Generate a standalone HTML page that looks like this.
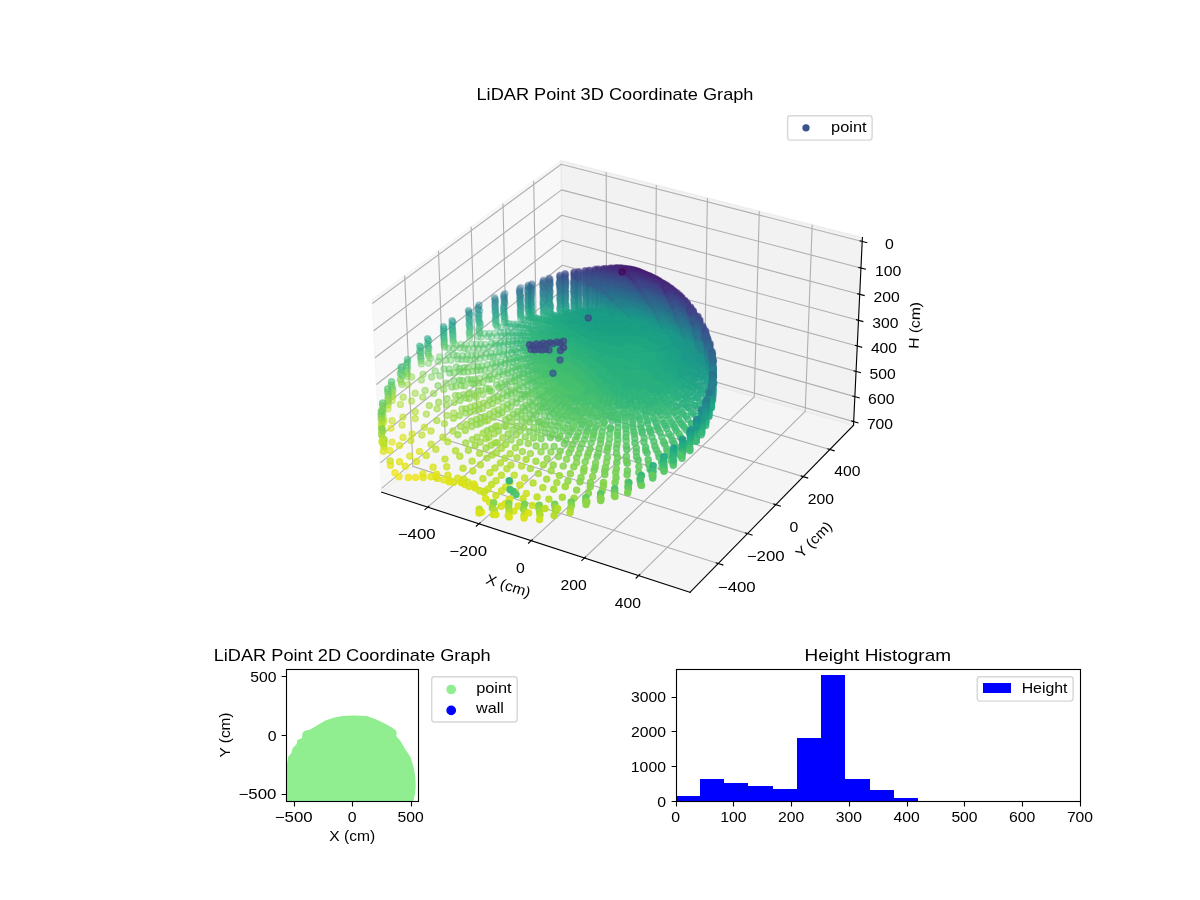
<!DOCTYPE html><html><head><meta charset="utf-8"><title>LiDAR</title><style>html,body{margin:0;padding:0;background:#fff}svg{display:block;will-change:transform}text{font-family:"Liberation Sans",sans-serif;fill:#000}
circle{stroke-width:1.39px}.c0{fill:#450457;stroke:#450457}.c1{fill:#460a5d;stroke:#460a5d}.c2{fill:#471164;stroke:#471164}.c3{fill:#48186a;stroke:#48186a}.c4{fill:#481d6f;stroke:#481d6f}.c5{fill:#482475;stroke:#482475}.c6{fill:#482979;stroke:#482979}.c7{fill:#472f7d;stroke:#472f7d}.c8{fill:#463480;stroke:#463480}.c9{fill:#443a83;stroke:#443a83}.c10{fill:#424086;stroke:#424086}.c11{fill:#404588;stroke:#404588}.c12{fill:#3e4a89;stroke:#3e4a89}.c13{fill:#3c4f8a;stroke:#3c4f8a}.c14{fill:#3a548c;stroke:#3a548c}.c15{fill:#38598c;stroke:#38598c}.c16{fill:#355e8d;stroke:#355e8d}.c17{fill:#33638d;stroke:#33638d}.c18{fill:#31678e;stroke:#31678e}.c19{fill:#2f6c8e;stroke:#2f6c8e}.c20{fill:#2d708e;stroke:#2d708e}.c21{fill:#2b748e;stroke:#2b748e}.c22{fill:#2a788e;stroke:#2a788e}.c23{fill:#287d8e;stroke:#287d8e}.c24{fill:#26828e;stroke:#26828e}.c25{fill:#25858e;stroke:#25858e}.c26{fill:#238a8d;stroke:#238a8d}.c27{fill:#218e8d;stroke:#218e8d}.c28{fill:#20928c;stroke:#20928c}.c29{fill:#1f968b;stroke:#1f968b}.c30{fill:#1e9b8a;stroke:#1e9b8a}.c31{fill:#1fa088;stroke:#1fa088}.c32{fill:#20a386;stroke:#20a386}.c33{fill:#22a884;stroke:#22a884}.c34{fill:#25ac82;stroke:#25ac82}.c35{fill:#2ab07f;stroke:#2ab07f}.c36{fill:#2fb47c;stroke:#2fb47c}.c37{fill:#37b878;stroke:#37b878}.c38{fill:#3fbc73;stroke:#3fbc73}.c39{fill:#46c06f;stroke:#46c06f}.c40{fill:#50c46a;stroke:#50c46a}.c41{fill:#58c765;stroke:#58c765}.c42{fill:#63cb5f;stroke:#63cb5f}.c43{fill:#6ccd5a;stroke:#6ccd5a}.c44{fill:#77d153;stroke:#77d153}.c45{fill:#84d44b;stroke:#84d44b}.c46{fill:#8ed645;stroke:#8ed645}.c47{fill:#9bd93c;stroke:#9bd93c}.c48{fill:#a5db36;stroke:#a5db36}.c49{fill:#b2dd2d;stroke:#b2dd2d}.c50{fill:#bddf26;stroke:#bddf26}.c51{fill:#cae11f;stroke:#cae11f}.c52{fill:#d8e219;stroke:#d8e219}.c53{fill:#e2e418;stroke:#e2e418}.c54{fill:#efe51c;stroke:#efe51c}.c55{fill:#f8e621;stroke:#f8e621}.a0{fill-opacity:0.329;stroke-opacity:0.329}.a1{fill-opacity:0.387;stroke-opacity:0.387}.a2{fill-opacity:0.446;stroke-opacity:0.446}.a3{fill-opacity:0.504;stroke-opacity:0.504}.a4{fill-opacity:0.562;stroke-opacity:0.562}.a5{fill-opacity:0.621;stroke-opacity:0.621}.a6{fill-opacity:0.679;stroke-opacity:0.679}.a7{fill-opacity:0.738;stroke-opacity:0.738}.a8{fill-opacity:0.796;stroke-opacity:0.796}.a9{fill-opacity:0.854;stroke-opacity:0.854}.a10{fill-opacity:0.912;stroke-opacity:0.912}.a11{fill-opacity:0.971;stroke-opacity:0.971}
</style></head><body><svg width="1200" height="900" viewBox="0 0 1200 900">
<rect width="1200" height="900" fill="#fff"/>
<polygon points="372.1,299.6 561.1,160.6 563.3,341.8 381.7,492.2" fill="#f2f2f2" fill-opacity="0.5" stroke="#f2f2f2" stroke-opacity="0.5" stroke-width="1.4" stroke-linejoin="round"/>
<polygon points="561.1,160.6 862.4,237.6 853.5,425.3 563.3,341.8" fill="#e6e6e6" fill-opacity="0.5" stroke="#e6e6e6" stroke-opacity="0.5" stroke-width="1.4" stroke-linejoin="round"/>
<polygon points="381.7,492.2 690.1,592.3 853.5,425.3 563.3,341.8" fill="#ececec" fill-opacity="0.5" stroke="#ececec" stroke-opacity="0.5" stroke-width="1.4" stroke-linejoin="round"/>
<g fill="none" stroke="#b0b0b0" stroke-width="1.11" stroke-linejoin="round">
<polyline points="427.7,507.1 606.7,354.3 606.2,172.1"/>
<polyline points="479,523.8 655.1,368.2 656.3,184.9"/>
<polyline points="531.2,540.7 704.3,382.4 707.4,198"/>
<polyline points="584.4,558 754.3,396.8 759.3,211.3"/>
<polyline points="638.6,575.6 805.2,411.4 812.2,224.8"/>
<polyline points="404.7,275.6 412.9,466.4 718.2,563.5"/>
<polyline points="438.5,250.8 445.3,439.5 747.5,533.6"/>
<polyline points="471.2,226.7 476.8,413.5 775.8,504.7"/>
<polyline points="503,203.4 507.3,388.2 803.2,476.6"/>
<polyline points="533.7,180.8 536.9,363.7 829.8,449.5"/>
<polyline points="862.2,241.5 561.2,164.3 372.3,303.5"/>
<polyline points="860.9,268 561.5,189.9 373.7,330.8"/>
<polyline points="859.7,294.3 561.8,215.3 375,357.8"/>
<polyline points="858.5,320.3 562.1,240.3 376.4,384.5"/>
<polyline points="857.2,346 562.4,265.2 377.7,410.9"/>
<polyline points="856,371.4 562.7,289.8 379,437"/>
<polyline points="854.8,396.6 563,314.1 380.3,462.9"/>
<polyline points="853.6,421.6 563.2,338.2 381.6,488.4"/>
</g>
<g fill="none" stroke="#000" stroke-width="1.11" stroke-linecap="square">
<polyline points="381.7,492.2 690.1,592.3"/>
<polyline points="853.5,425.3 690.1,592.3"/>
<polyline points="853.5,425.3 862.4,237.6"/>
<polyline stroke-linecap="butt" points="429.3,505.8 424.6,509.8"/>
<polyline stroke-linecap="butt" points="480.5,522.4 475.9,526.5"/>
<polyline stroke-linecap="butt" points="532.7,539.3 528.1,543.5"/>
<polyline stroke-linecap="butt" points="585.9,556.6 581.4,560.8"/>
<polyline stroke-linecap="butt" points="640.1,574.1 635.7,578.5"/>
<polyline stroke-linecap="butt" points="715.7,562.7 723.4,565.1"/>
<polyline stroke-linecap="butt" points="744.9,532.8 752.6,535.2"/>
<polyline stroke-linecap="butt" points="773.3,503.9 780.9,506.2"/>
<polyline stroke-linecap="butt" points="800.7,475.9 808.2,478.1"/>
<polyline stroke-linecap="butt" points="827.4,448.8 834.7,450.9"/>
<polyline stroke-linecap="butt" points="859.6,240.8 867.3,242.8"/>
<polyline stroke-linecap="butt" points="858.4,267.4 866,269.3"/>
<polyline stroke-linecap="butt" points="857.2,293.6 864.7,295.6"/>
<polyline stroke-linecap="butt" points="856,319.6 863.4,321.6"/>
<polyline stroke-linecap="butt" points="854.8,345.3 862.2,347.4"/>
<polyline stroke-linecap="butt" points="853.6,370.8 861,372.8"/>
<polyline stroke-linecap="butt" points="852.4,396 859.8,398"/>
<polyline stroke-linecap="butt" points="851.2,420.9 858.5,423"/>
</g>
<g class=a0><g class=c12><circle r=3.02 cx=560.2 cy=275.1 /><circle r=3.02 cx=565.4 cy=274.5 /></g><g class=c13><circle r=3.02 cx=559.6 cy=276.1 /><circle r=3.02 cx=564.8 cy=276.6 /><circle r=3.02 cx=565.3 cy=275.6 /><circle r=3.02 cx=574.4 cy=277.6 /><circle r=3.02 cx=574.2 cy=276.7 /></g><g class=c14><circle r=3.02 cx=549 cy=278.3 /><circle r=3.02 cx=560.7 cy=279.2 /><circle r=3.02 cx=565 cy=278.7 /><circle r=3.02 cx=560.1 cy=278.2 /><circle r=3.02 cx=559.9 cy=277.1 /><circle r=3.02 cx=565.1 cy=277.6 /><circle r=3.02 cx=574.3 cy=279.6 /><circle r=3.02 cx=574.4 cy=278.6 /><circle r=3.02 cx=578.1 cy=278.6 /><circle r=3.02 cx=578.5 cy=279.5 /></g><g class=c15><circle r=3.02 cx=549.7 cy=280.5 /><circle r=3.02 cx=543.4 cy=280.2 /><circle r=3.02 cx=560.1 cy=280.3 /><circle r=3.02 cx=550 cy=279.3 /><circle r=3.02 cx=565.6 cy=280.7 /><circle r=3.02 cx=565 cy=279.7 /><circle r=3.02 cx=574.4 cy=280.5 /><circle r=3.02 cx=578.8 cy=281.4 /><circle r=3.02 cx=578.9 cy=280.4 /><circle r=3.02 cx=585.5 cy=281.6 /><circle r=3.02 cx=585.4 cy=280.7 /></g><g class=c16><circle r=3.02 cx=549.4 cy=281.7 /><circle r=3.02 cx=565.5 cy=282.8 /><circle r=3.02 cx=543.4 cy=281.4 /><circle r=3.02 cx=560 cy=281.5 /><circle r=3.02 cx=573.6 cy=282.7 /><circle r=3.02 cx=565.7 cy=281.7 /><circle r=3.02 cx=578.4 cy=283.4 /><circle r=3.02 cx=573.8 cy=281.6 /><circle r=3.02 cx=578.7 cy=282.4 /><circle r=3.02 cx=585.4 cy=282.5 /><circle r=3.02 cx=585.9 cy=283.4 /><circle r=3.02 cx=589.7 cy=284.1 /></g><g class=c17><circle r=3.02 cx=549.8 cy=284.1 /><circle r=3.02 cx=559.4 cy=283.8 /><circle r=3.02 cx=543.6 cy=283.8 /><circle r=3.02 cx=559.2 cy=282.7 /><circle r=3.02 cx=542.9 cy=282.7 /><circle r=3.02 cx=550 cy=282.8 /><circle r=3.02 cx=565.8 cy=284.9 /><circle r=3.02 cx=565.3 cy=284 /><circle r=3.02 cx=531.9 cy=283.9 /><circle r=3.02 cx=528.3 cy=285.3 /><circle r=3.02 cx=574 cy=284.7 /><circle r=3.02 cx=573.9 cy=283.6 /><circle r=3.02 cx=578.5 cy=285.4 /><circle r=3.02 cx=578.9 cy=284.3 /><circle r=3.02 cx=585.5 cy=285.4 /><circle r=3.02 cx=585.5 cy=284.4 /><circle r=3.02 cx=586.3 cy=286.1 /><circle r=3.02 cx=589.7 cy=286.9 /><circle r=3.02 cx=589.4 cy=286 /><circle r=3.02 cx=589.3 cy=285.1 /><circle r=3.02 cx=595.6 cy=287.6 /><circle r=3.02 cx=595.1 cy=286 /><circle r=3.02 cx=598.1 cy=286.9 /><circle r=3.02 cx=595.5 cy=286.8 /></g><g class=c18><circle r=3.02 cx=542.7 cy=285.3 /><circle r=3.02 cx=560 cy=286 /><circle r=3.02 cx=559.6 cy=284.9 /><circle r=3.02 cx=565.2 cy=286.2 /><circle r=3.02 cx=550.2 cy=285.2 /><circle r=3.02 cx=528.1 cy=286.6 /><circle r=3.02 cx=574 cy=286.8 /><circle r=3.02 cx=531.9 cy=285.3 /><circle r=3.02 cx=520.6 cy=287.8 /><circle r=3.02 cx=578.6 cy=287.5 /><circle r=3.02 cx=574.5 cy=285.6 /><circle r=3.02 cx=578.5 cy=286.5 /><circle r=3.02 cx=585.9 cy=287.2 /><circle r=3.02 cx=589.9 cy=287.8 /><circle r=3.02 cx=595.2 cy=288.8 /><circle r=3.02 cx=598.3 cy=289.6 /><circle r=3.02 cx=598.2 cy=288.6 /></g><g class=c19><circle r=3.02 cx=548.9 cy=288 /><circle r=3.02 cx=560 cy=288.3 /><circle r=3.02 cx=549.3 cy=286.6 /><circle r=3.02 cx=543.3 cy=287.8 /><circle r=3.02 cx=565.6 cy=288.3 /><circle r=3.02 cx=565 cy=287.3 /><circle r=3.02 cx=543 cy=286.5 /><circle r=3.02 cx=560.1 cy=287.1 /><circle r=3.02 cx=531.8 cy=288.1 /><circle r=3.02 cx=530.4 cy=287 /><circle r=3.02 cx=528.3 cy=287.9 /><circle r=3.02 cx=519.5 cy=289.4 /><circle r=3.02 cx=574.2 cy=287.8 /><circle r=3.02 cx=578.5 cy=288.5 /><circle r=3.02 cx=585.5 cy=289.4 /><circle r=3.02 cx=585.6 cy=288.3 /><circle r=3.02 cx=589.2 cy=290 /><circle r=3.02 cx=589.3 cy=289 /><circle r=3.02 cx=595.4 cy=290.7 /><circle r=3.02 cx=596 cy=291.4 /><circle r=3.02 cx=595.4 cy=289.7 /><circle r=3.02 cx=598.7 cy=291.3 /><circle r=3.02 cx=598.4 cy=290.5 /><circle r=3.02 cx=603.2 cy=292.5 /><circle r=3.02 cx=603.2 cy=291.6 /><circle r=3.02 cx=603.2 cy=290.6 /><circle r=3.02 cx=605.9 cy=292.5 /></g><g class=c20><circle r=3.02 cx=549.5 cy=289 /><circle r=3.02 cx=560.4 cy=289.4 /><circle r=3.02 cx=565.4 cy=289.5 /><circle r=3.02 cx=543.9 cy=288.8 /><circle r=3.02 cx=531.6 cy=289.4 /><circle r=3.02 cx=574.1 cy=290 /><circle r=3.02 cx=528.8 cy=289.1 /><circle r=3.02 cx=573.8 cy=289 /><circle r=3.02 cx=578.6 cy=290.7 /><circle r=3.02 cx=519.7 cy=290.9 /><circle r=3.02 cx=578.3 cy=289.7 /><circle r=3.02 cx=586.1 cy=291.3 /><circle r=3.02 cx=585.6 cy=290.4 /><circle r=3.02 cx=589.4 cy=292.1 /><circle r=3.02 cx=589.6 cy=290.9 /><circle r=3.02 cx=595.5 cy=292.7 /><circle r=3.02 cx=598.4 cy=293.5 /><circle r=3.02 cx=598.4 cy=292.5 /><circle r=3.02 cx=603.3 cy=294.5 /><circle r=3.02 cx=603.4 cy=293.3 /><circle r=3.02 cx=605.9 cy=294.4 /><circle r=3.02 cx=605.9 cy=293.3 /></g><g class=c21><circle r=3.02 cx=550 cy=291.4 /><circle r=3.02 cx=543 cy=291.7 /><circle r=3.02 cx=564.8 cy=290.9 /><circle r=3.02 cx=549.6 cy=290.3 /><circle r=3.02 cx=559.9 cy=290.7 /><circle r=3.02 cx=531.4 cy=292.3 /><circle r=3.02 cx=543.3 cy=290.3 /><circle r=3.02 cx=560.8 cy=291.7 /><circle r=3.02 cx=565.4 cy=291.9 /><circle r=3.02 cx=527.2 cy=290.8 /><circle r=3.02 cx=531.3 cy=290.8 /><circle r=3.02 cx=528.2 cy=292.2 /><circle r=3.02 cx=574.2 cy=292.3 /><circle r=3.02 cx=573.9 cy=291.2 /><circle r=3.02 cx=578.5 cy=293 /><circle r=3.02 cx=519.4 cy=292.5 /><circle r=3.02 cx=578.9 cy=291.7 /><circle r=3.02 cx=585.9 cy=293.5 /><circle r=3.02 cx=585.8 cy=292.5 /><circle r=3.02 cx=589.2 cy=293.2 /><circle r=3.02 cx=595.1 cy=295 /><circle r=3.02 cx=595.4 cy=293.8 /><circle r=3.02 cx=598.3 cy=294.7 /><circle r=3.02 cx=598.6 cy=295.5 /><circle r=3.02 cx=504.8 cy=293.7 /><circle r=3.02 cx=603.1 cy=295.6 /><circle r=3.02 cx=605.9 cy=295.5 /><circle r=3.02 cx=605.9 cy=296.4 /><circle r=3.02 cx=610 cy=296.7 /></g><g class=c22><circle r=3.02 cx=543.1 cy=293 /><circle r=3.02 cx=560.6 cy=294.3 /><circle r=3.02 cx=565.6 cy=294.3 /><circle r=3.02 cx=550 cy=292.9 /><circle r=3.02 cx=560.1 cy=293.2 /><circle r=3.02 cx=565.2 cy=293.2 /><circle r=3.02 cx=574.1 cy=294.6 /><circle r=3.02 cx=531.7 cy=293.7 /><circle r=3.02 cx=528.5 cy=293.5 /><circle r=3.02 cx=573.9 cy=293.6 /><circle r=3.02 cx=579.2 cy=293.8 /><circle r=3.02 cx=520 cy=293.8 /><circle r=3.02 cx=585.9 cy=294.6 /><circle r=3.02 cx=589.1 cy=294.4 /><circle r=3.02 cx=589.5 cy=295.3 /><circle r=3.02 cx=595.4 cy=295.9 /><circle r=3.02 cx=503.7 cy=295.5 /><circle r=3.02 cx=598.5 cy=296.7 /><circle r=3.02 cx=598.6 cy=297.7 /><circle r=3.02 cx=494.6 cy=297.7 /><circle r=3.02 cx=603.4 cy=297.6 /><circle r=3.02 cx=603.4 cy=296.6 /><circle r=3.02 cx=605.8 cy=298.6 /><circle r=3.02 cx=606.1 cy=297.4 /><circle r=3.02 cx=610 cy=298.8 /><circle r=3.02 cx=610 cy=297.7 /><circle r=3.02 cx=612.1 cy=299.6 /></g><g class=c23><circle r=3.02 cx=549.6 cy=295.6 /><circle r=3.02 cx=543.7 cy=295.6 /><circle r=3.02 cx=549.2 cy=294.4 /><circle r=3.02 cx=560.4 cy=295.6 /><circle r=3.02 cx=543.2 cy=294.4 /><circle r=3.02 cx=565.6 cy=295.6 /><circle r=3.02 cx=531.2 cy=295.2 /><circle r=3.02 cx=574.9 cy=296.8 /><circle r=3.02 cx=528.6 cy=294.9 /><circle r=3.02 cx=574.4 cy=295.7 /><circle r=3.02 cx=578.5 cy=296.5 /><circle r=3.02 cx=520.4 cy=296.7 /><circle r=3.02 cx=578.4 cy=295.4 /><circle r=3.02 cx=520.3 cy=295.2 /><circle r=3.02 cx=585.6 cy=296 /><circle r=3.02 cx=586.1 cy=296.9 /><circle r=3.02 cx=589.5 cy=297.6 /><circle r=3.02 cx=589.6 cy=296.4 /><circle r=3.02 cx=595.3 cy=298.3 /><circle r=3.02 cx=504.5 cy=298.6 /><circle r=3.02 cx=595.4 cy=297.1 /><circle r=3.02 cx=503.9 cy=297.1 /><circle r=3.02 cx=598.5 cy=298.9 /><circle r=3.02 cx=603.5 cy=299.9 /><circle r=3.02 cx=603.3 cy=298.9 /><circle r=3.02 cx=605.8 cy=299.9 /><circle r=3.02 cx=495.2 cy=299.4 /><circle r=3.02 cx=609.8 cy=301 /><circle r=3.02 cx=610 cy=299.9 /><circle r=3.02 cx=612.1 cy=300.9 /><circle r=3.02 cx=615.6 cy=301.4 /></g><g class=c24><circle r=3.02 cx=549.3 cy=297.1 /><circle r=3.02 cx=542.9 cy=297.2 /><circle r=3.02 cx=559.6 cy=297.2 /><circle r=3.02 cx=565 cy=297 /><circle r=3.02 cx=565.9 cy=298 /><circle r=3.02 cx=528 cy=298.2 /><circle r=3.02 cx=531.4 cy=296.7 /><circle r=3.02 cx=528.2 cy=296.6 /><circle r=3.02 cx=519.7 cy=298.5 /><circle r=3.02 cx=578.5 cy=297.7 /><circle r=3.02 cx=585.8 cy=298.2 /><circle r=3.02 cx=586.5 cy=299 /><circle r=3.02 cx=589.8 cy=299.8 /><circle r=3.02 cx=589.6 cy=298.7 /><circle r=3.02 cx=504.1 cy=300.3 /><circle r=3.02 cx=595.3 cy=299.5 /><circle r=3.02 cx=598.5 cy=300.3 /><circle r=3.02 cx=495.1 cy=301 /><circle r=3.02 cx=603.6 cy=300.9 /><circle r=3.02 cx=605.8 cy=302.2 /><circle r=3.02 cx=605.9 cy=301 /><circle r=3.02 cx=610.1 cy=302.1 /><circle r=3.02 cx=611.9 cy=302.3 /><circle r=3.02 cx=615.6 cy=303.5 /><circle r=3.02 cx=615.6 cy=302.5 /></g><g class=c25><circle r=3.02 cx=549.8 cy=298.3 /><circle r=3.02 cx=531 cy=299.7 /><circle r=3.02 cx=543.9 cy=298.3 /><circle r=3.02 cx=565.4 cy=299.5 /><circle r=3.02 cx=527.7 cy=299.7 /><circle r=3.02 cx=560.5 cy=298.2 /><circle r=3.02 cx=574.3 cy=299.5 /><circle r=3.02 cx=531.2 cy=298.2 /><circle r=3.02 cx=578.8 cy=300.1 /><circle r=3.02 cx=573.9 cy=298.5 /><circle r=3.02 cx=578.6 cy=298.9 /><circle r=3.02 cx=520.4 cy=299.9 /><circle r=3.02 cx=586.1 cy=300.6 /><circle r=3.02 cx=589.6 cy=301.2 /><circle r=3.02 cx=504.4 cy=302 /><circle r=3.02 cx=595.1 cy=300.8 /><circle r=3.02 cx=595.6 cy=301.7 /><circle r=3.02 cx=598.4 cy=302.7 /><circle r=3.02 cx=598.4 cy=301.4 /><circle r=3.02 cx=603.2 cy=303.8 /><circle r=3.02 cx=495.3 cy=302.6 /><circle r=3.02 cx=605.9 cy=303.6 /><circle r=3.02 cx=603.3 cy=302.3 /><circle r=3.02 cx=610 cy=304.7 /><circle r=3.02 cx=611.9 cy=303.9 /><circle r=3.02 cx=610 cy=303.5 /><circle r=3.02 cx=612.2 cy=304.5 /><circle r=3.02 cx=615.7 cy=304.8 /><circle r=3.02 cx=617.5 cy=306.2 /><circle r=3.02 cx=617.4 cy=305.1 /><circle r=3.02 cx=620.5 cy=306.4 /><circle r=3.02 cx=620.4 cy=307.3 /><circle r=3.02 cx=478.1 cy=307.4 /><circle r=3.02 cx=622.1 cy=307 /></g><g class=c26><circle r=3.02 cx=560.1 cy=301 /><circle r=3.02 cx=565 cy=301 /><circle r=3.02 cx=549.6 cy=299.8 /><circle r=3.02 cx=531.2 cy=301.2 /><circle r=3.02 cx=543.7 cy=299.8 /><circle r=3.02 cx=560 cy=299.7 /><circle r=3.02 cx=528.3 cy=301.1 /><circle r=3.02 cx=573.9 cy=301 /><circle r=3.02 cx=578.8 cy=301.4 /><circle r=3.02 cx=520.2 cy=301.5 /><circle r=3.02 cx=586.1 cy=303.1 /><circle r=3.02 cx=585.7 cy=302 /><circle r=3.02 cx=589.5 cy=302.6 /><circle r=3.02 cx=595.5 cy=304.3 /><circle r=3.02 cx=504.8 cy=303.5 /><circle r=3.02 cx=595.4 cy=303.1 /><circle r=3.02 cx=598.3 cy=304.1 /><circle r=3.02 cx=603.3 cy=305.1 /><circle r=3.02 cx=495.1 cy=304.5 /><circle r=3.02 cx=606 cy=305.9 /><circle r=3.02 cx=606 cy=304.7 /><circle r=3.02 cx=609.9 cy=306.2 /><circle r=3.02 cx=612.3 cy=307 /><circle r=3.02 cx=612.2 cy=305.9 /><circle r=3.02 cx=615.6 cy=306.4 /><circle r=3.02 cx=617.5 cy=307.5 /><circle r=3.02 cx=478.1 cy=309.3 /><circle r=3.02 cx=620.5 cy=308.8 /><circle r=3.02 cx=622.2 cy=309.5 /><circle r=3.02 cx=622.2 cy=308 /></g><g class=c27><circle r=3.02 cx=542.9 cy=303.1 /><circle r=3.02 cx=549.4 cy=302.7 /><circle r=3.02 cx=548.8 cy=301.5 /><circle r=3.02 cx=565.6 cy=303.5 /><circle r=3.02 cx=560.6 cy=302.2 /><circle r=3.02 cx=543 cy=301.6 /><circle r=3.02 cx=565.3 cy=302.3 /><circle r=3.02 cx=528.2 cy=302.7 /><circle r=3.02 cx=531.6 cy=302.7 /><circle r=3.02 cx=574.4 cy=303.4 /><circle r=3.02 cx=574.2 cy=302.3 /><circle r=3.02 cx=579 cy=303.9 /><circle r=3.02 cx=520.2 cy=303.1 /><circle r=3.02 cx=578.6 cy=302.8 /><circle r=3.02 cx=585.6 cy=304.8 /><circle r=3.02 cx=589.3 cy=305.3 /><circle r=3.02 cx=589.5 cy=303.9 /><circle r=3.02 cx=595.4 cy=305.7 /><circle r=3.02 cx=503.7 cy=305.7 /><circle r=3.02 cx=598.4 cy=306.7 /><circle r=3.02 cx=598.3 cy=305.3 /><circle r=3.02 cx=603.3 cy=306.5 /><circle r=3.02 cx=606 cy=307.5 /><circle r=3.02 cx=494.9 cy=306.4 /><circle r=3.02 cx=612 cy=309 /><circle r=3.02 cx=610 cy=307.3 /><circle r=3.02 cx=615.4 cy=308 /><circle r=3.02 cx=617.5 cy=310.3 /><circle r=3.02 cx=615.7 cy=308.5 /><circle r=3.02 cx=617.5 cy=308.9 /><circle r=3.02 cx=479.6 cy=310.7 /><circle r=3.02 cx=622 cy=311.1 /><circle r=3.02 cx=620.6 cy=309.9 /><circle r=3.02 cx=624.8 cy=311.7 /></g><g class=c28><circle r=3.02 cx=549.7 cy=304.1 /><circle r=3.02 cx=560.4 cy=305.2 /><circle r=3.02 cx=543.6 cy=304.4 /><circle r=3.02 cx=565.7 cy=304.9 /><circle r=3.02 cx=560.5 cy=303.7 /><circle r=3.02 cx=531.2 cy=304.3 /><circle r=3.02 cx=573.9 cy=305.1 /><circle r=3.02 cx=527.9 cy=304.5 /><circle r=3.02 cx=520.6 cy=306.2 /><circle r=3.02 cx=578.8 cy=305.4 /><circle r=3.02 cx=520.3 cy=304.7 /><circle r=3.02 cx=586.1 cy=305.8 /><circle r=3.02 cx=589.5 cy=306.6 /><circle r=3.02 cx=504.1 cy=307.2 /><circle r=3.02 cx=595.1 cy=307.3 /><circle r=3.02 cx=598.5 cy=308 /><circle r=3.02 cx=603.4 cy=309.1 /><circle r=3.02 cx=603.4 cy=307.7 /><circle r=3.02 cx=606.1 cy=310 /><circle r=3.02 cx=495.5 cy=308.1 /><circle r=3.02 cx=605.9 cy=308.8 /><circle r=3.02 cx=610 cy=310.5 /><circle r=3.02 cx=609.9 cy=309.3 /><circle r=3.02 cx=612.1 cy=310.1 /><circle r=3.02 cx=615.7 cy=311.7 /><circle r=3.02 cx=615.6 cy=310.6 /><circle r=3.02 cx=617.6 cy=311.5 /><circle r=3.02 cx=620.5 cy=311.5 /><circle r=3.02 cx=622.2 cy=312.6 /><circle r=3.02 cx=622.2 cy=313.6 /><circle r=3.02 cx=626.4 cy=313.9 /><circle r=3.02 cx=625 cy=312.6 /><circle r=3.02 cx=626.3 cy=312.7 /><circle r=3.02 cx=628.8 cy=314.8 /></g><g class=c29><circle r=3.02 cx=550.6 cy=306.7 /><circle r=3.02 cx=560.2 cy=306.8 /><circle r=3.02 cx=543.2 cy=306 /><circle r=3.02 cx=531.9 cy=307.2 /><circle r=3.02 cx=550.3 cy=305.3 /><circle r=3.02 cx=528.8 cy=307.3 /><circle r=3.02 cx=531.2 cy=305.9 /><circle r=3.02 cx=566.1 cy=306.1 /><circle r=3.02 cx=528.1 cy=305.9 /><circle r=3.02 cx=579 cy=308.2 /><circle r=3.02 cx=574.4 cy=306.3 /><circle r=3.02 cx=521 cy=307.7 /><circle r=3.02 cx=578.6 cy=307 /><circle r=3.02 cx=585.6 cy=307.5 /><circle r=3.02 cx=589.7 cy=309.3 /><circle r=3.02 cx=589.8 cy=307.7 /><circle r=3.02 cx=595.6 cy=309.9 /><circle r=3.02 cx=595.4 cy=308.7 /><circle r=3.02 cx=503.6 cy=309.3 /><circle r=3.02 cx=598.5 cy=309.4 /><circle r=3.02 cx=603.3 cy=310.6 /><circle r=3.02 cx=495.4 cy=309.9 /><circle r=3.02 cx=609.8 cy=312.2 /><circle r=3.02 cx=612.1 cy=311.4 /><circle r=3.02 cx=615.7 cy=313.2 /><circle r=3.02 cx=617.5 cy=313.7 /><circle r=3.02 cx=479.1 cy=314.7 /><circle r=3.02 cx=620.5 cy=314.8 /><circle r=3.02 cx=620.6 cy=313.5 /><circle r=3.02 cx=477.7 cy=313.4 /><circle r=3.02 cx=624.8 cy=314.7 /><circle r=3.02 cx=626.3 cy=315.4 /><circle r=3.02 cx=628.9 cy=316.8 /><circle r=3.02 cx=469.1 cy=316.4 /></g><g class=c30><circle r=3.02 cx=559.7 cy=308.6 /><circle r=3.02 cx=550.1 cy=308.5 /><circle r=3.02 cx=566.2 cy=309.1 /><circle r=3.02 cx=543.9 cy=307.2 /><circle r=3.02 cx=574.1 cy=309.4 /><circle r=3.02 cx=528 cy=309.3 /><circle r=3.02 cx=565.8 cy=307.8 /><circle r=3.02 cx=578.8 cy=309.8 /><circle r=3.02 cx=520.3 cy=309.7 /><circle r=3.02 cx=574.2 cy=307.8 /><circle r=3.02 cx=585.9 cy=310.2 /><circle r=3.02 cx=585.4 cy=309.1 /><circle r=3.02 cx=580.7 cy=311.2 /><circle r=3.02 cx=586.5 cy=311 /><circle r=3.02 cx=589.9 cy=310.4 /><circle r=3.02 cx=581.8 cy=311.7 /><circle r=3.02 cx=578.5 cy=311.9 /><circle r=3.02 cx=587.8 cy=311.4 /><circle r=3.02 cx=503.8 cy=311 /><circle r=3.02 cx=590.8 cy=311 /><circle r=3.02 cx=582.8 cy=312.3 /><circle r=3.02 cx=591.2 cy=312 /><circle r=3.02 cx=595.7 cy=311 /><circle r=3.02 cx=598.4 cy=311 /><circle r=3.02 cx=588.7 cy=311.9 /><circle r=3.02 cx=598.9 cy=311.8 /><circle r=3.02 cx=596.3 cy=311.8 /><circle r=3.02 cx=583.8 cy=312.8 /><circle r=3.02 cx=603.2 cy=312.3 /><circle r=3.02 cx=495.9 cy=313.4 /><circle r=3.02 cx=589.8 cy=312.2 /><circle r=3.02 cx=495 cy=311.8 /><circle r=3.02 cx=599.4 cy=312.3 /><circle r=3.02 cx=592.5 cy=311.9 /><circle r=3.02 cx=585 cy=313.2 /><circle r=3.02 cx=605.8 cy=312.1 /><circle r=3.02 cx=603.6 cy=312.9 /><circle r=3.02 cx=593 cy=312.9 /><circle r=3.02 cx=597.5 cy=313.1 /><circle r=3.02 cx=590.3 cy=313 /><circle r=3.02 cx=597.2 cy=311.9 /><circle r=3.02 cx=585.8 cy=313.9 /><circle r=3.02 cx=600.1 cy=312.9 /><circle r=3.02 cx=593.5 cy=313.6 /><circle r=3.02 cx=600.6 cy=313.7 /><circle r=3.02 cx=598.2 cy=313.5 /><circle r=3.02 cx=604.3 cy=313.2 /><circle r=3.02 cx=591.2 cy=313.4 /><circle r=3.02 cx=606.5 cy=313.5 /><circle r=3.02 cx=583.7 cy=314.7 /><circle r=3.02 cx=604.6 cy=314.2 /><circle r=3.02 cx=610.2 cy=314.4 /><circle r=3.02 cx=610 cy=313.2 /><circle r=3.02 cx=591.7 cy=314.3 /><circle r=3.02 cx=598.6 cy=314.3 /><circle r=3.02 cx=592.3 cy=315.1 /><circle r=3.02 cx=601.1 cy=314.1 /><circle r=3.02 cx=612.3 cy=313.1 /><circle r=3.02 cx=587.6 cy=314.8 /><circle r=3.02 cx=599.4 cy=314.8 /><circle r=3.02 cx=607 cy=313.9 /><circle r=3.02 cx=612.2 cy=314.2 /><circle r=3.02 cx=615.6 cy=315.2 /><circle r=3.02 cx=605.1 cy=314.5 /><circle r=3.02 cx=595.5 cy=315.4 /><circle r=3.02 cx=588.3 cy=315.5 /><circle r=3.02 cx=612.6 cy=315 /><circle r=3.02 cx=607.5 cy=315.8 /><circle r=3.02 cx=610.6 cy=314.6 /><circle r=3.02 cx=605.6 cy=315.3 /><circle r=3.02 cx=601.7 cy=314.6 /><circle r=3.02 cx=607.2 cy=314.7 /><circle r=3.02 cx=610.9 cy=315.5 /><circle r=3.02 cx=599.9 cy=315.4 /><circle r=3.02 cx=593.2 cy=315.2 /><circle r=3.02 cx=593.9 cy=316.1 /><circle r=3.02 cx=596.2 cy=316 /><circle r=3.02 cx=617.6 cy=316.3 /><circle r=3.02 cx=617.6 cy=315.1 /><circle r=3.02 cx=612.7 cy=315.6 /><circle r=3.02 cx=602.4 cy=316.2 /><circle r=3.02 cx=612.9 cy=316.6 /><circle r=3.02 cx=615.9 cy=315.4 /><circle r=3.02 cx=616 cy=316.4 /><circle r=3.02 cx=611.1 cy=316 /><circle r=3.02 cx=594.5 cy=316.6 /><circle r=3.02 cx=608.2 cy=315.7 /><circle r=3.02 cx=611.4 cy=316.7 /><circle r=3.02 cx=608.2 cy=316.8 /><circle r=3.02 cx=601 cy=316.4 /><circle r=3.02 cx=606.5 cy=316.2 /><circle r=3.02 cx=616.1 cy=317 /><circle r=3.02 cx=603.2 cy=316.4 /><circle r=3.02 cx=597.4 cy=317.1 /><circle r=3.02 cx=620.6 cy=316 /><circle r=3.02 cx=620.6 cy=317.1 /><circle r=3.02 cx=613.3 cy=316.7 /><circle r=3.02 cx=611.8 cy=317.3 /><circle r=3.02 cx=606.9 cy=316.9 /><circle r=3.02 cx=591 cy=316.8 /><circle r=3.02 cx=603.6 cy=317.2 /><circle r=3.02 cx=622.1 cy=316.9 /><circle r=3.02 cx=617.8 cy=317.2 /><circle r=3.02 cx=598.1 cy=317.6 /><circle r=3.02 cx=601.5 cy=316.9 /><circle r=3.02 cx=608.7 cy=317.1 /><circle r=3.02 cx=607.1 cy=317.8 /><circle r=3.02 cx=622.2 cy=315.5 /><circle r=3.02 cx=596 cy=317.6 /><circle r=3.02 cx=616.2 cy=317.4 /><circle r=3.02 cx=613.5 cy=317.3 /><circle r=3.02 cx=624.9 cy=317.8 /><circle r=3.02 cx=604 cy=317.9 /><circle r=3.02 cx=613.7 cy=318.1 /><circle r=3.02 cx=620.6 cy=317.4 /><circle r=3.02 cx=624.8 cy=316.4 /><circle r=3.02 cx=598.9 cy=318 /><circle r=3.02 cx=609 cy=317.5 /><circle r=3.02 cx=592.4 cy=317.9 /><circle r=3.02 cx=604.4 cy=318.4 /><circle r=3.02 cx=611.9 cy=317.4 /><circle r=3.02 cx=626.3 cy=317.3 /><circle r=3.02 cx=599.4 cy=318.6 /><circle r=3.02 cx=613.8 cy=318.7 /><circle r=3.02 cx=597.2 cy=318.7 /><circle r=3.02 cx=620.7 cy=317.9 /><circle r=3.02 cx=616.6 cy=318.7 /><circle r=3.02 cx=597 cy=317.6 /><circle r=3.02 cx=628.9 cy=318.6 /><circle r=3.02 cx=593.3 cy=318.3 /><circle r=3.02 cx=624.7 cy=318.9 /><circle r=3.02 cx=612.6 cy=318.9 /><circle r=3.02 cx=622.2 cy=318.6 /><circle r=3.02 cx=603.1 cy=318.5 /><circle r=3.02 cx=605 cy=318.7 /><circle r=3.02 cx=598 cy=319.1 /><circle r=3.02 cx=614.1 cy=319.1 /><circle r=3.02 cx=468.9 cy=318.4 /><circle r=3.02 cx=608.5 cy=319.1 /><circle r=3.02 cx=610.1 cy=319.5 /><circle r=3.02 cx=600.3 cy=318.5 /><circle r=3.02 cx=598.7 cy=319.6 /><circle r=3.02 cx=612.8 cy=319.3 /><circle r=3.02 cx=630.1 cy=318 /><circle r=3.02 cx=622.2 cy=319 /><circle r=3.02 cx=604.1 cy=319.8 /><circle r=3.02 cx=628.4 cy=319.7 /><circle r=3.02 cx=608.8 cy=319.6 /><circle r=3.02 cx=624.6 cy=319.9 /><circle r=3.02 cx=613.1 cy=319.9 /><circle r=3.02 cx=600.8 cy=319.1 /><circle r=3.02 cx=629.7 cy=319.7 /><circle r=3.02 cx=632.4 cy=319.4 /><circle r=3.02 cx=625.8 cy=320 /><circle r=3.02 cx=601.2 cy=320 /></g><g class=c31><circle r=3.02 cx=543.7 cy=310.5 /><circle r=3.02 cx=550.1 cy=310 /><circle r=3.02 cx=560.2 cy=309.8 /><circle r=3.02 cx=565.6 cy=310.9 /><circle r=3.02 cx=531.5 cy=310.7 /><circle r=3.02 cx=543.5 cy=309 /><circle r=3.02 cx=528.2 cy=310.8 /><circle r=3.02 cx=530.9 cy=309.4 /><circle r=3.02 cx=574.5 cy=310.6 /><circle r=3.02 cx=575.7 cy=311.2 /><circle r=3.02 cx=520.6 cy=311.4 /><circle r=3.02 cx=579.6 cy=310.6 /><circle r=3.02 cx=569.7 cy=312.8 /><circle r=3.02 cx=577 cy=311.7 /><circle r=3.02 cx=571 cy=313.3 /><circle r=3.02 cx=504.1 cy=312.7 /><circle r=3.02 cx=572.3 cy=313.9 /><circle r=3.02 cx=573.6 cy=314.5 /><circle r=3.02 cx=579.5 cy=312.6 /><circle r=3.02 cx=496 cy=315.2 /><circle r=3.02 cx=580.4 cy=313.3 /><circle r=3.02 cx=574.9 cy=315 /><circle r=3.02 cx=581 cy=314.2 /><circle r=3.02 cx=605.8 cy=313.6 /><circle r=3.02 cx=575.9 cy=315.5 /><circle r=3.02 cx=582.4 cy=314.5 /><circle r=3.02 cx=586 cy=315.1 /><circle r=3.02 cx=594.1 cy=314.5 /><circle r=3.02 cx=594.5 cy=315.3 /><circle r=3.02 cx=584.4 cy=315.5 /><circle r=3.02 cx=578.8 cy=316.1 /><circle r=3.02 cx=579.2 cy=317.2 /><circle r=3.02 cx=576.8 cy=317.7 /><circle r=3.02 cx=580.5 cy=317.5 /><circle r=3.02 cx=585.2 cy=316 /><circle r=3.02 cx=601.8 cy=315.9 /><circle r=3.02 cx=605.7 cy=316.5 /><circle r=3.02 cx=581.3 cy=318.2 /><circle r=3.02 cx=577.7 cy=318.4 /><circle r=3.02 cx=589 cy=316.2 /><circle r=3.02 cx=589.4 cy=317.3 /><circle r=3.02 cx=600.3 cy=316.3 /><circle r=3.02 cx=586.4 cy=316.4 /><circle r=3.02 cx=596.5 cy=316.9 /><circle r=3.02 cx=582.4 cy=318.7 /><circle r=3.02 cx=587.1 cy=317.1 /><circle r=3.02 cx=578.9 cy=318.7 /><circle r=3.02 cx=478.5 cy=317 /><circle r=3.02 cx=617.6 cy=316.9 /><circle r=3.02 cx=580.1 cy=319.2 /><circle r=3.02 cx=587.8 cy=317.7 /><circle r=3.02 cx=595.1 cy=317.4 /><circle r=3.02 cx=622.2 cy=318.3 /><circle r=3.02 cx=617.9 cy=318.4 /><circle r=3.02 cx=591.5 cy=317.8 /><circle r=3.02 cx=601.8 cy=318 /><circle r=3.02 cx=583.9 cy=318.5 /><circle r=3.02 cx=588.9 cy=317.9 /><circle r=3.02 cx=616.3 cy=318.5 /><circle r=3.02 cx=590.1 cy=319.6 /><circle r=3.02 cx=585.5 cy=319.9 /><circle r=3.02 cx=585 cy=318.9 /><circle r=3.02 cx=624.7 cy=318.8 /><circle r=3.02 cx=626.4 cy=319 /><circle r=3.02 cx=589.8 cy=318.4 /><circle r=3.02 cx=607.3 cy=318.5 /><circle r=3.02 cx=602.3 cy=318.5 /><circle r=3.02 cx=622.2 cy=318.4 /><circle r=3.02 cx=609.4 cy=318.6 /><circle r=3.02 cx=618.1 cy=318.5 /><circle r=3.02 cx=612.1 cy=318.5 /><circle r=3.02 cx=618 cy=319.5 /><circle r=3.02 cx=593.5 cy=319.6 /><circle r=3.02 cx=620.7 cy=319.1 /><circle r=3.02 cx=609.6 cy=319.4 /><circle r=3.02 cx=586.6 cy=320.1 /><circle r=3.02 cx=607.9 cy=318.8 /><circle r=3.02 cx=626.1 cy=319.3 /><circle r=3.02 cx=591.3 cy=319.5 /><circle r=3.02 cx=469.7 cy=320.3 /><circle r=3.02 cx=630.1 cy=319.9 /><circle r=3.02 cx=628.7 cy=319.5 /><circle r=3.02 cx=605.2 cy=319.9 /><circle r=3.02 cx=583.8 cy=319.8 /><circle r=3.02 cx=591.7 cy=320.4 /><circle r=3.02 cx=620.7 cy=319.6 /><circle r=3.02 cx=616.7 cy=319.3 /><circle r=3.02 cx=587.6 cy=320.5 /><circle r=3.02 cx=594.4 cy=319.9 /><circle r=3.02 cx=603.6 cy=319.4 /><circle r=3.02 cx=584.7 cy=320.4 /><circle r=3.02 cx=588.1 cy=321.4 /><circle r=3.02 cx=626.1 cy=319.7 /><circle r=3.02 cx=616.8 cy=320.1 /><circle r=3.02 cx=618.2 cy=319.6 /><circle r=3.02 cx=622.1 cy=320.4 /><circle r=3.02 cx=585.5 cy=321 /><circle r=3.02 cx=614.3 cy=319.8 /><circle r=3.02 cx=616.9 cy=321.1 /><circle r=3.02 cx=618.3 cy=320.5 /><circle r=3.02 cx=620.8 cy=320.2 /><circle r=3.02 cx=599.1 cy=320.6 /><circle r=3.02 cx=586 cy=322 /><circle r=3.02 cx=605.9 cy=320.1 /><circle r=3.02 cx=610.4 cy=320.3 /><circle r=3.02 cx=606.2 cy=321.1 /><circle r=3.02 cx=595.3 cy=320.1 /><circle r=3.02 cx=614.8 cy=321.7 /><circle r=3.02 cx=614.5 cy=320.6 /><circle r=3.02 cx=592.9 cy=320.4 /><circle r=3.02 cx=633.6 cy=321.4 /><circle r=3.02 cx=593.5 cy=321.2 /><circle r=3.02 cx=613.2 cy=321.2 /><circle r=3.02 cx=609 cy=320.7 /><circle r=3.02 cx=599.6 cy=321.2 /><circle r=3.02 cx=628.2 cy=320.4 /><circle r=3.02 cx=581.6 cy=322.1 /><circle r=3.02 cx=604.6 cy=320.3 /><circle r=3.02 cx=629.6 cy=320.7 /><circle r=3.02 cx=589.5 cy=321.2 /></g><g class=c32><circle r=3.02 cx=543.3 cy=312.4 /><circle r=3.02 cx=549.7 cy=311.8 /><circle r=3.02 cx=560.4 cy=311.3 /><circle r=3.02 cx=529 cy=312.1 /><circle r=3.02 cx=562.2 cy=313.4 /><circle r=3.02 cx=532.5 cy=312 /><circle r=3.02 cx=566.8 cy=311.7 /><circle r=3.02 cx=520.4 cy=313.2 /><circle r=3.02 cx=567.8 cy=312.5 /><circle r=3.02 cx=564.5 cy=313.4 /><circle r=3.02 cx=565.6 cy=314.3 /><circle r=3.02 cx=504.3 cy=314.4 /><circle r=3.02 cx=567.3 cy=314.6 /><circle r=3.02 cx=568.7 cy=315.2 /><circle r=3.02 cx=570 cy=315.7 /><circle r=3.02 cx=563.8 cy=317.7 /><circle r=3.02 cx=571.6 cy=316.1 /><circle r=3.02 cx=565.5 cy=318 /><circle r=3.02 cx=576.6 cy=316.5 /><circle r=3.02 cx=572.9 cy=316.5 /><circle r=3.02 cx=566.9 cy=318.5 /><circle r=3.02 cx=574.2 cy=317 /><circle r=3.02 cx=568.5 cy=318.8 /><circle r=3.02 cx=575.4 cy=317.5 /><circle r=3.02 cx=570 cy=319.2 /><circle r=3.02 cx=571 cy=319.9 /><circle r=3.02 cx=567.8 cy=321 /><circle r=3.02 cx=567.5 cy=319.7 /><circle r=3.02 cx=478.9 cy=318.9 /><circle r=3.02 cx=573 cy=319.7 /><circle r=3.02 cx=569.6 cy=321.1 /><circle r=3.02 cx=574.6 cy=321.4 /><circle r=3.02 cx=570.6 cy=321.8 /><circle r=3.02 cx=580.5 cy=320.3 /><circle r=3.02 cx=574.2 cy=320.2 /><circle r=3.02 cx=572.2 cy=321.9 /><circle r=3.02 cx=581.9 cy=320.4 /><circle r=3.02 cx=576.4 cy=321.2 /><circle r=3.02 cx=469.4 cy=322.4 /><circle r=3.02 cx=573.4 cy=322.4 /><circle r=3.02 cx=577.6 cy=321.7 /><circle r=3.02 cx=574.8 cy=322.7 /><circle r=3.02 cx=578.8 cy=321.9 /><circle r=3.02 cx=579.8 cy=322.4 /><circle r=3.02 cx=576.8 cy=322.3 /><circle r=3.02 cx=570.3 cy=323.7 /><circle r=3.02 cx=577.6 cy=322.9 /><circle r=3.02 cx=572.1 cy=325.1 /><circle r=3.02 cx=579.6 cy=324.1 /></g><g class=c33><circle r=3.02 cx=550 cy=313.3 /><circle r=3.02 cx=543.7 cy=313.9 /><circle r=3.02 cx=551.4 cy=314.2 /><circle r=3.02 cx=560.4 cy=312.9 /><circle r=3.02 cx=531.6 cy=314.1 /><circle r=3.02 cx=529.4 cy=313.8 /><circle r=3.02 cx=553.2 cy=314.9 /><circle r=3.02 cx=520.6 cy=314.8 /><circle r=3.02 cx=554.9 cy=315.5 /><circle r=3.02 cx=556.7 cy=316 /><circle r=3.02 cx=552.6 cy=317.3 /><circle r=3.02 cx=503.8 cy=316.5 /><circle r=3.02 cx=554.6 cy=317.7 /><circle r=3.02 cx=559.2 cy=316.1 /><circle r=3.02 cx=556.3 cy=318.3 /><circle r=3.02 cx=560.8 cy=316.6 /><circle r=3.02 cx=562.2 cy=317.2 /><circle r=3.02 cx=495.7 cy=317.3 /><circle r=3.02 cx=558.4 cy=318.5 /><circle r=3.02 cx=559.9 cy=319.1 /><circle r=3.02 cx=561.4 cy=319.6 /><circle r=3.02 cx=563.3 cy=319.8 /><circle r=3.02 cx=554.1 cy=322.2 /><circle r=3.02 cx=565 cy=320.1 /><circle r=3.02 cx=478.7 cy=321 /><circle r=3.02 cx=557.6 cy=322.9 /><circle r=3.02 cx=559.7 cy=322.9 /><circle r=3.02 cx=561.1 cy=323.4 /><circle r=3.02 cx=559.2 cy=323.4 /><circle r=3.02 cx=561 cy=323.6 /><circle r=3.02 cx=563.6 cy=323 /><circle r=3.02 cx=469.1 cy=324.8 /><circle r=3.02 cx=562.8 cy=323.8 /><circle r=3.02 cx=565.2 cy=323.3 /><circle r=3.02 cx=563.9 cy=324.5 /><circle r=3.02 cx=566.6 cy=323.7 /><circle r=3.02 cx=567.9 cy=324.2 /><circle r=3.02 cx=566.8 cy=325.3 /><circle r=3.02 cx=566.3 cy=324.1 /><circle r=3.02 cx=561.9 cy=326.2 /><circle r=3.02 cx=568.2 cy=325.6 /><circle r=3.02 cx=570.8 cy=324.8 /><circle r=3.02 cx=565.3 cy=326.5 /><circle r=3.02 cx=570.3 cy=325.2 /></g><g class=c34><circle r=3.02 cx=530.7 cy=316.3 /><circle r=3.02 cx=544.4 cy=315.2 /><circle r=3.02 cx=528.3 cy=316 /><circle r=3.02 cx=546.6 cy=315.7 /><circle r=3.02 cx=535.1 cy=317.7 /><circle r=3.02 cx=521.2 cy=316.4 /><circle r=3.02 cx=548.3 cy=316.5 /><circle r=3.02 cx=537.5 cy=318.3 /><circle r=3.02 cx=550.2 cy=317.1 /><circle r=3.02 cx=539.6 cy=318.9 /><circle r=3.02 cx=505.1 cy=317.7 /><circle r=3.02 cx=539.1 cy=319.5 /><circle r=3.02 cx=541.8 cy=319.5 /><circle r=3.02 cx=496.3 cy=320.9 /><circle r=3.02 cx=495.2 cy=319.4 /><circle r=3.02 cx=543.6 cy=320.5 /><circle r=3.02 cx=546.8 cy=320 /><circle r=3.02 cx=548.2 cy=320.8 /><circle r=3.02 cx=547.2 cy=321.7 /><circle r=3.02 cx=546.5 cy=320.4 /><circle r=3.02 cx=550.4 cy=321.1 /><circle r=3.02 cx=549.7 cy=321.8 /><circle r=3.02 cx=542.6 cy=323.2 /><circle r=3.02 cx=552.6 cy=321.3 /><circle r=3.02 cx=551.3 cy=322.4 /><circle r=3.02 cx=553.8 cy=322.2 /><circle r=3.02 cx=544.9 cy=323.6 /><circle r=3.02 cx=546.8 cy=324 /><circle r=3.02 cx=555.9 cy=322.4 /><circle r=3.02 cx=554.8 cy=323.3 /><circle r=3.02 cx=479.6 cy=322.7 /><circle r=3.02 cx=557.5 cy=322.8 /><circle r=3.02 cx=549.5 cy=323.9 /><circle r=3.02 cx=550.9 cy=324.7 /><circle r=3.02 cx=553.3 cy=324.6 /><circle r=3.02 cx=554.7 cy=325.3 /><circle r=3.02 cx=469.9 cy=326.6 /><circle r=3.02 cx=556.3 cy=325.7 /><circle r=3.02 cx=558.1 cy=326 /><circle r=3.02 cx=547.1 cy=328.1 /><circle r=3.02 cx=559.9 cy=326.2 /><circle r=3.02 cx=563 cy=326.8 /><circle r=3.02 cx=552.9 cy=328.9 /><circle r=3.02 cx=566 cy=327.5 /><circle r=3.02 cx=554.8 cy=329.1 /><circle r=3.02 cx=556.2 cy=329.7 /><circle r=3.02 cx=547.5 cy=330.1 /></g><g class=c35><circle r=3.02 cx=532.4 cy=317.2 /><circle r=3.02 cx=529.1 cy=317.4 /><circle r=3.02 cx=520.6 cy=318.5 /><circle r=3.02 cx=531.3 cy=318.2 /><circle r=3.02 cx=523.3 cy=319.2 /><circle r=3.02 cx=533.2 cy=319.1 /><circle r=3.02 cx=525 cy=320.3 /><circle r=3.02 cx=535.7 cy=319.6 /><circle r=3.02 cx=528.6 cy=320.3 /><circle r=3.02 cx=504.5 cy=320.1 /><circle r=3.02 cx=531.1 cy=320.9 /><circle r=3.02 cx=542.9 cy=320.6 /><circle r=3.02 cx=540.6 cy=320.4 /><circle r=3.02 cx=533 cy=321.7 /><circle r=3.02 cx=537 cy=323 /><circle r=3.02 cx=536.3 cy=321.7 /><circle r=3.02 cx=520.5 cy=324.4 /><circle r=3.02 cx=523 cy=324.9 /><circle r=3.02 cx=540.4 cy=322.8 /><circle r=3.02 cx=526.1 cy=325.1 /><circle r=3.02 cx=528.1 cy=325.9 /><circle r=3.02 cx=480.3 cy=324.3 /><circle r=3.02 cx=530.7 cy=326.3 /><circle r=3.02 cx=533.3 cy=326.5 /><circle r=3.02 cx=536.6 cy=326.3 /><circle r=3.02 cx=538.3 cy=327.1 /><circle r=3.02 cx=528.7 cy=328.5 /><circle r=3.02 cx=540.7 cy=327.3 /><circle r=3.02 cx=530.9 cy=329 /><circle r=3.02 cx=542.6 cy=327.8 /><circle r=3.02 cx=544.3 cy=328.4 /><circle r=3.02 cx=535.6 cy=329.6 /><circle r=3.02 cx=538.1 cy=329.7 /><circle r=3.02 cx=548.4 cy=328.9 /><circle r=3.02 cx=541 cy=329.5 /><circle r=3.02 cx=550.2 cy=329.3 /><circle r=3.02 cx=542.6 cy=330.3 /><circle r=3.02 cx=545 cy=330.2 /></g><g class=c36><circle r=3.02 cx=504.3 cy=322 /><circle r=3.02 cx=506.5 cy=323.1 /><circle r=3.02 cx=509.4 cy=323.8 /><circle r=3.02 cx=495.5 cy=323.2 /><circle r=3.02 cx=513.3 cy=324.1 /><circle r=3.02 cx=516.7 cy=324.3 /><circle r=3.02 cx=506.9 cy=326.5 /><circle r=3.02 cx=510.4 cy=326.8 /><circle r=3.02 cx=479.5 cy=326.8 /><circle r=3.02 cx=515.2 cy=326.4 /><circle r=3.02 cx=517.4 cy=327.2 /><circle r=3.02 cx=520.3 cy=327.6 /><circle r=3.02 cx=523.3 cy=327.9 /><circle r=3.02 cx=525.7 cy=328.2 /><circle r=3.02 cx=470 cy=328.6 /><circle r=3.02 cx=532.9 cy=329.5 /><circle r=3.02 cx=515.2 cy=332.9 /><circle r=3.02 cx=518.3 cy=333.1 /><circle r=3.02 cx=523.9 cy=333.3 /><circle r=3.02 cx=521.5 cy=333.1 /></g><g class=c37><circle r=3.02 cx=496.1 cy=324.9 /><circle r=3.02 cx=497.5 cy=326.6 /><circle r=3.02 cx=500.8 cy=327.2 /><circle r=3.02 cx=478.7 cy=329.4 /><circle r=3.02 cx=469.5 cy=331 /><circle r=3.02 cx=500.6 cy=332.4 /><circle r=3.02 cx=504.1 cy=332.7 /><circle r=3.02 cx=508.4 cy=332.5 /><circle r=3.02 cx=511.5 cy=332.8 /><circle r=3.02 cx=505.9 cy=335.7 /><circle r=3.02 cx=509.2 cy=335.9 /></g><g class=c38><circle r=3.02 cx=479.2 cy=331.3 /><circle r=3.02 cx=494.8 cy=333.1 /><circle r=3.02 cx=469.3 cy=333.1 /><circle r=3.02 cx=497.3 cy=336.1 /><circle r=3.02 cx=501.4 cy=336 /><circle r=3.02 cx=452.9 cy=338.3 /></g><g class=c39><circle r=3.02 cx=480 cy=333.2 /><circle r=3.02 cx=484.5 cy=333.5 /><circle r=3.02 cx=489.3 cy=333.5 /><circle r=3.02 cx=470 cy=335.2 /><circle r=3.02 cx=478.1 cy=336.5 /><circle r=3.02 cx=487.7 cy=336.4 /><circle r=3.02 cx=491.4 cy=336.7 /><circle r=3.02 cx=453.2 cy=340.6 /></g><g class=c40><circle r=3.02 cx=469.7 cy=337.8 /><circle r=3.02 cx=481.1 cy=337.2 /><circle r=3.02 cx=453.3 cy=342.7 /><circle r=3.02 cx=471.7 cy=344.1 /><circle r=3.02 cx=476.4 cy=344.2 /></g><g class=c41><circle r=3.02 cx=455.3 cy=344.4 /><circle r=3.02 cx=461.1 cy=344.4 /><circle r=3.02 cx=466 cy=344.6 /></g></g><g class=a1><g class=c4><circle r=3.02 cx=624.9 cy=268.4 /><circle r=3.02 cx=624.9 cy=268.9 /></g><g class=c5><circle r=3.02 cx=615.4 cy=268.3 /><circle r=3.02 cx=615.5 cy=267.9 /><circle r=3.02 cx=617.4 cy=268.8 /><circle r=3.02 cx=617.4 cy=268.3 /><circle r=3.02 cx=617.4 cy=267.7 /><circle r=3.02 cx=620.5 cy=268.9 /><circle r=3.02 cx=620.4 cy=267.8 /><circle r=3.02 cx=620.5 cy=269.5 /><circle r=3.02 cx=620.4 cy=268.4 /><circle r=3.02 cx=622.2 cy=268 /><circle r=3.02 cx=622.1 cy=268.6 /><circle r=3.02 cx=622.2 cy=269.7 /><circle r=3.02 cx=624.9 cy=270.8 /><circle r=3.02 cx=624.8 cy=270.3 /><circle r=3.02 cx=622.1 cy=269.2 /><circle r=3.02 cx=626.4 cy=270.9 /><circle r=3.02 cx=624.8 cy=269.3 /><circle r=3.02 cx=624.8 cy=269.8 /><circle r=3.02 cx=626.4 cy=270.5 /><circle r=3.02 cx=626.3 cy=270 /></g><g class=c6><circle r=3.02 cx=609.9 cy=268.7 /><circle r=3.02 cx=609.9 cy=268.2 /><circle r=3.02 cx=611.8 cy=267.9 /><circle r=3.02 cx=612.2 cy=269.2 /><circle r=3.02 cx=612 cy=268.6 /><circle r=3.02 cx=615.5 cy=268.9 /><circle r=3.02 cx=615.7 cy=270 /><circle r=3.02 cx=615.6 cy=269.4 /><circle r=3.02 cx=617.4 cy=269.8 /><circle r=3.02 cx=617.4 cy=269.2 /><circle r=3.02 cx=617.5 cy=270.4 /><circle r=3.02 cx=620.5 cy=270.4 /><circle r=3.02 cx=620.6 cy=270.9 /><circle r=3.02 cx=622.1 cy=271.5 /><circle r=3.02 cx=620.5 cy=271.5 /><circle r=3.02 cx=620.6 cy=269.9 /><circle r=3.02 cx=622.1 cy=271 /><circle r=3.02 cx=622 cy=272.1 /><circle r=3.02 cx=622.3 cy=270.5 /><circle r=3.02 cx=622.2 cy=270 /><circle r=3.02 cx=624.8 cy=272.2 /><circle r=3.02 cx=625 cy=271.7 /><circle r=3.02 cx=626.4 cy=272.8 /><circle r=3.02 cx=626.3 cy=272.4 /><circle r=3.02 cx=624.8 cy=271.3 /><circle r=3.02 cx=626.4 cy=271.9 /><circle r=3.02 cx=629 cy=273.1 /><circle r=3.02 cx=626.4 cy=271.4 /><circle r=3.02 cx=628.9 cy=272.6 /></g><g class=c7><circle r=3.02 cx=598.2 cy=269 /><circle r=3.02 cx=603.1 cy=269.9 /><circle r=3.02 cx=603.2 cy=269.2 /><circle r=3.02 cx=605.8 cy=269.6 /><circle r=3.02 cx=606.1 cy=270.3 /><circle r=3.02 cx=605.6 cy=268.4 /><circle r=3.02 cx=603.4 cy=268.7 /><circle r=3.02 cx=605.9 cy=269.1 /><circle r=3.02 cx=609.7 cy=270.5 /><circle r=3.02 cx=611.8 cy=270.2 /><circle r=3.02 cx=612 cy=271.4 /><circle r=3.02 cx=610 cy=271.2 /><circle r=3.02 cx=609.8 cy=269.4 /><circle r=3.02 cx=612 cy=269.7 /><circle r=3.02 cx=612.1 cy=270.9 /><circle r=3.02 cx=615.6 cy=272.2 /><circle r=3.02 cx=612.3 cy=272.1 /><circle r=3.02 cx=615.5 cy=271.6 /><circle r=3.02 cx=610.4 cy=270.1 /><circle r=3.02 cx=615.4 cy=270.5 /><circle r=3.02 cx=615.6 cy=271.1 /><circle r=3.02 cx=617.5 cy=272.6 /><circle r=3.02 cx=617.3 cy=271.4 /><circle r=3.02 cx=617.6 cy=272 /><circle r=3.02 cx=617.4 cy=270.9 /><circle r=3.02 cx=622.1 cy=273.6 /><circle r=3.02 cx=622.1 cy=272.6 /><circle r=3.02 cx=620.6 cy=272 /><circle r=3.02 cx=624.9 cy=273.7 /><circle r=3.02 cx=625 cy=274.3 /><circle r=3.02 cx=626.4 cy=274.4 /><circle r=3.02 cx=626.4 cy=274.9 /><circle r=3.02 cx=625 cy=272.7 /><circle r=3.02 cx=624.9 cy=273.3 /><circle r=3.02 cx=626.4 cy=273.9 /><circle r=3.02 cx=626.3 cy=273.4 /><circle r=3.02 cx=628.8 cy=275.1 /><circle r=3.02 cx=629 cy=274.1 /><circle r=3.02 cx=628.7 cy=275.6 /><circle r=3.02 cx=628.9 cy=274.6 /><circle r=3.02 cx=630 cy=275.8 /><circle r=3.02 cx=630.3 cy=274.3 /><circle r=3.02 cx=630.1 cy=276.3 /><circle r=3.02 cx=630.2 cy=274.8 /></g><g class=c8><circle r=3.02 cx=589.7 cy=270.1 /><circle r=3.02 cx=595.4 cy=270.7 /><circle r=3.02 cx=595.2 cy=269.3 /><circle r=3.02 cx=595.2 cy=270.1 /><circle r=3.02 cx=598.4 cy=271 /><circle r=3.02 cx=598.1 cy=270.4 /><circle r=3.02 cx=598.2 cy=269.6 /><circle r=3.02 cx=603.3 cy=271.1 /><circle r=3.02 cx=603.3 cy=270.5 /><circle r=3.02 cx=605.9 cy=272.2 /><circle r=3.02 cx=605.8 cy=270.9 /><circle r=3.02 cx=606 cy=271.6 /><circle r=3.02 cx=609.9 cy=272.9 /><circle r=3.02 cx=609.9 cy=271.7 /><circle r=3.02 cx=609.9 cy=272.3 /><circle r=3.02 cx=612.3 cy=273.8 /><circle r=3.02 cx=612.2 cy=273.2 /><circle r=3.02 cx=612.1 cy=272.7 /><circle r=3.02 cx=617.5 cy=273.7 /><circle r=3.02 cx=615.6 cy=273.3 /><circle r=3.02 cx=615.5 cy=272.8 /><circle r=3.02 cx=617.4 cy=273.1 /><circle r=3.02 cx=617.5 cy=274.2 /><circle r=3.02 cx=615.8 cy=273.9 /><circle r=3.02 cx=620.5 cy=274.7 /><circle r=3.02 cx=620.5 cy=274.1 /><circle r=3.02 cx=622.2 cy=275.2 /><circle r=3.02 cx=622.1 cy=274.7 /><circle r=3.02 cx=620.4 cy=273.6 /><circle r=3.02 cx=622.1 cy=274.2 /><circle r=3.02 cx=626.4 cy=276.5 /><circle r=3.02 cx=624.9 cy=275.9 /><circle r=3.02 cx=624.9 cy=275.3 /><circle r=3.02 cx=624.9 cy=276.4 /><circle r=3.02 cx=626.4 cy=275.9 /><circle r=3.02 cx=624.9 cy=274.8 /><circle r=3.02 cx=626.4 cy=275.4 /><circle r=3.02 cx=628.9 cy=276.7 /><circle r=3.02 cx=628.8 cy=276.1 /><circle r=3.02 cx=630.1 cy=277.8 /><circle r=3.02 cx=630 cy=277.3 /><circle r=3.02 cx=630 cy=276.8 /><circle r=3.02 cx=632.6 cy=277.2 /><circle r=3.02 cx=632.5 cy=278.2 /><circle r=3.02 cx=634 cy=278.5 /><circle r=3.02 cx=633.8 cy=277.9 /><circle r=3.02 cx=633.6 cy=278.9 /></g><g class=c9><circle r=3.02 cx=585 cy=270.6 /><circle r=3.02 cx=589.2 cy=271.6 /><circle r=3.02 cx=589.2 cy=270.8 /><circle r=3.02 cx=595 cy=272.2 /><circle r=3.02 cx=595.4 cy=271.4 /><circle r=3.02 cx=598.5 cy=272.5 /><circle r=3.02 cx=602.7 cy=273.2 /><circle r=3.02 cx=598.6 cy=271.8 /><circle r=3.02 cx=603.1 cy=272.5 /><circle r=3.02 cx=605.8 cy=274.1 /><circle r=3.02 cx=603 cy=271.8 /><circle r=3.02 cx=605.9 cy=273.5 /><circle r=3.02 cx=606.2 cy=272.9 /><circle r=3.02 cx=610 cy=274.8 /><circle r=3.02 cx=610 cy=274.2 /><circle r=3.02 cx=612.1 cy=274.4 /><circle r=3.02 cx=610.1 cy=273.6 /><circle r=3.02 cx=612.2 cy=275 /><circle r=3.02 cx=615.6 cy=275.7 /><circle r=3.02 cx=615.5 cy=275.1 /><circle r=3.02 cx=615.6 cy=274.5 /><circle r=3.02 cx=617.4 cy=274.8 /><circle r=3.02 cx=617.4 cy=276 /><circle r=3.02 cx=617.5 cy=275.4 /><circle r=3.02 cx=620.4 cy=275.2 /><circle r=3.02 cx=620.5 cy=276.4 /><circle r=3.02 cx=620.6 cy=277.5 /><circle r=3.02 cx=622.2 cy=277.5 /><circle r=3.02 cx=622 cy=277 /><circle r=3.02 cx=620.5 cy=276.9 /><circle r=3.02 cx=620.5 cy=275.8 /><circle r=3.02 cx=622.2 cy=276.4 /><circle r=3.02 cx=622.1 cy=275.8 /><circle r=3.02 cx=624.9 cy=278.1 /><circle r=3.02 cx=624.8 cy=277.5 /><circle r=3.02 cx=626.2 cy=278.7 /><circle r=3.02 cx=624.9 cy=276.9 /><circle r=3.02 cx=626.4 cy=278.1 /><circle r=3.02 cx=626.4 cy=277 /><circle r=3.02 cx=628.7 cy=278.8 /><circle r=3.02 cx=626.4 cy=277.5 /><circle r=3.02 cx=628.8 cy=279.4 /><circle r=3.02 cx=629 cy=277.8 /><circle r=3.02 cx=629.1 cy=277.2 /><circle r=3.02 cx=628.8 cy=278.3 /><circle r=3.02 cx=630.4 cy=278.5 /><circle r=3.02 cx=630.1 cy=278.9 /><circle r=3.02 cx=633.9 cy=280.1 /><circle r=3.02 cx=632.6 cy=279.8 /><circle r=3.02 cx=632.2 cy=280.3 /><circle r=3.02 cx=632.5 cy=279.2 /><circle r=3.02 cx=633.6 cy=280.6 /><circle r=3.02 cx=633.6 cy=279.5 /><circle r=3.02 cx=637.5 cy=281.1 /></g><g class=c10><circle r=3.02 cx=574.1 cy=272.1 /><circle r=3.02 cx=578.5 cy=272.3 /><circle r=3.02 cx=578.7 cy=271.4 /><circle r=3.02 cx=585.6 cy=271.3 /><circle r=3.02 cx=585.8 cy=272.2 /><circle r=3.02 cx=586.4 cy=272.9 /><circle r=3.02 cx=589.4 cy=273.1 /><circle r=3.02 cx=589.3 cy=272.3 /><circle r=3.02 cx=595.2 cy=274.4 /><circle r=3.02 cx=598 cy=273.8 /><circle r=3.02 cx=595 cy=272.9 /><circle r=3.02 cx=595.4 cy=273.6 /><circle r=3.02 cx=598.3 cy=274.6 /><circle r=3.02 cx=598.3 cy=273.2 /><circle r=3.02 cx=603.2 cy=275.2 /><circle r=3.02 cx=603.2 cy=274.5 /><circle r=3.02 cx=603 cy=273.8 /><circle r=3.02 cx=605.9 cy=275.5 /><circle r=3.02 cx=606.1 cy=274.8 /><circle r=3.02 cx=609.9 cy=276.1 /><circle r=3.02 cx=609.7 cy=275.5 /><circle r=3.02 cx=612.1 cy=277 /><circle r=3.02 cx=612.1 cy=276.3 /><circle r=3.02 cx=612 cy=275.7 /><circle r=3.02 cx=617.4 cy=277.9 /><circle r=3.02 cx=615.6 cy=277.5 /><circle r=3.02 cx=615.5 cy=276.3 /><circle r=3.02 cx=615.6 cy=276.9 /><circle r=3.02 cx=617.5 cy=277.2 /><circle r=3.02 cx=617.4 cy=276.6 /><circle r=3.02 cx=622.1 cy=278.7 /><circle r=3.02 cx=620.7 cy=278.7 /><circle r=3.02 cx=622.3 cy=279.3 /><circle r=3.02 cx=622.1 cy=278.1 /><circle r=3.02 cx=624.9 cy=279.9 /><circle r=3.02 cx=624.9 cy=278.7 /><circle r=3.02 cx=624.8 cy=279.3 /><circle r=3.02 cx=626.4 cy=279.9 /><circle r=3.02 cx=626.4 cy=279.3 /><circle r=3.02 cx=628.9 cy=280.1 /><circle r=3.02 cx=628.9 cy=280.6 /><circle r=3.02 cx=628.8 cy=281.1 /><circle r=3.02 cx=630.3 cy=281.3 /><circle r=3.02 cx=630.3 cy=279.6 /><circle r=3.02 cx=630.2 cy=280.1 /><circle r=3.02 cx=630.1 cy=280.6 /><circle r=3.02 cx=632.6 cy=281.5 /><circle r=3.02 cx=632.5 cy=280.9 /><circle r=3.02 cx=633.7 cy=282.3 /><circle r=3.02 cx=633.7 cy=281.2 /><circle r=3.02 cx=633.6 cy=281.7 /><circle r=3.02 cx=635.9 cy=282.3 /><circle r=3.02 cx=637.3 cy=283.3 /><circle r=3.02 cx=637.4 cy=282.8 /><circle r=3.02 cx=636 cy=281.7 /><circle r=3.02 cx=637.2 cy=282.2 /></g><g class=c11><circle r=3.02 cx=574.3 cy=273.9 /><circle r=3.02 cx=574 cy=273 /><circle r=3.02 cx=578.7 cy=274.1 /><circle r=3.02 cx=578.4 cy=273.2 /><circle r=3.02 cx=585.4 cy=274.6 /><circle r=3.02 cx=585.4 cy=273.8 /><circle r=3.02 cx=589 cy=273.9 /><circle r=3.02 cx=589.5 cy=274.7 /><circle r=3.02 cx=595.3 cy=275.9 /><circle r=3.02 cx=595.1 cy=275.2 /><circle r=3.02 cx=598.4 cy=276 /><circle r=3.02 cx=598.3 cy=275.4 /><circle r=3.02 cx=605.5 cy=277.6 /><circle r=3.02 cx=603.4 cy=276.6 /><circle r=3.02 cx=603.1 cy=275.9 /><circle r=3.02 cx=605.5 cy=276.2 /><circle r=3.02 cx=609.4 cy=277.5 /><circle r=3.02 cx=606 cy=276.8 /><circle r=3.02 cx=610 cy=278.1 /><circle r=3.02 cx=611.8 cy=278.3 /><circle r=3.02 cx=609.7 cy=276.8 /><circle r=3.02 cx=612.2 cy=279 /><circle r=3.02 cx=610.2 cy=278.7 /><circle r=3.02 cx=612.2 cy=277.6 /><circle r=3.02 cx=615.5 cy=278.2 /><circle r=3.02 cx=617.5 cy=279.8 /><circle r=3.02 cx=615.7 cy=278.8 /><circle r=3.02 cx=615.6 cy=279.4 /><circle r=3.02 cx=617.5 cy=278.5 /><circle r=3.02 cx=617.5 cy=279.1 /><circle r=3.02 cx=620.5 cy=280.7 /><circle r=3.02 cx=620.5 cy=280 /><circle r=3.02 cx=620.5 cy=279.4 /><circle r=3.02 cx=622.2 cy=280 /><circle r=3.02 cx=622.2 cy=280.6 /><circle r=3.02 cx=622.1 cy=281.1 /><circle r=3.02 cx=624.8 cy=281.1 /><circle r=3.02 cx=624.9 cy=281.7 /><circle r=3.02 cx=624.8 cy=280.5 /><circle r=3.02 cx=626.5 cy=280.5 /><circle r=3.02 cx=626.4 cy=281.1 /><circle r=3.02 cx=628.9 cy=282.4 /><circle r=3.02 cx=626.2 cy=281.6 /><circle r=3.02 cx=628.7 cy=283 /><circle r=3.02 cx=630.2 cy=282.5 /><circle r=3.02 cx=630.1 cy=283.6 /><circle r=3.02 cx=628.8 cy=281.7 /><circle r=3.02 cx=632.6 cy=284 /><circle r=3.02 cx=630 cy=282.9 /><circle r=3.02 cx=630.1 cy=281.8 /><circle r=3.02 cx=632.5 cy=282.7 /><circle r=3.02 cx=634 cy=283.1 /><circle r=3.02 cx=632.5 cy=283.3 /><circle r=3.02 cx=633.7 cy=284.1 /><circle r=3.02 cx=633.5 cy=283.4 /><circle r=3.02 cx=635.9 cy=284.7 /><circle r=3.02 cx=636 cy=284.1 /><circle r=3.02 cx=635.9 cy=283.5 /><circle r=3.02 cx=637 cy=285 /><circle r=3.02 cx=637.1 cy=283.8 /><circle r=3.02 cx=637 cy=284.3 /></g><g class=c12><circle r=3.02 cx=565.1 cy=273.6 /><circle r=3.02 cx=574.2 cy=275.7 /><circle r=3.02 cx=574.4 cy=274.8 /><circle r=3.02 cx=578.4 cy=274.9 /><circle r=3.02 cx=578.9 cy=275.9 /><circle r=3.02 cx=589 cy=277.2 /><circle r=3.02 cx=585.7 cy=276.3 /><circle r=3.02 cx=585.9 cy=275.4 /><circle r=3.02 cx=589 cy=275.5 /><circle r=3.02 cx=589.3 cy=276.3 /><circle r=3.02 cx=594.8 cy=277.5 /><circle r=3.02 cx=598 cy=278.4 /><circle r=3.02 cx=595.2 cy=276.7 /><circle r=3.02 cx=598.5 cy=276.8 /><circle r=3.02 cx=598.5 cy=277.6 /><circle r=3.02 cx=603 cy=277.4 /><circle r=3.02 cx=603.1 cy=278.1 /><circle r=3.02 cx=603.4 cy=278.8 /><circle r=3.02 cx=605.6 cy=278.3 /><circle r=3.02 cx=606 cy=279.7 /><circle r=3.02 cx=606.1 cy=278.9 /><circle r=3.02 cx=609.9 cy=280.2 /><circle r=3.02 cx=609.9 cy=279.5 /><circle r=3.02 cx=611.9 cy=280.4 /><circle r=3.02 cx=612.4 cy=280.9 /><circle r=3.02 cx=612.1 cy=279.6 /><circle r=3.02 cx=615.5 cy=281.6 /><circle r=3.02 cx=615.5 cy=280.2 /><circle r=3.02 cx=617.4 cy=281.8 /><circle r=3.02 cx=615.7 cy=280.8 /><circle r=3.02 cx=617.5 cy=281.1 /><circle r=3.02 cx=617.5 cy=280.4 /><circle r=3.02 cx=620.4 cy=282.1 /><circle r=3.02 cx=620.5 cy=282.7 /><circle r=3.02 cx=620.5 cy=281.3 /><circle r=3.02 cx=622.2 cy=281.9 /><circle r=3.02 cx=622 cy=282.5 /><circle r=3.02 cx=625 cy=283 /><circle r=3.02 cx=624.9 cy=282.4 /><circle r=3.02 cx=626.2 cy=284.2 /><circle r=3.02 cx=626.4 cy=283 /><circle r=3.02 cx=626.3 cy=282.4 /><circle r=3.02 cx=626.3 cy=283.6 /><circle r=3.02 cx=628.8 cy=284.3 /><circle r=3.02 cx=628.8 cy=283.7 /><circle r=3.02 cx=630.1 cy=285 /><circle r=3.02 cx=630.2 cy=284.3 /><circle r=3.02 cx=632.5 cy=285.9 /><circle r=3.02 cx=632.5 cy=284.6 /><circle r=3.02 cx=633.7 cy=286 /><circle r=3.02 cx=633.7 cy=285.4 /><circle r=3.02 cx=633.8 cy=284.8 /><circle r=3.02 cx=635.8 cy=286.5 /><circle r=3.02 cx=635.6 cy=287 /><circle r=3.02 cx=637.1 cy=287 /><circle r=3.02 cx=635.4 cy=287.5 /><circle r=3.02 cx=635.9 cy=285.3 /><circle r=3.02 cx=635.7 cy=285.8 /><circle r=3.02 cx=637.2 cy=285.7 /><circle r=3.02 cx=637 cy=286.2 /><circle r=3.02 cx=639.4 cy=287.8 /><circle r=3.02 cx=639.3 cy=287.1 /><circle r=3.02 cx=640.2 cy=288.1 /><circle r=3.02 cx=640.2 cy=287.5 /></g><g class=c13><circle r=3.02 cx=578.5 cy=277.7 /><circle r=3.02 cx=578.9 cy=276.7 /><circle r=3.02 cx=585.5 cy=277.1 /><circle r=3.02 cx=585.9 cy=278 /><circle r=3.02 cx=589.5 cy=278.8 /><circle r=3.02 cx=589.7 cy=277.9 /><circle r=3.02 cx=594.9 cy=279.1 /><circle r=3.02 cx=595 cy=278.3 /><circle r=3.02 cx=598.5 cy=279.9 /><circle r=3.02 cx=598.7 cy=279.1 /><circle r=3.02 cx=603.1 cy=281.1 /><circle r=3.02 cx=603.3 cy=280.3 /><circle r=3.02 cx=603.1 cy=279.6 /><circle r=3.02 cx=606.1 cy=281.9 /><circle r=3.02 cx=605.9 cy=280.5 /><circle r=3.02 cx=606.1 cy=281.1 /><circle r=3.02 cx=609.8 cy=281.7 /><circle r=3.02 cx=612 cy=282.5 /><circle r=3.02 cx=610 cy=280.9 /><circle r=3.02 cx=611.8 cy=281.8 /><circle r=3.02 cx=617.6 cy=283.9 /><circle r=3.02 cx=615.6 cy=283.6 /><circle r=3.02 cx=617.5 cy=283.2 /><circle r=3.02 cx=615.7 cy=282.2 /><circle r=3.02 cx=615.7 cy=282.9 /><circle r=3.02 cx=617.4 cy=282.5 /><circle r=3.02 cx=620.4 cy=284.1 /><circle r=3.02 cx=620.5 cy=283.4 /><circle r=3.02 cx=622.1 cy=284.6 /><circle r=3.02 cx=622.1 cy=285.2 /><circle r=3.02 cx=622.2 cy=283.3 /><circle r=3.02 cx=622.1 cy=283.9 /><circle r=3.02 cx=625 cy=285.2 /><circle r=3.02 cx=624.9 cy=283.8 /><circle r=3.02 cx=626.4 cy=285.8 /><circle r=3.02 cx=625 cy=284.3 /><circle r=3.02 cx=626.3 cy=285 /><circle r=3.02 cx=628.8 cy=285.7 /><circle r=3.02 cx=630.2 cy=287.1 /><circle r=3.02 cx=628.9 cy=285.1 /><circle r=3.02 cx=628.7 cy=286.2 /><circle r=3.02 cx=630.1 cy=286.3 /><circle r=3.02 cx=630.2 cy=285.7 /><circle r=3.02 cx=630 cy=287.5 /><circle r=3.02 cx=632.4 cy=286.5 /><circle r=3.02 cx=633.7 cy=288.1 /><circle r=3.02 cx=633.7 cy=287.5 /><circle r=3.02 cx=632.3 cy=287 /><circle r=3.02 cx=633.8 cy=286.7 /><circle r=3.02 cx=635.9 cy=288.7 /><circle r=3.02 cx=637.2 cy=289.1 /><circle r=3.02 cx=637.3 cy=287.8 /><circle r=3.02 cx=636.7 cy=289.4 /><circle r=3.02 cx=637.1 cy=288.3 /><circle r=3.02 cx=640.2 cy=290.1 /><circle r=3.02 cx=639 cy=288.3 /><circle r=3.02 cx=638.9 cy=288.8 /><circle r=3.02 cx=640.3 cy=288.8 /><circle r=3.02 cx=639.9 cy=289.2 /><circle r=3.02 cx=642.4 cy=290.5 /><circle r=3.02 cx=642.4 cy=289.8 /><circle r=3.02 cx=643.6 cy=291.1 /></g><g class=c14><circle r=3.02 cx=585.6 cy=279.8 /><circle r=3.02 cx=585.6 cy=278.9 /><circle r=3.02 cx=589.6 cy=279.6 /><circle r=3.02 cx=590 cy=280.4 /><circle r=3.02 cx=595.2 cy=281.6 /><circle r=3.02 cx=595 cy=279.9 /><circle r=3.02 cx=595.4 cy=280.7 /><circle r=3.02 cx=598.6 cy=282.3 /><circle r=3.02 cx=598.4 cy=281.5 /><circle r=3.02 cx=598.3 cy=280.7 /><circle r=3.02 cx=603.5 cy=282.6 /><circle r=3.02 cx=603.1 cy=281.9 /><circle r=3.02 cx=605.9 cy=282.8 /><circle r=3.02 cx=606.1 cy=283.5 /><circle r=3.02 cx=609.9 cy=284 /><circle r=3.02 cx=611.9 cy=284.2 /><circle r=3.02 cx=610.2 cy=284.6 /><circle r=3.02 cx=609.8 cy=282.5 /><circle r=3.02 cx=612.2 cy=284.7 /><circle r=3.02 cx=609.9 cy=283.1 /><circle r=3.02 cx=612.2 cy=283.2 /><circle r=3.02 cx=615.6 cy=285.2 /><circle r=3.02 cx=617.4 cy=285.5 /><circle r=3.02 cx=615.6 cy=284.4 /><circle r=3.02 cx=617.5 cy=284.5 /><circle r=3.02 cx=620.5 cy=285.5 /><circle r=3.02 cx=620.6 cy=286.2 /><circle r=3.02 cx=620.5 cy=284.8 /><circle r=3.02 cx=622.1 cy=286.8 /><circle r=3.02 cx=622.1 cy=286.1 /><circle r=3.02 cx=624.8 cy=287.3 /><circle r=3.02 cx=624.9 cy=286 /><circle r=3.02 cx=625 cy=286.5 /><circle r=3.02 cx=626.3 cy=287.2 /><circle r=3.02 cx=628.8 cy=288.6 /><circle r=3.02 cx=626.2 cy=287.7 /><circle r=3.02 cx=626.3 cy=286.4 /><circle r=3.02 cx=630.2 cy=288.7 /><circle r=3.02 cx=628.9 cy=287.2 /><circle r=3.02 cx=630.1 cy=289.2 /><circle r=3.02 cx=628.6 cy=287.4 /><circle r=3.02 cx=632.4 cy=289.4 /><circle r=3.02 cx=632.2 cy=289.9 /><circle r=3.02 cx=632.4 cy=288.6 /><circle r=3.02 cx=632.5 cy=288 /><circle r=3.02 cx=633.9 cy=289 /><circle r=3.02 cx=633.8 cy=290.2 /><circle r=3.02 cx=633.5 cy=289.4 /><circle r=3.02 cx=636 cy=290.2 /><circle r=3.02 cx=635.8 cy=289.3 /><circle r=3.02 cx=636.9 cy=290.3 /><circle r=3.02 cx=639 cy=291.8 /><circle r=3.02 cx=639.1 cy=291.1 /><circle r=3.02 cx=639.2 cy=290.5 /><circle r=3.02 cx=639.4 cy=289.9 /><circle r=3.02 cx=640.1 cy=292.2 /><circle r=3.02 cx=640.2 cy=291.5 /><circle r=3.02 cx=640.2 cy=290.8 /><circle r=3.02 cx=642.4 cy=291.9 /><circle r=3.02 cx=642.5 cy=291.3 /><circle r=3.02 cx=642 cy=292.3 /><circle r=3.02 cx=643.4 cy=293.1 /><circle r=3.02 cx=643.6 cy=292.5 /></g><g class=c15><circle r=3.02 cx=589.6 cy=283.2 /><circle r=3.02 cx=589.7 cy=282.2 /><circle r=3.02 cx=589.7 cy=281.4 /><circle r=3.02 cx=598.2 cy=283.3 /><circle r=3.02 cx=595.5 cy=283.2 /><circle r=3.02 cx=595.4 cy=282.3 /><circle r=3.02 cx=603.3 cy=284.3 /><circle r=3.02 cx=602.9 cy=283.6 /><circle r=3.02 cx=606 cy=284.3 /><circle r=3.02 cx=609.9 cy=285.5 /><circle r=3.02 cx=611.9 cy=285.7 /><circle r=3.02 cx=615.7 cy=286.8 /><circle r=3.02 cx=615.7 cy=286 /><circle r=3.02 cx=615.6 cy=287.4 /><circle r=3.02 cx=617.4 cy=287.7 /><circle r=3.02 cx=617.5 cy=286.9 /><circle r=3.02 cx=617.3 cy=286.3 /><circle r=3.02 cx=620.5 cy=287.9 /><circle r=3.02 cx=620.5 cy=287 /><circle r=3.02 cx=622.1 cy=287.6 /><circle r=3.02 cx=624.9 cy=288.9 /><circle r=3.02 cx=622.1 cy=288.1 /><circle r=3.02 cx=624.8 cy=289.5 /><circle r=3.02 cx=626.5 cy=289.5 /><circle r=3.02 cx=624.7 cy=288 /><circle r=3.02 cx=628.9 cy=290.3 /><circle r=3.02 cx=626.2 cy=288.5 /><circle r=3.02 cx=628.8 cy=289.3 /><circle r=3.02 cx=628.7 cy=290.5 /><circle r=3.02 cx=630.1 cy=290.8 /><circle r=3.02 cx=630.2 cy=290 /><circle r=3.02 cx=630 cy=291.3 /><circle r=3.02 cx=632.4 cy=291.6 /><circle r=3.02 cx=632.5 cy=291 /><circle r=3.02 cx=633.8 cy=291.9 /><circle r=3.02 cx=633.8 cy=291.2 /><circle r=3.02 cx=636.1 cy=291.1 /><circle r=3.02 cx=637.3 cy=292.2 /><circle r=3.02 cx=635.9 cy=291.5 /><circle r=3.02 cx=637.2 cy=291.3 /><circle r=3.02 cx=636.8 cy=292.4 /><circle r=3.02 cx=638.9 cy=293.2 /><circle r=3.02 cx=639 cy=292.6 /><circle r=3.02 cx=640.4 cy=293.3 /><circle r=3.02 cx=640.1 cy=293.8 /><circle r=3.02 cx=642.1 cy=294.7 /><circle r=3.02 cx=642.2 cy=294 /><circle r=3.02 cx=643.2 cy=295.3 /><circle r=3.02 cx=643.4 cy=294.7 /><circle r=3.02 cx=642.2 cy=293.2 /><circle r=3.02 cx=643.2 cy=293.7 /><circle r=3.02 cx=645.2 cy=295.7 /><circle r=3.02 cx=645.2 cy=295 /></g><g class=c16><circle r=3.02 cx=595.2 cy=285 /><circle r=3.02 cx=598.1 cy=285.9 /><circle r=3.02 cx=595.5 cy=284.1 /><circle r=3.02 cx=598.2 cy=285 /><circle r=3.02 cx=598 cy=284.2 /><circle r=3.02 cx=603.1 cy=286.9 /><circle r=3.02 cx=603.2 cy=286 /><circle r=3.02 cx=603.3 cy=285.2 /><circle r=3.02 cx=605.7 cy=287 /><circle r=3.02 cx=605.7 cy=286.1 /><circle r=3.02 cx=605.5 cy=285.4 /><circle r=3.02 cx=609.7 cy=287.3 /><circle r=3.02 cx=609.9 cy=286.4 /><circle r=3.02 cx=612 cy=288.1 /><circle r=3.02 cx=611.8 cy=286.6 /><circle r=3.02 cx=610.2 cy=287.8 /><circle r=3.02 cx=612.2 cy=288.8 /><circle r=3.02 cx=612.2 cy=287.2 /><circle r=3.02 cx=615.6 cy=289.2 /><circle r=3.02 cx=615.6 cy=288.3 /><circle r=3.02 cx=617.4 cy=288.5 /><circle r=3.02 cx=617.5 cy=289.2 /><circle r=3.02 cx=620.4 cy=288.9 /><circle r=3.02 cx=620.5 cy=289.5 /><circle r=3.02 cx=622.2 cy=289.2 /><circle r=3.02 cx=624.9 cy=291.2 /><circle r=3.02 cx=622 cy=289.6 /><circle r=3.02 cx=624.8 cy=291.7 /><circle r=3.02 cx=626.3 cy=291.8 /><circle r=3.02 cx=624.9 cy=290.3 /><circle r=3.02 cx=626.3 cy=291 /><circle r=3.02 cx=626.4 cy=290.3 /><circle r=3.02 cx=628.8 cy=291.7 /><circle r=3.02 cx=628.7 cy=292.4 /><circle r=3.02 cx=630.2 cy=292.5 /><circle r=3.02 cx=632.5 cy=293.4 /><circle r=3.02 cx=632.4 cy=292.4 /><circle r=3.02 cx=633.7 cy=293.5 /><circle r=3.02 cx=633.7 cy=292.8 /><circle r=3.02 cx=636.1 cy=292.7 /><circle r=3.02 cx=635.7 cy=293.1 /><circle r=3.02 cx=637.1 cy=294.4 /><circle r=3.02 cx=637.1 cy=293.6 /><circle r=3.02 cx=639.2 cy=295.2 /><circle r=3.02 cx=640.5 cy=295.9 /><circle r=3.02 cx=639.2 cy=294.3 /><circle r=3.02 cx=640.4 cy=294.9 /><circle r=3.02 cx=643.6 cy=296.5 /><circle r=3.02 cx=642.1 cy=295.5 /><circle r=3.02 cx=645.4 cy=297.5 /><circle r=3.02 cx=646.5 cy=298.1 /><circle r=3.02 cx=645.2 cy=296.5 /><circle r=3.02 cx=646.9 cy=296.8 /><circle r=3.02 cx=646.6 cy=297.3 /></g><g class=c17><circle r=3.02 cx=598.4 cy=287.6 /><circle r=3.02 cx=603.2 cy=287.8 /><circle r=3.02 cx=603.5 cy=288.5 /><circle r=3.02 cx=605.8 cy=288.7 /><circle r=3.02 cx=605.8 cy=287.7 /><circle r=3.02 cx=610.1 cy=288.8 /><circle r=3.02 cx=610 cy=289.6 /><circle r=3.02 cx=615.5 cy=290.2 /><circle r=3.02 cx=617.4 cy=291.3 /><circle r=3.02 cx=617.5 cy=290.4 /><circle r=3.02 cx=615.7 cy=290.7 /><circle r=3.02 cx=622.1 cy=292.6 /><circle r=3.02 cx=620.6 cy=290.4 /><circle r=3.02 cx=620.6 cy=290.9 /><circle r=3.02 cx=622.2 cy=290.9 /><circle r=3.02 cx=622 cy=291.5 /><circle r=3.02 cx=624.8 cy=293 /><circle r=3.02 cx=626.2 cy=292.5 /><circle r=3.02 cx=628.8 cy=293.4 /><circle r=3.02 cx=628.8 cy=294.1 /><circle r=3.02 cx=630.2 cy=294.1 /><circle r=3.02 cx=630 cy=293.2 /><circle r=3.02 cx=632.2 cy=294.2 /><circle r=3.02 cx=632.2 cy=294.8 /><circle r=3.02 cx=633.6 cy=295.1 /><circle r=3.02 cx=633.6 cy=294.3 /><circle r=3.02 cx=636.1 cy=295.3 /><circle r=3.02 cx=636 cy=294.4 /><circle r=3.02 cx=635.8 cy=295.7 /><circle r=3.02 cx=637.2 cy=296.3 /><circle r=3.02 cx=637.2 cy=295.4 /><circle r=3.02 cx=638.9 cy=297.4 /><circle r=3.02 cx=639.2 cy=296 /><circle r=3.02 cx=638.9 cy=296.7 /><circle r=3.02 cx=640.3 cy=297.4 /><circle r=3.02 cx=640.3 cy=296.5 /><circle r=3.02 cx=642.2 cy=298.2 /><circle r=3.02 cx=642.3 cy=297.5 /><circle r=3.02 cx=643.3 cy=298.9 /><circle r=3.02 cx=642.4 cy=296.7 /><circle r=3.02 cx=643.2 cy=297.9 /><circle r=3.02 cx=643.5 cy=297.2 /><circle r=3.02 cx=645.5 cy=299.4 /><circle r=3.02 cx=645.7 cy=298.7 /><circle r=3.02 cx=646.6 cy=300 /><circle r=3.02 cx=646.9 cy=299.3 /><circle r=3.02 cx=648.7 cy=300.2 /><circle r=3.02 cx=648.8 cy=299.4 /></g><g class=c18><circle r=3.02 cx=603.1 cy=289.8 /><circle r=3.02 cx=605.8 cy=290.5 /><circle r=3.02 cx=606.2 cy=291.1 /><circle r=3.02 cx=609.9 cy=291.7 /><circle r=3.02 cx=605.8 cy=289.5 /><circle r=3.02 cx=611.9 cy=290.1 /><circle r=3.02 cx=612.2 cy=292.4 /><circle r=3.02 cx=612.2 cy=291.6 /><circle r=3.02 cx=611.9 cy=290.8 /><circle r=3.02 cx=610.2 cy=290.5 /><circle r=3.02 cx=615.6 cy=292.7 /><circle r=3.02 cx=615.6 cy=291.9 /><circle r=3.02 cx=617.5 cy=292.9 /><circle r=3.02 cx=617.4 cy=292 /><circle r=3.02 cx=620.5 cy=292.3 /><circle r=3.02 cx=620.5 cy=293.8 /><circle r=3.02 cx=622.2 cy=294.5 /><circle r=3.02 cx=622.1 cy=293.7 /><circle r=3.02 cx=620.6 cy=292.8 /><circle r=3.02 cx=624.8 cy=295.5 /><circle r=3.02 cx=625 cy=294.7 /><circle r=3.02 cx=624.9 cy=293.8 /><circle r=3.02 cx=626.5 cy=293.9 /><circle r=3.02 cx=626.4 cy=294.6 /><circle r=3.02 cx=628.8 cy=296.2 /><circle r=3.02 cx=630.2 cy=296.1 /><circle r=3.02 cx=628.8 cy=295.1 /><circle r=3.02 cx=630.2 cy=295.1 /><circle r=3.02 cx=632.5 cy=297 /><circle r=3.02 cx=633.7 cy=297.3 /><circle r=3.02 cx=632.3 cy=295.8 /><circle r=3.02 cx=633.5 cy=296.1 /><circle r=3.02 cx=635.8 cy=297.5 /><circle r=3.02 cx=637 cy=298 /><circle r=3.02 cx=635.8 cy=296.7 /><circle r=3.02 cx=637.1 cy=297.1 /><circle r=3.02 cx=639 cy=298.7 /><circle r=3.02 cx=640 cy=299 /><circle r=3.02 cx=640.2 cy=298.2 /><circle r=3.02 cx=642 cy=300 /><circle r=3.02 cx=643.5 cy=300.1 /><circle r=3.02 cx=642 cy=299 /><circle r=3.02 cx=642.9 cy=300.3 /><circle r=3.02 cx=645.5 cy=300.3 /><circle r=3.02 cx=646.5 cy=301.7 /><circle r=3.02 cx=646.3 cy=300.7 /><circle r=3.02 cx=648.3 cy=301.7 /><circle r=3.02 cx=648.5 cy=301 /><circle r=3.02 cx=649.7 cy=302.7 /><circle r=3.02 cx=649.5 cy=301.5 /></g><g class=c19><circle r=3.02 cx=610 cy=293.6 /><circle r=3.02 cx=610 cy=292.5 /><circle r=3.02 cx=612.2 cy=293.4 /><circle r=3.02 cx=617.5 cy=294.9 /><circle r=3.02 cx=615.7 cy=293.6 /><circle r=3.02 cx=617.4 cy=293.9 /><circle r=3.02 cx=620.5 cy=294.9 /><circle r=3.02 cx=622.1 cy=296.4 /><circle r=3.02 cx=620.6 cy=295.4 /><circle r=3.02 cx=622.1 cy=295.2 /><circle r=3.02 cx=626.4 cy=295.9 /><circle r=3.02 cx=624.9 cy=296.4 /><circle r=3.02 cx=626.4 cy=296.5 /><circle r=3.02 cx=626.4 cy=297.2 /><circle r=3.02 cx=628.8 cy=298.1 /><circle r=3.02 cx=628.9 cy=297.2 /><circle r=3.02 cx=630.1 cy=297.9 /><circle r=3.02 cx=630.2 cy=297 /><circle r=3.02 cx=632.4 cy=298.9 /><circle r=3.02 cx=633.7 cy=299.1 /><circle r=3.02 cx=632.4 cy=297.8 /><circle r=3.02 cx=633.7 cy=298.1 /><circle r=3.02 cx=635.9 cy=299.8 /><circle r=3.02 cx=635.8 cy=298.6 /><circle r=3.02 cx=637 cy=299.7 /><circle r=3.02 cx=637 cy=298.9 /><circle r=3.02 cx=638.9 cy=301.4 /><circle r=3.02 cx=638.8 cy=300.3 /><circle r=3.02 cx=638.9 cy=299.5 /><circle r=3.02 cx=640.3 cy=300.3 /><circle r=3.02 cx=640.2 cy=301.1 /><circle r=3.02 cx=642.2 cy=301.2 /><circle r=3.02 cx=643.6 cy=302 /><circle r=3.02 cx=645.3 cy=303.1 /><circle r=3.02 cx=645.9 cy=301.7 /><circle r=3.02 cx=645.4 cy=302.2 /><circle r=3.02 cx=646.7 cy=303 /><circle r=3.02 cx=648.4 cy=304.7 /><circle r=3.02 cx=648.3 cy=303.7 /><circle r=3.02 cx=648.5 cy=302.9 /><circle r=3.02 cx=649.8 cy=304.7 /><circle r=3.02 cx=650 cy=303.9 /><circle r=3.02 cx=651.6 cy=305.9 /><circle r=3.02 cx=651.8 cy=305 /><circle r=3.02 cx=652.1 cy=304.4 /></g><g class=c20><circle r=3.02 cx=609.8 cy=295.7 /><circle r=3.02 cx=610.1 cy=294.5 /><circle r=3.02 cx=612.1 cy=295.5 /><circle r=3.02 cx=612.1 cy=294.5 /><circle r=3.02 cx=615.5 cy=296.8 /><circle r=3.02 cx=615.7 cy=294.9 /><circle r=3.02 cx=615.6 cy=295.7 /><circle r=3.02 cx=617.5 cy=296.8 /><circle r=3.02 cx=617.4 cy=295.7 /><circle r=3.02 cx=620.4 cy=296.9 /><circle r=3.02 cx=620.5 cy=297.7 /><circle r=3.02 cx=622.2 cy=298.2 /><circle r=3.02 cx=622.3 cy=297.2 /><circle r=3.02 cx=624.8 cy=297.8 /><circle r=3.02 cx=624.8 cy=298.5 /><circle r=3.02 cx=626.4 cy=299.4 /><circle r=3.02 cx=626.3 cy=298.2 /><circle r=3.02 cx=628.8 cy=300.1 /><circle r=3.02 cx=628.7 cy=299.1 /><circle r=3.02 cx=630.1 cy=298.9 /><circle r=3.02 cx=629.9 cy=299.6 /><circle r=3.02 cx=632.4 cy=299.9 /><circle r=3.02 cx=633.6 cy=301.1 /><circle r=3.02 cx=633.9 cy=300.4 /><circle r=3.02 cx=635.9 cy=301.8 /><circle r=3.02 cx=635.9 cy=300.7 /><circle r=3.02 cx=636.9 cy=301.8 /><circle r=3.02 cx=637.1 cy=301.1 /><circle r=3.02 cx=638.9 cy=302.4 /><circle r=3.02 cx=640.2 cy=302.2 /><circle r=3.02 cx=639.9 cy=302.9 /><circle r=3.02 cx=642.6 cy=302.7 /><circle r=3.02 cx=642 cy=303.1 /><circle r=3.02 cx=643 cy=304.6 /><circle r=3.02 cx=643.2 cy=303.8 /><circle r=3.02 cx=643.4 cy=302.9 /><circle r=3.02 cx=645.3 cy=305.2 /><circle r=3.02 cx=645.3 cy=304.2 /><circle r=3.02 cx=646.4 cy=305.9 /><circle r=3.02 cx=646.3 cy=304.6 /><circle r=3.02 cx=646.6 cy=303.9 /><circle r=3.02 cx=648.8 cy=306.2 /><circle r=3.02 cx=649.8 cy=306.8 /><circle r=3.02 cx=649.4 cy=305.3 /><circle r=3.02 cx=651.8 cy=307.1 /><circle r=3.02 cx=653.4 cy=307.4 /><circle r=3.02 cx=652.8 cy=307.9 /></g><g class=c21><circle r=3.02 cx=612.1 cy=296.7 /><circle r=3.02 cx=612.1 cy=297.5 /><circle r=3.02 cx=612.2 cy=298.3 /><circle r=3.02 cx=615.5 cy=298.9 /><circle r=3.02 cx=617.4 cy=299.1 /><circle r=3.02 cx=615.6 cy=297.8 /><circle r=3.02 cx=617.5 cy=297.8 /><circle r=3.02 cx=620.5 cy=299.1 /><circle r=3.02 cx=620.6 cy=299.9 /><circle r=3.02 cx=622.2 cy=299.5 /><circle r=3.02 cx=622.2 cy=300.1 /><circle r=3.02 cx=624.8 cy=300 /><circle r=3.02 cx=626.3 cy=300.5 /><circle r=3.02 cx=630.1 cy=302.3 /><circle r=3.02 cx=628.8 cy=301.2 /><circle r=3.02 cx=630.1 cy=301.1 /><circle r=3.02 cx=632.5 cy=302.4 /><circle r=3.02 cx=633.8 cy=303.4 /><circle r=3.02 cx=632.5 cy=301.1 /><circle r=3.02 cx=633.6 cy=302 /><circle r=3.02 cx=635.6 cy=303.7 /><circle r=3.02 cx=635.7 cy=302.7 /><circle r=3.02 cx=637.1 cy=303.2 /><circle r=3.02 cx=638.9 cy=304.7 /><circle r=3.02 cx=639 cy=303.8 /><circle r=3.02 cx=640.3 cy=304.5 /><circle r=3.02 cx=642.2 cy=305.5 /><circle r=3.02 cx=643.3 cy=306.2 /><circle r=3.02 cx=642.2 cy=304.3 /><circle r=3.02 cx=645.4 cy=306.4 /><circle r=3.02 cx=646.5 cy=307.1 /><circle r=3.02 cx=648.5 cy=308.2 /><circle r=3.02 cx=648.5 cy=307 /><circle r=3.02 cx=649.1 cy=307.2 /><circle r=3.02 cx=652 cy=308.5 /><circle r=3.02 cx=651.5 cy=309 /><circle r=3.02 cx=652.7 cy=309.9 /><circle r=3.02 cx=652.9 cy=309.1 /><circle r=3.02 cx=654.7 cy=310.6 /><circle r=3.02 cx=655 cy=309.8 /><circle r=3.02 cx=655.3 cy=309.1 /></g><g class=c22><circle r=3.02 cx=615.7 cy=300 /><circle r=3.02 cx=617.4 cy=300.1 /><circle r=3.02 cx=620.5 cy=301 /><circle r=3.02 cx=622.2 cy=301.7 /><circle r=3.02 cx=624.7 cy=302 /><circle r=3.02 cx=626.4 cy=302.9 /><circle r=3.02 cx=624.8 cy=301 /><circle r=3.02 cx=626.3 cy=301.6 /><circle r=3.02 cx=628.8 cy=303.6 /><circle r=3.02 cx=628.8 cy=302.6 /><circle r=3.02 cx=630 cy=303.3 /><circle r=3.02 cx=632.3 cy=304.5 /><circle r=3.02 cx=633.8 cy=305 /><circle r=3.02 cx=632.4 cy=303.2 /><circle r=3.02 cx=636.1 cy=305.6 /><circle r=3.02 cx=637.2 cy=304.7 /><circle r=3.02 cx=636.9 cy=305.4 /><circle r=3.02 cx=639.1 cy=306.3 /><circle r=3.02 cx=640.4 cy=305.8 /><circle r=3.02 cx=640 cy=306.5 /><circle r=3.02 cx=642.2 cy=306.5 /><circle r=3.02 cx=643.3 cy=307.4 /><circle r=3.02 cx=645.3 cy=308.8 /><circle r=3.02 cx=645.6 cy=308 /><circle r=3.02 cx=646.6 cy=309.6 /><circle r=3.02 cx=646.8 cy=308.6 /><circle r=3.02 cx=648.4 cy=309.2 /><circle r=3.02 cx=650.2 cy=309.6 /><circle r=3.02 cx=649.7 cy=310.1 /><circle r=3.02 cx=651.6 cy=311.4 /><circle r=3.02 cx=651.8 cy=310.5 /><circle r=3.02 cx=654.8 cy=311.9 /><circle r=3.02 cx=656 cy=313 /><circle r=3.02 cx=656.3 cy=312.1 /></g><g class=c23><circle r=3.02 cx=617.6 cy=303.2 /><circle r=3.02 cx=617.6 cy=302.2 /><circle r=3.02 cx=617.4 cy=301.2 /><circle r=3.02 cx=620.4 cy=303.5 /><circle r=3.02 cx=622.3 cy=304.1 /><circle r=3.02 cx=620.5 cy=302.3 /><circle r=3.02 cx=622.2 cy=303 /><circle r=3.02 cx=625 cy=304.6 /><circle r=3.02 cx=624.8 cy=303.3 /><circle r=3.02 cx=626.4 cy=304.2 /><circle r=3.02 cx=628.9 cy=305 /><circle r=3.02 cx=630.2 cy=305.9 /><circle r=3.02 cx=630.2 cy=304.7 /><circle r=3.02 cx=632.4 cy=306.7 /><circle r=3.02 cx=632.4 cy=305.7 /><circle r=3.02 cx=633.6 cy=306.8 /><circle r=3.02 cx=633.6 cy=305.7 /><circle r=3.02 cx=635.8 cy=307.6 /><circle r=3.02 cx=635.8 cy=306.4 /><circle r=3.02 cx=636.9 cy=307.8 /><circle r=3.02 cx=637.1 cy=307 /><circle r=3.02 cx=639 cy=308.6 /><circle r=3.02 cx=639.1 cy=307.6 /><circle r=3.02 cx=640.1 cy=307.9 /><circle r=3.02 cx=642.2 cy=309 /><circle r=3.02 cx=642.4 cy=308.2 /><circle r=3.02 cx=643.5 cy=310 /><circle r=3.02 cx=643.6 cy=309 /><circle r=3.02 cx=645.2 cy=309.8 /><circle r=3.02 cx=646.3 cy=310.6 /><circle r=3.02 cx=648.5 cy=311.8 /><circle r=3.02 cx=648.8 cy=311 /><circle r=3.02 cx=649.7 cy=311.5 /><circle r=3.02 cx=651.7 cy=312.9 /><circle r=3.02 cx=653.4 cy=313.2 /><circle r=3.02 cx=652.8 cy=313.7 /><circle r=3.02 cx=653.4 cy=312 /><circle r=3.02 cx=654.6 cy=314.1 /><circle r=3.02 cx=655 cy=313.3 /><circle r=3.02 cx=656.1 cy=314.4 /><circle r=3.02 cx=658.2 cy=315.3 /></g><g class=c24><circle r=3.02 cx=479.1 cy=305.2 /><circle r=3.02 cx=620.5 cy=304.5 /><circle r=3.02 cx=622.2 cy=305.4 /><circle r=3.02 cx=624.9 cy=305.7 /><circle r=3.02 cx=626.3 cy=305.5 /><circle r=3.02 cx=628.7 cy=306.5 /><circle r=3.02 cx=630.2 cy=307.4 /><circle r=3.02 cx=632.2 cy=308 /><circle r=3.02 cx=633.6 cy=308.5 /><circle r=3.02 cx=635.9 cy=309 /><circle r=3.02 cx=637 cy=309.4 /><circle r=3.02 cx=639.2 cy=310.2 /><circle r=3.02 cx=640.2 cy=310.7 /><circle r=3.02 cx=640.3 cy=309.4 /><circle r=3.02 cx=642 cy=311.5 /><circle r=3.02 cx=642.3 cy=310.5 /><circle r=3.02 cx=643.2 cy=312.3 /><circle r=3.02 cx=643.3 cy=311.1 /><circle r=3.02 cx=645.3 cy=312.7 /><circle r=3.02 cx=645.4 cy=311.4 /><circle r=3.02 cx=646.3 cy=313 /><circle r=3.02 cx=646.6 cy=312.1 /><circle r=3.02 cx=648.7 cy=313.5 /><circle r=3.02 cx=649.4 cy=313.7 /><circle r=3.02 cx=649.7 cy=312.7 /><circle r=3.02 cx=651.6 cy=314 /><circle r=3.02 cx=653.1 cy=315.5 /><circle r=3.02 cx=654.5 cy=316.6 /><circle r=3.02 cx=654.5 cy=315.3 /><circle r=3.02 cx=655.9 cy=316.7 /><circle r=3.02 cx=656.2 cy=315.8 /><circle r=3.02 cx=657.8 cy=317.4 /><circle r=3.02 cx=657.9 cy=316.2 /></g><g class=c25><circle r=3.02 cx=624.7 cy=307.3 /><circle r=3.02 cx=624.9 cy=308.2 /><circle r=3.02 cx=626.4 cy=308.2 /><circle r=3.02 cx=626.4 cy=307 /><circle r=3.02 cx=628.9 cy=309.3 /><circle r=3.02 cx=628.8 cy=307.6 /><circle r=3.02 cx=630.3 cy=308.9 /><circle r=3.02 cx=632.5 cy=309.9 /><circle r=3.02 cx=633.4 cy=309.5 /><circle r=3.02 cx=637 cy=310.9 /><circle r=3.02 cx=635.7 cy=310.1 /><circle r=3.02 cx=639.1 cy=311.7 /><circle r=3.02 cx=639.9 cy=311.7 /><circle r=3.02 cx=642.2 cy=313.2 /><circle r=3.02 cx=645.3 cy=314.2 /><circle r=3.02 cx=646.5 cy=314.9 /><circle r=3.02 cx=648.7 cy=314.9 /><circle r=3.02 cx=649.8 cy=315.5 /><circle r=3.02 cx=651.9 cy=315.8 /><circle r=3.02 cx=652.7 cy=317.8 /><circle r=3.02 cx=652.9 cy=316.6 /><circle r=3.02 cx=654.7 cy=318.3 /><circle r=3.02 cx=656.2 cy=318.4 /><circle r=3.02 cx=658.1 cy=319.1 /><circle r=3.02 cx=659.5 cy=319.3 /></g><g class=c26><circle r=3.02 cx=624.9 cy=309.8 /><circle r=3.02 cx=626.4 cy=309.6 /><circle r=3.02 cx=628.8 cy=310.1 /><circle r=3.02 cx=630.1 cy=311.3 /><circle r=3.02 cx=630.1 cy=310.1 /><circle r=3.02 cx=468.5 cy=310.6 /><circle r=3.02 cx=632.4 cy=312.5 /><circle r=3.02 cx=632.4 cy=311.3 /><circle r=3.02 cx=633.6 cy=312.7 /><circle r=3.02 cx=633.7 cy=311.1 /><circle r=3.02 cx=635.8 cy=313.1 /><circle r=3.02 cx=635.8 cy=311.8 /><circle r=3.02 cx=636.9 cy=313.4 /><circle r=3.02 cx=637.1 cy=312.3 /><circle r=3.02 cx=639.2 cy=313.1 /><circle r=3.02 cx=640 cy=314.7 /><circle r=3.02 cx=640.1 cy=313.2 /><circle r=3.02 cx=642 cy=314.3 /><circle r=3.02 cx=643.2 cy=315.3 /><circle r=3.02 cx=643.5 cy=314.3 /><circle r=3.02 cx=645.4 cy=315.7 /><circle r=3.02 cx=646.3 cy=316 /><circle r=3.02 cx=648.2 cy=317.2 /><circle r=3.02 cx=648.5 cy=316.1 /><circle r=3.02 cx=649.8 cy=317 /><circle r=3.02 cx=651.7 cy=318.4 /><circle r=3.02 cx=651.9 cy=317.2 /><circle r=3.02 cx=654.8 cy=319.9 /><circle r=3.02 cx=656 cy=319.5 /><circle r=3.02 cx=657.8 cy=321.5 /><circle r=3.02 cx=657.8 cy=320.1 /><circle r=3.02 cx=659.5 cy=322.2 /><circle r=3.02 cx=659.6 cy=320.8 /><circle r=3.02 cx=661.5 cy=323.2 /><circle r=3.02 cx=661.6 cy=321.8 /></g><g class=c27><circle r=3.02 cx=626.2 cy=311 /><circle r=3.02 cx=628.7 cy=311.6 /><circle r=3.02 cx=630.2 cy=312.9 /><circle r=3.02 cx=468.9 cy=312.4 /><circle r=3.02 cx=632.2 cy=313.8 /><circle r=3.02 cx=633.6 cy=314.2 /><circle r=3.02 cx=635.7 cy=314.5 /><circle r=3.02 cx=636.9 cy=315 /><circle r=3.02 cx=639 cy=316 /><circle r=3.02 cx=639 cy=314.5 /><circle r=3.02 cx=640.2 cy=316.4 /><circle r=3.02 cx=642.1 cy=316.2 /><circle r=3.02 cx=643.5 cy=317.4 /><circle r=3.02 cx=645.2 cy=318.5 /><circle r=3.02 cx=645.3 cy=317.1 /><circle r=3.02 cx=646.7 cy=318.2 /><circle r=3.02 cx=648.4 cy=319 /><circle r=3.02 cx=649.6 cy=319.8 /><circle r=3.02 cx=649.8 cy=318.6 /><circle r=3.02 cx=651.9 cy=320.3 /><circle r=3.02 cx=653 cy=321.2 /><circle r=3.02 cx=653.1 cy=319.8 /><circle r=3.02 cx=656.1 cy=322.7 /><circle r=3.02 cx=654.3 cy=320.6 /><circle r=3.02 cx=656.1 cy=321.1 /><circle r=3.02 cx=658.2 cy=323.5 /><circle r=3.02 cx=658.9 cy=322.8 /><circle r=3.02 cx=661.7 cy=324.9 /></g><g class=c28><circle r=3.02 cx=628.8 cy=313.3 /><circle r=3.02 cx=630 cy=315.7 /><circle r=3.02 cx=469.7 cy=314.1 /><circle r=3.02 cx=630.1 cy=314.1 /><circle r=3.02 cx=632.4 cy=315.8 /><circle r=3.02 cx=633.7 cy=316.1 /><circle r=3.02 cx=635.8 cy=316.3 /><circle r=3.02 cx=636.7 cy=316.3 /><circle r=3.02 cx=639 cy=317.8 /><circle r=3.02 cx=640.2 cy=318.2 /><circle r=3.02 cx=642 cy=317.6 /><circle r=3.02 cx=643.3 cy=318.7 /><circle r=3.02 cx=645.2 cy=320.3 /><circle r=3.02 cx=646.3 cy=320.9 /><circle r=3.02 cx=452 cy=320.6 /><circle r=3.02 cx=646.4 cy=319.3 /><circle r=3.02 cx=648.3 cy=320.5 /><circle r=3.02 cx=649.3 cy=321 /><circle r=3.02 cx=651.5 cy=321.3 /><circle r=3.02 cx=652.8 cy=322.5 /><circle r=3.02 cx=654.9 cy=323.1 /><circle r=3.02 cx=656 cy=324.1 /><circle r=3.02 cx=657.7 cy=324.5 /><circle r=3.02 cx=659 cy=326.1 /><circle r=3.02 cx=659.5 cy=325.1 /><circle r=3.02 cx=661.2 cy=325.8 /><circle r=3.02 cx=663.1 cy=326.5 /></g><g class=c29><circle r=3.02 cx=633.7 cy=318 /><circle r=3.02 cx=632.4 cy=317.2 /><circle r=3.02 cx=635.8 cy=318.2 /><circle r=3.02 cx=637 cy=318.6 /><circle r=3.02 cx=639 cy=319.4 /><circle r=3.02 cx=640.2 cy=320.1 /><circle r=3.02 cx=642.2 cy=319.6 /><circle r=3.02 cx=643.5 cy=320.8 /><circle r=3.02 cx=645.3 cy=322 /><circle r=3.02 cx=452.9 cy=322.3 /><circle r=3.02 cx=648.4 cy=322.2 /><circle r=3.02 cx=649.7 cy=323.4 /><circle r=3.02 cx=651.9 cy=323.6 /><circle r=3.02 cx=652.6 cy=323.8 /><circle r=3.02 cx=654.4 cy=325.7 /><circle r=3.02 cx=654.8 cy=324.6 /><circle r=3.02 cx=656.1 cy=326 /><circle r=3.02 cx=658.3 cy=326.9 /><circle r=3.02 cx=661.2 cy=329 /><circle r=3.02 cx=661.3 cy=327.4 /><circle r=3.02 cx=663 cy=329.6 /><circle r=3.02 cx=663.3 cy=328.3 /></g><g class=c30><circle r=3.02 cx=633.6 cy=319.6 /><circle r=3.02 cx=601.9 cy=320.4 /><circle r=3.02 cx=610.9 cy=320.3 /><circle r=3.02 cx=605.1 cy=320.7 /><circle r=3.02 cx=618.5 cy=320.2 /><circle r=3.02 cx=631.9 cy=319.4 /><circle r=3.02 cx=602.5 cy=320.9 /><circle r=3.02 cx=635.5 cy=321.2 /><circle r=3.02 cx=631.8 cy=320.2 /><circle r=3.02 cx=631.6 cy=321.2 /><circle r=3.02 cx=605.7 cy=321.1 /><circle r=3.02 cx=620.9 cy=321.4 /><circle r=3.02 cx=635.7 cy=319.8 /><circle r=3.02 cx=636.9 cy=320.5 /><circle r=3.02 cx=636.7 cy=321.5 /><circle r=3.02 cx=625.5 cy=321.3 /><circle r=3.02 cx=615.5 cy=322.1 /><circle r=3.02 cx=638.7 cy=322.3 /><circle r=3.02 cx=610.8 cy=321.8 /><circle r=3.02 cx=635.9 cy=322.5 /><circle r=3.02 cx=635.9 cy=321.2 /><circle r=3.02 cx=640.1 cy=321.8 /><circle r=3.02 cx=638.7 cy=320.7 /><circle r=3.02 cx=615.7 cy=322.6 /><circle r=3.02 cx=639.7 cy=322.6 /><circle r=3.02 cx=638 cy=322.5 /><circle r=3.02 cx=639.1 cy=323.1 /><circle r=3.02 cx=642.2 cy=321.5 /><circle r=3.02 cx=599.3 cy=323.1 /><circle r=3.02 cx=643.4 cy=322.6 /><circle r=3.02 cx=641.3 cy=323.3 /><circle r=3.02 cx=642.9 cy=323.3 /><circle r=3.02 cx=642.1 cy=323.5 /><circle r=3.02 cx=645.1 cy=323.8 /><circle r=3.02 cx=640.5 cy=323.1 /><circle r=3.02 cx=637.4 cy=324.2 /><circle r=3.02 cx=644.3 cy=323.9 /><circle r=3.02 cx=641 cy=324.6 /><circle r=3.02 cx=646.6 cy=323.3 /><circle r=3.02 cx=643.7 cy=324.6 /><circle r=3.02 cx=646 cy=324 /><circle r=3.02 cx=634.9 cy=325 /><circle r=3.02 cx=648.6 cy=324.4 /><circle r=3.02 cx=648 cy=325.1 /><circle r=3.02 cx=649.8 cy=325.4 /><circle r=3.02 cx=646.9 cy=325 /><circle r=3.02 cx=648.8 cy=325.4 /><circle r=3.02 cx=646.2 cy=325.6 /><circle r=3.02 cx=648 cy=325.8 /><circle r=3.02 cx=647.2 cy=326.3 /><circle r=3.02 cx=651.3 cy=326 /><circle r=3.02 cx=650.7 cy=326.8 /><circle r=3.02 cx=646.5 cy=326.7 /><circle r=3.02 cx=651.8 cy=325.1 /><circle r=3.02 cx=652.3 cy=326.9 /><circle r=3.02 cx=649.5 cy=326.7 /><circle r=3.02 cx=652.8 cy=325.8 /><circle r=3.02 cx=651.4 cy=327.1 /><circle r=3.02 cx=648.7 cy=327 /><circle r=3.02 cx=647.8 cy=327.3 /><circle r=3.02 cx=654.4 cy=327.5 /><circle r=3.02 cx=650.2 cy=327 /><circle r=3.02 cx=652.4 cy=327.8 /><circle r=3.02 cx=656.3 cy=327.9 /><circle r=3.02 cx=652.9 cy=326.9 /><circle r=3.02 cx=443.5 cy=326.6 /><circle r=3.02 cx=655.1 cy=327.9 /><circle r=3.02 cx=651.4 cy=327.9 /><circle r=3.02 cx=654.2 cy=328.2 /><circle r=3.02 cx=648.9 cy=329.2 /><circle r=3.02 cx=651.4 cy=329.1 /><circle r=3.02 cx=657.9 cy=328 /><circle r=3.02 cx=650.6 cy=329.5 /><circle r=3.02 cx=657 cy=328.4 /><circle r=3.02 cx=654 cy=329.2 /><circle r=3.02 cx=658 cy=329.6 /><circle r=3.02 cx=659.4 cy=328.3 /><circle r=3.02 cx=657 cy=329.9 /><circle r=3.02 cx=658.5 cy=328.6 /><circle r=3.02 cx=655.1 cy=330.6 /><circle r=3.02 cx=655.7 cy=329.6 /><circle r=3.02 cx=653.9 cy=330.5 /><circle r=3.02 cx=659.8 cy=330.4 /><circle r=3.02 cx=660.7 cy=329.9 /><circle r=3.02 cx=658.5 cy=330.3 /><circle r=3.02 cx=656.8 cy=331.1 /><circle r=3.02 cx=657.5 cy=330.5 /><circle r=3.02 cx=655.5 cy=330.9 /><circle r=3.02 cx=662.7 cy=330.8 /><circle r=3.02 cx=660.7 cy=331.5 /><circle r=3.02 cx=659.6 cy=331.5 /><circle r=3.02 cx=661.3 cy=330.5 /><circle r=3.02 cx=658.5 cy=331.7 /><circle r=3.02 cx=661.9 cy=332.9 /><circle r=3.02 cx=664.7 cy=331.6 /><circle r=3.02 cx=665.6 cy=331.2 /><circle r=3.02 cx=663.1 cy=331.1 /><circle r=3.02 cx=660 cy=331.8 /></g><g class=c31><circle r=3.02 cx=620.8 cy=320.5 /><circle r=3.02 cx=624.4 cy=320.7 /><circle r=3.02 cx=596.1 cy=320.5 /><circle r=3.02 cx=622.2 cy=320.5 /><circle r=3.02 cx=606.6 cy=321.5 /><circle r=3.02 cx=613.4 cy=321.8 /><circle r=3.02 cx=625.8 cy=320.7 /><circle r=3.02 cx=587.5 cy=321.8 /><circle r=3.02 cx=579.2 cy=322.9 /><circle r=3.02 cx=609.5 cy=321.1 /><circle r=3.02 cx=588 cy=322.7 /><circle r=3.02 cx=594.6 cy=321.3 /><circle r=3.02 cx=629.3 cy=321.4 /><circle r=3.02 cx=590.3 cy=321.7 /><circle r=3.02 cx=627.9 cy=321 /><circle r=3.02 cx=596.6 cy=321.3 /><circle r=3.02 cx=615 cy=322 /><circle r=3.02 cx=620.9 cy=321.3 /><circle r=3.02 cx=582.6 cy=322.5 /><circle r=3.02 cx=600.4 cy=321.4 /><circle r=3.02 cx=595 cy=322.2 /><circle r=3.02 cx=633.2 cy=321.5 /><circle r=3.02 cx=600.8 cy=322.3 /><circle r=3.02 cx=611.2 cy=321.2 /><circle r=3.02 cx=624.3 cy=321.1 /><circle r=3.02 cx=627.9 cy=321.8 /><circle r=3.02 cx=625.6 cy=321.3 /><circle r=3.02 cx=609.8 cy=321.8 /><circle r=3.02 cx=607.2 cy=321.8 /><circle r=3.02 cx=611.4 cy=322.1 /><circle r=3.02 cx=591.2 cy=322.1 /><circle r=3.02 cx=597.4 cy=321.6 /><circle r=3.02 cx=622 cy=321.9 /><circle r=3.02 cx=601.3 cy=323 /><circle r=3.02 cx=613.8 cy=322 /><circle r=3.02 cx=627.7 cy=322.6 /><circle r=3.02 cx=602.9 cy=321.8 /><circle r=3.02 cx=618.6 cy=322 /><circle r=3.02 cx=617.3 cy=321.3 /><circle r=3.02 cx=629.2 cy=321.7 /><circle r=3.02 cx=591.8 cy=322.8 /><circle r=3.02 cx=614 cy=323 /><circle r=3.02 cx=624.4 cy=321.8 /><circle r=3.02 cx=605.9 cy=322.3 /><circle r=3.02 cx=596 cy=322.4 /><circle r=3.02 cx=635.3 cy=322.1 /><circle r=3.02 cx=620.9 cy=322.7 /><circle r=3.02 cx=615.1 cy=322.2 /><circle r=3.02 cx=603.3 cy=322.6 /><circle r=3.02 cx=624.2 cy=322.9 /><circle r=3.02 cx=598 cy=322.2 /><circle r=3.02 cx=632.7 cy=321.8 /><circle r=3.02 cx=610.2 cy=322.2 /><circle r=3.02 cx=596.3 cy=323.4 /><circle r=3.02 cx=622 cy=322.6 /><circle r=3.02 cx=625.4 cy=322.9 /><circle r=3.02 cx=617.5 cy=322.1 /><circle r=3.02 cx=631.3 cy=322 /><circle r=3.02 cx=629 cy=322.4 /><circle r=3.02 cx=606.3 cy=322.8 /><circle r=3.02 cx=592.7 cy=323.1 /><circle r=3.02 cx=611.7 cy=322.3 /><circle r=3.02 cx=607.8 cy=321.9 /><circle r=3.02 cx=632.5 cy=322.4 /><circle r=3.02 cx=593.2 cy=324 /><circle r=3.02 cx=618.8 cy=322.3 /><circle r=3.02 cx=599.1 cy=323.7 /><circle r=3.02 cx=617.6 cy=322.8 /><circle r=3.02 cx=631 cy=322.7 /><circle r=3.02 cx=627.5 cy=322.8 /><circle r=3.02 cx=612 cy=323.2 /><circle r=3.02 cx=597.2 cy=323.6 /><circle r=3.02 cx=602.1 cy=322.9 /><circle r=3.02 cx=614.3 cy=323.2 /><circle r=3.02 cx=608.1 cy=322.7 /><circle r=3.02 cx=598.8 cy=322.5 /><circle r=3.02 cx=634.7 cy=322.3 /><circle r=3.02 cx=590.4 cy=322.7 /><circle r=3.02 cx=617.7 cy=323.8 /><circle r=3.02 cx=603.9 cy=322.8 /><circle r=3.02 cx=634.5 cy=323.3 /><circle r=3.02 cx=628.7 cy=322.8 /><circle r=3.02 cx=591 cy=323.4 /><circle r=3.02 cx=604.5 cy=323.5 /><circle r=3.02 cx=618.9 cy=323 /><circle r=3.02 cx=632.1 cy=322.9 /><circle r=3.02 cx=602.7 cy=323.4 /><circle r=3.02 cx=630.4 cy=324.3 /><circle r=3.02 cx=611.2 cy=324.3 /><circle r=3.02 cx=607.3 cy=324 /><circle r=3.02 cx=630.6 cy=323.1 /><circle r=3.02 cx=614.6 cy=323.7 /><circle r=3.02 cx=611 cy=323.1 /><circle r=3.02 cx=607.1 cy=322.8 /><circle r=3.02 cx=619 cy=323.8 /><circle r=3.02 cx=624.2 cy=323.7 /><circle r=3.02 cx=608.6 cy=323 /><circle r=3.02 cx=594.4 cy=323.9 /><circle r=3.02 cx=625.1 cy=323.8 /><circle r=3.02 cx=631.8 cy=323.6 /><circle r=3.02 cx=628.4 cy=323.3 /><circle r=3.02 cx=622.1 cy=323.4 /><circle r=3.02 cx=620.9 cy=323.4 /><circle r=3.02 cx=642.4 cy=323.9 /><circle r=3.02 cx=605 cy=324 /><circle r=3.02 cx=635.4 cy=323.4 /><circle r=3.02 cx=627.2 cy=322.8 /><circle r=3.02 cx=621 cy=324.5 /><circle r=3.02 cx=627.1 cy=324 /><circle r=3.02 cx=609 cy=323.8 /><circle r=3.02 cx=612.4 cy=323.2 /><circle r=3.02 cx=603.7 cy=324.9 /><circle r=3.02 cx=587.8 cy=324.1 /><circle r=3.02 cx=624.1 cy=324.5 /><circle r=3.02 cx=633.9 cy=323.4 /><circle r=3.02 cx=600.7 cy=324.2 /><circle r=3.02 cx=598.2 cy=323.4 /><circle r=3.02 cx=615.8 cy=323.7 /><circle r=3.02 cx=603.3 cy=323.8 /><circle r=3.02 cx=607.9 cy=324.4 /><circle r=3.02 cx=612.7 cy=324.2 /><circle r=3.02 cx=600.1 cy=323.3 /><circle r=3.02 cx=595 cy=324.4 /><circle r=3.02 cx=618 cy=323.7 /><circle r=3.02 cx=599.2 cy=325.2 /><circle r=3.02 cx=637.7 cy=323.5 /><circle r=3.02 cx=628.1 cy=324 /><circle r=3.02 cx=619.1 cy=324.4 /><circle r=3.02 cx=633.7 cy=324.3 /><circle r=3.02 cx=628 cy=325 /><circle r=3.02 cx=635.1 cy=323.9 /><circle r=3.02 cx=609.4 cy=324.4 /><circle r=3.02 cx=625 cy=324.2 /><circle r=3.02 cx=627 cy=324.6 /><circle r=3.02 cx=622.1 cy=323.8 /><circle r=3.02 cx=608.3 cy=325.1 /><circle r=3.02 cx=638.8 cy=324.2 /><circle r=3.02 cx=589.4 cy=325.3 /><circle r=3.02 cx=611.6 cy=324.3 /><circle r=3.02 cx=618 cy=324.4 /><circle r=3.02 cx=594.1 cy=325.5 /><circle r=3.02 cx=616 cy=324.2 /><circle r=3.02 cx=614.9 cy=323.6 /><circle r=3.02 cx=637.2 cy=324 /><circle r=3.02 cx=595.9 cy=324.7 /><circle r=3.02 cx=593.6 cy=324.4 /><circle r=3.02 cx=621 cy=324.6 /><circle r=3.02 cx=619.2 cy=324.9 /><circle r=3.02 cx=634.5 cy=324.5 /><circle r=3.02 cx=601.7 cy=325.5 /><circle r=3.02 cx=626.7 cy=325.3 /><circle r=3.02 cx=615.1 cy=324.6 /><circle r=3.02 cx=611.9 cy=325.1 /><circle r=3.02 cx=586.9 cy=325 /><circle r=3.02 cx=601.4 cy=324.4 /><circle r=3.02 cx=630.1 cy=324 /><circle r=3.02 cx=631.3 cy=323.5 /><circle r=3.02 cx=596.5 cy=325.5 /><circle r=3.02 cx=605.6 cy=324 /><circle r=3.02 cx=606 cy=325 /><circle r=3.02 cx=587.4 cy=325.9 /><circle r=3.02 cx=631.1 cy=324.5 /><circle r=3.02 cx=604.4 cy=324.9 /><circle r=3.02 cx=623.8 cy=325.8 /><circle r=3.02 cx=616.4 cy=324.9 /><circle r=3.02 cx=609.8 cy=324.8 /><circle r=3.02 cx=600.3 cy=325 /><circle r=3.02 cx=613.4 cy=325.2 /><circle r=3.02 cx=623.9 cy=324.3 /><circle r=3.02 cx=622.1 cy=325.3 /><circle r=3.02 cx=608.8 cy=325.3 /><circle r=3.02 cx=605.1 cy=325.4 /><circle r=3.02 cx=629.8 cy=324.6 /><circle r=3.02 cx=636.7 cy=324.4 /><circle r=3.02 cx=595 cy=325.7 /><circle r=3.02 cx=619.3 cy=325.5 /><circle r=3.02 cx=638.2 cy=324.4 /><circle r=3.02 cx=606.6 cy=325.4 /><circle r=3.02 cx=618.3 cy=325.8 /><circle r=3.02 cx=633 cy=324 /><circle r=3.02 cx=610.2 cy=325.4 /><circle r=3.02 cx=612.3 cy=325.4 /><circle r=3.02 cx=627.8 cy=324.8 /><circle r=3.02 cx=615.4 cy=325 /><circle r=3.02 cx=613.6 cy=326 /><circle r=3.02 cx=621.1 cy=324.9 /><circle r=3.02 cx=634.1 cy=324.7 /><circle r=3.02 cx=626.6 cy=325.6 /><circle r=3.02 cx=640.4 cy=324.8 /><circle r=3.02 cx=630.5 cy=326 /><circle r=3.02 cx=630.7 cy=324.8 /><circle r=3.02 cx=601.4 cy=326.4 /><circle r=3.02 cx=621.1 cy=326 /><circle r=3.02 cx=616.5 cy=325.4 /><circle r=3.02 cx=623.7 cy=326.1 /><circle r=3.02 cx=636.2 cy=325 /><circle r=3.02 cx=624.6 cy=326.3 /><circle r=3.02 cx=610.6 cy=326.3 /><circle r=3.02 cx=618.3 cy=324.3 /><circle r=3.02 cx=609.3 cy=325.7 /><circle r=3.02 cx=641.9 cy=324.8 /><circle r=3.02 cx=632.4 cy=325.8 /><circle r=3.02 cx=607.1 cy=326 /><circle r=3.02 cx=605.6 cy=325.8 /><circle r=3.02 cx=637.2 cy=325.8 /><circle r=3.02 cx=600.9 cy=325.2 /><circle r=3.02 cx=615.6 cy=325.7 /><circle r=3.02 cx=595.9 cy=325.9 /><circle r=3.02 cx=602.8 cy=325.1 /><circle r=3.02 cx=619.3 cy=326 /><circle r=3.02 cx=627.6 cy=325.5 /><circle r=3.02 cx=597.6 cy=325.1 /><circle r=3.02 cx=618.5 cy=326.4 /><circle r=3.02 cx=629.3 cy=326.1 /><circle r=3.02 cx=629.4 cy=324.8 /><circle r=3.02 cx=612.7 cy=325.9 /><circle r=3.02 cx=613.9 cy=326.5 /><circle r=3.02 cx=596.6 cy=326.5 /><circle r=3.02 cx=633.4 cy=326.3 /><circle r=3.02 cx=590.3 cy=326.8 /><circle r=3.02 cx=622 cy=325.4 /><circle r=3.02 cx=601.9 cy=326.8 /><circle r=3.02 cx=603.4 cy=325.7 /><circle r=3.02 cx=633.6 cy=325 /><circle r=3.02 cx=451.9 cy=324.9 /><circle r=3.02 cx=627.3 cy=326.3 /><circle r=3.02 cx=598.4 cy=325.6 /><circle r=3.02 cx=609.7 cy=326.2 /><circle r=3.02 cx=606.2 cy=326.3 /><circle r=3.02 cx=635.6 cy=325.3 /><circle r=3.02 cx=636.7 cy=326.2 /><circle r=3.02 cx=615.9 cy=326.3 /><circle r=3.02 cx=603.7 cy=326.6 /><circle r=3.02 cx=619.5 cy=326.5 /><circle r=3.02 cx=621.1 cy=326.3 /><circle r=3.02 cx=623.7 cy=326.4 /><circle r=3.02 cx=599 cy=326.3 /><circle r=3.02 cx=629 cy=326.7 /><circle r=3.02 cx=639.6 cy=324.8 /><circle r=3.02 cx=627.2 cy=327.2 /><circle r=3.02 cx=629.8 cy=327.2 /><circle r=3.02 cx=610.2 cy=326.9 /><circle r=3.02 cx=607.7 cy=326 /><circle r=3.02 cx=643.5 cy=326 /><circle r=3.02 cx=608.1 cy=327 /><circle r=3.02 cx=626.2 cy=326.6 /><circle r=3.02 cx=624.6 cy=326.2 /><circle r=3.02 cx=613.3 cy=327.3 /><circle r=3.02 cx=616 cy=327 /><circle r=3.02 cx=598.2 cy=327.4 /><circle r=3.02 cx=614.3 cy=326.7 /><circle r=3.02 cx=597.7 cy=326.3 /><circle r=3.02 cx=645.6 cy=325.1 /><circle r=3.02 cx=613.1 cy=326 /><circle r=3.02 cx=640.5 cy=325.4 /><circle r=3.02 cx=599.7 cy=326.7 /><circle r=3.02 cx=604.5 cy=326.9 /><circle r=3.02 cx=639 cy=325.3 /><circle r=3.02 cx=623.6 cy=327 /><circle r=3.02 cx=638.5 cy=326.2 /><circle r=3.02 cx=630 cy=325.5 /><circle r=3.02 cx=636.1 cy=326.6 /><circle r=3.02 cx=631.9 cy=325.5 /><circle r=3.02 cx=602.9 cy=326.7 /><circle r=3.02 cx=632.8 cy=326.3 /><circle r=3.02 cx=622.1 cy=326.7 /><circle r=3.02 cx=631.5 cy=326.5 /><circle r=3.02 cx=618.7 cy=327.4 /><circle r=3.02 cx=619.6 cy=326.9 /><circle r=3.02 cx=629.5 cy=327.6 /><circle r=3.02 cx=611.2 cy=325.6 /><circle r=3.02 cx=594.2 cy=326.4 /><circle r=3.02 cx=645 cy=325.7 /><circle r=3.02 cx=632.4 cy=327.1 /><circle r=3.02 cx=635.6 cy=327.3 /><circle r=3.02 cx=611.5 cy=326.5 /><circle r=3.02 cx=639.5 cy=326.9 /><circle r=3.02 cx=621.2 cy=327.6 /><circle r=3.02 cx=638.1 cy=326.8 /><circle r=3.02 cx=611.8 cy=327.5 /><circle r=3.02 cx=639.8 cy=325.7 /><circle r=3.02 cx=642.5 cy=325.8 /><circle r=3.02 cx=628.4 cy=327.8 /><circle r=3.02 cx=643.8 cy=327 /><circle r=3.02 cx=626 cy=326.8 /><circle r=3.02 cx=610.7 cy=326.8 /><circle r=3.02 cx=625.9 cy=328 /><circle r=3.02 cx=632.1 cy=327.8 /><circle r=3.02 cx=600.6 cy=326.7 /><circle r=3.02 cx=644.1 cy=325.9 /><circle r=3.02 cx=604.1 cy=327.8 /><circle r=3.02 cx=641.5 cy=327.6 /><circle r=3.02 cx=603.6 cy=326.8 /><circle r=3.02 cx=613.8 cy=327.2 /><circle r=3.02 cx=614.7 cy=326.7 /><circle r=3.02 cx=631.2 cy=326.9 /><circle r=3.02 cx=629.1 cy=328 /><circle r=3.02 cx=607.5 cy=326.5 /><circle r=3.02 cx=595.9 cy=327.1 /><circle r=3.02 cx=601.8 cy=328.2 /><circle r=3.02 cx=633.8 cy=327.7 /><circle r=3.02 cx=637.4 cy=327 /><circle r=3.02 cx=635 cy=327.4 /><circle r=3.02 cx=616.5 cy=327.9 /><circle r=3.02 cx=609.2 cy=327.5 /><circle r=3.02 cx=605.7 cy=327.5 /><circle r=3.02 cx=638.7 cy=327 /><circle r=3.02 cx=596.4 cy=327.9 /><circle r=3.02 cx=623.5 cy=328.1 /><circle r=3.02 cx=630.8 cy=327.6 /><circle r=3.02 cx=641.8 cy=326 /><circle r=3.02 cx=614.1 cy=327.9 /><circle r=3.02 cx=604.8 cy=328.2 /><circle r=3.02 cx=642.9 cy=327.2 /><circle r=3.02 cx=634.5 cy=328.2 /><circle r=3.02 cx=636.9 cy=327.7 /><circle r=3.02 cx=621.2 cy=327.7 /><circle r=3.02 cx=631.5 cy=328.1 /><circle r=3.02 cx=628.1 cy=328 /><circle r=3.02 cx=606.2 cy=328.3 /><circle r=3.02 cx=594.9 cy=328.4 /><circle r=3.02 cx=626.5 cy=328.6 /><circle r=3.02 cx=615.2 cy=328.4 /><circle r=3.02 cx=628.9 cy=328.5 /><circle r=3.02 cx=638.1 cy=327.6 /><circle r=3.02 cx=642.3 cy=327.8 /><circle r=3.02 cx=619.8 cy=327.8 /><circle r=3.02 cx=630.5 cy=328.4 /><circle r=3.02 cx=611.6 cy=328 /><circle r=3.02 cx=640.7 cy=327.6 /><circle r=3.02 cx=633.3 cy=328.1 /><circle r=3.02 cx=605.3 cy=328.7 /><circle r=3.02 cx=602.6 cy=328.3 /><circle r=3.02 cx=645.2 cy=327.5 /><circle r=3.02 cx=634.1 cy=328.8 /><circle r=3.02 cx=645.9 cy=326.7 /><circle r=3.02 cx=627.8 cy=328.6 /><circle r=3.02 cx=636.2 cy=328.1 /><circle r=3.02 cx=621.2 cy=328.3 /><circle r=3.02 cx=619.1 cy=327.8 /><circle r=3.02 cx=617.7 cy=328.7 /><circle r=3.02 cx=606.9 cy=328.6 /><circle r=3.02 cx=601.2 cy=328.6 /><circle r=3.02 cx=610.2 cy=328.7 /><circle r=3.02 cx=616.9 cy=328 /><circle r=3.02 cx=625.5 cy=328.8 /><circle r=3.02 cx=603.1 cy=329 /><circle r=3.02 cx=628.5 cy=328.9 /><circle r=3.02 cx=639.5 cy=328.8 /><circle r=3.02 cx=635.8 cy=328.8 /><circle r=3.02 cx=630.1 cy=328.8 /><circle r=3.02 cx=613.1 cy=329 /><circle r=3.02 cx=626.2 cy=328.9 /><circle r=3.02 cx=619.2 cy=328.7 /><circle r=3.02 cx=602 cy=329.1 /><circle r=3.02 cx=646.2 cy=328.3 /><circle r=3.02 cx=640 cy=327.8 /><circle r=3.02 cx=609 cy=328.1 /><circle r=3.02 cx=641.4 cy=327.8 /><circle r=3.02 cx=644.4 cy=327.7 /><circle r=3.02 cx=637.4 cy=327.5 /><circle r=3.02 cx=614.8 cy=328.8 /><circle r=3.02 cx=623.3 cy=329 /><circle r=3.02 cx=633.5 cy=328.9 /><circle r=3.02 cx=607.6 cy=328.8 /><circle r=3.02 cx=617.9 cy=329.2 /><circle r=3.02 cx=610.7 cy=329 /><circle r=3.02 cx=615.8 cy=329.3 /><circle r=3.02 cx=613.6 cy=329.4 /><circle r=3.02 cx=640.8 cy=328.2 /><circle r=3.02 cx=632.3 cy=329 /><circle r=3.02 cx=640.2 cy=329.1 /><circle r=3.02 cx=643.7 cy=328.1 /><circle r=3.02 cx=617.3 cy=329.5 /><circle r=3.02 cx=626 cy=329.3 /><circle r=3.02 cx=645.4 cy=328.4 /><circle r=3.02 cx=606.2 cy=328.3 /><circle r=3.02 cx=608.1 cy=329.5 /><circle r=3.02 cx=602.7 cy=329.3 /><circle r=3.02 cx=627.5 cy=328.5 /><circle r=3.02 cx=636.2 cy=328.7 /><circle r=3.02 cx=611.2 cy=329.5 /><circle r=3.02 cx=642.4 cy=329.4 /><circle r=3.02 cx=606.9 cy=328.8 /><circle r=3.02 cx=635.8 cy=329.6 /><circle r=3.02 cx=642.8 cy=328.4 /><circle r=3.02 cx=600.4 cy=329.7 /><circle r=3.02 cx=631.8 cy=329.5 /><circle r=3.02 cx=638.5 cy=328.3 /><circle r=3.02 cx=604.7 cy=329.2 /><circle r=3.02 cx=613.9 cy=329.9 /><circle r=3.02 cx=612.9 cy=329.3 /><circle r=3.02 cx=603.6 cy=329.5 /><circle r=3.02 cx=644.5 cy=328.5 /><circle r=3.02 cx=637.9 cy=329 /><circle r=3.02 cx=615.5 cy=330 /><circle r=3.02 cx=629.3 cy=329.5 /><circle r=3.02 cx=599.1 cy=329.9 /><circle r=3.02 cx=617.5 cy=329.8 /><circle r=3.02 cx=634.5 cy=329.1 /><circle r=3.02 cx=643.7 cy=329 /><circle r=3.02 cx=635.1 cy=329.9 /><circle r=3.02 cx=647.5 cy=328.7 /><circle r=3.02 cx=604.3 cy=329.8 /><circle r=3.02 cx=618.3 cy=330.1 /><circle r=3.02 cx=643 cy=329.6 /><circle r=3.02 cx=637.3 cy=329.4 /><circle r=3.02 cx=616.4 cy=330.2 /><circle r=3.02 cx=638.7 cy=329.5 /><circle r=3.02 cx=619.6 cy=330.2 /><circle r=3.02 cx=444 cy=328.6 /><circle r=3.02 cx=638.1 cy=330.2 /><circle r=3.02 cx=646.7 cy=329 /><circle r=3.02 cx=649.8 cy=328.1 /><circle r=3.02 cx=606.1 cy=330 /><circle r=3.02 cx=617.8 cy=330.2 /><circle r=3.02 cx=641.3 cy=328.9 /><circle r=3.02 cx=640.7 cy=329.6 /><circle r=3.02 cx=634.5 cy=330.2 /><circle r=3.02 cx=645.9 cy=329.5 /><circle r=3.02 cx=648.9 cy=328.4 /><circle r=3.02 cx=610 cy=330.5 /><circle r=3.02 cx=641.6 cy=330.5 /><circle r=3.02 cx=624.7 cy=330.7 /><circle r=3.02 cx=642.1 cy=329.6 /><circle r=3.02 cx=621.4 cy=330.1 /><circle r=3.02 cx=603 cy=330.3 /><circle r=3.02 cx=630.4 cy=330.9 /><circle r=3.02 cx=609.3 cy=330.8 /><circle r=3.02 cx=632.8 cy=330.7 /><circle r=3.02 cx=639.9 cy=329.8 /><circle r=3.02 cx=645 cy=329.6 /><circle r=3.02 cx=648 cy=328.7 /><circle r=3.02 cx=639.4 cy=330.8 /><circle r=3.02 cx=647.3 cy=329.3 /><circle r=3.02 cx=646.7 cy=330.1 /><circle r=3.02 cx=636.7 cy=330.8 /><circle r=3.02 cx=640.6 cy=330.4 /><circle r=3.02 cx=635.9 cy=329.7 /><circle r=3.02 cx=633.3 cy=330.9 /><circle r=3.02 cx=650.1 cy=329.4 /><circle r=3.02 cx=650.9 cy=328.9 /><circle r=3.02 cx=644 cy=329.6 /><circle r=3.02 cx=653.7 cy=329.3 /><circle r=3.02 cx=630.8 cy=330.5 /><circle r=3.02 cx=643.4 cy=330.3 /><circle r=3.02 cx=642.6 cy=330.9 /><circle r=3.02 cx=612.7 cy=331.4 /><circle r=3.02 cx=645.6 cy=329.9 /><circle r=3.02 cx=645 cy=330.7 /><circle r=3.02 cx=634.7 cy=331 /><circle r=3.02 cx=639.2 cy=331.4 /><circle r=3.02 cx=638.3 cy=330.3 /><circle r=3.02 cx=644.1 cy=331.1 /><circle r=3.02 cx=652.7 cy=329.4 /><circle r=3.02 cx=648.5 cy=330.3 /><circle r=3.02 cx=604 cy=331.6 /><circle r=3.02 cx=629.4 cy=331.4 /><circle r=3.02 cx=647.6 cy=330.6 /><circle r=3.02 cx=656.7 cy=329.7 /><circle r=3.02 cx=646.7 cy=331 /><circle r=3.02 cx=613.3 cy=331.5 /><circle r=3.02 cx=643.2 cy=331 /><circle r=3.02 cx=642.4 cy=331.6 /><circle r=3.02 cx=612.3 cy=332 /><circle r=3.02 cx=633.4 cy=331.8 /><circle r=3.02 cx=655.6 cy=329.9 /><circle r=3.02 cx=654 cy=331.1 /><circle r=3.02 cx=649.8 cy=330.1 /><circle r=3.02 cx=649.2 cy=330.9 /><circle r=3.02 cx=640.2 cy=331.8 /><circle r=3.02 cx=645.1 cy=331.8 /><circle r=3.02 cx=645.8 cy=331.1 /><circle r=3.02 cx=648.3 cy=331.2 /><circle r=3.02 cx=646.7 cy=332.4 /><circle r=3.02 cx=622.8 cy=332.4 /><circle r=3.02 cx=647.4 cy=331.7 /><circle r=3.02 cx=614.7 cy=332.3 /><circle r=3.02 cx=639.4 cy=332.1 /><circle r=3.02 cx=631.4 cy=331.6 /><circle r=3.02 cx=643.4 cy=332.5 /><circle r=3.02 cx=644.1 cy=331.8 /><circle r=3.02 cx=614.3 cy=332.5 /><circle r=3.02 cx=651.1 cy=331.7 /><circle r=3.02 cx=636.1 cy=332.4 /><circle r=3.02 cx=601.1 cy=332.1 /><circle r=3.02 cx=652.5 cy=330.3 /><circle r=3.02 cx=639.9 cy=332.4 /><circle r=3.02 cx=638.5 cy=332.1 /><circle r=3.02 cx=625.3 cy=332.4 /><circle r=3.02 cx=650 cy=331.8 /><circle r=3.02 cx=651.6 cy=330.7 /><circle r=3.02 cx=648.5 cy=332.9 /><circle r=3.02 cx=637.8 cy=332.5 /><circle r=3.02 cx=645.5 cy=331.8 /><circle r=3.02 cx=639.1 cy=332.6 /><circle r=3.02 cx=644.7 cy=332.2 /><circle r=3.02 cx=638.3 cy=333 /><circle r=3.02 cx=652.5 cy=331.9 /><circle r=3.02 cx=643.7 cy=332.4 /><circle r=3.02 cx=648.8 cy=331.5 /><circle r=3.02 cx=653.2 cy=331.2 /><circle r=3.02 cx=646.5 cy=333.1 /><circle r=3.02 cx=650.7 cy=332.5 /><circle r=3.02 cx=647.1 cy=332.2 /><circle r=3.02 cx=649.6 cy=332.5 /><circle r=3.02 cx=651.2 cy=331.3 /><circle r=3.02 cx=647.8 cy=333.1 /><circle r=3.02 cx=643.7 cy=333.7 /><circle r=3.02 cx=646.8 cy=333.2 /><circle r=3.02 cx=655.1 cy=332.2 /><circle r=3.02 cx=651.5 cy=333.7 /><circle r=3.02 cx=652.4 cy=333.2 /><circle r=3.02 cx=654.1 cy=332.3 /><circle r=3.02 cx=645.9 cy=333.5 /><circle r=3.02 cx=641 cy=334.2 /><circle r=3.02 cx=652.8 cy=332 /><circle r=3.02 cx=650.2 cy=333.1 /><circle r=3.02 cx=657 cy=333 /><circle r=3.02 cx=657.9 cy=332.6 /><circle r=3.02 cx=647.6 cy=334.4 /><circle r=3.02 cx=656 cy=333.1 /><circle r=3.02 cx=649.3 cy=333.4 /><circle r=3.02 cx=648.3 cy=333.6 /><circle r=3.02 cx=654.8 cy=333.1 /><circle r=3.02 cx=646.5 cy=334.2 /><circle r=3.02 cx=645.7 cy=334.7 /><circle r=3.02 cx=651 cy=334.2 /><circle r=3.02 cx=652.7 cy=333.3 /><circle r=3.02 cx=653.5 cy=332.7 /><circle r=3.02 cx=651.8 cy=333.6 /><circle r=3.02 cx=649.1 cy=334.6 /><circle r=3.02 cx=644.6 cy=334.4 /><circle r=3.02 cx=648.1 cy=334.8 /><circle r=3.02 cx=663.4 cy=333.2 /><circle r=3.02 cx=649.8 cy=333.9 /><circle r=3.02 cx=657.8 cy=333.8 /><circle r=3.02 cx=659.8 cy=333.3 /><circle r=3.02 cx=654 cy=334.9 /><circle r=3.02 cx=658.7 cy=333.4 /><circle r=3.02 cx=656.7 cy=333.9 /><circle r=3.02 cx=655.7 cy=334.1 /><circle r=3.02 cx=651.9 cy=335.2 /><circle r=3.02 cx=650 cy=335.7 /><circle r=3.02 cx=654.4 cy=333.7 /><circle r=3.02 cx=647.9 cy=335.6 /><circle r=3.02 cx=646.8 cy=335.6 /><circle r=3.02 cx=651.6 cy=336.2 /></g><g class=c32><circle r=3.02 cx=571.9 cy=325.3 /><circle r=3.02 cx=573.8 cy=325.1 /><circle r=3.02 cx=588.7 cy=323.5 /><circle r=3.02 cx=583.4 cy=323.3 /><circle r=3.02 cx=584.2 cy=323.9 /><circle r=3.02 cx=574.9 cy=325.6 /><circle r=3.02 cx=585 cy=324.5 /><circle r=3.02 cx=573.3 cy=325.5 /><circle r=3.02 cx=581.2 cy=323.8 /><circle r=3.02 cx=574.4 cy=326 /><circle r=3.02 cx=576.1 cy=325.8 /><circle r=3.02 cx=582.1 cy=324.4 /><circle r=3.02 cx=583.7 cy=325.8 /><circle r=3.02 cx=586.2 cy=324.5 /><circle r=3.02 cx=583.2 cy=324.7 /><circle r=3.02 cx=591.5 cy=324.5 /><circle r=3.02 cx=577.7 cy=325.7 /><circle r=3.02 cx=592.1 cy=325.1 /><circle r=3.02 cx=578.9 cy=326.1 /><circle r=3.02 cx=587.9 cy=325.7 /><circle r=3.02 cx=577.5 cy=326 /><circle r=3.02 cx=585.3 cy=325.4 /><circle r=3.02 cx=581 cy=326.9 /><circle r=3.02 cx=579.3 cy=327.2 /><circle r=3.02 cx=625 cy=325.7 /><circle r=3.02 cx=580.3 cy=326.1 /><circle r=3.02 cx=589.8 cy=326.3 /><circle r=3.02 cx=580.5 cy=327.4 /><circle r=3.02 cx=576.9 cy=328 /><circle r=3.02 cx=583 cy=327.8 /><circle r=3.02 cx=581.5 cy=327.9 /><circle r=3.02 cx=624.8 cy=326 /><circle r=3.02 cx=582.3 cy=326.9 /><circle r=3.02 cx=588.3 cy=326.4 /><circle r=3.02 cx=591 cy=326.2 /><circle r=3.02 cx=452.4 cy=327 /><circle r=3.02 cx=578.1 cy=328.2 /><circle r=3.02 cx=622.1 cy=327.6 /><circle r=3.02 cx=582.9 cy=327.9 /><circle r=3.02 cx=591.8 cy=326.8 /><circle r=3.02 cx=589.2 cy=326.8 /><circle r=3.02 cx=579.1 cy=328.7 /><circle r=3.02 cx=584.5 cy=327.5 /><circle r=3.02 cx=583.9 cy=328.3 /><circle r=3.02 cx=592.7 cy=327.1 /><circle r=3.02 cx=580.3 cy=328.9 /><circle r=3.02 cx=618.6 cy=327.5 /><circle r=3.02 cx=621.1 cy=327.9 /><circle r=3.02 cx=585.7 cy=327.6 /><circle r=3.02 cx=606.6 cy=327.3 /><circle r=3.02 cx=591.2 cy=327.3 /><circle r=3.02 cx=585.7 cy=329.2 /><circle r=3.02 cx=581.8 cy=328.7 /><circle r=3.02 cx=628.8 cy=327.8 /><circle r=3.02 cx=634.9 cy=327.3 /><circle r=3.02 cx=624.5 cy=327.7 /><circle r=3.02 cx=586.6 cy=328 /><circle r=3.02 cx=587.3 cy=328.8 /><circle r=3.02 cx=617.1 cy=327.6 /><circle r=3.02 cx=594.5 cy=327.7 /><circle r=3.02 cx=588.1 cy=329.4 /><circle r=3.02 cx=592.2 cy=327.5 /><circle r=3.02 cx=604.9 cy=327.9 /><circle r=3.02 cx=624.4 cy=328.4 /><circle r=3.02 cx=616.2 cy=327.9 /><circle r=3.02 cx=634.4 cy=327.7 /><circle r=3.02 cx=608.5 cy=327.7 /><circle r=3.02 cx=627 cy=327.7 /><circle r=3.02 cx=583.9 cy=329.6 /><circle r=3.02 cx=623.5 cy=328 /><circle r=3.02 cx=583 cy=328.9 /><circle r=3.02 cx=618.8 cy=328.6 /><circle r=3.02 cx=598.8 cy=327.9 /><circle r=3.02 cx=587.4 cy=328.6 /><circle r=3.02 cx=593 cy=328 /><circle r=3.02 cx=610.9 cy=328.3 /><circle r=3.02 cx=593.7 cy=328.6 /><circle r=3.02 cx=601 cy=327.9 /><circle r=3.02 cx=607.7 cy=328 /><circle r=3.02 cx=617.3 cy=327.9 /><circle r=3.02 cx=614.9 cy=328.2 /><circle r=3.02 cx=588.2 cy=329.2 /><circle r=3.02 cx=626.8 cy=328.3 /><circle r=3.02 cx=589.1 cy=329.7 /><circle r=3.02 cx=599.6 cy=328.2 /><circle r=3.02 cx=585.9 cy=330.2 /><circle r=3.02 cx=625.8 cy=328.8 /><circle r=3.02 cx=624.3 cy=328.4 /><circle r=3.02 cx=608.3 cy=328.4 /><circle r=3.02 cx=617.5 cy=328.5 /><circle r=3.02 cx=590.6 cy=329.3 /><circle r=3.02 cx=597.1 cy=328.7 /><circle r=3.02 cx=589.9 cy=328.5 /><circle r=3.02 cx=609.6 cy=328.6 /><circle r=3.02 cx=585.5 cy=329 /><circle r=3.02 cx=624.2 cy=329.4 /><circle r=3.02 cx=600.4 cy=328.5 /><circle r=3.02 cx=587 cy=330.4 /><circle r=3.02 cx=615.4 cy=329.8 /><circle r=3.02 cx=622 cy=329 /><circle r=3.02 cx=612.7 cy=328.7 /><circle r=3.02 cx=631.3 cy=329.2 /><circle r=3.02 cx=611.9 cy=329.2 /><circle r=3.02 cx=591.4 cy=329.7 /><circle r=3.02 cx=614.4 cy=328.8 /><circle r=3.02 cx=623.4 cy=328.9 /><circle r=3.02 cx=596.1 cy=330 /><circle r=3.02 cx=595.7 cy=328.9 /><circle r=3.02 cx=597.9 cy=329 /><circle r=3.02 cx=619.9 cy=328.9 /><circle r=3.02 cx=617 cy=329.6 /><circle r=3.02 cx=632.9 cy=329 /><circle r=3.02 cx=597 cy=330.3 /><circle r=3.02 cx=637.1 cy=329.1 /><circle r=3.02 cx=592.5 cy=329.9 /><circle r=3.02 cx=609.4 cy=329.5 /><circle r=3.02 cx=590.5 cy=329.1 /><circle r=3.02 cx=588.2 cy=330.4 /><circle r=3.02 cx=622 cy=329.3 /><circle r=3.02 cx=612.3 cy=329.6 /><circle r=3.02 cx=591.4 cy=329.5 /><circle r=3.02 cx=630.8 cy=329.4 /><circle r=3.02 cx=621.2 cy=329.2 /><circle r=3.02 cx=592.1 cy=330.3 /><circle r=3.02 cx=625.4 cy=329.8 /><circle r=3.02 cx=598.7 cy=329.2 /><circle r=3.02 cx=635.3 cy=329.7 /><circle r=3.02 cx=603.9 cy=329.5 /><circle r=3.02 cx=628.3 cy=329.8 /><circle r=3.02 cx=619.9 cy=329.3 /><circle r=3.02 cx=629.7 cy=329.6 /><circle r=3.02 cx=619.3 cy=329.7 /><circle r=3.02 cx=590.1 cy=331.1 /><circle r=3.02 cx=627.3 cy=330.2 /><circle r=3.02 cx=615.1 cy=329.9 /><circle r=3.02 cx=607.1 cy=330.6 /><circle r=3.02 cx=599.6 cy=329.5 /><circle r=3.02 cx=610 cy=329.7 /><circle r=3.02 cx=589.6 cy=330 /><circle r=3.02 cx=443.5 cy=331 /><circle r=3.02 cx=608.5 cy=330.6 /><circle r=3.02 cx=633.1 cy=329.6 /><circle r=3.02 cx=594.4 cy=330.2 /><circle r=3.02 cx=620.1 cy=329.9 /><circle r=3.02 cx=593.1 cy=330.3 /><circle r=3.02 cx=598.1 cy=329.9 /><circle r=3.02 cx=622 cy=329.6 /><circle r=3.02 cx=605.2 cy=330.6 /><circle r=3.02 cx=591.2 cy=331.2 /><circle r=3.02 cx=625.9 cy=330.3 /><circle r=3.02 cx=618.1 cy=329.8 /><circle r=3.02 cx=594 cy=330.7 /><circle r=3.02 cx=619.4 cy=330 /><circle r=3.02 cx=627.9 cy=329.9 /><circle r=3.02 cx=610.5 cy=330 /><circle r=3.02 cx=622 cy=330.5 /><circle r=3.02 cx=625.6 cy=331.3 /><circle r=3.02 cx=599.6 cy=331 /><circle r=3.02 cx=621.4 cy=330.4 /><circle r=3.02 cx=629 cy=330.8 /><circle r=3.02 cx=594.8 cy=331.2 /><circle r=3.02 cx=595.4 cy=330.4 /><circle r=3.02 cx=623.9 cy=330.6 /><circle r=3.02 cx=592.2 cy=331.3 /><circle r=3.02 cx=611 cy=330.9 /><circle r=3.02 cx=627 cy=330.3 /><circle r=3.02 cx=634.1 cy=330.3 /><circle r=3.02 cx=620.1 cy=330.4 /><circle r=3.02 cx=611.7 cy=330.1 /><circle r=3.02 cx=601.1 cy=330.3 /><circle r=3.02 cx=625 cy=330.8 /><circle r=3.02 cx=609.2 cy=330.6 /><circle r=3.02 cx=614.3 cy=330.6 /><circle r=3.02 cx=626.8 cy=331.3 /><circle r=3.02 cx=629.6 cy=331.1 /><circle r=3.02 cx=632 cy=330.7 /><circle r=3.02 cx=608 cy=330.2 /><circle r=3.02 cx=596.2 cy=330.8 /><circle r=3.02 cx=633.6 cy=331.1 /><circle r=3.02 cx=636.9 cy=330.7 /><circle r=3.02 cx=604.9 cy=330.8 /><circle r=3.02 cx=601.8 cy=330.8 /><circle r=3.02 cx=615.8 cy=330.8 /><circle r=3.02 cx=627.6 cy=330.4 /><circle r=3.02 cx=600.6 cy=331.1 /><circle r=3.02 cx=623.7 cy=331.3 /><circle r=3.02 cx=606.6 cy=331.3 /><circle r=3.02 cx=597 cy=331.2 /><circle r=3.02 cx=593.3 cy=331.3 /><circle r=3.02 cx=631 cy=330.7 /><circle r=3.02 cx=608.6 cy=330.8 /><circle r=3.02 cx=623.1 cy=331 /><circle r=3.02 cx=620.3 cy=331.1 /><circle r=3.02 cx=587.6 cy=332.3 /><circle r=3.02 cx=616.7 cy=331.3 /><circle r=3.02 cx=613.7 cy=330.6 /><circle r=3.02 cx=622 cy=330.7 /><circle r=3.02 cx=625.4 cy=331.5 /><circle r=3.02 cx=618.5 cy=330.9 /><circle r=3.02 cx=596.1 cy=330.8 /><circle r=3.02 cx=634.1 cy=331.3 /><circle r=3.02 cx=605.6 cy=331 /><circle r=3.02 cx=612.7 cy=331.4 /><circle r=3.02 cx=614.7 cy=331 /><circle r=3.02 cx=618 cy=331.4 /><circle r=3.02 cx=603.9 cy=332.7 /><circle r=3.02 cx=615.1 cy=332.1 /><circle r=3.02 cx=631.5 cy=331 /><circle r=3.02 cx=637.5 cy=330.7 /><circle r=3.02 cx=611.7 cy=330.7 /><circle r=3.02 cx=627.2 cy=330.8 /><circle r=3.02 cx=588.8 cy=332.4 /><circle r=3.02 cx=597.6 cy=332 /><circle r=3.02 cx=597 cy=331.1 /><circle r=3.02 cx=616.1 cy=331.1 /><circle r=3.02 cx=603.5 cy=331.4 /><circle r=3.02 cx=626.4 cy=331.5 /><circle r=3.02 cx=601.5 cy=331.1 /><circle r=3.02 cx=629.1 cy=331 /><circle r=3.02 cx=612.1 cy=331.6 /><circle r=3.02 cx=607.4 cy=331.3 /><circle r=3.02 cx=594.6 cy=331 /><circle r=3.02 cx=606.3 cy=331.5 /><circle r=3.02 cx=589.7 cy=332.7 /><circle r=3.02 cx=635.5 cy=331.3 /><circle r=3.02 cx=623 cy=331.4 /><circle r=3.02 cx=621.4 cy=331.2 /><circle r=3.02 cx=598.1 cy=330.9 /><circle r=3.02 cx=596 cy=332.4 /><circle r=3.02 cx=623.6 cy=331.4 /><circle r=3.02 cx=604.7 cy=332.9 /><circle r=3.02 cx=595.4 cy=331.5 /><circle r=3.02 cx=586.8 cy=333.4 /><circle r=3.02 cx=599.7 cy=332.1 /><circle r=3.02 cx=602.9 cy=332.1 /><circle r=3.02 cx=602.3 cy=331.3 /><circle r=3.02 cx=599.1 cy=331.2 /><circle r=3.02 cx=616.5 cy=331.6 /><circle r=3.02 cx=636.1 cy=331.7 /><circle r=3.02 cx=613.2 cy=331.4 /><circle r=3.02 cx=598.7 cy=331.8 /><circle r=3.02 cx=626.1 cy=332 /><circle r=3.02 cx=630 cy=331.5 /><circle r=3.02 cx=640 cy=331.3 /><circle r=3.02 cx=586.1 cy=332.6 /><circle r=3.02 cx=624.6 cy=331.2 /><circle r=3.02 cx=607 cy=331.8 /><circle r=3.02 cx=632.9 cy=332.3 /><circle r=3.02 cx=632.3 cy=331.3 /><circle r=3.02 cx=627.8 cy=332 /><circle r=3.02 cx=614.6 cy=331.4 /><circle r=3.02 cx=626.6 cy=332.3 /><circle r=3.02 cx=611 cy=331.6 /><circle r=3.02 cx=591.8 cy=333.1 /><circle r=3.02 cx=617.3 cy=332.1 /><circle r=3.02 cx=624.4 cy=332.3 /><circle r=3.02 cx=615.6 cy=331.9 /><circle r=3.02 cx=620.5 cy=331.9 /><circle r=3.02 cx=592.7 cy=333.5 /><circle r=3.02 cx=613.7 cy=332.1 /><circle r=3.02 cx=600.6 cy=332.1 /><circle r=3.02 cx=625 cy=332.3 /><circle r=3.02 cx=630.5 cy=331.8 /><circle r=3.02 cx=618.9 cy=331.8 /><circle r=3.02 cx=610.4 cy=331.8 /><circle r=3.02 cx=600.3 cy=332.7 /><circle r=3.02 cx=599.6 cy=332 /><circle r=3.02 cx=615.9 cy=332.9 /><circle r=3.02 cx=623.5 cy=331.7 /><circle r=3.02 cx=635.4 cy=332 /><circle r=3.02 cx=601.3 cy=332.8 /><circle r=3.02 cx=607.6 cy=332.2 /><circle r=3.02 cx=618.4 cy=332.2 /><circle r=3.02 cx=615 cy=332.1 /><circle r=3.02 cx=627.5 cy=332.7 /><circle r=3.02 cx=611.6 cy=332.2 /><circle r=3.02 cx=634.2 cy=332.1 /><circle r=3.02 cx=631.8 cy=331.7 /><circle r=3.02 cx=625.8 cy=332.5 /><circle r=3.02 cx=616.8 cy=332 /><circle r=3.02 cx=619.1 cy=332.9 /><circle r=3.02 cx=604.5 cy=332.8 /><circle r=3.02 cx=628.3 cy=331.9 /><circle r=3.02 cx=637.3 cy=332.3 /><circle r=3.02 cx=608.8 cy=331.7 /><circle r=3.02 cx=611 cy=332.6 /><circle r=3.02 cx=590 cy=333.9 /><circle r=3.02 cx=624.2 cy=333.1 /><circle r=3.02 cx=598 cy=332.4 /><circle r=3.02 cx=630 cy=332.4 /><circle r=3.02 cx=621.4 cy=332.4 /><circle r=3.02 cx=632.2 cy=332.3 /><circle r=3.02 cx=634.7 cy=332.5 /><circle r=3.02 cx=598.8 cy=333 /><circle r=3.02 cx=614.2 cy=332.6 /><circle r=3.02 cx=617.1 cy=332.9 /><circle r=3.02 cx=599.6 cy=333.5 /><circle r=3.02 cx=606.5 cy=332.9 /><circle r=3.02 cx=617.6 cy=332.5 /><circle r=3.02 cx=622.9 cy=332.3 /><circle r=3.02 cx=609.4 cy=332.3 /><circle r=3.02 cx=608.4 cy=332.5 /><circle r=3.02 cx=605.9 cy=331.9 /><circle r=3.02 cx=589.4 cy=333 /><circle r=3.02 cx=620.6 cy=332.3 /><circle r=3.02 cx=623.3 cy=332.3 /><circle r=3.02 cx=624.7 cy=332.8 /><circle r=3.02 cx=594 cy=333.1 /><circle r=3.02 cx=594.8 cy=333.8 /><circle r=3.02 cx=601.2 cy=332.7 /><circle r=3.02 cx=620.1 cy=332.6 /><circle r=3.02 cx=631.2 cy=332.1 /><circle r=3.02 cx=602.3 cy=332.7 /><circle r=3.02 cx=629 cy=332.3 /><circle r=3.02 cx=592.1 cy=334.3 /><circle r=3.02 cx=626.3 cy=332.1 /><circle r=3.02 cx=609 cy=333.1 /><circle r=3.02 cx=630.7 cy=333.1 /><circle r=3.02 cx=610.1 cy=332.8 /><circle r=3.02 cx=605.4 cy=332.7 /><circle r=3.02 cx=641.9 cy=332.6 /><circle r=3.02 cx=636.4 cy=332.3 /><circle r=3.02 cx=637.7 cy=332.2 /><circle r=3.02 cx=622 cy=333 /><circle r=3.02 cx=633 cy=333.1 /><circle r=3.02 cx=618.8 cy=332.3 /><circle r=3.02 cx=620.7 cy=333.2 /><circle r=3.02 cx=591.4 cy=333.5 /><circle r=3.02 cx=607.2 cy=333.1 /><circle r=3.02 cx=629.5 cy=332.7 /><circle r=3.02 cx=623.2 cy=333.1 /><circle r=3.02 cx=602.9 cy=333.5 /><circle r=3.02 cx=611.7 cy=332.5 /><circle r=3.02 cx=619.3 cy=333 /><circle r=3.02 cx=637 cy=332.7 /><circle r=3.02 cx=627 cy=332.6 /><circle r=3.02 cx=634 cy=332.5 /><circle r=3.02 cx=602.2 cy=332.6 /><circle r=3.02 cx=595.9 cy=333.5 /><circle r=3.02 cx=596.7 cy=334.1 /><circle r=3.02 cx=603.2 cy=332.7 /><circle r=3.02 cx=593.2 cy=334.2 /><circle r=3.02 cx=633.4 cy=333.2 /><circle r=3.02 cx=640.9 cy=332.6 /><circle r=3.02 cx=628.6 cy=332.7 /><circle r=3.02 cx=618.9 cy=333.1 /><circle r=3.02 cx=606.2 cy=332.7 /><circle r=3.02 cx=617.8 cy=334.1 /><circle r=3.02 cx=615.9 cy=332.6 /><circle r=3.02 cx=610.4 cy=334 /><circle r=3.02 cx=603.7 cy=333.6 /><circle r=3.02 cx=628.6 cy=334.3 /><circle r=3.02 cx=635 cy=333.1 /><circle r=3.02 cx=604.7 cy=333.8 /><circle r=3.02 cx=609.8 cy=332.9 /><circle r=3.02 cx=601.6 cy=333.4 /><circle r=3.02 cx=608.1 cy=333.1 /><circle r=3.02 cx=619.2 cy=334.2 /><circle r=3.02 cx=603.1 cy=334.7 /><circle r=3.02 cx=597.7 cy=334.3 /><circle r=3.02 cx=628.1 cy=333.5 /><circle r=3.02 cx=612.8 cy=333.8 /><circle r=3.02 cx=630.1 cy=333 /><circle r=3.02 cx=635.6 cy=333.7 /><circle r=3.02 cx=611.3 cy=333.6 /><circle r=3.02 cx=632.7 cy=333.5 /><circle r=3.02 cx=630 cy=334.7 /><circle r=3.02 cx=604.6 cy=333.9 /><circle r=3.02 cx=635 cy=334.4 /><circle r=3.02 cx=595.4 cy=334.3 /><circle r=3.02 cx=642.5 cy=332.9 /><circle r=3.02 cx=611.1 cy=334.5 /><circle r=3.02 cx=620.4 cy=333.8 /><circle r=3.02 cx=598.6 cy=334.5 /><circle r=3.02 cx=608.8 cy=333.6 /><circle r=3.02 cx=617.1 cy=334.2 /><circle r=3.02 cx=614.8 cy=333.4 /><circle r=3.02 cx=605.6 cy=334 /><circle r=3.02 cx=608.4 cy=334.6 /><circle r=3.02 cx=602.4 cy=333.6 /><circle r=3.02 cx=629.5 cy=333.7 /><circle r=3.02 cx=637.9 cy=334.8 /><circle r=3.02 cx=634.3 cy=333.4 /><circle r=3.02 cx=627.7 cy=334.2 /><circle r=3.02 cx=618.5 cy=334.2 /><circle r=3.02 cx=619.7 cy=334.4 /><circle r=3.02 cx=625 cy=333.8 /><circle r=3.02 cx=623.1 cy=334.3 /><circle r=3.02 cx=628 cy=334.6 /><circle r=3.02 cx=641.7 cy=333.1 /><circle r=3.02 cx=596.2 cy=334.7 /><circle r=3.02 cx=620.8 cy=334.2 /><circle r=3.02 cx=623.7 cy=334.5 /><circle r=3.02 cx=620.5 cy=334.6 /><circle r=3.02 cx=637.2 cy=333.5 /><circle r=3.02 cx=626 cy=334.9 /><circle r=3.02 cx=612.1 cy=333.8 /><circle r=3.02 cx=626.3 cy=333.5 /><circle r=3.02 cx=604.1 cy=334.4 /><circle r=3.02 cx=615.7 cy=333.5 /><circle r=3.02 cx=599.7 cy=334.3 /><circle r=3.02 cx=629 cy=334.4 /><circle r=3.02 cx=612.6 cy=334.8 /><circle r=3.02 cx=625.4 cy=333.9 /><circle r=3.02 cx=615.3 cy=334 /><circle r=3.02 cx=632 cy=333.6 /><circle r=3.02 cx=633.6 cy=333.8 /><circle r=3.02 cx=636.5 cy=334.1 /><circle r=3.02 cx=614.5 cy=334.6 /><circle r=3.02 cx=624.8 cy=334.8 /><circle r=3.02 cx=613.5 cy=333.8 /><circle r=3.02 cx=643.2 cy=333.5 /><circle r=3.02 cx=609.6 cy=333.7 /><circle r=3.02 cx=611.8 cy=334.7 /><circle r=3.02 cx=606.4 cy=334.1 /><circle r=3.02 cx=619.4 cy=334.4 /><circle r=3.02 cx=640.2 cy=334.2 /><circle r=3.02 cx=627.2 cy=334.9 /><circle r=3.02 cx=600.5 cy=334.8 /><circle r=3.02 cx=606.2 cy=334.5 /><circle r=3.02 cx=618.2 cy=333.9 /><circle r=3.02 cx=640.8 cy=333.3 /><circle r=3.02 cx=605.6 cy=333.5 /><circle r=3.02 cx=634.1 cy=334.1 /><circle r=3.02 cx=632.9 cy=334.4 /><circle r=3.02 cx=622 cy=334.8 /><circle r=3.02 cx=642.4 cy=333.9 /><circle r=3.02 cx=604.9 cy=334.7 /><circle r=3.02 cx=597.4 cy=334.3 /><circle r=3.02 cx=631.4 cy=334.2 /><circle r=3.02 cx=610.2 cy=334.3 /><circle r=3.02 cx=621.6 cy=334.7 /><circle r=3.02 cx=609.3 cy=334.3 /><circle r=3.02 cx=633.4 cy=334.8 /><circle r=3.02 cx=639.3 cy=334.4 /><circle r=3.02 cx=616.2 cy=334.1 /><circle r=3.02 cx=641.5 cy=334.3 /><circle r=3.02 cx=624.1 cy=333.8 /><circle r=3.02 cx=636.9 cy=334.3 /><circle r=3.02 cx=630.3 cy=334.4 /><circle r=3.02 cx=615.8 cy=334.5 /><circle r=3.02 cx=618.8 cy=334.5 /><circle r=3.02 cx=591.4 cy=335.1 /><circle r=3.02 cx=622.6 cy=334.6 /><circle r=3.02 cx=599.1 cy=335.2 /><circle r=3.02 cx=629.2 cy=334.2 /><circle r=3.02 cx=600 cy=335.6 /><circle r=3.02 cx=607.1 cy=334.5 /><circle r=3.02 cx=605.8 cy=334.9 /><circle r=3.02 cx=630.7 cy=334.8 /><circle r=3.02 cx=649 cy=333.5 /><circle r=3.02 cx=592.3 cy=335.5 /><circle r=3.02 cx=610 cy=334.7 /><circle r=3.02 cx=608 cy=334.8 /><circle r=3.02 cx=626.2 cy=334.3 /><circle r=3.02 cx=598.4 cy=334.5 /><circle r=3.02 cx=632.2 cy=334.7 /><circle r=3.02 cx=623.8 cy=334.8 /><circle r=3.02 cx=607.3 cy=334 /><circle r=3.02 cx=635.6 cy=333.9 /><circle r=3.02 cx=637.7 cy=335.4 /><circle r=3.02 cx=640.6 cy=334.5 /><circle r=3.02 cx=636.2 cy=334.7 /><circle r=3.02 cx=601.6 cy=334.4 /><circle r=3.02 cx=644.7 cy=333.7 /><circle r=3.02 cx=618.5 cy=334.2 /><circle r=3.02 cx=607.9 cy=334.8 /><circle r=3.02 cx=603.2 cy=335.4 /><circle r=3.02 cx=616.6 cy=334.6 /><circle r=3.02 cx=628.7 cy=334.7 /><circle r=3.02 cx=613.4 cy=334.3 /><circle r=3.02 cx=593.4 cy=335.5 /><circle r=3.02 cx=594.3 cy=336.1 /><circle r=3.02 cx=624.5 cy=334.7 /><circle r=3.02 cx=595.3 cy=336.1 /><circle r=3.02 cx=604.1 cy=335.8 /><circle r=3.02 cx=607.4 cy=335.6 /><circle r=3.02 cx=642.3 cy=335.2 /><circle r=3.02 cx=611.1 cy=333.9 /><circle r=3.02 cx=643 cy=334.5 /><circle r=3.02 cx=606.7 cy=334.8 /><circle r=3.02 cx=629.1 cy=335.6 /><circle r=3.02 cx=638.9 cy=335.1 /><circle r=3.02 cx=629.5 cy=336 /><circle r=3.02 cx=639.7 cy=334.4 /><circle r=3.02 cx=601.1 cy=335.2 /><circle r=3.02 cx=622.5 cy=334.8 /><circle r=3.02 cx=602.8 cy=336.2 /><circle r=3.02 cx=631.4 cy=334.6 /><circle r=3.02 cx=626.9 cy=334.7 /><circle r=3.02 cx=602 cy=335.5 /><circle r=3.02 cx=614 cy=334.7 /><circle r=3.02 cx=633.3 cy=335.3 /><circle r=3.02 cx=621.9 cy=334.5 /><circle r=3.02 cx=645.3 cy=334.4 /><circle r=3.02 cx=605.8 cy=336.4 /><circle r=3.02 cx=636.7 cy=334.9 /><circle r=3.02 cx=626.3 cy=335.2 /><circle r=3.02 cx=640.5 cy=335.6 /><circle r=3.02 cx=615.3 cy=334.9 /><circle r=3.02 cx=592 cy=336.2 /><circle r=3.02 cx=616.2 cy=335.7 /><circle r=3.02 cx=612.2 cy=336 /><circle r=3.02 cx=596.5 cy=335.9 /><circle r=3.02 cx=611.1 cy=336.5 /><circle r=3.02 cx=630.7 cy=335.2 /><circle r=3.02 cx=626.5 cy=335.6 /><circle r=3.02 cx=612.5 cy=335 /><circle r=3.02 cx=609.1 cy=336.2 /><circle r=3.02 cx=630.1 cy=336.1 /><circle r=3.02 cx=608.3 cy=335.5 /><circle r=3.02 cx=637.3 cy=335.7 /><circle r=3.02 cx=624.4 cy=335.4 /><circle r=3.02 cx=631.8 cy=336.5 /><circle r=3.02 cx=637.9 cy=334.8 /><circle r=3.02 cx=620.1 cy=336.1 /><circle r=3.02 cx=644.2 cy=334.3 /><circle r=3.02 cx=617.4 cy=336.1 /><circle r=3.02 cx=598.3 cy=336.4 /><circle r=3.02 cx=615.9 cy=335.6 /><circle r=3.02 cx=635.8 cy=335.1 /><circle r=3.02 cx=599.3 cy=336.7 /><circle r=3.02 cx=632.5 cy=335.4 /><circle r=3.02 cx=611.1 cy=336.5 /><circle r=3.02 cx=616.9 cy=334.7 /><circle r=3.02 cx=620.4 cy=335.3 /><circle r=3.02 cx=603.9 cy=335.8 /><circle r=3.02 cx=624.8 cy=335.9 /><circle r=3.02 cx=638.7 cy=336.1 /><circle r=3.02 cx=594.2 cy=336.2 /><circle r=3.02 cx=625.1 cy=336.3 /><circle r=3.02 cx=639.5 cy=335.4 /><circle r=3.02 cx=626.8 cy=336 /><circle r=3.02 cx=628.7 cy=335.8 /><circle r=3.02 cx=635.6 cy=336.4 /><circle r=3.02 cx=610 cy=336.3 /><circle r=3.02 cx=610.5 cy=334.9 /><circle r=3.02 cx=616.8 cy=336.1 /><circle r=3.02 cx=618.1 cy=336.6 /><circle r=3.02 cx=618.5 cy=335.9 /><circle r=3.02 cx=643.3 cy=334.4 /><circle r=3.02 cx=604.8 cy=336 /><circle r=3.02 cx=613 cy=336 /><circle r=3.02 cx=606.9 cy=336 /><circle r=3.02 cx=595.1 cy=336.5 /><circle r=3.02 cx=611.9 cy=336.4 /><circle r=3.02 cx=637.8 cy=336.3 /><circle r=3.02 cx=622.6 cy=336.6 /><circle r=3.02 cx=632.9 cy=335.5 /><circle r=3.02 cx=633.5 cy=336.5 /><circle r=3.02 cx=624.1 cy=336 /><circle r=3.02 cx=634.2 cy=335.7 /><circle r=3.02 cx=621.7 cy=336.2 /><circle r=3.02 cx=640.8 cy=335.8 /><circle r=3.02 cx=623.9 cy=335.5 /><circle r=3.02 cx=628.1 cy=336.3 /><circle r=3.02 cx=605.6 cy=336.3 /><circle r=3.02 cx=632.1 cy=336.1 /><circle r=3.02 cx=621.9 cy=336.2 /><circle r=3.02 cx=627.8 cy=335.9 /><circle r=3.02 cx=611.9 cy=336.5 /><circle r=3.02 cx=642.4 cy=334.6 /><circle r=3.02 cx=619.5 cy=336 /><circle r=3.02 cx=630.3 cy=335.3 /><circle r=3.02 cx=615.9 cy=336.4 /><circle r=3.02 cx=617.9 cy=336.4 /><circle r=3.02 cx=636.9 cy=336.5 /><circle r=3.02 cx=641.5 cy=334.9 /><circle r=3.02 cx=636.1 cy=334.9 /><circle r=3.02 cx=639.9 cy=335.9 /><circle r=3.02 cx=631 cy=336.1 /><circle r=3.02 cx=625.9 cy=335.5 /><circle r=3.02 cx=607.3 cy=337.1 /><circle r=3.02 cx=606.5 cy=336.5 /><circle r=3.02 cx=623.2 cy=336.4 /><circle r=3.02 cx=634.6 cy=336.1 /><circle r=3.02 cx=626.9 cy=335.7 /><circle r=3.02 cx=623.7 cy=336.6 /><circle r=3.02 cx=618.9 cy=336.5 /><circle r=3.02 cx=597.2 cy=336.5 /><circle r=3.02 cx=602.2 cy=336.9 /><circle r=3.02 cx=608.6 cy=336.4 /><circle r=3.02 cx=628.6 cy=336.5 /><circle r=3.02 cx=601.4 cy=336.3 /><circle r=3.02 cx=644.1 cy=335.7 /><circle r=3.02 cx=617.4 cy=336.3 /><circle r=3.02 cx=615.3 cy=335.5 /><circle r=3.02 cx=621.1 cy=336.2 /><circle r=3.02 cx=613.9 cy=335.8 /><circle r=3.02 cx=638.9 cy=335.8 /><circle r=3.02 cx=643.1 cy=335.8 /><circle r=3.02 cx=628.9 cy=336.4 /><circle r=3.02 cx=600.8 cy=335.3 /><circle r=3.02 cx=614.5 cy=336.5 /><circle r=3.02 cx=608.3 cy=336.9 /><circle r=3.02 cx=616 cy=336.3 /><circle r=3.02 cx=641.4 cy=336.6 /><circle r=3.02 cx=612.9 cy=335.9 /><circle r=3.02 cx=613.5 cy=337.1 /><circle r=3.02 cx=603.3 cy=336.5 /><circle r=3.02 cx=620.7 cy=336.4 /><circle r=3.02 cx=619.9 cy=336.3 /><circle r=3.02 cx=647.4 cy=335.4 /><circle r=3.02 cx=612.5 cy=336.6 /><circle r=3.02 cx=630.1 cy=335.8 /><circle r=3.02 cx=605.1 cy=337.2 /><circle r=3.02 cx=609.6 cy=336.1 /><circle r=3.02 cx=604.2 cy=336.8 /><circle r=3.02 cx=644.7 cy=336.4 /><circle r=3.02 cx=622.5 cy=336.5 /><circle r=3.02 cx=642.1 cy=335.7 /><circle r=3.02 cx=631.7 cy=336.3 /><circle r=3.02 cx=632.8 cy=336.3 /><circle r=3.02 cx=646.4 cy=335.6 /><circle r=3.02 cx=639.5 cy=336.7 /><circle r=3.02 cx=601.2 cy=336.8 /><circle r=3.02 cx=630.2 cy=337.7 /><circle r=3.02 cx=606 cy=337.4 /><circle r=3.02 cx=636.3 cy=336.5 /><circle r=3.02 cx=645.4 cy=335.8 /><circle r=3.02 cx=635 cy=336 /><circle r=3.02 cx=613.3 cy=336.9 /><circle r=3.02 cx=609.2 cy=336.7 /><circle r=3.02 cx=640.2 cy=336 /><circle r=3.02 cx=643.6 cy=336.3 /><circle r=3.02 cx=612 cy=337.4 /><circle r=3.02 cx=613.7 cy=335.7 /><circle r=3.02 cx=620.6 cy=336.1 /><circle r=3.02 cx=627.9 cy=337.8 /><circle r=3.02 cx=630.5 cy=337.8 /><circle r=3.02 cx=623.4 cy=336.3 /><circle r=3.02 cx=640.1 cy=337.6 /><circle r=3.02 cx=615.1 cy=337.3 /><circle r=3.02 cx=640.9 cy=337.2 /><circle r=3.02 cx=633.7 cy=337.6 /><circle r=3.02 cx=641.7 cy=336.6 /><circle r=3.02 cx=632.5 cy=337.2 /><circle r=3.02 cx=635.3 cy=336.4 /><circle r=3.02 cx=610.2 cy=336.7 /><circle r=3.02 cx=642.6 cy=336.1 /><circle r=3.02 cx=614.9 cy=337.8 /><circle r=3.02 cx=614.1 cy=337 /><circle r=3.02 cx=635.9 cy=337.7 /><circle r=3.02 cx=626.7 cy=337.7 /><circle r=3.02 cx=634.4 cy=336.7 /><circle r=3.02 cx=608.7 cy=337.9 /><circle r=3.02 cx=615.9 cy=337.7 /><circle r=3.02 cx=651.2 cy=335.9 /><circle r=3.02 cx=637.5 cy=336.7 /><circle r=3.02 cx=611 cy=336.9 /><circle r=3.02 cx=611.8 cy=337.5 /><circle r=3.02 cx=628.5 cy=338.1 /><circle r=3.02 cx=605 cy=337.2 /><circle r=3.02 cx=625.3 cy=337.7 /><circle r=3.02 cx=630.8 cy=337.9 /><circle r=3.02 cx=618.6 cy=338.2 /><circle r=3.02 cx=634.1 cy=338.2 /><circle r=3.02 cx=642.7 cy=338.1 /><circle r=3.02 cx=608 cy=337 /><circle r=3.02 cx=624 cy=338.1 /><circle r=3.02 cx=638.1 cy=337.4 /><circle r=3.02 cx=617.5 cy=338.1 /><circle r=3.02 cx=649.1 cy=335.9 /><circle r=3.02 cx=625.8 cy=338 /><circle r=3.02 cx=610.5 cy=338.2 /><circle r=3.02 cx=623.9 cy=337.5 /><circle r=3.02 cx=622.3 cy=338 /><circle r=3.02 cx=621.1 cy=338.2 /><circle r=3.02 cx=609.7 cy=337.6 /><circle r=3.02 cx=619.1 cy=337.4 /><circle r=3.02 cx=645.3 cy=336.9 /><circle r=3.02 cx=633.2 cy=338.2 /><circle r=3.02 cx=637.1 cy=337.5 /><circle r=3.02 cx=638.9 cy=336.8 /><circle r=3.02 cx=643.5 cy=337.4 /><circle r=3.02 cx=616.7 cy=337.9 /><circle r=3.02 cx=635.4 cy=338.1 /><circle r=3.02 cx=621.1 cy=337.5 /><circle r=3.02 cx=620.1 cy=338.2 /><circle r=3.02 cx=644.4 cy=337.1 /><circle r=3.02 cx=626 cy=337.8 /><circle r=3.02 cx=606.9 cy=337.3 /><circle r=3.02 cx=599.8 cy=338 /><circle r=3.02 cx=632.7 cy=336.9 /><circle r=3.02 cx=622.5 cy=337.9 /><circle r=3.02 cx=636.2 cy=337.6 /><circle r=3.02 cx=628.7 cy=337.7 /><circle r=3.02 cx=618.7 cy=338.1 /><circle r=3.02 cx=623.3 cy=337.5 /><circle r=3.02 cx=621.8 cy=337.3 /><circle r=3.02 cx=607.8 cy=337.4 /><circle r=3.02 cx=641.5 cy=337.5 /><circle r=3.02 cx=640.7 cy=337.9 /><circle r=3.02 cx=646.1 cy=336.1 /><circle r=3.02 cx=630.1 cy=338.2 /><circle r=3.02 cx=614.4 cy=338.2 /><circle r=3.02 cx=615.4 cy=338.2 /><circle r=3.02 cx=601.8 cy=338.2 /><circle r=3.02 cx=608.7 cy=337.7 /><circle r=3.02 cx=627.6 cy=337.7 /><circle r=3.02 cx=624.6 cy=337.8 /><circle r=3.02 cx=647.1 cy=338.1 /><circle r=3.02 cx=651 cy=337.4 /><circle r=3.02 cx=630.9 cy=337.4 /><circle r=3.02 cx=623.4 cy=338.2 /><circle r=3.02 cx=619.7 cy=338 /><circle r=3.02 cx=632.2 cy=337.9 /><circle r=3.02 cx=617.5 cy=338.1 /><circle r=3.02 cx=619.5 cy=338 /><circle r=3.02 cx=620.8 cy=338.2 /><circle r=3.02 cx=617.5 cy=338.3 /><circle r=3.02 cx=624.6 cy=336.9 /><circle r=3.02 cx=629 cy=337.9 /><circle r=3.02 cx=622.6 cy=337.4 /><circle r=3.02 cx=639.6 cy=337.7 /><circle r=3.02 cx=634.4 cy=337.8 /><circle r=3.02 cx=613.9 cy=336.5 /><circle r=3.02 cx=637.8 cy=338.2 /><circle r=3.02 cx=603.7 cy=338.2 /><circle r=3.02 cx=645 cy=338 /><circle r=3.02 cx=626.5 cy=337.7 /><circle r=3.02 cx=612.4 cy=338 /><circle r=3.02 cx=647.9 cy=337.5 /><circle r=3.02 cx=631.3 cy=338.1 /><circle r=3.02 cx=642.2 cy=338.6 /><circle r=3.02 cx=616.3 cy=338.2 /><circle r=3.02 cx=638.6 cy=337.6 /><circle r=3.02 cx=606.5 cy=338.7 /></g><g class=c33><circle r=3.02 cx=568.3 cy=327 /><circle r=3.02 cx=569.4 cy=327.6 /><circle r=3.02 cx=571.2 cy=327.5 /><circle r=3.02 cx=575.4 cy=326.6 /><circle r=3.02 cx=577.8 cy=327.3 /><circle r=3.02 cx=572.8 cy=327.4 /><circle r=3.02 cx=573.7 cy=328.1 /><circle r=3.02 cx=564.3 cy=329.2 /><circle r=3.02 cx=575.3 cy=328.1 /><circle r=3.02 cx=568.4 cy=330.2 /><circle r=3.02 cx=452.3 cy=329.5 /><circle r=3.02 cx=570.8 cy=331.1 /><circle r=3.02 cx=570.1 cy=330.1 /><circle r=3.02 cx=584.4 cy=329.3 /><circle r=3.02 cx=573.2 cy=330.2 /><circle r=3.02 cx=574 cy=331 /><circle r=3.02 cx=575.6 cy=330.9 /><circle r=3.02 cx=576.8 cy=331.1 /><circle r=3.02 cx=572.8 cy=332.3 /><circle r=3.02 cx=577.9 cy=331.5 /><circle r=3.02 cx=578.9 cy=332.1 /><circle r=3.02 cx=580.3 cy=332 /><circle r=3.02 cx=575.6 cy=332.6 /><circle r=3.02 cx=577 cy=332.5 /><circle r=3.02 cx=581.6 cy=332 /><circle r=3.02 cx=444 cy=333.3 /><circle r=3.02 cx=582.8 cy=332.1 /><circle r=3.02 cx=578.2 cy=332.8 /><circle r=3.02 cx=583.8 cy=332.6 /><circle r=3.02 cx=580.6 cy=333.3 /><circle r=3.02 cx=579.9 cy=332.3 /><circle r=3.02 cx=585.2 cy=332.3 /><circle r=3.02 cx=586.1 cy=332.9 /><circle r=3.02 cx=571.1 cy=334.8 /><circle r=3.02 cx=582.8 cy=333.8 /><circle r=3.02 cx=581.9 cy=333.2 /><circle r=3.02 cx=574 cy=334.8 /><circle r=3.02 cx=575.2 cy=335.1 /><circle r=3.02 cx=584.5 cy=333.2 /><circle r=3.02 cx=590.4 cy=333.7 /><circle r=3.02 cx=596.5 cy=333.5 /><circle r=3.02 cx=576.5 cy=335.2 /><circle r=3.02 cx=587.6 cy=334.1 /><circle r=3.02 cx=577.9 cy=335.1 /><circle r=3.02 cx=579 cy=335.5 /><circle r=3.02 cx=581.3 cy=336 /><circle r=3.02 cx=580.7 cy=335 /><circle r=3.02 cx=575.8 cy=336.5 /><circle r=3.02 cx=574.6 cy=336.3 /><circle r=3.02 cx=583.9 cy=336 /><circle r=3.02 cx=583.2 cy=335 /><circle r=3.02 cx=585.2 cy=335.8 /><circle r=3.02 cx=579.7 cy=336.7 /><circle r=3.02 cx=577.6 cy=335.9 /><circle r=3.02 cx=593.9 cy=335 /><circle r=3.02 cx=586.3 cy=336 /><circle r=3.02 cx=587.3 cy=336.3 /><circle r=3.02 cx=581 cy=336.8 /><circle r=3.02 cx=582 cy=337.1 /><circle r=3.02 cx=588.5 cy=336.3 /><circle r=3.02 cx=583.5 cy=336.8 /><circle r=3.02 cx=584.5 cy=337.1 /><circle r=3.02 cx=589.8 cy=336.1 /><circle r=3.02 cx=586.2 cy=336.3 /><circle r=3.02 cx=588.1 cy=337.1 /><circle r=3.02 cx=602.1 cy=335.8 /><circle r=3.02 cx=587.4 cy=336.4 /><circle r=3.02 cx=589.5 cy=336.7 /><circle r=3.02 cx=590.5 cy=337.1 /><circle r=3.02 cx=597 cy=337.1 /><circle r=3.02 cx=604.9 cy=336.3 /><circle r=3.02 cx=580.3 cy=338.6 /><circle r=3.02 cx=610.2 cy=336.5 /><circle r=3.02 cx=592.7 cy=337 /><circle r=3.02 cx=597.7 cy=337.9 /><circle r=3.02 cx=596 cy=337 /><circle r=3.02 cx=587.5 cy=338.8 /><circle r=3.02 cx=598.9 cy=337.7 /><circle r=3.02 cx=585.6 cy=338.1 /><circle r=3.02 cx=586.7 cy=338.2 /><circle r=3.02 cx=588.9 cy=338.4 /><circle r=3.02 cx=599.9 cy=337.5 /><circle r=3.02 cx=591.1 cy=338.6 /><circle r=3.02 cx=590.1 cy=338.2 /><circle r=3.02 cx=594.1 cy=339.2 /><circle r=3.02 cx=581.5 cy=339.4 /><circle r=3.02 cx=592.1 cy=338.7 /><circle r=3.02 cx=601.9 cy=337.7 /><circle r=3.02 cx=611.1 cy=337.7 /><circle r=3.02 cx=602.8 cy=338 /><circle r=3.02 cx=587.2 cy=339.9 /><circle r=3.02 cx=606.8 cy=338 /><circle r=3.02 cx=585.1 cy=339.4 /><circle r=3.02 cx=603.8 cy=338 /><circle r=3.02 cx=593.5 cy=338.1 /><circle r=3.02 cx=595.4 cy=338.8 /><circle r=3.02 cx=629.4 cy=338.2 /><circle r=3.02 cx=612.8 cy=338.1 /><circle r=3.02 cx=597.5 cy=338.6 /><circle r=3.02 cx=605.8 cy=338 /><circle r=3.02 cx=596.6 cy=338.3 /><circle r=3.02 cx=589.8 cy=339.3 /><circle r=3.02 cx=635 cy=338.1 /><circle r=3.02 cx=627.2 cy=338.3 /><circle r=3.02 cx=590.9 cy=339.4 /><circle r=3.02 cx=598.7 cy=338.4 /><circle r=3.02 cx=615.7 cy=338.3 /><circle r=3.02 cx=627.4 cy=338.3 /><circle r=3.02 cx=592 cy=339.3 /><circle r=3.02 cx=600.6 cy=338.8 /><circle r=3.02 cx=602.5 cy=339.1 /><circle r=3.02 cx=593.2 cy=339.2 /><circle r=3.02 cx=596.3 cy=339.5 /><circle r=3.02 cx=428.6 cy=340.8 /><circle r=3.02 cx=595.3 cy=339.1 /><circle r=3.02 cx=604.5 cy=339.2 /><circle r=3.02 cx=594.4 cy=338.9 /><circle r=3.02 cx=599.4 cy=339.5 /><circle r=3.02 cx=608.3 cy=339.4 /><circle r=3.02 cx=597.6 cy=338.7 /><circle r=3.02 cx=598.6 cy=339 /><circle r=3.02 cx=601.5 cy=339.4 /></g><g class=c34><circle r=3.02 cx=558.4 cy=329.5 /><circle r=3.02 cx=559.4 cy=330.3 /><circle r=3.02 cx=551.3 cy=330.6 /><circle r=3.02 cx=552.9 cy=331.1 /><circle r=3.02 cx=561.7 cy=330 /><circle r=3.02 cx=452.7 cy=331.2 /><circle r=3.02 cx=558.6 cy=331.4 /><circle r=3.02 cx=565.1 cy=330.2 /><circle r=3.02 cx=566.5 cy=330.5 /><circle r=3.02 cx=560.3 cy=331.5 /><circle r=3.02 cx=562.2 cy=331.4 /><circle r=3.02 cx=562.8 cy=332.5 /><circle r=3.02 cx=565.4 cy=331.8 /><circle r=3.02 cx=567 cy=331.8 /><circle r=3.02 cx=568.9 cy=333.3 /><circle r=3.02 cx=568.3 cy=332.2 /><circle r=3.02 cx=570.5 cy=333.3 /><circle r=3.02 cx=557.9 cy=334.6 /><circle r=3.02 cx=573.6 cy=333.3 /><circle r=3.02 cx=561.2 cy=334.9 /><circle r=3.02 cx=562.7 cy=335.1 /><circle r=3.02 cx=564 cy=335.6 /><circle r=3.02 cx=567.1 cy=335.8 /><circle r=3.02 cx=558.6 cy=336.4 /><circle r=3.02 cx=566.7 cy=334.4 /><circle r=3.02 cx=568.8 cy=335.7 /><circle r=3.02 cx=572 cy=335.4 /><circle r=3.02 cx=566.8 cy=336.6 /><circle r=3.02 cx=568.3 cy=336.7 /><circle r=3.02 cx=571 cy=337.1 /><circle r=3.02 cx=569.9 cy=336.6 /><circle r=3.02 cx=572.2 cy=337.5 /><circle r=3.02 cx=578.3 cy=336.8 /><circle r=3.02 cx=569.8 cy=339.8 /><circle r=3.02 cx=567.2 cy=339.3 /><circle r=3.02 cx=574 cy=339.9 /><circle r=3.02 cx=571.5 cy=339.5 /><circle r=3.02 cx=573.3 cy=339 /><circle r=3.02 cx=576.9 cy=339.8 /><circle r=3.02 cx=576 cy=339 /><circle r=3.02 cx=568 cy=341.1 /><circle r=3.02 cx=578.8 cy=338.9 /><circle r=3.02 cx=581.3 cy=339 /><circle r=3.02 cx=583.4 cy=339.6 /><circle r=3.02 cx=582.4 cy=339.2 /><circle r=3.02 cx=576.4 cy=341.1 /><circle r=3.02 cx=574.1 cy=340.6 /><circle r=3.02 cx=575.7 cy=340.3 /><circle r=3.02 cx=578.2 cy=340.5 /><circle r=3.02 cx=579.5 cy=340.5 /><circle r=3.02 cx=583.2 cy=340.6 /><circle r=3.02 cx=582.4 cy=339.8 /><circle r=3.02 cx=585.7 cy=340.4 /><circle r=3.02 cx=588.2 cy=340.2 /><circle r=3.02 cx=581.3 cy=343.3 /><circle r=3.02 cx=575 cy=343.1 /><circle r=3.02 cx=578.9 cy=343.2 /><circle r=3.02 cx=576.6 cy=342.7 /><circle r=3.02 cx=580.3 cy=342.8 /><circle r=3.02 cx=583 cy=342.4 /></g><g class=c35><circle r=3.02 cx=549.1 cy=330.6 /><circle r=3.02 cx=530.9 cy=332.7 /><circle r=3.02 cx=533 cy=333.2 /><circle r=3.02 cx=554 cy=331.8 /><circle r=3.02 cx=452.7 cy=333.7 /><circle r=3.02 cx=556 cy=331.9 /><circle r=3.02 cx=538 cy=333.2 /><circle r=3.02 cx=541.6 cy=334.2 /><circle r=3.02 cx=540.4 cy=333.4 /><circle r=3.02 cx=544 cy=334.2 /><circle r=3.02 cx=545.1 cy=335.1 /><circle r=3.02 cx=547.7 cy=334.8 /><circle r=3.02 cx=550.1 cy=334.6 /><circle r=3.02 cx=540.4 cy=336.3 /><circle r=3.02 cx=552.1 cy=334.6 /><circle r=3.02 cx=555.6 cy=335 /><circle r=3.02 cx=554.1 cy=334.6 /><circle r=3.02 cx=546.5 cy=336.7 /><circle r=3.02 cx=548.2 cy=337.1 /><circle r=3.02 cx=559.1 cy=335.2 /><circle r=3.02 cx=550.3 cy=337 /><circle r=3.02 cx=443.6 cy=335.7 /><circle r=3.02 cx=553.1 cy=336.2 /><circle r=3.02 cx=554.5 cy=336.7 /><circle r=3.02 cx=555.6 cy=337.6 /><circle r=3.02 cx=559.5 cy=337.3 /><circle r=3.02 cx=561.1 cy=337.4 /><circle r=3.02 cx=562.7 cy=337.6 /><circle r=3.02 cx=564.5 cy=337.4 /><circle r=3.02 cx=543.3 cy=339.8 /><circle r=3.02 cx=546.9 cy=340.2 /><circle r=3.02 cx=551 cy=340.1 /><circle r=3.02 cx=552.3 cy=340.8 /><circle r=3.02 cx=558 cy=340.4 /><circle r=3.02 cx=561.2 cy=340.6 /><circle r=3.02 cx=559.9 cy=340.2 /><circle r=3.02 cx=562.6 cy=340.9 /><circle r=3.02 cx=565 cy=340.1 /><circle r=3.02 cx=568 cy=340.1 /><circle r=3.02 cx=552 cy=342.3 /><circle r=3.02 cx=555.7 cy=342 /><circle r=3.02 cx=559.2 cy=342 /><circle r=3.02 cx=557.6 cy=341.9 /><circle r=3.02 cx=560.6 cy=342.4 /><circle r=3.02 cx=562.7 cy=341.9 /><circle r=3.02 cx=564 cy=342.2 /><circle r=3.02 cx=569.1 cy=341.5 /><circle r=3.02 cx=566.5 cy=341.1 /><circle r=3.02 cx=570.7 cy=341.2 /><circle r=3.02 cx=572.1 cy=341.4 /><circle r=3.02 cx=427.5 cy=343.9 /><circle r=3.02 cx=562 cy=344.9 /><circle r=3.02 cx=560.3 cy=345 /><circle r=3.02 cx=565 cy=345 /><circle r=3.02 cx=569.6 cy=344.8 /><circle r=3.02 cx=568.4 cy=344.4 /><circle r=3.02 cx=573.1 cy=343.8 /><circle r=3.02 cx=567.5 cy=343.8 /><circle r=3.02 cx=571.8 cy=343.8 /><circle r=3.02 cx=577.1 cy=343.8 /></g><g class=c36><circle r=3.02 cx=527.9 cy=332.8 /><circle r=3.02 cx=534.4 cy=334.1 /><circle r=3.02 cx=520.6 cy=335.1 /><circle r=3.02 cx=522.9 cy=335.6 /><circle r=3.02 cx=525.2 cy=335.9 /><circle r=3.02 cx=528 cy=335.9 /><circle r=3.02 cx=530.9 cy=335.9 /><circle r=3.02 cx=533.6 cy=335.8 /><circle r=3.02 cx=535.9 cy=335.9 /><circle r=3.02 cx=537.5 cy=336.6 /><circle r=3.02 cx=541.6 cy=337.1 /><circle r=3.02 cx=544.2 cy=336.9 /><circle r=3.02 cx=444 cy=337.8 /><circle r=3.02 cx=520.6 cy=340.2 /><circle r=3.02 cx=525.5 cy=340.6 /><circle r=3.02 cx=528.7 cy=340.2 /><circle r=3.02 cx=531 cy=340.3 /><circle r=3.02 cx=532.8 cy=340.9 /><circle r=3.02 cx=535.2 cy=340.9 /><circle r=3.02 cx=539.6 cy=341.1 /><circle r=3.02 cx=538.4 cy=340.1 /><circle r=3.02 cx=544.4 cy=340.7 /><circle r=3.02 cx=548.4 cy=340.7 /><circle r=3.02 cx=527.3 cy=342.9 /><circle r=3.02 cx=555.1 cy=341.5 /><circle r=3.02 cx=554 cy=340.9 /><circle r=3.02 cx=529.6 cy=343.2 /><circle r=3.02 cx=532.3 cy=342.9 /><circle r=3.02 cx=534.4 cy=343.1 /><circle r=3.02 cx=537 cy=342.8 /><circle r=3.02 cx=541 cy=343.2 /><circle r=3.02 cx=539.6 cy=342.4 /><circle r=3.02 cx=545.3 cy=343 /><circle r=3.02 cx=543.4 cy=342.9 /><circle r=3.02 cx=549.3 cy=343 /><circle r=3.02 cx=553.2 cy=342.8 /><circle r=3.02 cx=548.3 cy=342.2 /><circle r=3.02 cx=428.2 cy=346 /><circle r=3.02 cx=549.9 cy=347 /><circle r=3.02 cx=540.5 cy=346.8 /><circle r=3.02 cx=546.5 cy=346.8 /><circle r=3.02 cx=556.1 cy=346.2 /><circle r=3.02 cx=558.2 cy=345.7 /><circle r=3.02 cx=554.7 cy=345.9 /><circle r=3.02 cx=563.1 cy=345.5 /><circle r=3.02 cx=551.9 cy=348.4 /><circle r=3.02 cx=555.9 cy=347.9 /></g><g class=c37><circle r=3.02 cx=513.1 cy=335.8 /><circle r=3.02 cx=516.4 cy=335.7 /><circle r=3.02 cx=452.9 cy=335.9 /><circle r=3.02 cx=444.2 cy=340.1 /><circle r=3.02 cx=513.1 cy=341.1 /><circle r=3.02 cx=516.6 cy=340.8 /><circle r=3.02 cx=522 cy=341.1 /><circle r=3.02 cx=511.9 cy=343.9 /><circle r=3.02 cx=518 cy=343.7 /><circle r=3.02 cx=515.8 cy=343.3 /><circle r=3.02 cx=521.2 cy=343.5 /><circle r=3.02 cx=524.3 cy=343.3 /><circle r=3.02 cx=428.8 cy=348.4 /><circle r=3.02 cx=519.9 cy=348.2 /><circle r=3.02 cx=523.1 cy=347.9 /><circle r=3.02 cx=525.4 cy=348.1 /><circle r=3.02 cx=532.8 cy=347.7 /><circle r=3.02 cx=528.2 cy=347.7 /><circle r=3.02 cx=531.4 cy=347 /><circle r=3.02 cx=535.8 cy=347 /><circle r=3.02 cx=541.9 cy=347.3 /><circle r=3.02 cx=547.9 cy=347.2 /><circle r=3.02 cx=538 cy=347.2 /><circle r=3.02 cx=551.6 cy=347.2 /><circle r=3.02 cx=544.1 cy=347.3 /><circle r=3.02 cx=541.4 cy=349.7 /><circle r=3.02 cx=545.6 cy=349.3 /><circle r=3.02 cx=522.6 cy=350.5 /><circle r=3.02 cx=530.1 cy=350.2 /><circle r=3.02 cx=539.6 cy=349.5 /><circle r=3.02 cx=525.1 cy=350.6 /><circle r=3.02 cx=537.6 cy=349.4 /><circle r=3.02 cx=535.6 cy=349.3 /><circle r=3.02 cx=548.1 cy=348.7 /><circle r=3.02 cx=527.9 cy=350.2 /><circle r=3.02 cx=543.9 cy=349.3 /></g><g class=c38><circle r=3.02 cx=500.8 cy=342.3 /><circle r=3.02 cx=444.2 cy=342.5 /><circle r=3.02 cx=505 cy=342.1 /><circle r=3.02 cx=508.9 cy=341.7 /><circle r=3.02 cx=502.9 cy=345.3 /><circle r=3.02 cx=499.3 cy=345.6 /><circle r=3.02 cx=508.1 cy=344.3 /><circle r=3.02 cx=512.5 cy=349.6 /><circle r=3.02 cx=509 cy=350.2 /><circle r=3.02 cx=514.9 cy=350.1 /><circle r=3.02 cx=511.6 cy=352.7 /><circle r=3.02 cx=515.9 cy=351.6 /><circle r=3.02 cx=518 cy=352.3 /></g><g class=c39><circle r=3.02 cx=491.5 cy=343.3 /><circle r=3.02 cx=495.4 cy=343.4 /><circle r=3.02 cx=495.6 cy=345.6 /><circle r=3.02 cx=427.9 cy=351.3 /><circle r=3.02 cx=496.2 cy=352.2 /><circle r=3.02 cx=499.7 cy=352.1 /><circle r=3.02 cx=503.7 cy=351.7 /><circle r=3.02 cx=503.3 cy=354.5 /><circle r=3.02 cx=507.3 cy=354 /></g><g class=c40><circle r=3.02 cx=480.6 cy=344.5 /><circle r=3.02 cx=485.2 cy=344.4 /><circle r=3.02 cx=444.2 cy=345 /><circle r=3.02 cx=478.5 cy=348.5 /><circle r=3.02 cx=483.5 cy=347.9 /><circle r=3.02 cx=489.2 cy=347 /><circle r=3.02 cx=428.4 cy=353.7 /><circle r=3.02 cx=486.4 cy=353.8 /><circle r=3.02 cx=491.1 cy=353.2 /><circle r=3.02 cx=493.3 cy=356.8 /><circle r=3.02 cx=490.3 cy=356.8 /><circle r=3.02 cx=497.7 cy=356.4 /><circle r=3.02 cx=421 cy=358.5 /></g><g class=c41><circle r=3.02 cx=444.8 cy=347.1 /><circle r=3.02 cx=448.6 cy=348.2 /><circle r=3.02 cx=453.4 cy=348.5 /><circle r=3.02 cx=460.1 cy=348 /><circle r=3.02 cx=467.9 cy=349 /><circle r=3.02 cx=464.6 cy=348.3 /><circle r=3.02 cx=473.9 cy=348.3 /><circle r=3.02 cx=457 cy=355.8 /><circle r=3.02 cx=475.9 cy=355.2 /><circle r=3.02 cx=448.2 cy=355.1 /><circle r=3.02 cx=453.9 cy=354.9 /><circle r=3.02 cx=471.8 cy=355.3 /><circle r=3.02 cx=467.5 cy=355.4 /><circle r=3.02 cx=462.6 cy=355.7 /><circle r=3.02 cx=481 cy=354.8 /><circle r=3.02 cx=466.4 cy=359.4 /><circle r=3.02 cx=474.9 cy=359.4 /><circle r=3.02 cx=485.2 cy=357.6 /><circle r=3.02 cx=461.9 cy=359.4 /><circle r=3.02 cx=480.1 cy=358.7 /><circle r=3.02 cx=457.9 cy=359.2 /></g><g class=c42><circle r=3.02 cx=428.7 cy=356.3 /><circle r=3.02 cx=439.6 cy=356.9 /><circle r=3.02 cx=469.7 cy=359.9 /><circle r=3.02 cx=450.9 cy=360.2 /><circle r=3.02 cx=445.5 cy=360.4 /><circle r=3.02 cx=438.3 cy=361.4 /><circle r=3.02 cx=421.1 cy=361 /></g><g class=c43><circle r=3.02 cx=430.7 cy=358.2 /><circle r=3.02 cx=428.6 cy=363.3 /><circle r=3.02 cx=421.4 cy=363.9 /></g></g><g class=a2><g class=c4><circle r=3.02 cx=626.4 cy=269.1 /><circle r=3.02 cx=626.3 cy=268.7 /><circle r=3.02 cx=628.8 cy=269.4 /><circle r=3.02 cx=628.8 cy=269 /><circle r=3.02 cx=630.3 cy=269.2 /><circle r=3.02 cx=630.1 cy=269.7 /><circle r=3.02 cx=630.1 cy=270.2 /><circle r=3.02 cx=634 cy=270.8 /><circle r=3.02 cx=632.4 cy=270.5 /><circle r=3.02 cx=633.9 cy=270.4 /><circle r=3.02 cx=634 cy=270 /><circle r=3.02 cx=632.3 cy=269.7 /><circle r=3.02 cx=632.2 cy=270.2 /><circle r=3.02 cx=637.5 cy=270.9 /><circle r=3.02 cx=635.9 cy=271.1 /><circle r=3.02 cx=636 cy=270.7 /><circle r=3.02 cx=635.6 cy=271.6 /><circle r=3.02 cx=637.1 cy=271.9 /><circle r=3.02 cx=636.8 cy=272.4 /><circle r=3.02 cx=636.9 cy=271.5 /><circle r=3.02 cx=639.1 cy=272.6 /><circle r=3.02 cx=638.9 cy=273.1 /><circle r=3.02 cx=640.4 cy=272.6 /><circle r=3.02 cx=638.9 cy=272.3 /><circle r=3.02 cx=639 cy=271.8 /><circle r=3.02 cx=640.1 cy=273.1 /><circle r=3.02 cx=640 cy=272.3 /><circle r=3.02 cx=642.1 cy=273.5 /><circle r=3.02 cx=642.2 cy=273 /><circle r=3.02 cx=643.3 cy=273.5 /><circle r=3.02 cx=645.4 cy=274.9 /><circle r=3.02 cx=646.7 cy=275.3 /><circle r=3.02 cx=645.2 cy=274.4 /><circle r=3.02 cx=646.6 cy=275 /><circle r=3.02 cx=649 cy=275.7 /><circle r=3.02 cx=648.4 cy=276.1 /><circle r=3.02 cx=649.9 cy=276.2 /><circle r=3.02 cx=651.8 cy=277.2 /><circle r=3.02 cx=652.8 cy=277.7 /></g><g class=c5><circle r=3.02 cx=626.3 cy=269.5 /><circle r=3.02 cx=628.8 cy=271.7 /><circle r=3.02 cx=628.8 cy=271.2 /><circle r=3.02 cx=628.8 cy=270.3 /><circle r=3.02 cx=628.9 cy=269.8 /><circle r=3.02 cx=628.7 cy=270.8 /><circle r=3.02 cx=630.3 cy=271.5 /><circle r=3.02 cx=630.1 cy=271.9 /><circle r=3.02 cx=630.2 cy=271 /><circle r=3.02 cx=630.2 cy=270.5 /><circle r=3.02 cx=633.7 cy=272.7 /><circle r=3.02 cx=633.6 cy=272.2 /><circle r=3.02 cx=633.9 cy=271.3 /><circle r=3.02 cx=633.7 cy=271.8 /><circle r=3.02 cx=633.4 cy=273.2 /><circle r=3.02 cx=635.9 cy=273.7 /><circle r=3.02 cx=635.9 cy=272.8 /><circle r=3.02 cx=635.9 cy=272.4 /><circle r=3.02 cx=637.2 cy=273.2 /><circle r=3.02 cx=637.2 cy=272.8 /><circle r=3.02 cx=639.3 cy=274.4 /><circle r=3.02 cx=639.2 cy=273.9 /><circle r=3.02 cx=639 cy=273.5 /><circle r=3.02 cx=640.5 cy=273.9 /><circle r=3.02 cx=640.2 cy=274.4 /><circle r=3.02 cx=640 cy=274.8 /><circle r=3.02 cx=642.6 cy=275.6 /><circle r=3.02 cx=640.2 cy=273.5 /><circle r=3.02 cx=642.6 cy=275.2 /><circle r=3.02 cx=642.8 cy=274.3 /><circle r=3.02 cx=642.4 cy=274.7 /><circle r=3.02 cx=643.4 cy=276.1 /><circle r=3.02 cx=643.7 cy=275.2 /><circle r=3.02 cx=642.5 cy=273.9 /><circle r=3.02 cx=644.2 cy=273.9 /><circle r=3.02 cx=643.3 cy=275.7 /><circle r=3.02 cx=643.3 cy=274.8 /><circle r=3.02 cx=643.6 cy=274.4 /><circle r=3.02 cx=645.5 cy=276.6 /><circle r=3.02 cx=647.3 cy=276.7 /><circle r=3.02 cx=647.5 cy=276.2 /><circle r=3.02 cx=645.3 cy=276.2 /><circle r=3.02 cx=646.6 cy=277.1 /><circle r=3.02 cx=645.2 cy=275.7 /><circle r=3.02 cx=647 cy=275.8 /><circle r=3.02 cx=645.1 cy=275.3 /><circle r=3.02 cx=649.1 cy=277.1 /><circle r=3.02 cx=648.2 cy=277.9 /><circle r=3.02 cx=648.4 cy=277.5 /><circle r=3.02 cx=648.7 cy=276.6 /><circle r=3.02 cx=649.4 cy=278.4 /><circle r=3.02 cx=650.2 cy=277.1 /><circle r=3.02 cx=649.7 cy=277.5 /><circle r=3.02 cx=649.5 cy=278 /><circle r=3.02 cx=650.2 cy=276.7 /><circle r=3.02 cx=652.3 cy=278.1 /><circle r=3.02 cx=651.4 cy=278.9 /><circle r=3.02 cx=652.4 cy=277.7 /><circle r=3.02 cx=651.7 cy=278.5 /><circle r=3.02 cx=653.1 cy=279.6 /><circle r=3.02 cx=653.4 cy=279.2 /><circle r=3.02 cx=653.1 cy=278.7 /><circle r=3.02 cx=652.6 cy=278.2 /><circle r=3.02 cx=654.6 cy=280.5 /><circle r=3.02 cx=655.2 cy=279.6 /><circle r=3.02 cx=655.5 cy=278.8 /><circle r=3.02 cx=654.8 cy=279.1 /><circle r=3.02 cx=656.5 cy=279.9 /><circle r=3.02 cx=656.1 cy=280.3 /><circle r=3.02 cx=656 cy=280.9 /><circle r=3.02 cx=656.1 cy=279.4 /><circle r=3.02 cx=658.2 cy=281.4 /><circle r=3.02 cx=658.4 cy=281 /><circle r=3.02 cx=658.5 cy=280.5 /><circle r=3.02 cx=660.2 cy=282.5 /><circle r=3.02 cx=660.1 cy=281.9 /><circle r=3.02 cx=659.1 cy=281.2 /><circle r=3.02 cx=661.8 cy=283.1 /><circle r=3.02 cx=662 cy=282.7 /><circle r=3.02 cx=664 cy=283.7 /><circle r=3.02 cx=662.9 cy=284 /></g><g class=c6><circle r=3.02 cx=628.8 cy=273.6 /><circle r=3.02 cx=628.9 cy=272.2 /><circle r=3.02 cx=630.1 cy=273.3 /><circle r=3.02 cx=630.1 cy=273.8 /><circle r=3.02 cx=630.2 cy=272.9 /><circle r=3.02 cx=630.1 cy=272.4 /><circle r=3.02 cx=632.3 cy=274.7 /><circle r=3.02 cx=633.7 cy=274.9 /><circle r=3.02 cx=632.3 cy=274.2 /><circle r=3.02 cx=633.7 cy=274.5 /><circle r=3.02 cx=632.4 cy=273.3 /><circle r=3.02 cx=633.6 cy=274 /><circle r=3.02 cx=633.7 cy=273.6 /><circle r=3.02 cx=637.3 cy=275.4 /><circle r=3.02 cx=635.8 cy=275.1 /><circle r=3.02 cx=635.8 cy=275.6 /><circle r=3.02 cx=635.9 cy=274.2 /><circle r=3.02 cx=637.1 cy=274.1 /><circle r=3.02 cx=637 cy=275 /><circle r=3.02 cx=637.1 cy=274.6 /><circle r=3.02 cx=639.2 cy=275.7 /><circle r=3.02 cx=639.1 cy=276.2 /><circle r=3.02 cx=640.4 cy=276.6 /><circle r=3.02 cx=639.1 cy=275.3 /><circle r=3.02 cx=640.4 cy=275.2 /><circle r=3.02 cx=640.2 cy=275.7 /><circle r=3.02 cx=640.1 cy=276.1 /><circle r=3.02 cx=642.4 cy=277 /><circle r=3.02 cx=642 cy=277.9 /><circle r=3.02 cx=642.4 cy=276.5 /><circle r=3.02 cx=642.4 cy=276 /><circle r=3.02 cx=641.8 cy=277.4 /><circle r=3.02 cx=643.5 cy=277.5 /><circle r=3.02 cx=643.8 cy=276.6 /><circle r=3.02 cx=643.5 cy=277 /><circle r=3.02 cx=645.6 cy=278 /><circle r=3.02 cx=645.2 cy=278.4 /><circle r=3.02 cx=646 cy=277.1 /><circle r=3.02 cx=645.6 cy=277.5 /><circle r=3.02 cx=647.2 cy=277.6 /><circle r=3.02 cx=646.2 cy=278.8 /><circle r=3.02 cx=646.4 cy=278.4 /><circle r=3.02 cx=646.4 cy=278 /><circle r=3.02 cx=648.6 cy=279.8 /><circle r=3.02 cx=648.8 cy=279.3 /><circle r=3.02 cx=648.8 cy=278.4 /><circle r=3.02 cx=648.4 cy=278.8 /><circle r=3.02 cx=649.6 cy=280.3 /><circle r=3.02 cx=650.1 cy=279.4 /><circle r=3.02 cx=649.3 cy=279.8 /><circle r=3.02 cx=649.7 cy=278.9 /><circle r=3.02 cx=652.5 cy=280.5 /><circle r=3.02 cx=651.6 cy=280.8 /><circle r=3.02 cx=652.3 cy=279.5 /><circle r=3.02 cx=651.9 cy=279.9 /><circle r=3.02 cx=653 cy=281.5 /><circle r=3.02 cx=653.4 cy=280.6 /><circle r=3.02 cx=653 cy=281 /><circle r=3.02 cx=653.1 cy=280.1 /><circle r=3.02 cx=655.2 cy=282.1 /><circle r=3.02 cx=655.2 cy=281.1 /><circle r=3.02 cx=654.7 cy=281.5 /><circle r=3.02 cx=656.2 cy=282.8 /><circle r=3.02 cx=656.3 cy=282.3 /><circle r=3.02 cx=656.6 cy=281.4 /><circle r=3.02 cx=655.6 cy=281.7 /><circle r=3.02 cx=658.5 cy=283.5 /><circle r=3.02 cx=659 cy=283.2 /><circle r=3.02 cx=658.5 cy=282.5 /><circle r=3.02 cx=658.5 cy=282 /><circle r=3.02 cx=659.7 cy=284.5 /><circle r=3.02 cx=660.2 cy=283.5 /><circle r=3.02 cx=659.4 cy=283.9 /><circle r=3.02 cx=659.8 cy=282.9 /><circle r=3.02 cx=662 cy=284.3 /><circle r=3.02 cx=661.9 cy=283.7 /><circle r=3.02 cx=662.7 cy=285.6 /><circle r=3.02 cx=662.7 cy=285 /><circle r=3.02 cx=662.8 cy=284.5 /></g><g class=c7><circle r=3.02 cx=630 cy=275.3 /><circle r=3.02 cx=632.6 cy=275.6 /><circle r=3.02 cx=633.8 cy=276.4 /><circle r=3.02 cx=632.4 cy=276.1 /><circle r=3.02 cx=632.1 cy=276.6 /><circle r=3.02 cx=633.9 cy=275.4 /><circle r=3.02 cx=632.4 cy=275.1 /><circle r=3.02 cx=633.4 cy=275.9 /><circle r=3.02 cx=635.8 cy=277 /><circle r=3.02 cx=637.2 cy=277.9 /><circle r=3.02 cx=635.8 cy=276.5 /><circle r=3.02 cx=637.1 cy=277.4 /><circle r=3.02 cx=637.2 cy=276.4 /><circle r=3.02 cx=635.8 cy=276 /><circle r=3.02 cx=637 cy=276.9 /><circle r=3.02 cx=637.3 cy=275.9 /><circle r=3.02 cx=639 cy=278.5 /><circle r=3.02 cx=639.4 cy=276.7 /><circle r=3.02 cx=640.4 cy=278.5 /><circle r=3.02 cx=639.1 cy=277.6 /><circle r=3.02 cx=639.2 cy=277.1 /><circle r=3.02 cx=638.8 cy=278 /><circle r=3.02 cx=640.3 cy=278 /><circle r=3.02 cx=640.5 cy=277.1 /><circle r=3.02 cx=640.2 cy=277.5 /><circle r=3.02 cx=642.3 cy=278.9 /><circle r=3.02 cx=643.5 cy=279.9 /><circle r=3.02 cx=641.9 cy=279.3 /><circle r=3.02 cx=643.7 cy=278.9 /><circle r=3.02 cx=643.7 cy=278 /><circle r=3.02 cx=641.9 cy=278.3 /><circle r=3.02 cx=643 cy=279.2 /><circle r=3.02 cx=643.3 cy=278.4 /><circle r=3.02 cx=645.1 cy=280.8 /><circle r=3.02 cx=645.4 cy=279.9 /><circle r=3.02 cx=645 cy=280.2 /><circle r=3.02 cx=645.5 cy=278.9 /><circle r=3.02 cx=645.1 cy=279.3 /><circle r=3.02 cx=646.3 cy=280.8 /><circle r=3.02 cx=646.5 cy=280.3 /><circle r=3.02 cx=646.7 cy=279.4 /><circle r=3.02 cx=646.4 cy=279.8 /><circle r=3.02 cx=649 cy=281.3 /><circle r=3.02 cx=648.9 cy=280.8 /><circle r=3.02 cx=648 cy=281.6 /><circle r=3.02 cx=649.8 cy=281.8 /><circle r=3.02 cx=648.5 cy=280.2 /><circle r=3.02 cx=649.6 cy=281.3 /><circle r=3.02 cx=649.8 cy=280.8 /><circle r=3.02 cx=651.7 cy=282.8 /><circle r=3.02 cx=651.9 cy=281.9 /><circle r=3.02 cx=651.5 cy=282.3 /><circle r=3.02 cx=652 cy=281.4 /><circle r=3.02 cx=654 cy=282.2 /><circle r=3.02 cx=653.1 cy=283.1 /><circle r=3.02 cx=652.6 cy=282.4 /><circle r=3.02 cx=655 cy=284.1 /><circle r=3.02 cx=655 cy=283.6 /><circle r=3.02 cx=655.2 cy=283.1 /><circle r=3.02 cx=655 cy=282.5 /><circle r=3.02 cx=656 cy=284.8 /><circle r=3.02 cx=656.3 cy=283.8 /><circle r=3.02 cx=655.6 cy=284.2 /><circle r=3.02 cx=656.3 cy=283.3 /><circle r=3.02 cx=658.1 cy=285 /><circle r=3.02 cx=658.6 cy=284.6 /><circle r=3.02 cx=657.7 cy=285.4 /><circle r=3.02 cx=658.2 cy=283.9 /><circle r=3.02 cx=660 cy=286.1 /><circle r=3.02 cx=659.2 cy=286.4 /><circle r=3.02 cx=660.1 cy=285.6 /><circle r=3.02 cx=660.2 cy=285.1 /><circle r=3.02 cx=661.9 cy=287 /><circle r=3.02 cx=662.2 cy=286.4 /><circle r=3.02 cx=661.8 cy=285.8 /><circle r=3.02 cx=662.7 cy=287.7 /><circle r=3.02 cx=662.9 cy=287.3 /><circle r=3.02 cx=662.9 cy=286.7 /><circle r=3.02 cx=663.1 cy=286.2 /><circle r=3.02 cx=665.6 cy=288.9 /><circle r=3.02 cx=665.3 cy=288.1 /></g><g class=c8><circle r=3.02 cx=632.3 cy=277.6 /><circle r=3.02 cx=633.7 cy=277.4 /><circle r=3.02 cx=633.8 cy=276.9 /><circle r=3.02 cx=636.1 cy=278 /><circle r=3.02 cx=636 cy=277.5 /><circle r=3.02 cx=637.2 cy=278.9 /><circle r=3.02 cx=636.7 cy=279.8 /><circle r=3.02 cx=636.8 cy=279.3 /><circle r=3.02 cx=637 cy=278.3 /><circle r=3.02 cx=639.4 cy=279.6 /><circle r=3.02 cx=639 cy=280.6 /><circle r=3.02 cx=640.3 cy=280.5 /><circle r=3.02 cx=639.2 cy=279.1 /><circle r=3.02 cx=638.8 cy=280 /><circle r=3.02 cx=640.5 cy=280.1 /><circle r=3.02 cx=640.3 cy=279.5 /><circle r=3.02 cx=640.4 cy=279 /><circle r=3.02 cx=642.5 cy=281.4 /><circle r=3.02 cx=642.6 cy=280.9 /><circle r=3.02 cx=642.7 cy=279.9 /><circle r=3.02 cx=643.5 cy=280.9 /><circle r=3.02 cx=641.9 cy=280.2 /><circle r=3.02 cx=643.6 cy=280.4 /><circle r=3.02 cx=643.1 cy=281.3 /><circle r=3.02 cx=645.8 cy=282 /><circle r=3.02 cx=645.5 cy=281.4 /><circle r=3.02 cx=645 cy=282.2 /><circle r=3.02 cx=646.5 cy=282.9 /><circle r=3.02 cx=646.6 cy=282.4 /><circle r=3.02 cx=646.3 cy=281.8 /><circle r=3.02 cx=646.5 cy=281.3 /><circle r=3.02 cx=648.5 cy=283.8 /><circle r=3.02 cx=648.7 cy=283.3 /><circle r=3.02 cx=650.1 cy=283.9 /><circle r=3.02 cx=648.5 cy=282.7 /><circle r=3.02 cx=648.5 cy=282.2 /><circle r=3.02 cx=650.7 cy=282.5 /><circle r=3.02 cx=649.8 cy=283.3 /><circle r=3.02 cx=649.4 cy=282.7 /><circle r=3.02 cx=652.4 cy=284 /><circle r=3.02 cx=651.7 cy=284.4 /><circle r=3.02 cx=651.7 cy=283.3 /><circle r=3.02 cx=652.9 cy=285.6 /><circle r=3.02 cx=653 cy=285.1 /><circle r=3.02 cx=653 cy=284.5 /><circle r=3.02 cx=653.3 cy=284.1 /><circle r=3.02 cx=653.3 cy=283.6 /><circle r=3.02 cx=654.9 cy=286.2 /><circle r=3.02 cx=654.6 cy=285.6 /><circle r=3.02 cx=654.7 cy=285 /><circle r=3.02 cx=656.8 cy=286.7 /><circle r=3.02 cx=656.1 cy=285.9 /><circle r=3.02 cx=656.8 cy=285.6 /><circle r=3.02 cx=658.2 cy=287.2 /><circle r=3.02 cx=658.6 cy=286.8 /><circle r=3.02 cx=657.8 cy=286 /><circle r=3.02 cx=660.1 cy=287.8 /><circle r=3.02 cx=659.2 cy=288 /><circle r=3.02 cx=659 cy=286.9 /><circle r=3.02 cx=662.4 cy=288.8 /><circle r=3.02 cx=661.7 cy=289.1 /><circle r=3.02 cx=662.3 cy=287.6 /><circle r=3.02 cx=661.5 cy=287.9 /><circle r=3.02 cx=663.6 cy=289.7 /><circle r=3.02 cx=663.2 cy=289 /><circle r=3.02 cx=663.3 cy=288.5 /><circle r=3.02 cx=666.4 cy=290.9 /><circle r=3.02 cx=666.3 cy=290.3 /><circle r=3.02 cx=665.8 cy=289.5 /></g><g class=c9><circle r=3.02 cx=635.8 cy=281.1 /><circle r=3.02 cx=635.8 cy=280.6 /><circle r=3.02 cx=635.9 cy=279.5 /><circle r=3.02 cx=636.9 cy=281.4 /><circle r=3.02 cx=637 cy=280.4 /><circle r=3.02 cx=639 cy=282.2 /><circle r=3.02 cx=639.2 cy=281.2 /><circle r=3.02 cx=640 cy=282.5 /><circle r=3.02 cx=640.1 cy=282.1 /><circle r=3.02 cx=640.4 cy=281.1 /><circle r=3.02 cx=642.5 cy=283 /><circle r=3.02 cx=639.9 cy=281.5 /><circle r=3.02 cx=642.2 cy=283.5 /><circle r=3.02 cx=642.6 cy=282 /><circle r=3.02 cx=643.7 cy=283.6 /><circle r=3.02 cx=643.9 cy=282.6 /><circle r=3.02 cx=642.1 cy=282.4 /><circle r=3.02 cx=643.7 cy=283 /><circle r=3.02 cx=643.7 cy=282 /><circle r=3.02 cx=645.2 cy=284.4 /><circle r=3.02 cx=645.4 cy=283.4 /><circle r=3.02 cx=645.3 cy=283.9 /><circle r=3.02 cx=646.7 cy=284.5 /><circle r=3.02 cx=645.4 cy=282.9 /><circle r=3.02 cx=646.4 cy=283.9 /><circle r=3.02 cx=646.4 cy=283.3 /><circle r=3.02 cx=648.7 cy=285.5 /><circle r=3.02 cx=648.6 cy=284.3 /><circle r=3.02 cx=648.3 cy=284.7 /><circle r=3.02 cx=649.7 cy=286 /><circle r=3.02 cx=650 cy=285.6 /><circle r=3.02 cx=650.2 cy=285.1 /><circle r=3.02 cx=650.1 cy=284.5 /><circle r=3.02 cx=651.8 cy=286.6 /><circle r=3.02 cx=652.2 cy=286.1 /><circle r=3.02 cx=651.9 cy=285.5 /><circle r=3.02 cx=652.1 cy=285 /><circle r=3.02 cx=653.2 cy=286.8 /><circle r=3.02 cx=653.4 cy=286.3 /><circle r=3.02 cx=655.1 cy=288 /><circle r=3.02 cx=654.5 cy=287.1 /><circle r=3.02 cx=656.3 cy=288.1 /><circle r=3.02 cx=654.3 cy=286.5 /><circle r=3.02 cx=656.3 cy=287.7 /><circle r=3.02 cx=656.3 cy=287.1 /><circle r=3.02 cx=658.6 cy=289 /><circle r=3.02 cx=658.2 cy=289.5 /><circle r=3.02 cx=658 cy=288.3 /><circle r=3.02 cx=658.4 cy=287.8 /><circle r=3.02 cx=659 cy=290.3 /><circle r=3.02 cx=659.3 cy=289.8 /><circle r=3.02 cx=660.1 cy=289.6 /><circle r=3.02 cx=659.5 cy=288.8 /><circle r=3.02 cx=661.7 cy=290.9 /><circle r=3.02 cx=662.4 cy=290 /><circle r=3.02 cx=662 cy=290.5 /><circle r=3.02 cx=663.9 cy=291.1 /><circle r=3.02 cx=662.9 cy=291.3 /><circle r=3.02 cx=664.2 cy=290.6 /><circle r=3.02 cx=665.4 cy=292.4 /><circle r=3.02 cx=664.6 cy=291.4 /><circle r=3.02 cx=665.6 cy=291.3 /><circle r=3.02 cx=667.8 cy=293.4 /><circle r=3.02 cx=667.7 cy=292.7 /></g><g class=c10><circle r=3.02 cx=639.4 cy=284 /><circle r=3.02 cx=638.9 cy=283.3 /><circle r=3.02 cx=639 cy=282.7 /><circle r=3.02 cx=640.5 cy=283.3 /><circle r=3.02 cx=639.9 cy=284.2 /><circle r=3.02 cx=639.9 cy=283.6 /><circle r=3.02 cx=642.3 cy=285.2 /><circle r=3.02 cx=642.3 cy=284.7 /><circle r=3.02 cx=642.2 cy=284 /><circle r=3.02 cx=643.6 cy=285.3 /><circle r=3.02 cx=643.6 cy=284.7 /><circle r=3.02 cx=643.8 cy=284.2 /><circle r=3.02 cx=645.4 cy=285.7 /><circle r=3.02 cx=645.4 cy=285.1 /><circle r=3.02 cx=646.6 cy=286.2 /><circle r=3.02 cx=646.7 cy=285.7 /><circle r=3.02 cx=646.9 cy=285.2 /><circle r=3.02 cx=649.2 cy=286.8 /><circle r=3.02 cx=648.7 cy=287.2 /><circle r=3.02 cx=650.4 cy=287.4 /><circle r=3.02 cx=649.7 cy=287.7 /><circle r=3.02 cx=648.4 cy=285.9 /><circle r=3.02 cx=649.3 cy=288.1 /><circle r=3.02 cx=649.9 cy=286.6 /><circle r=3.02 cx=651.5 cy=288.2 /><circle r=3.02 cx=651.8 cy=287.7 /><circle r=3.02 cx=653.3 cy=289.2 /><circle r=3.02 cx=653.3 cy=288.6 /><circle r=3.02 cx=651.6 cy=287.1 /><circle r=3.02 cx=653.4 cy=287.5 /><circle r=3.02 cx=652.7 cy=287.7 /><circle r=3.02 cx=654.9 cy=289.7 /><circle r=3.02 cx=655.3 cy=288.6 /><circle r=3.02 cx=654.4 cy=288.8 /><circle r=3.02 cx=656.4 cy=290 /><circle r=3.02 cx=656.8 cy=289.6 /><circle r=3.02 cx=656.3 cy=288.8 /><circle r=3.02 cx=658.3 cy=291.4 /><circle r=3.02 cx=658.3 cy=290.7 /><circle r=3.02 cx=657.7 cy=289.9 /><circle r=3.02 cx=659.9 cy=291.9 /><circle r=3.02 cx=659.7 cy=291.2 /><circle r=3.02 cx=661.5 cy=292.7 /><circle r=3.02 cx=662 cy=291.6 /><circle r=3.02 cx=661.3 cy=292 /><circle r=3.02 cx=663.8 cy=293.6 /><circle r=3.02 cx=663.4 cy=292.8 /><circle r=3.02 cx=662.9 cy=291.9 /><circle r=3.02 cx=665.5 cy=294.3 /><circle r=3.02 cx=665 cy=293.5 /><circle r=3.02 cx=666 cy=293.3 /><circle r=3.02 cx=666.7 cy=295.5 /><circle r=3.02 cx=666.8 cy=294.8 /><circle r=3.02 cx=666.7 cy=294.2 /><circle r=3.02 cx=667.8 cy=294.1 /><circle r=3.02 cx=670.3 cy=296.7 /></g><g class=c11><circle r=3.02 cx=638.9 cy=286.2 /><circle r=3.02 cx=639 cy=285 /><circle r=3.02 cx=639.1 cy=284.5 /><circle r=3.02 cx=638.8 cy=285.5 /><circle r=3.02 cx=640.3 cy=286.2 /><circle r=3.02 cx=640.2 cy=285.5 /><circle r=3.02 cx=640.3 cy=284.9 /><circle r=3.02 cx=642.1 cy=287 /><circle r=3.02 cx=641.8 cy=287.4 /><circle r=3.02 cx=642.2 cy=286.4 /><circle r=3.02 cx=643.6 cy=286.5 /><circle r=3.02 cx=641.9 cy=285.7 /><circle r=3.02 cx=643.4 cy=286.9 /><circle r=3.02 cx=643.4 cy=285.8 /><circle r=3.02 cx=645.5 cy=288.1 /><circle r=3.02 cx=645.4 cy=287.5 /><circle r=3.02 cx=645.7 cy=286.4 /><circle r=3.02 cx=646.5 cy=288.6 /><circle r=3.02 cx=647 cy=287 /><circle r=3.02 cx=645.1 cy=286.7 /><circle r=3.02 cx=646.5 cy=288 /><circle r=3.02 cx=646.7 cy=287.5 /><circle r=3.02 cx=648.3 cy=288.8 /><circle r=3.02 cx=648.6 cy=288.4 /><circle r=3.02 cx=648.6 cy=287.8 /><circle r=3.02 cx=650.1 cy=289.1 /><circle r=3.02 cx=649.8 cy=289.6 /><circle r=3.02 cx=652.1 cy=290.3 /><circle r=3.02 cx=652.3 cy=289.7 /><circle r=3.02 cx=652.2 cy=289.1 /><circle r=3.02 cx=653.3 cy=291.1 /><circle r=3.02 cx=653.5 cy=290.5 /><circle r=3.02 cx=653.5 cy=289.9 /><circle r=3.02 cx=655.1 cy=291.6 /><circle r=3.02 cx=654.4 cy=290.6 /><circle r=3.02 cx=654.7 cy=290.2 /><circle r=3.02 cx=656.1 cy=292.3 /><circle r=3.02 cx=656.2 cy=291.8 /><circle r=3.02 cx=656.5 cy=290.7 /><circle r=3.02 cx=655.8 cy=290.9 /><circle r=3.02 cx=657.2 cy=293.4 /><circle r=3.02 cx=658.1 cy=292.5 /><circle r=3.02 cx=657.7 cy=293 /><circle r=3.02 cx=658.3 cy=292 /><circle r=3.02 cx=659.5 cy=293.7 /><circle r=3.02 cx=659.9 cy=293.2 /><circle r=3.02 cx=659.8 cy=292.5 /><circle r=3.02 cx=662.3 cy=294.3 /><circle r=3.02 cx=661.4 cy=294.6 /><circle r=3.02 cx=661.9 cy=293.5 /><circle r=3.02 cx=663.4 cy=295.4 /><circle r=3.02 cx=663.7 cy=294.1 /><circle r=3.02 cx=663 cy=294.5 /><circle r=3.02 cx=665.9 cy=296.6 /><circle r=3.02 cx=665.8 cy=295.9 /><circle r=3.02 cx=665.8 cy=295.2 /><circle r=3.02 cx=667 cy=297 /><circle r=3.02 cx=667.4 cy=296.5 /><circle r=3.02 cx=669.8 cy=298.6 /><circle r=3.02 cx=669.7 cy=297.8 /><circle r=3.02 cx=669.7 cy=297.1 /></g><g class=c12><circle r=3.02 cx=640.3 cy=286.8 /><circle r=3.02 cx=642.1 cy=288.9 /><circle r=3.02 cx=642.1 cy=288.2 /><circle r=3.02 cx=643.5 cy=288.9 /><circle r=3.02 cx=643.1 cy=289.4 /><circle r=3.02 cx=643.6 cy=287.7 /><circle r=3.02 cx=643.1 cy=288.1 /><circle r=3.02 cx=645.5 cy=290 /><circle r=3.02 cx=645.9 cy=289 /><circle r=3.02 cx=645.6 cy=289.4 /><circle r=3.02 cx=646.6 cy=290.6 /><circle r=3.02 cx=646.9 cy=289.5 /><circle r=3.02 cx=646.5 cy=289.9 /><circle r=3.02 cx=648.8 cy=291 /><circle r=3.02 cx=648.9 cy=289.8 /><circle r=3.02 cx=648.7 cy=290.3 /><circle r=3.02 cx=650.1 cy=290.4 /><circle r=3.02 cx=649.6 cy=290.8 /><circle r=3.02 cx=649.4 cy=291.3 /><circle r=3.02 cx=652.8 cy=291.3 /><circle r=3.02 cx=651.5 cy=292.5 /><circle r=3.02 cx=651.8 cy=292 /><circle r=3.02 cx=651.8 cy=291.4 /><circle r=3.02 cx=653.2 cy=293 /><circle r=3.02 cx=653.2 cy=292.3 /><circle r=3.02 cx=653.4 cy=291.7 /><circle r=3.02 cx=654.3 cy=293.8 /><circle r=3.02 cx=655 cy=292.8 /><circle r=3.02 cx=654.3 cy=293.1 /><circle r=3.02 cx=654.9 cy=292.1 /><circle r=3.02 cx=656.1 cy=293.7 /><circle r=3.02 cx=656.4 cy=293.2 /><circle r=3.02 cx=658.4 cy=294.7 /><circle r=3.02 cx=660.3 cy=295.4 /><circle r=3.02 cx=659.1 cy=295.5 /><circle r=3.02 cx=659.9 cy=294.6 /><circle r=3.02 cx=661.4 cy=295.9 /><circle r=3.02 cx=661.9 cy=295.5 /><circle r=3.02 cx=663.4 cy=297.4 /><circle r=3.02 cx=663.1 cy=296.6 /><circle r=3.02 cx=663.8 cy=296.3 /><circle r=3.02 cx=665.7 cy=298.6 /><circle r=3.02 cx=665.7 cy=297.9 /><circle r=3.02 cx=665.7 cy=297.1 /><circle r=3.02 cx=667.6 cy=298.7 /><circle r=3.02 cx=666.5 cy=298.8 /><circle r=3.02 cx=667.2 cy=297.8 /><circle r=3.02 cx=669.8 cy=300.7 /><circle r=3.02 cx=669.6 cy=299.9 /><circle r=3.02 cx=669.4 cy=299.1 /><circle r=3.02 cx=671.5 cy=301.6 /></g><g class=c13><circle r=3.02 cx=643.3 cy=290.2 /><circle r=3.02 cx=645.3 cy=292 /><circle r=3.02 cx=645.3 cy=291.3 /><circle r=3.02 cx=646.7 cy=292.1 /><circle r=3.02 cx=645.4 cy=290.7 /><circle r=3.02 cx=646.6 cy=291.3 /><circle r=3.02 cx=648.8 cy=293.1 /><circle r=3.02 cx=648.6 cy=292.2 /><circle r=3.02 cx=649.6 cy=293.5 /><circle r=3.02 cx=650.2 cy=292.5 /><circle r=3.02 cx=649.8 cy=292.9 /><circle r=3.02 cx=648.6 cy=291.5 /><circle r=3.02 cx=651.5 cy=293.3 /><circle r=3.02 cx=653.2 cy=294.3 /><circle r=3.02 cx=652.8 cy=293.4 /><circle r=3.02 cx=654.9 cy=295.6 /><circle r=3.02 cx=654.8 cy=294.8 /><circle r=3.02 cx=656.5 cy=296 /><circle r=3.02 cx=656.5 cy=295.3 /><circle r=3.02 cx=656.3 cy=294.5 /><circle r=3.02 cx=658.6 cy=296.1 /><circle r=3.02 cx=657.8 cy=296.4 /><circle r=3.02 cx=658.8 cy=295.6 /><circle r=3.02 cx=659.5 cy=297.8 /><circle r=3.02 cx=659.6 cy=297.1 /><circle r=3.02 cx=659.5 cy=296.3 /><circle r=3.02 cx=662 cy=298.4 /><circle r=3.02 cx=661.6 cy=297.4 /><circle r=3.02 cx=661.9 cy=296.9 /><circle r=3.02 cx=663.7 cy=299.1 /><circle r=3.02 cx=663.5 cy=298.2 /><circle r=3.02 cx=665 cy=300.4 /><circle r=3.02 cx=665.4 cy=299.9 /><circle r=3.02 cx=664.8 cy=298.8 /><circle r=3.02 cx=667 cy=300.6 /><circle r=3.02 cx=666.9 cy=299.7 /><circle r=3.02 cx=669.7 cy=302.2 /><circle r=3.02 cx=670 cy=301.6 /><circle r=3.02 cx=671.1 cy=302.9 /><circle r=3.02 cx=670.6 cy=302 /></g><g class=c14><circle r=3.02 cx=643.3 cy=291.6 /><circle r=3.02 cx=645.5 cy=293.6 /><circle r=3.02 cx=645.4 cy=292.8 /><circle r=3.02 cx=646.5 cy=293.4 /><circle r=3.02 cx=646.7 cy=292.7 /><circle r=3.02 cx=648.4 cy=295 /><circle r=3.02 cx=648.6 cy=294.4 /><circle r=3.02 cx=648.6 cy=293.7 /><circle r=3.02 cx=650.3 cy=294.7 /><circle r=3.02 cx=649.8 cy=295.1 /><circle r=3.02 cx=651.9 cy=295.6 /><circle r=3.02 cx=652.4 cy=294.5 /><circle r=3.02 cx=651.2 cy=295.9 /><circle r=3.02 cx=653.3 cy=296.6 /><circle r=3.02 cx=651.6 cy=294.7 /><circle r=3.02 cx=653 cy=295.7 /><circle r=3.02 cx=653.2 cy=295.1 /><circle r=3.02 cx=654.9 cy=296.3 /><circle r=3.02 cx=654.2 cy=296.5 /><circle r=3.02 cx=655.4 cy=298.2 /><circle r=3.02 cx=656.2 cy=297.3 /><circle r=3.02 cx=656.5 cy=296.7 /><circle r=3.02 cx=655.6 cy=297.6 /><circle r=3.02 cx=658.2 cy=298.9 /><circle r=3.02 cx=658.1 cy=298.1 /><circle r=3.02 cx=658 cy=297.3 /><circle r=3.02 cx=659.8 cy=298.8 /><circle r=3.02 cx=658.3 cy=298.5 /><circle r=3.02 cx=661.6 cy=300.3 /><circle r=3.02 cx=662 cy=299.9 /><circle r=3.02 cx=661.9 cy=299 /><circle r=3.02 cx=663.2 cy=301 /><circle r=3.02 cx=663.7 cy=300.6 /><circle r=3.02 cx=663.5 cy=299.7 /><circle r=3.02 cx=665.4 cy=302.1 /><circle r=3.02 cx=665.3 cy=301.3 /><circle r=3.02 cx=667.6 cy=303.3 /><circle r=3.02 cx=666.9 cy=302.1 /><circle r=3.02 cx=667.4 cy=301.6 /><circle r=3.02 cx=669.2 cy=304.2 /><circle r=3.02 cx=670.1 cy=303.2 /><circle r=3.02 cx=668.9 cy=303.3 /><circle r=3.02 cx=671.2 cy=305.4 /><circle r=3.02 cx=671.6 cy=304.8 /><circle r=3.02 cx=671.6 cy=304.1 /></g><g class=c15><circle r=3.02 cx=646.6 cy=295.7 /><circle r=3.02 cx=645.2 cy=294.1 /><circle r=3.02 cx=646.8 cy=295.1 /><circle r=3.02 cx=646.9 cy=294.4 /><circle r=3.02 cx=648.7 cy=296.8 /><circle r=3.02 cx=648.6 cy=296 /><circle r=3.02 cx=649.8 cy=296.7 /><circle r=3.02 cx=649.8 cy=295.9 /><circle r=3.02 cx=651.4 cy=298.4 /><circle r=3.02 cx=651.7 cy=297.1 /><circle r=3.02 cx=653 cy=297.9 /><circle r=3.02 cx=653 cy=297.2 /><circle r=3.02 cx=655 cy=299.5 /><circle r=3.02 cx=654.8 cy=298.5 /><circle r=3.02 cx=655 cy=297.8 /><circle r=3.02 cx=656.1 cy=299.5 /><circle r=3.02 cx=658.1 cy=300.4 /><circle r=3.02 cx=658.3 cy=299.7 /><circle r=3.02 cx=660.2 cy=301.3 /><circle r=3.02 cx=659.3 cy=299.9 /><circle r=3.02 cx=661.5 cy=301.9 /><circle r=3.02 cx=661.5 cy=301.1 /><circle r=3.02 cx=663.4 cy=302.7 /><circle r=3.02 cx=663.1 cy=301.7 /><circle r=3.02 cx=665 cy=304.3 /><circle r=3.02 cx=665.1 cy=303.5 /><circle r=3.02 cx=666 cy=303.4 /><circle r=3.02 cx=667.6 cy=304.8 /><circle r=3.02 cx=666.8 cy=303.5 /><circle r=3.02 cx=669.6 cy=306.1 /><circle r=3.02 cx=669.2 cy=305.1 /><circle r=3.02 cx=670.9 cy=306.9 /><circle r=3.02 cx=671.1 cy=306.1 /><circle r=3.02 cx=674.1 cy=308.2 /><circle r=3.02 cx=674.4 cy=307.6 /></g><g class=c16><circle r=3.02 cx=648.2 cy=298 /><circle r=3.02 cx=648.4 cy=297.4 /><circle r=3.02 cx=649.4 cy=298.8 /><circle r=3.02 cx=650 cy=297.6 /><circle r=3.02 cx=649.5 cy=298 /><circle r=3.02 cx=651.9 cy=299.6 /><circle r=3.02 cx=651.6 cy=300.2 /><circle r=3.02 cx=652.4 cy=298.3 /><circle r=3.02 cx=653 cy=300.4 /><circle r=3.02 cx=652.8 cy=299.4 /><circle r=3.02 cx=653.2 cy=298.9 /><circle r=3.02 cx=654.8 cy=300.9 /><circle r=3.02 cx=654.8 cy=300.1 /><circle r=3.02 cx=656.6 cy=301.6 /><circle r=3.02 cx=656 cy=300.3 /><circle r=3.02 cx=658 cy=302.8 /><circle r=3.02 cx=658.6 cy=302.4 /><circle r=3.02 cx=658.3 cy=301.3 /><circle r=3.02 cx=660.3 cy=302.2 /><circle r=3.02 cx=658.9 cy=302 /><circle r=3.02 cx=661.7 cy=303.7 /><circle r=3.02 cx=661.7 cy=302.9 /><circle r=3.02 cx=662.8 cy=304.8 /><circle r=3.02 cx=663 cy=304.1 /><circle r=3.02 cx=663.3 cy=303.5 /><circle r=3.02 cx=665 cy=306 /><circle r=3.02 cx=665.5 cy=305.6 /><circle r=3.02 cx=667 cy=307 /><circle r=3.02 cx=666.8 cy=306 /><circle r=3.02 cx=667.3 cy=305.5 /><circle r=3.02 cx=669.5 cy=307.8 /><circle r=3.02 cx=669.1 cy=306.7 /><circle r=3.02 cx=671.5 cy=309 /><circle r=3.02 cx=671.3 cy=308 /><circle r=3.02 cx=673.5 cy=309.6 /><circle r=3.02 cx=674.3 cy=309.3 /></g><g class=c17><circle r=3.02 cx=649.9 cy=300.9 /><circle r=3.02 cx=649.7 cy=299.9 /><circle r=3.02 cx=652.3 cy=301.7 /><circle r=3.02 cx=652.7 cy=301.9 /><circle r=3.02 cx=652.6 cy=300.9 /><circle r=3.02 cx=654.7 cy=302.6 /><circle r=3.02 cx=655 cy=302 /><circle r=3.02 cx=656.2 cy=303 /><circle r=3.02 cx=656.6 cy=302.4 /><circle r=3.02 cx=657.8 cy=303.5 /><circle r=3.02 cx=659.6 cy=304.3 /><circle r=3.02 cx=659.8 cy=303.5 /><circle r=3.02 cx=661.4 cy=306.1 /><circle r=3.02 cx=661.4 cy=305.2 /><circle r=3.02 cx=661.7 cy=304.5 /><circle r=3.02 cx=663.5 cy=306.2 /><circle r=3.02 cx=665.2 cy=307 /><circle r=3.02 cx=667.1 cy=307.9 /><circle r=3.02 cx=669.5 cy=309.5 /><circle r=3.02 cx=669.2 cy=308.4 /><circle r=3.02 cx=670.9 cy=310.3 /><circle r=3.02 cx=671.7 cy=310 /><circle r=3.02 cx=673.3 cy=312.2 /><circle r=3.02 cx=673.3 cy=311.3 /><circle r=3.02 cx=674.3 cy=311 /><circle r=3.02 cx=676.4 cy=313.6 /></g><g class=c18><circle r=3.02 cx=651.7 cy=303 /><circle r=3.02 cx=653.3 cy=304.2 /><circle r=3.02 cx=651.8 cy=302.2 /><circle r=3.02 cx=653.2 cy=303.2 /><circle r=3.02 cx=655.1 cy=303.9 /><circle r=3.02 cx=654.5 cy=304.2 /><circle r=3.02 cx=655.9 cy=305.5 /><circle r=3.02 cx=656.4 cy=304.9 /><circle r=3.02 cx=656.3 cy=303.9 /><circle r=3.02 cx=658.1 cy=306.6 /><circle r=3.02 cx=658.4 cy=305.8 /><circle r=3.02 cx=658.5 cy=305 /><circle r=3.02 cx=660.4 cy=305.8 /><circle r=3.02 cx=659.7 cy=306.2 /><circle r=3.02 cx=661.2 cy=307.7 /><circle r=3.02 cx=661.3 cy=307 /><circle r=3.02 cx=662.8 cy=308.4 /><circle r=3.02 cx=662.9 cy=307.6 /><circle r=3.02 cx=663.5 cy=307.1 /><circle r=3.02 cx=665.6 cy=309.2 /><circle r=3.02 cx=665.7 cy=308.3 /><circle r=3.02 cx=666.4 cy=310.2 /><circle r=3.02 cx=667.2 cy=309.9 /><circle r=3.02 cx=667.5 cy=309.1 /><circle r=3.02 cx=669.1 cy=311.1 /><circle r=3.02 cx=669.7 cy=310.6 /><circle r=3.02 cx=671.2 cy=312.3 /><circle r=3.02 cx=671.4 cy=311.7 /><circle r=3.02 cx=673.6 cy=314.3 /><circle r=3.02 cx=673.6 cy=313.4 /><circle r=3.02 cx=676.5 cy=315.5 /><circle r=3.02 cx=676.7 cy=314.7 /></g><g class=c19><circle r=3.02 cx=653 cy=305.9 /><circle r=3.02 cx=653.2 cy=305.2 /><circle r=3.02 cx=655 cy=306.6 /><circle r=3.02 cx=654.7 cy=305.4 /><circle r=3.02 cx=656.1 cy=306.6 /><circle r=3.02 cx=658.1 cy=308.5 /><circle r=3.02 cx=657.9 cy=307.3 /><circle r=3.02 cx=660 cy=308.4 /><circle r=3.02 cx=659.1 cy=308.6 /><circle r=3.02 cx=660.1 cy=307.5 /><circle r=3.02 cx=661.3 cy=309.8 /><circle r=3.02 cx=661.7 cy=309.2 /><circle r=3.02 cx=663.3 cy=310.8 /><circle r=3.02 cx=663.5 cy=309.9 /><circle r=3.02 cx=665.2 cy=311.7 /><circle r=3.02 cx=665.3 cy=310.8 /><circle r=3.02 cx=665.7 cy=310.1 /><circle r=3.02 cx=667.2 cy=312.8 /><circle r=3.02 cx=667 cy=311.6 /><circle r=3.02 cx=669 cy=314 /><circle r=3.02 cx=668.9 cy=312.9 /><circle r=3.02 cx=669.5 cy=312.4 /><circle r=3.02 cx=670.9 cy=315 /><circle r=3.02 cx=671.4 cy=314.6 /><circle r=3.02 cx=671.5 cy=313.6 /><circle r=3.02 cx=674.3 cy=315.8 /><circle r=3.02 cx=676 cy=317.2 /><circle r=3.02 cx=676.3 cy=316.3 /></g><g class=c20><circle r=3.02 cx=654.8 cy=307.5 /><circle r=3.02 cx=655.9 cy=308.5 /><circle r=3.02 cx=656.4 cy=307.9 /><circle r=3.02 cx=657.8 cy=310.3 /><circle r=3.02 cx=658.3 cy=309.7 /><circle r=3.02 cx=659.3 cy=310.8 /><circle r=3.02 cx=659.8 cy=310.2 /><circle r=3.02 cx=661.6 cy=311.1 /><circle r=3.02 cx=662.7 cy=312.3 /><circle r=3.02 cx=662.6 cy=311.2 /><circle r=3.02 cx=665.2 cy=313.8 /><circle r=3.02 cx=665.1 cy=312.7 /><circle r=3.02 cx=666.8 cy=314.4 /><circle r=3.02 cx=668 cy=314.5 /><circle r=3.02 cx=669.6 cy=315.5 /><circle r=3.02 cx=671.8 cy=316.9 /><circle r=3.02 cx=673.5 cy=317.2 /><circle r=3.02 cx=674.2 cy=316.8 /><circle r=3.02 cx=676.3 cy=319.5 /><circle r=3.02 cx=676.3 cy=318.4 /><circle r=3.02 cx=678 cy=320.1 /></g><g class=c21><circle r=3.02 cx=655.8 cy=310.5 /><circle r=3.02 cx=656.2 cy=309.8 /><circle r=3.02 cx=658 cy=311.5 /><circle r=3.02 cx=659 cy=312.7 /><circle r=3.02 cx=659.2 cy=311.7 /><circle r=3.02 cx=661.2 cy=312.9 /><circle r=3.02 cx=661.8 cy=312.3 /><circle r=3.02 cx=663.2 cy=313.8 /><circle r=3.02 cx=665.2 cy=314.9 /><circle r=3.02 cx=666.8 cy=315.6 /><circle r=3.02 cx=669.4 cy=317.4 /><circle r=3.02 cx=669.9 cy=316.8 /><circle r=3.02 cx=670.8 cy=318.2 /><circle r=3.02 cx=671.3 cy=317.5 /><circle r=3.02 cx=673.3 cy=320.2 /><circle r=3.02 cx=673.9 cy=319.7 /><circle r=3.02 cx=674.2 cy=318.9 /><circle r=3.02 cx=676.2 cy=321.5 /><circle r=3.02 cx=676.1 cy=320.3 /><circle r=3.02 cx=678.7 cy=322.9 /><circle r=3.02 cx=678.8 cy=321.9 /></g><g class=c22><circle r=3.02 cx=657.7 cy=313.6 /><circle r=3.02 cx=658.1 cy=312.9 /><circle r=3.02 cx=659.3 cy=314.1 /><circle r=3.02 cx=661.1 cy=315 /><circle r=3.02 cx=661.4 cy=314.2 /><circle r=3.02 cx=662.4 cy=316.4 /><circle r=3.02 cx=663.1 cy=315.9 /><circle r=3.02 cx=663 cy=314.7 /><circle r=3.02 cx=665.3 cy=317.2 /><circle r=3.02 cx=665 cy=315.8 /><circle r=3.02 cx=666.6 cy=317.6 /><circle r=3.02 cx=667 cy=316.9 /><circle r=3.02 cx=669.3 cy=319.6 /><circle r=3.02 cx=669.5 cy=318.6 /><circle r=3.02 cx=671 cy=319.5 /><circle r=3.02 cx=673.6 cy=321.6 /><circle r=3.02 cx=675.9 cy=322.4 /><circle r=3.02 cx=678.7 cy=325.2 /><circle r=3.02 cx=678.7 cy=324.1 /><circle r=3.02 cx=681.1 cy=326.5 /></g><g class=c23><circle r=3.02 cx=659.5 cy=316.7 /><circle r=3.02 cx=659.2 cy=315.2 /><circle r=3.02 cx=661.6 cy=316.7 /><circle r=3.02 cx=665.2 cy=319.4 /><circle r=3.02 cx=665.1 cy=318.1 /><circle r=3.02 cx=667.3 cy=319.4 /><circle r=3.02 cx=669.4 cy=320.8 /><circle r=3.02 cx=670.9 cy=321.6 /><circle r=3.02 cx=671.8 cy=321.4 /><circle r=3.02 cx=673.8 cy=324.2 /><circle r=3.02 cx=674.4 cy=323.6 /><circle r=3.02 cx=676 cy=324.7 /><circle r=3.02 cx=676.2 cy=323.8 /><circle r=3.02 cx=678.7 cy=326.4 /><circle r=3.02 cx=680.8 cy=327.3 /></g><g class=c24><circle r=3.02 cx=659.4 cy=317.9 /><circle r=3.02 cx=661.6 cy=319.2 /><circle r=3.02 cx=661.5 cy=317.9 /><circle r=3.02 cx=663.1 cy=319.6 /><circle r=3.02 cx=663.3 cy=318.6 /><circle r=3.02 cx=665.3 cy=320.7 /><circle r=3.02 cx=666.7 cy=321.2 /><circle r=3.02 cx=667.4 cy=320.8 /><circle r=3.02 cx=669.6 cy=323.4 /><circle r=3.02 cx=669.1 cy=321.8 /><circle r=3.02 cx=671.4 cy=324.6 /><circle r=3.02 cx=671.4 cy=323.4 /><circle r=3.02 cx=674.4 cy=326.1 /><circle r=3.02 cx=676 cy=327.2 /><circle r=3.02 cx=675.7 cy=325.6 /><circle r=3.02 cx=678.4 cy=328.6 /><circle r=3.02 cx=678.7 cy=327.6 /><circle r=3.02 cx=681.5 cy=330.5 /><circle r=3.02 cx=681.5 cy=329.3 /></g><g class=c25><circle r=3.02 cx=661.4 cy=320.3 /><circle r=3.02 cx=663.1 cy=320.9 /><circle r=3.02 cx=665.6 cy=322.4 /><circle r=3.02 cx=666.7 cy=323.8 /><circle r=3.02 cx=666.9 cy=322.7 /><circle r=3.02 cx=669 cy=324.1 /><circle r=3.02 cx=671.4 cy=325.9 /><circle r=3.02 cx=674.1 cy=327 /><circle r=3.02 cx=675.7 cy=328.1 /><circle r=3.02 cx=678.5 cy=329.7 /><circle r=3.02 cx=681.4 cy=331.7 /></g><g class=c26><circle r=3.02 cx=662.5 cy=322.9 /><circle r=3.02 cx=663.1 cy=322.3 /><circle r=3.02 cx=665.3 cy=324.8 /><circle r=3.02 cx=665.3 cy=323.5 /><circle r=3.02 cx=667 cy=325.5 /><circle r=3.02 cx=668.9 cy=326.6 /><circle r=3.02 cx=669.6 cy=326.1 /><circle r=3.02 cx=671.6 cy=327.4 /><circle r=3.02 cx=673.8 cy=329.3 /><circle r=3.02 cx=674.2 cy=328.3 /><circle r=3.02 cx=675.6 cy=330.6 /><circle r=3.02 cx=675.6 cy=329.3 /><circle r=3.02 cx=678.9 cy=331.5 /><circle r=3.02 cx=681.1 cy=334 /><circle r=3.02 cx=681.1 cy=332.6 /><circle r=3.02 cx=683.7 cy=336.2 /><circle r=3.02 cx=684.3 cy=335.4 /></g><g class=c27><circle r=3.02 cx=662.8 cy=324.7 /><circle r=3.02 cx=665.3 cy=326.2 /><circle r=3.02 cx=666.6 cy=327.9 /><circle r=3.02 cx=667 cy=326.9 /><circle r=3.02 cx=669.6 cy=328.8 /><circle r=3.02 cx=670.9 cy=329.4 /><circle r=3.02 cx=671.7 cy=328.8 /><circle r=3.02 cx=673.6 cy=330.4 /><circle r=3.02 cx=675.6 cy=331.9 /><circle r=3.02 cx=678.8 cy=334.2 /><circle r=3.02 cx=679 cy=333.1 /><circle r=3.02 cx=681 cy=335.2 /><circle r=3.02 cx=684.4 cy=338.3 /></g><g class=c28><circle r=3.02 cx=665.1 cy=327.4 /><circle r=3.02 cx=666.8 cy=329.6 /><circle r=3.02 cx=669 cy=331.1 /><circle r=3.02 cx=668.7 cy=329.2 /><circle r=3.02 cx=671.1 cy=331 /><circle r=3.02 cx=673.5 cy=333.1 /><circle r=3.02 cx=674.2 cy=332.6 /><circle r=3.02 cx=675.8 cy=333.7 /><circle r=3.02 cx=678.8 cy=335.5 /><circle r=3.02 cx=681.5 cy=337 /><circle r=3.02 cx=683.7 cy=338.8 /></g><g class=c29><circle r=3.02 cx=665.2 cy=329.1 /><circle r=3.02 cx=667.1 cy=331.6 /><circle r=3.02 cx=665.8 cy=331.5 /><circle r=3.02 cx=669.1 cy=332.7 /><circle r=3.02 cx=670.8 cy=333.6 /><circle r=3.02 cx=671.3 cy=332.7 /><circle r=3.02 cx=671.6 cy=335.4 /><circle r=3.02 cx=673.9 cy=335.1 /><circle r=3.02 cx=673.1 cy=336.3 /><circle r=3.02 cx=675.3 cy=336 /><circle r=3.02 cx=676.3 cy=335.6 /><circle r=3.02 cx=673.3 cy=337.9 /><circle r=3.02 cx=676 cy=338.3 /><circle r=3.02 cx=677.2 cy=338.1 /><circle r=3.02 cx=678.7 cy=336.8 /><circle r=3.02 cx=676.7 cy=339.2 /><circle r=3.02 cx=678.2 cy=339.4 /><circle r=3.02 cx=679 cy=338.7 /><circle r=3.02 cx=680.6 cy=339.1 /><circle r=3.02 cx=681.4 cy=338.5 /><circle r=3.02 cx=676.8 cy=341.4 /><circle r=3.02 cx=678.1 cy=341.5 /><circle r=3.02 cx=679.4 cy=341.6 /><circle r=3.02 cx=680.4 cy=341.1 /><circle r=3.02 cx=681.6 cy=341.2 /><circle r=3.02 cx=683.3 cy=341.4 /><circle r=3.02 cx=684 cy=340.6 /><circle r=3.02 cx=682 cy=343.5 /><circle r=3.02 cx=682.5 cy=342.6 /><circle r=3.02 cx=683.7 cy=342.6 /><circle r=3.02 cx=685.3 cy=342.8 /></g><g class=c30><circle r=3.02 cx=659.2 cy=334 /><circle r=3.02 cx=660.2 cy=333.7 /><circle r=3.02 cx=664.2 cy=332.6 /><circle r=3.02 cx=663 cy=332.7 /><circle r=3.02 cx=656.9 cy=334 /><circle r=3.02 cx=661.8 cy=332.7 /><circle r=3.02 cx=664.9 cy=332 /><circle r=3.02 cx=657.6 cy=333.2 /><circle r=3.02 cx=666.6 cy=334.3 /><circle r=3.02 cx=662 cy=334.6 /><circle r=3.02 cx=663 cy=334.4 /><circle r=3.02 cx=664.1 cy=334.3 /><circle r=3.02 cx=668.6 cy=333.7 /><circle r=3.02 cx=667.2 cy=333.5 /><circle r=3.02 cx=659.5 cy=334.5 /><circle r=3.02 cx=664.6 cy=333.3 /><circle r=3.02 cx=662.6 cy=335.8 /><circle r=3.02 cx=661.5 cy=335.9 /><circle r=3.02 cx=665.8 cy=335.2 /><circle r=3.02 cx=664.4 cy=334.9 /><circle r=3.02 cx=663.2 cy=334.9 /><circle r=3.02 cx=666.5 cy=334.6 /><circle r=3.02 cx=667.6 cy=334.5 /><circle r=3.02 cx=670 cy=334.3 /><circle r=3.02 cx=668.8 cy=334.3 /><circle r=3.02 cx=660.8 cy=336.9 /><circle r=3.02 cx=666.6 cy=336.9 /><circle r=3.02 cx=667.7 cy=336.8 /><circle r=3.02 cx=662.6 cy=336.3 /><circle r=3.02 cx=669.9 cy=336.5 /><circle r=3.02 cx=668.4 cy=336.1 /><circle r=3.02 cx=673.3 cy=335.9 /><circle r=3.02 cx=670.6 cy=335.8 /><circle r=3.02 cx=664.6 cy=338 /><circle r=3.02 cx=667 cy=338.1 /><circle r=3.02 cx=665.6 cy=337.8 /><circle r=3.02 cx=668.1 cy=337.9 /><circle r=3.02 cx=669.3 cy=338 /><circle r=3.02 cx=669.5 cy=336.6 /><circle r=3.02 cx=670.7 cy=336.5 /><circle r=3.02 cx=672.1 cy=336.7 /><circle r=3.02 cx=675.1 cy=337.1 /><circle r=3.02 cx=662.3 cy=338.9 /><circle r=3.02 cx=663.5 cy=339.2 /><circle r=3.02 cx=665.7 cy=339 /><circle r=3.02 cx=666.9 cy=339.2 /><circle r=3.02 cx=669.6 cy=339.5 /><circle r=3.02 cx=667.8 cy=338.7 /><circle r=3.02 cx=670.3 cy=339 /><circle r=3.02 cx=672.7 cy=338.8 /><circle r=3.02 cx=670.9 cy=338.2 /><circle r=3.02 cx=666.8 cy=340.2 /><circle r=3.02 cx=675.2 cy=338.9 /><circle r=3.02 cx=669.5 cy=340.7 /><circle r=3.02 cx=679.1 cy=338.8 /><circle r=3.02 cx=672.1 cy=341.2 /><circle r=3.02 cx=670.1 cy=340.2 /><circle r=3.02 cx=672.7 cy=340.5 /><circle r=3.02 cx=673.6 cy=340.1 /><circle r=3.02 cx=674.7 cy=339.6 /><circle r=3.02 cx=676 cy=339.7 /><circle r=3.02 cx=667.5 cy=341.7 /><circle r=3.02 cx=668.8 cy=341.9 /><circle r=3.02 cx=670.1 cy=342 /><circle r=3.02 cx=671.5 cy=342.6 /><circle r=3.02 cx=672.1 cy=341.8 /><circle r=3.02 cx=673.7 cy=342.2 /><circle r=3.02 cx=674.1 cy=341.2 /><circle r=3.02 cx=669.4 cy=343 /><circle r=3.02 cx=675.4 cy=341.3 /><circle r=3.02 cx=671.7 cy=343.1 /><circle r=3.02 cx=673.7 cy=344.1 /><circle r=3.02 cx=674.3 cy=343.5 /><circle r=3.02 cx=675.3 cy=343.1 /><circle r=3.02 cx=677 cy=343.5 /><circle r=3.02 cx=678.2 cy=343.6 /><circle r=3.02 cx=679.1 cy=343.3 /><circle r=3.02 cx=680.5 cy=343.3 /><circle r=3.02 cx=671.9 cy=344.9 /><circle r=3.02 cx=674.4 cy=344.9 /><circle r=3.02 cx=676.1 cy=345.6 /><circle r=3.02 cx=677.2 cy=345.6 /></g><g class=c31><circle r=3.02 cx=661.6 cy=334 /><circle r=3.02 cx=655.3 cy=335.1 /><circle r=3.02 cx=652.4 cy=335.7 /><circle r=3.02 cx=653.4 cy=335.5 /><circle r=3.02 cx=654.2 cy=335.1 /><circle r=3.02 cx=648.4 cy=336.2 /><circle r=3.02 cx=656 cy=334.4 /><circle r=3.02 cx=656.3 cy=336.6 /><circle r=3.02 cx=653.3 cy=337.1 /><circle r=3.02 cx=659.3 cy=336 /><circle r=3.02 cx=654.1 cy=336.5 /><circle r=3.02 cx=657.1 cy=336 /><circle r=3.02 cx=655 cy=336.2 /><circle r=3.02 cx=661.3 cy=335.5 /><circle r=3.02 cx=657.8 cy=335.3 /><circle r=3.02 cx=648.5 cy=337.9 /><circle r=3.02 cx=650.4 cy=337.6 /><circle r=3.02 cx=658.1 cy=337.8 /><circle r=3.02 cx=655.5 cy=337 /><circle r=3.02 cx=661.1 cy=337.1 /><circle r=3.02 cx=656.5 cy=336.9 /><circle r=3.02 cx=658.6 cy=336.8 /><circle r=3.02 cx=653.1 cy=336.5 /><circle r=3.02 cx=659.4 cy=336.3 /><circle r=3.02 cx=650.9 cy=338.5 /><circle r=3.02 cx=654.2 cy=338.7 /><circle r=3.02 cx=656 cy=338.3 /><circle r=3.02 cx=657.1 cy=338.1 /><circle r=3.02 cx=658.2 cy=338.2 /><circle r=3.02 cx=659.2 cy=338 /><circle r=3.02 cx=662.7 cy=338.3 /><circle r=3.02 cx=660.2 cy=337.9 /><circle r=3.02 cx=649 cy=338.8 /><circle r=3.02 cx=665.8 cy=337.6 /><circle r=3.02 cx=664.4 cy=337.3 /><circle r=3.02 cx=658.7 cy=339.4 /><circle r=3.02 cx=654.1 cy=338.7 /><circle r=3.02 cx=656 cy=338.5 /><circle r=3.02 cx=659.5 cy=338.8 /><circle r=3.02 cx=660.7 cy=339 /><circle r=3.02 cx=662.8 cy=338.7 /><circle r=3.02 cx=661.5 cy=338.5 /><circle r=3.02 cx=663.8 cy=338.5 /><circle r=3.02 cx=655.5 cy=340.2 /><circle r=3.02 cx=656.7 cy=340.5 /><circle r=3.02 cx=657.5 cy=340.1 /><circle r=3.02 cx=658.6 cy=340.1 /><circle r=3.02 cx=659.5 cy=339.8 /><circle r=3.02 cx=660.7 cy=340.1 /><circle r=3.02 cx=661.8 cy=340 /><circle r=3.02 cx=657.3 cy=340.8 /><circle r=3.02 cx=665.1 cy=340 /><circle r=3.02 cx=659.6 cy=341.1 /><circle r=3.02 cx=660.6 cy=341 /><circle r=3.02 cx=663.2 cy=341.8 /><circle r=3.02 cx=661.4 cy=340.5 /><circle r=3.02 cx=664.1 cy=341.4 /><circle r=3.02 cx=657.3 cy=342.4 /><circle r=3.02 cx=666.5 cy=341.5 /><circle r=3.02 cx=664.8 cy=340.6 /><circle r=3.02 cx=659.5 cy=342.7 /><circle r=3.02 cx=660.5 cy=342.6 /><circle r=3.02 cx=668.4 cy=341 /><circle r=3.02 cx=663 cy=343.2 /><circle r=3.02 cx=664.9 cy=342.6 /><circle r=3.02 cx=663.3 cy=342 /><circle r=3.02 cx=665.8 cy=342.4 /><circle r=3.02 cx=661.2 cy=343.6 /><circle r=3.02 cx=666.6 cy=342 /><circle r=3.02 cx=662.1 cy=343.5 /><circle r=3.02 cx=663.2 cy=343.5 /><circle r=3.02 cx=664.9 cy=344.6 /><circle r=3.02 cx=665.6 cy=343.9 /><circle r=3.02 cx=666.9 cy=344.1 /><circle r=3.02 cx=660.6 cy=345.2 /><circle r=3.02 cx=661.6 cy=345.5 /><circle r=3.02 cx=667.5 cy=343.4 /><circle r=3.02 cx=668.7 cy=343.5 /><circle r=3.02 cx=663.7 cy=345.2 /><circle r=3.02 cx=671.8 cy=344.7 /><circle r=3.02 cx=665 cy=345.6 /><circle r=3.02 cx=665.7 cy=345.1 /><circle r=3.02 cx=667 cy=345.5 /><circle r=3.02 cx=663.1 cy=346.6 /><circle r=3.02 cx=667.7 cy=345 /><circle r=3.02 cx=664.3 cy=347.1 /><circle r=3.02 cx=669.7 cy=346.3 /><circle r=3.02 cx=670.2 cy=345.5 /><circle r=3.02 cx=665.9 cy=346.3 /><circle r=3.02 cx=671.4 cy=345.6 /><circle r=3.02 cx=667.6 cy=347.4 /><circle r=3.02 cx=669.3 cy=348.1 /><circle r=3.02 cx=674.5 cy=346.7 /><circle r=3.02 cx=664.2 cy=348.5 /><circle r=3.02 cx=669.4 cy=346.7 /><circle r=3.02 cx=671 cy=347.5 /><circle r=3.02 cx=665.3 cy=348.8 /><circle r=3.02 cx=671.9 cy=347.2 /><circle r=3.02 cx=673.2 cy=347.4 /><circle r=3.02 cx=667.5 cy=349.1 /></g><g class=c32><circle r=3.02 cx=643 cy=338.1 /><circle r=3.02 cx=635.9 cy=338.3 /><circle r=3.02 cx=622.1 cy=338.1 /><circle r=3.02 cx=635 cy=338.4 /><circle r=3.02 cx=615.4 cy=337.7 /><circle r=3.02 cx=645.7 cy=337.2 /><circle r=3.02 cx=649.6 cy=336.6 /><circle r=3.02 cx=602.6 cy=338.8 /><circle r=3.02 cx=611.5 cy=337.6 /><circle r=3.02 cx=607.6 cy=338.3 /><circle r=3.02 cx=636.7 cy=337.5 /><circle r=3.02 cx=620.3 cy=338 /><circle r=3.02 cx=603.7 cy=338.7 /><circle r=3.02 cx=630.7 cy=338.1 /><circle r=3.02 cx=638.2 cy=338.4 /><circle r=3.02 cx=636.3 cy=338.7 /><circle r=3.02 cx=609.5 cy=338.4 /><circle r=3.02 cx=632.2 cy=338.5 /><circle r=3.02 cx=600.9 cy=337.9 /><circle r=3.02 cx=640.9 cy=337.6 /><circle r=3.02 cx=427.6 cy=338.8 /><circle r=3.02 cx=634.5 cy=338.9 /><circle r=3.02 cx=643.6 cy=336.9 /><circle r=3.02 cx=607.5 cy=338.9 /><circle r=3.02 cx=644.7 cy=339.1 /><circle r=3.02 cx=633.5 cy=338.8 /><circle r=3.02 cx=610.3 cy=339.2 /><circle r=3.02 cx=614.1 cy=339.1 /><circle r=3.02 cx=635.3 cy=338.3 /><circle r=3.02 cx=652.7 cy=338 /><circle r=3.02 cx=627.6 cy=339.2 /><circle r=3.02 cx=642.7 cy=339 /><circle r=3.02 cx=647.6 cy=338.6 /><circle r=3.02 cx=630.7 cy=339 /><circle r=3.02 cx=616.9 cy=338.7 /><circle r=3.02 cx=643.6 cy=338.7 /><circle r=3.02 cx=636.9 cy=339.3 /><circle r=3.02 cx=645.5 cy=338.4 /><circle r=3.02 cx=646.5 cy=338.2 /><circle r=3.02 cx=628 cy=339.3 /><circle r=3.02 cx=639.7 cy=338.8 /><circle r=3.02 cx=650.4 cy=337.8 /><circle r=3.02 cx=624.2 cy=339.3 /><circle r=3.02 cx=638.7 cy=338.8 /><circle r=3.02 cx=632.2 cy=339.4 /><circle r=3.02 cx=619.5 cy=339.4 /><circle r=3.02 cx=626.7 cy=339 /><circle r=3.02 cx=615 cy=339.1 /><circle r=3.02 cx=648.3 cy=337.7 /><circle r=3.02 cx=618.6 cy=339.4 /><circle r=3.02 cx=628.4 cy=339.6 /><circle r=3.02 cx=629.7 cy=338.4 /><circle r=3.02 cx=651.2 cy=337.2 /><circle r=3.02 cx=626.1 cy=339.2 /><circle r=3.02 cx=617.7 cy=339.4 /><circle r=3.02 cx=629.3 cy=339.3 /><circle r=3.02 cx=637.7 cy=338.5 /><circle r=3.02 cx=605.6 cy=339.7 /><circle r=3.02 cx=641.4 cy=337.9 /><circle r=3.02 cx=646.1 cy=339.5 /><circle r=3.02 cx=649.2 cy=337.3 /><circle r=3.02 cx=620.5 cy=339.4 /><circle r=3.02 cx=612.3 cy=339.7 /><circle r=3.02 cx=602.7 cy=339.7 /><circle r=3.02 cx=606.6 cy=339.5 /><circle r=3.02 cx=610.4 cy=339.6 /><circle r=3.02 cx=632.5 cy=339.7 /><circle r=3.02 cx=613.2 cy=339.6 /><circle r=3.02 cx=648.1 cy=339.4 /><circle r=3.02 cx=611.4 cy=339.5 /><circle r=3.02 cx=619.7 cy=339.7 /><circle r=3.02 cx=628.7 cy=339.5 /><circle r=3.02 cx=637.2 cy=339.4 /><circle r=3.02 cx=636.2 cy=339.4 /><circle r=3.02 cx=616 cy=339.4 /><circle r=3.02 cx=631.5 cy=339.4 /><circle r=3.02 cx=624.7 cy=339 /><circle r=3.02 cx=646.9 cy=339 /><circle r=3.02 cx=634.3 cy=339.2 /><circle r=3.02 cx=614.2 cy=339.8 /><circle r=3.02 cx=608.6 cy=338.9 /><circle r=3.02 cx=644.8 cy=338.8 /><circle r=3.02 cx=617.9 cy=339.3 /><circle r=3.02 cx=642.9 cy=338.9 /><circle r=3.02 cx=621.1 cy=339.8 /><circle r=3.02 cx=640.9 cy=338.8 /><circle r=3.02 cx=612.4 cy=339.6 /><circle r=3.02 cx=624.2 cy=339.7 /><circle r=3.02 cx=609.5 cy=339.9 /><circle r=3.02 cx=639.9 cy=338.8 /><circle r=3.02 cx=607.6 cy=340 /><circle r=3.02 cx=613.3 cy=339.5 /><circle r=3.02 cx=655.1 cy=338.3 /><circle r=3.02 cx=652 cy=338.6 /><circle r=3.02 cx=617 cy=339.1 /><circle r=3.02 cx=611.5 cy=339.4 /><circle r=3.02 cx=623.5 cy=339.8 /><circle r=3.02 cx=622.4 cy=340 /><circle r=3.02 cx=621.7 cy=339.8 /><circle r=3.02 cx=621.8 cy=339.8 /><circle r=3.02 cx=623.4 cy=339.8 /><circle r=3.02 cx=643.6 cy=338.2 /><circle r=3.02 cx=623.6 cy=339.5 /><circle r=3.02 cx=652.8 cy=338.1 /><circle r=3.02 cx=622.4 cy=339.7 /><circle r=3.02 cx=632.8 cy=339.5 /><circle r=3.02 cx=649.6 cy=338.1 /><circle r=3.02 cx=634.7 cy=339.6 /><circle r=3.02 cx=639.5 cy=339.9 /><circle r=3.02 cx=638.5 cy=339.5 /><circle r=3.02 cx=612.5 cy=340 /><circle r=3.02 cx=620.8 cy=339.7 /><circle r=3.02 cx=630.6 cy=340.4 /><circle r=3.02 cx=622.1 cy=339.6 /><circle r=3.02 cx=641.4 cy=339.6 /><circle r=3.02 cx=640.3 cy=339.4 /><circle r=3.02 cx=643.3 cy=339.7 /><circle r=3.02 cx=610.6 cy=340 /><circle r=3.02 cx=617.1 cy=339.5 /><circle r=3.02 cx=615.3 cy=340.5 /><circle r=3.02 cx=645.2 cy=339.5 /><circle r=3.02 cx=649.4 cy=339.6 /><circle r=3.02 cx=612.6 cy=339.8 /><circle r=3.02 cx=634.4 cy=340.7 /><circle r=3.02 cx=644.2 cy=339.3 /><circle r=3.02 cx=647.2 cy=339.4 /><circle r=3.02 cx=646.2 cy=339.2 /><circle r=3.02 cx=642.1 cy=338.7 /><circle r=3.02 cx=650.4 cy=339.7 /><circle r=3.02 cx=605.9 cy=340.2 /><circle r=3.02 cx=640.7 cy=340.1 /><circle r=3.02 cx=628.9 cy=340.6 /><circle r=3.02 cx=621.4 cy=340.6 /><circle r=3.02 cx=648.1 cy=339.1 /><circle r=3.02 cx=642.7 cy=340.2 /><circle r=3.02 cx=641.6 cy=339.8 /><circle r=3.02 cx=614.3 cy=340.5 /><circle r=3.02 cx=652.2 cy=339.1 /><circle r=3.02 cx=636.2 cy=340.3 /><circle r=3.02 cx=638.1 cy=340.9 /><circle r=3.02 cx=644.6 cy=340.1 /><circle r=3.02 cx=653.2 cy=338.8 /><circle r=3.02 cx=620.3 cy=340.9 /><circle r=3.02 cx=635.3 cy=340.9 /><circle r=3.02 cx=647.7 cy=340.6 /><circle r=3.02 cx=626.4 cy=341.2 /><circle r=3.02 cx=632.5 cy=341.1 /><circle r=3.02 cx=619.5 cy=341.1 /><circle r=3.02 cx=646.7 cy=340.5 /><circle r=3.02 cx=648.8 cy=340.9 /><circle r=3.02 cx=655.3 cy=339 /><circle r=3.02 cx=640 cy=341 /><circle r=3.02 cx=619.8 cy=341.3 /><circle r=3.02 cx=625.3 cy=340.8 /><circle r=3.02 cx=613.1 cy=341.5 /><circle r=3.02 cx=645.2 cy=339.3 /><circle r=3.02 cx=643 cy=341.3 /><circle r=3.02 cx=641.9 cy=340.9 /><circle r=3.02 cx=650.5 cy=340 /><circle r=3.02 cx=619.1 cy=341.6 /><circle r=3.02 cx=609.7 cy=341.6 /><circle r=3.02 cx=623.6 cy=341.4 /><circle r=3.02 cx=651.4 cy=339.7 /><circle r=3.02 cx=644.9 cy=341.2 /><circle r=3.02 cx=643.8 cy=340.9 /><circle r=3.02 cx=652.5 cy=339.8 /><circle r=3.02 cx=616.8 cy=341.1 /><circle r=3.02 cx=641 cy=341.5 /><circle r=3.02 cx=624.3 cy=340.9 /><circle r=3.02 cx=645.8 cy=341.2 /><circle r=3.02 cx=616 cy=341.8 /><circle r=3.02 cx=641.9 cy=341.4 /><circle r=3.02 cx=655.8 cy=340 /><circle r=3.02 cx=653.4 cy=339.5 /><circle r=3.02 cx=644 cy=342 /><circle r=3.02 cx=639 cy=342 /><circle r=3.02 cx=647.8 cy=341.2 /><circle r=3.02 cx=646.6 cy=340.6 /><circle r=3.02 cx=611.4 cy=342 /><circle r=3.02 cx=657.8 cy=339.8 /><circle r=3.02 cx=614.2 cy=342.1 /><circle r=3.02 cx=651.1 cy=341.9 /><circle r=3.02 cx=642.7 cy=341.1 /><circle r=3.02 cx=648.8 cy=341.1 /><circle r=3.02 cx=649.9 cy=341.3 /><circle r=3.02 cx=616.2 cy=341.5 /><circle r=3.02 cx=645.9 cy=342.1 /><circle r=3.02 cx=615.3 cy=341.8 /><circle r=3.02 cx=640.9 cy=342.3 /><circle r=3.02 cx=644.7 cy=341.3 /><circle r=3.02 cx=613.4 cy=342.1 /><circle r=3.02 cx=620.1 cy=341.9 /><circle r=3.02 cx=647.9 cy=342.3 /><circle r=3.02 cx=635.6 cy=341.9 /><circle r=3.02 cx=651.7 cy=340.8 /><circle r=3.02 cx=652.9 cy=341.2 /><circle r=3.02 cx=616.2 cy=342.1 /><circle r=3.02 cx=639.7 cy=342.4 /><circle r=3.02 cx=646.5 cy=341.2 /><circle r=3.02 cx=653.8 cy=341 /><circle r=3.02 cx=648.6 cy=341.5 /><circle r=3.02 cx=643.6 cy=342 /><circle r=3.02 cx=654.7 cy=340.7 /><circle r=3.02 cx=645.8 cy=342.9 /><circle r=3.02 cx=649.6 cy=341.5 /><circle r=3.02 cx=644.6 cy=342.1 /><circle r=3.02 cx=651.7 cy=341.6 /><circle r=3.02 cx=650.5 cy=341.4 /><circle r=3.02 cx=643.5 cy=342.9 /><circle r=3.02 cx=652.8 cy=342 /><circle r=3.02 cx=647.7 cy=343 /><circle r=3.02 cx=623.9 cy=342.8 /><circle r=3.02 cx=640.1 cy=342.7 /><circle r=3.02 cx=649.8 cy=343.4 /><circle r=3.02 cx=648.7 cy=343.1 /><circle r=3.02 cx=645.5 cy=343.4 /><circle r=3.02 cx=653.5 cy=341.3 /><circle r=3.02 cx=656 cy=342.3 /><circle r=3.02 cx=654.6 cy=341.6 /><circle r=3.02 cx=650.8 cy=343.4 /><circle r=3.02 cx=656.9 cy=342 /><circle r=3.02 cx=651.7 cy=343.1 /><circle r=3.02 cx=648.5 cy=344 /><circle r=3.02 cx=641.6 cy=343.8 /><circle r=3.02 cx=652.6 cy=343.2 /><circle r=3.02 cx=658.9 cy=341.9 /><circle r=3.02 cx=649.4 cy=343.7 /><circle r=3.02 cx=644.8 cy=343.8 /><circle r=3.02 cx=653.5 cy=342.9 /><circle r=3.02 cx=643.6 cy=344.4 /><circle r=3.02 cx=654.6 cy=343 /><circle r=3.02 cx=650.3 cy=343.6 /><circle r=3.02 cx=646.8 cy=344.3 /><circle r=3.02 cx=644.5 cy=344.6 /><circle r=3.02 cx=651.3 cy=343.7 /><circle r=3.02 cx=647.8 cy=344.5 /><circle r=3.02 cx=655.3 cy=342.4 /><circle r=3.02 cx=656.5 cy=342.9 /><circle r=3.02 cx=652 cy=343.1 /><circle r=3.02 cx=642.8 cy=344.9 /><circle r=3.02 cx=654.4 cy=344.2 /><circle r=3.02 cx=646.3 cy=344.8 /><circle r=3.02 cx=653.1 cy=343.6 /><circle r=3.02 cx=658.7 cy=343.1 /><circle r=3.02 cx=649.7 cy=344.7 /><circle r=3.02 cx=655.4 cy=344.2 /><circle r=3.02 cx=650.8 cy=345 /><circle r=3.02 cx=651.9 cy=345.3 /><circle r=3.02 cx=656.4 cy=344.1 /><circle r=3.02 cx=648.2 cy=345.3 /><circle r=3.02 cx=649.3 cy=345.5 /><circle r=3.02 cx=662 cy=343.4 /><circle r=3.02 cx=652.8 cy=345.2 /><circle r=3.02 cx=657.2 cy=343.9 /><circle r=3.02 cx=650.1 cy=345.4 /><circle r=3.02 cx=658.3 cy=344 /><circle r=3.02 cx=659.7 cy=344.6 /><circle r=3.02 cx=646.5 cy=345.8 /><circle r=3.02 cx=653.5 cy=344.7 /><circle r=3.02 cx=654.8 cy=345.6 /><circle r=3.02 cx=651 cy=345.4 /><circle r=3.02 cx=660.5 cy=344.2 /><circle r=3.02 cx=655.9 cy=345.7 /><circle r=3.02 cx=648.1 cy=345.5 /><circle r=3.02 cx=656.3 cy=344.7 /><circle r=3.02 cx=652.7 cy=345.2 /><circle r=3.02 cx=657.6 cy=345.3 /><circle r=3.02 cx=651.3 cy=346.8 /><circle r=3.02 cx=658.5 cy=345.2 /><circle r=3.02 cx=654.9 cy=345.9 /><circle r=3.02 cx=660 cy=346 /><circle r=3.02 cx=655.8 cy=345.7 /><circle r=3.02 cx=652.2 cy=346.9 /><circle r=3.02 cx=657.3 cy=346.8 /><circle r=3.02 cx=658.6 cy=347.6 /><circle r=3.02 cx=652.9 cy=346.5 /><circle r=3.02 cx=650.6 cy=347.7 /><circle r=3.02 cx=663.6 cy=346.9 /><circle r=3.02 cx=641.2 cy=348 /><circle r=3.02 cx=655.3 cy=347.9 /><circle r=3.02 cx=658.7 cy=346.1 /><circle r=3.02 cx=660.4 cy=347.2 /><circle r=3.02 cx=648.8 cy=348.3 /><circle r=3.02 cx=652.6 cy=348.2 /><circle r=3.02 cx=656 cy=347.4 /><circle r=3.02 cx=661.4 cy=347.3 /><circle r=3.02 cx=662.2 cy=346.9 /><circle r=3.02 cx=658.4 cy=348.4 /><circle r=3.02 cx=654.3 cy=348 /><circle r=3.02 cx=655.9 cy=349.2 /><circle r=3.02 cx=651.7 cy=349.4 /><circle r=3.02 cx=649 cy=349.4 /><circle r=3.02 cx=659.7 cy=349.2 /><circle r=3.02 cx=656.5 cy=348.9 /><circle r=3.02 cx=665.7 cy=347.5 /><circle r=3.02 cx=660.1 cy=348.1 /><circle r=3.02 cx=653.5 cy=349.5 /><circle r=3.02 cx=657.5 cy=349.1 /><circle r=3.02 cx=661.6 cy=349.1 /><circle r=3.02 cx=654.7 cy=350.2 /><circle r=3.02 cx=662.4 cy=348.6 /><circle r=3.02 cx=659.8 cy=350 /><circle r=3.02 cx=663.4 cy=348.7 /><circle r=3.02 cx=660.8 cy=350.2 /><circle r=3.02 cx=661.7 cy=350.2 /><circle r=3.02 cx=657.3 cy=350.6 /><circle r=3.02 cx=658.7 cy=351.4 /><circle r=3.02 cx=662.3 cy=349.2 /><circle r=3.02 cx=666.8 cy=349.7 /><circle r=3.02 cx=664 cy=350.8 /><circle r=3.02 cx=659.6 cy=351.6 /><circle r=3.02 cx=656.5 cy=351.9 /><circle r=3.02 cx=669.5 cy=350.5 /></g><g class=c33><circle r=3.02 cx=605.4 cy=339.4 /><circle r=3.02 cx=608.2 cy=339.9 /><circle r=3.02 cx=604.5 cy=339.1 /><circle r=3.02 cx=609.3 cy=339.7 /><circle r=3.02 cx=606.5 cy=339.1 /><circle r=3.02 cx=588.3 cy=341.3 /><circle r=3.02 cx=596 cy=341.4 /><circle r=3.02 cx=586.3 cy=340.8 /><circle r=3.02 cx=614.9 cy=339.6 /><circle r=3.02 cx=631.7 cy=339.3 /><circle r=3.02 cx=611.2 cy=339.4 /><circle r=3.02 cx=614 cy=339.8 /><circle r=3.02 cx=597.2 cy=341 /><circle r=3.02 cx=589.7 cy=340.8 /><circle r=3.02 cx=593 cy=340.9 /><circle r=3.02 cx=636 cy=339.7 /><circle r=3.02 cx=635.1 cy=339.7 /><circle r=3.02 cx=598.3 cy=340.7 /><circle r=3.02 cx=628.9 cy=339.5 /><circle r=3.02 cx=595.2 cy=340.6 /><circle r=3.02 cx=590.9 cy=340.7 /><circle r=3.02 cx=634.1 cy=339.6 /><circle r=3.02 cx=639.4 cy=340.6 /><circle r=3.02 cx=627.1 cy=339.7 /><circle r=3.02 cx=599.4 cy=340.5 /><circle r=3.02 cx=633.1 cy=339.5 /><circle r=3.02 cx=600.5 cy=340.4 /><circle r=3.02 cx=603.5 cy=340.4 /><circle r=3.02 cx=630.3 cy=339.8 /><circle r=3.02 cx=616.8 cy=339.7 /><circle r=3.02 cx=624.9 cy=339.6 /><circle r=3.02 cx=601.5 cy=340.2 /><circle r=3.02 cx=618.6 cy=339.9 /><circle r=3.02 cx=594.3 cy=340.3 /><circle r=3.02 cx=642.3 cy=340.2 /><circle r=3.02 cx=626.6 cy=339.8 /><circle r=3.02 cx=625.7 cy=339.9 /><circle r=3.02 cx=604.6 cy=339.9 /><circle r=3.02 cx=624.3 cy=339.6 /><circle r=3.02 cx=592.4 cy=339.7 /><circle r=3.02 cx=608.3 cy=341.1 /><circle r=3.02 cx=616.9 cy=340 /><circle r=3.02 cx=607.5 cy=339.8 /><circle r=3.02 cx=629.7 cy=339.9 /><circle r=3.02 cx=630.7 cy=339.9 /><circle r=3.02 cx=609.4 cy=339.8 /><circle r=3.02 cx=619.7 cy=339.9 /><circle r=3.02 cx=599.3 cy=341.4 /><circle r=3.02 cx=603.5 cy=341 /><circle r=3.02 cx=597.3 cy=341.3 /><circle r=3.02 cx=587.3 cy=342 /><circle r=3.02 cx=601.5 cy=340.9 /><circle r=3.02 cx=589.6 cy=341.8 /><circle r=3.02 cx=619.8 cy=340 /><circle r=3.02 cx=600.5 cy=340.9 /><circle r=3.02 cx=595.3 cy=341.3 /><circle r=3.02 cx=602.6 cy=340.6 /><circle r=3.02 cx=590.9 cy=341.4 /><circle r=3.02 cx=606.6 cy=340.2 /><circle r=3.02 cx=598.5 cy=340.8 /><circle r=3.02 cx=604.6 cy=340.3 /><circle r=3.02 cx=594.4 cy=340.8 /><circle r=3.02 cx=593.3 cy=341 /><circle r=3.02 cx=637.7 cy=340.4 /><circle r=3.02 cx=596.5 cy=340.8 /><circle r=3.02 cx=592.2 cy=340.9 /><circle r=3.02 cx=609.5 cy=340.9 /><circle r=3.02 cx=611.4 cy=341.4 /><circle r=3.02 cx=629.8 cy=341.1 /><circle r=3.02 cx=608.6 cy=340.9 /><circle r=3.02 cx=639.1 cy=341.1 /><circle r=3.02 cx=607.6 cy=341.1 /><circle r=3.02 cx=630.8 cy=341.2 /><circle r=3.02 cx=637 cy=340.6 /><circle r=3.02 cx=638 cy=340.7 /><circle r=3.02 cx=632.5 cy=340.8 /><circle r=3.02 cx=614.3 cy=341.2 /><circle r=3.02 cx=602.6 cy=342.1 /><circle r=3.02 cx=601.5 cy=342.3 /><circle r=3.02 cx=640 cy=340.9 /><circle r=3.02 cx=610.5 cy=341 /><circle r=3.02 cx=600.5 cy=342.5 /><circle r=3.02 cx=631.7 cy=341.2 /><circle r=3.02 cx=606.7 cy=340.8 /><circle r=3.02 cx=609.6 cy=341.2 /><circle r=3.02 cx=632.6 cy=341.5 /><circle r=3.02 cx=633.5 cy=340.7 /><circle r=3.02 cx=626.8 cy=341.3 /><circle r=3.02 cx=608.6 cy=341.4 /><circle r=3.02 cx=615.1 cy=341 /><circle r=3.02 cx=599.5 cy=342.3 /><circle r=3.02 cx=618.1 cy=341.5 /><circle r=3.02 cx=603.8 cy=341.2 /><circle r=3.02 cx=630.8 cy=341.6 /><circle r=3.02 cx=635.4 cy=341.1 /><circle r=3.02 cx=604.8 cy=340.8 /><circle r=3.02 cx=643.9 cy=341.1 /><circle r=3.02 cx=613.5 cy=340.9 /><circle r=3.02 cx=598.6 cy=342.1 /><circle r=3.02 cx=626.6 cy=341.3 /><circle r=3.02 cx=620.8 cy=341.3 /><circle r=3.02 cx=612.5 cy=341.3 /><circle r=3.02 cx=621.7 cy=341.2 /><circle r=3.02 cx=597.5 cy=342.2 /><circle r=3.02 cx=604.7 cy=342.2 /><circle r=3.02 cx=619 cy=341.1 /><circle r=3.02 cx=616.5 cy=341.2 /><circle r=3.02 cx=606.7 cy=341.4 /><circle r=3.02 cx=634.5 cy=341.5 /><circle r=3.02 cx=629.8 cy=341.3 /><circle r=3.02 cx=633.5 cy=341.1 /><circle r=3.02 cx=615.7 cy=341.2 /><circle r=3.02 cx=602.6 cy=342.6 /><circle r=3.02 cx=603.7 cy=342.1 /><circle r=3.02 cx=631.7 cy=341.4 /><circle r=3.02 cx=626.5 cy=341.4 /><circle r=3.02 cx=621.9 cy=341.1 /><circle r=3.02 cx=608.6 cy=342.9 /><circle r=3.02 cx=594.3 cy=342.8 /><circle r=3.02 cx=595.4 cy=342.5 /><circle r=3.02 cx=637.2 cy=341 /><circle r=3.02 cx=593.1 cy=343.1 /><circle r=3.02 cx=605.8 cy=341.4 /><circle r=3.02 cx=627.4 cy=341.5 /><circle r=3.02 cx=611.6 cy=341.2 /><circle r=3.02 cx=614.8 cy=341.5 /><circle r=3.02 cx=600.6 cy=342.9 /><circle r=3.02 cx=624.2 cy=341.4 /><circle r=3.02 cx=609.7 cy=341.9 /><circle r=3.02 cx=617.4 cy=341.3 /><circle r=3.02 cx=638.4 cy=342.6 /><circle r=3.02 cx=612.4 cy=341.5 /><circle r=3.02 cx=636.4 cy=341.7 /><circle r=3.02 cx=589.7 cy=343.6 /><circle r=3.02 cx=639.1 cy=341.3 /><circle r=3.02 cx=624 cy=341.4 /><circle r=3.02 cx=618.3 cy=341.4 /><circle r=3.02 cx=628.5 cy=341.3 /><circle r=3.02 cx=629.5 cy=341.3 /><circle r=3.02 cx=623.9 cy=341.3 /><circle r=3.02 cx=610.5 cy=342.3 /><circle r=3.02 cx=611.5 cy=341.7 /><circle r=3.02 cx=601.8 cy=342.1 /><circle r=3.02 cx=618.8 cy=341.3 /><circle r=3.02 cx=623.6 cy=341.3 /><circle r=3.02 cx=621.3 cy=341.6 /><circle r=3.02 cx=641.1 cy=341.4 /><circle r=3.02 cx=596.9 cy=341.4 /><circle r=3.02 cx=631.6 cy=341.4 /><circle r=3.02 cx=637.2 cy=341.5 /><circle r=3.02 cx=623.2 cy=341.6 /><circle r=3.02 cx=617.5 cy=341.5 /><circle r=3.02 cx=625.1 cy=341.5 /><circle r=3.02 cx=630.4 cy=341.7 /><circle r=3.02 cx=608.6 cy=343.1 /><circle r=3.02 cx=628.2 cy=341.5 /><circle r=3.02 cx=597.5 cy=343.2 /><circle r=3.02 cx=598.7 cy=342.8 /><circle r=3.02 cx=634.4 cy=341.6 /><circle r=3.02 cx=595.3 cy=343.8 /><circle r=3.02 cx=607.9 cy=342 /><circle r=3.02 cx=611.1 cy=343.4 /><circle r=3.02 cx=635.4 cy=342.1 /><circle r=3.02 cx=596.5 cy=343.2 /><circle r=3.02 cx=627.1 cy=341.5 /><circle r=3.02 cx=628.1 cy=341.7 /><circle r=3.02 cx=606.9 cy=342.2 /><circle r=3.02 cx=636.4 cy=342.5 /><circle r=3.02 cx=640.2 cy=342.2 /><circle r=3.02 cx=612.1 cy=342.2 /><circle r=3.02 cx=615.5 cy=341.5 /><circle r=3.02 cx=605.9 cy=342.4 /><circle r=3.02 cx=600 cy=341.8 /><circle r=3.02 cx=614.6 cy=342.3 /><circle r=3.02 cx=593.2 cy=343.9 /><circle r=3.02 cx=637.3 cy=342.5 /><circle r=3.02 cx=612.1 cy=342.9 /><circle r=3.02 cx=616.8 cy=342.4 /><circle r=3.02 cx=622.6 cy=341.7 /><circle r=3.02 cx=634.3 cy=341.9 /><circle r=3.02 cx=630.8 cy=343 /><circle r=3.02 cx=635.3 cy=342.3 /><circle r=3.02 cx=626.5 cy=343 /><circle r=3.02 cx=605.1 cy=342.3 /><circle r=3.02 cx=610.3 cy=342.8 /><circle r=3.02 cx=589.9 cy=344 /><circle r=3.02 cx=634.1 cy=342.9 /><circle r=3.02 cx=601.9 cy=343.6 /><circle r=3.02 cx=631.9 cy=342.3 /><circle r=3.02 cx=628.7 cy=342.4 /><circle r=3.02 cx=613.8 cy=342.4 /><circle r=3.02 cx=604.1 cy=342.5 /><circle r=3.02 cx=638.1 cy=342.2 /><circle r=3.02 cx=603 cy=343 /><circle r=3.02 cx=609.4 cy=343.3 /><circle r=3.02 cx=632.9 cy=342.9 /><circle r=3.02 cx=636.1 cy=342.3 /><circle r=3.02 cx=600.8 cy=343.9 /><circle r=3.02 cx=629.6 cy=343.2 /><circle r=3.02 cx=627.6 cy=342.3 /><circle r=3.02 cx=612.9 cy=343 /><circle r=3.02 cx=607 cy=342.1 /><circle r=3.02 cx=604.8 cy=343.4 /><circle r=3.02 cx=626 cy=343.1 /><circle r=3.02 cx=637.1 cy=342.6 /><circle r=3.02 cx=606 cy=342.6 /><circle r=3.02 cx=626.2 cy=342.4 /><circle r=3.02 cx=620.4 cy=343.3 /><circle r=3.02 cx=627.4 cy=342.7 /><circle r=3.02 cx=631.6 cy=342.8 /><circle r=3.02 cx=619.6 cy=342.7 /><circle r=3.02 cx=640.1 cy=342.6 /><circle r=3.02 cx=619.8 cy=343.1 /><circle r=3.02 cx=639.2 cy=343.9 /><circle r=3.02 cx=599.8 cy=344.1 /><circle r=3.02 cx=630.6 cy=342.5 /><circle r=3.02 cx=623.1 cy=342.7 /><circle r=3.02 cx=638.1 cy=342.9 /><circle r=3.02 cx=617.9 cy=342.8 /><circle r=3.02 cx=632.5 cy=343.2 /><circle r=3.02 cx=598.9 cy=344.1 /><circle r=3.02 cx=610.5 cy=342.7 /><circle r=3.02 cx=625.7 cy=342.8 /><circle r=3.02 cx=633.7 cy=342.8 /><circle r=3.02 cx=624.4 cy=343.2 /><circle r=3.02 cx=628.3 cy=342.6 /><circle r=3.02 cx=628.1 cy=343.4 /><circle r=3.02 cx=624.7 cy=343.2 /><circle r=3.02 cx=625.1 cy=343 /><circle r=3.02 cx=630.4 cy=343.2 /><circle r=3.02 cx=601.8 cy=344.4 /><circle r=3.02 cx=631.4 cy=343 /><circle r=3.02 cx=608.5 cy=344.3 /><circle r=3.02 cx=616.5 cy=343.3 /><circle r=3.02 cx=623.8 cy=343.1 /><circle r=3.02 cx=618.2 cy=343.1 /><circle r=3.02 cx=612.1 cy=342.8 /><circle r=3.02 cx=607.6 cy=343.3 /><circle r=3.02 cx=614.5 cy=342.9 /><circle r=3.02 cx=622.3 cy=343.2 /><circle r=3.02 cx=604.1 cy=342.6 /><circle r=3.02 cx=634.6 cy=343 /><circle r=3.02 cx=626.6 cy=343.2 /><circle r=3.02 cx=609.7 cy=342.8 /><circle r=3.02 cx=636.7 cy=343 /><circle r=3.02 cx=598 cy=343.9 /><circle r=3.02 cx=603.1 cy=343.2 /><circle r=3.02 cx=641.9 cy=342.5 /><circle r=3.02 cx=595.6 cy=344.8 /><circle r=3.02 cx=620.5 cy=343.2 /><circle r=3.02 cx=633.3 cy=343.3 /><circle r=3.02 cx=607.6 cy=344.3 /><circle r=3.02 cx=611.6 cy=344.2 /><circle r=3.02 cx=642.9 cy=342.7 /><circle r=3.02 cx=620.8 cy=343.2 /><circle r=3.02 cx=601 cy=344.1 /><circle r=3.02 cx=632.3 cy=343.1 /><circle r=3.02 cx=623.3 cy=343.3 /><circle r=3.02 cx=634.3 cy=344 /><circle r=3.02 cx=604.6 cy=345 /><circle r=3.02 cx=630.1 cy=343 /><circle r=3.02 cx=606.8 cy=343.2 /><circle r=3.02 cx=617.4 cy=343.1 /><circle r=3.02 cx=618.4 cy=343.2 /><circle r=3.02 cx=617.1 cy=342.6 /><circle r=3.02 cx=597 cy=344.1 /><circle r=3.02 cx=605.7 cy=344 /><circle r=3.02 cx=619.8 cy=343.3 /><circle r=3.02 cx=621.4 cy=343.4 /><circle r=3.02 cx=610.4 cy=343.8 /><circle r=3.02 cx=630.9 cy=343.9 /><circle r=3.02 cx=640.8 cy=343 /><circle r=3.02 cx=606.8 cy=344.4 /><circle r=3.02 cx=622 cy=343.2 /><circle r=3.02 cx=609.4 cy=344.8 /><circle r=3.02 cx=623.7 cy=343.2 /><circle r=3.02 cx=635.2 cy=344.4 /><circle r=3.02 cx=600.1 cy=344 /><circle r=3.02 cx=616.8 cy=344.2 /><circle r=3.02 cx=617.7 cy=343.3 /><circle r=3.02 cx=624.1 cy=343.3 /><circle r=3.02 cx=612.9 cy=343.7 /><circle r=3.02 cx=631.8 cy=344.5 /><circle r=3.02 cx=632.8 cy=344.8 /><circle r=3.02 cx=641.7 cy=342.9 /><circle r=3.02 cx=610.9 cy=343.9 /><circle r=3.02 cx=628.2 cy=344 /><circle r=3.02 cx=608.5 cy=345.1 /><circle r=3.02 cx=597.9 cy=344.8 /><circle r=3.02 cx=647 cy=343.6 /><circle r=3.02 cx=637.3 cy=343.6 /><circle r=3.02 cx=612.1 cy=344.5 /><circle r=3.02 cx=617.1 cy=344.3 /><circle r=3.02 cx=630.6 cy=344.1 /><circle r=3.02 cx=603.9 cy=344.1 /><circle r=3.02 cx=633.9 cy=343.7 /><circle r=3.02 cx=613.1 cy=344.2 /><circle r=3.02 cx=629.5 cy=343.3 /><circle r=3.02 cx=639.4 cy=343.5 /><circle r=3.02 cx=606 cy=344.2 /><circle r=3.02 cx=596.8 cy=345.1 /><circle r=3.02 cx=620.6 cy=343.4 /><circle r=3.02 cx=610 cy=344.5 /><circle r=3.02 cx=634.9 cy=344.4 /><circle r=3.02 cx=629.2 cy=344.2 /><circle r=3.02 cx=595.7 cy=345.5 /><circle r=3.02 cx=602.9 cy=344.7 /><circle r=3.02 cx=630.3 cy=344.4 /><circle r=3.02 cx=605 cy=344.8 /><circle r=3.02 cx=618.4 cy=344.5 /><circle r=3.02 cx=617.3 cy=344.8 /><circle r=3.02 cx=638.1 cy=343.6 /><circle r=3.02 cx=632.5 cy=344.6 /><circle r=3.02 cx=631.4 cy=344.7 /><circle r=3.02 cx=635.9 cy=343.5 /><circle r=3.02 cx=644.7 cy=343.8 /><circle r=3.02 cx=618.7 cy=344.8 /><circle r=3.02 cx=627.4 cy=344.3 /><circle r=3.02 cx=614 cy=344.5 /><circle r=3.02 cx=615.9 cy=343.6 /><circle r=3.02 cx=614.6 cy=344.6 /><circle r=3.02 cx=616.2 cy=344.1 /><circle r=3.02 cx=639.1 cy=344.2 /><circle r=3.02 cx=612.3 cy=344.7 /><circle r=3.02 cx=616.6 cy=345 /><circle r=3.02 cx=626.5 cy=344.8 /><circle r=3.02 cx=628.8 cy=344.1 /><circle r=3.02 cx=627 cy=344.4 /><circle r=3.02 cx=625.6 cy=345 /><circle r=3.02 cx=611.3 cy=344.4 /><circle r=3.02 cx=621.7 cy=344.9 /><circle r=3.02 cx=604.1 cy=345 /><circle r=3.02 cx=636.8 cy=344.1 /><circle r=3.02 cx=602 cy=344.6 /><circle r=3.02 cx=626.1 cy=344.9 /><circle r=3.02 cx=623.7 cy=344.4 /><circle r=3.02 cx=641.3 cy=343.6 /><circle r=3.02 cx=603 cy=345.8 /><circle r=3.02 cx=640.1 cy=344.7 /><circle r=3.02 cx=635.7 cy=344.5 /><circle r=3.02 cx=619.2 cy=344.5 /><circle r=3.02 cx=609.2 cy=344.4 /><circle r=3.02 cx=620.8 cy=344.6 /><circle r=3.02 cx=622.9 cy=344.7 /><circle r=3.02 cx=600.9 cy=345.4 /><circle r=3.02 cx=607.9 cy=344.2 /><circle r=3.02 cx=621.3 cy=344.5 /><circle r=3.02 cx=629.8 cy=344.3 /><circle r=3.02 cx=624.7 cy=344.9 /><circle r=3.02 cx=615.3 cy=344.2 /><circle r=3.02 cx=642.2 cy=344 /><circle r=3.02 cx=637.7 cy=344.4 /><circle r=3.02 cx=619.6 cy=344 /><circle r=3.02 cx=622.1 cy=344.5 /><circle r=3.02 cx=634.4 cy=344.5 /><circle r=3.02 cx=646.7 cy=344.2 /><circle r=3.02 cx=613.3 cy=344.7 /><circle r=3.02 cx=624.2 cy=344.1 /><circle r=3.02 cx=605.9 cy=345.9 /><circle r=3.02 cx=617.7 cy=343.8 /><circle r=3.02 cx=632 cy=344.6 /><circle r=3.02 cx=636.5 cy=344.6 /><circle r=3.02 cx=613.9 cy=344.8 /><circle r=3.02 cx=625.3 cy=345 /><circle r=3.02 cx=629.4 cy=344.4 /><circle r=3.02 cx=643.2 cy=344.3 /><circle r=3.02 cx=627.5 cy=344.9 /><circle r=3.02 cx=616.9 cy=344.7 /><circle r=3.02 cx=608.4 cy=344.3 /><circle r=3.02 cx=633.1 cy=343.8 /><circle r=3.02 cx=611.7 cy=344.2 /><circle r=3.02 cx=622.5 cy=344.6 /><circle r=3.02 cx=647.6 cy=344 /><circle r=3.02 cx=620.3 cy=344.9 /><circle r=3.02 cx=602.3 cy=345.1 /><circle r=3.02 cx=631.7 cy=344.8 /><circle r=3.02 cx=640.8 cy=344 /><circle r=3.02 cx=619.9 cy=344.4 /><circle r=3.02 cx=609.8 cy=345.2 /><circle r=3.02 cx=626 cy=345 /><circle r=3.02 cx=638.4 cy=344.1 /><circle r=3.02 cx=628.9 cy=344.5 /><circle r=3.02 cx=613.2 cy=345.4 /><circle r=3.02 cx=639.5 cy=345.3 /><circle r=3.02 cx=624.5 cy=345 /><circle r=3.02 cx=644.1 cy=344 /><circle r=3.02 cx=601.2 cy=345.8 /><circle r=3.02 cx=636.1 cy=345.5 /><circle r=3.02 cx=623.9 cy=344.4 /><circle r=3.02 cx=629.7 cy=346.2 /><circle r=3.02 cx=615.1 cy=344.9 /><circle r=3.02 cx=607.6 cy=344.5 /><circle r=3.02 cx=634.9 cy=345.4 /><circle r=3.02 cx=611.8 cy=346 /><circle r=3.02 cx=625 cy=344.7 /><circle r=3.02 cx=610 cy=345.9 /><circle r=3.02 cx=638.2 cy=345.1 /><circle r=3.02 cx=629.2 cy=346.4 /><circle r=3.02 cx=608.9 cy=345.5 /><circle r=3.02 cx=642.8 cy=344.8 /><circle r=3.02 cx=646.2 cy=345.3 /><circle r=3.02 cx=615.6 cy=345.4 /><circle r=3.02 cx=612.5 cy=346.1 /><circle r=3.02 cx=633.5 cy=345 /><circle r=3.02 cx=620.1 cy=345.5 /><circle r=3.02 cx=608 cy=346.7 /><circle r=3.02 cx=605.7 cy=346.1 /><circle r=3.02 cx=621.1 cy=346.1 /><circle r=3.02 cx=622.2 cy=346.2 /><circle r=3.02 cx=614.5 cy=345.5 /><circle r=3.02 cx=628.7 cy=346.3 /><circle r=3.02 cx=613.3 cy=346.6 /><circle r=3.02 cx=639.1 cy=345.6 /><circle r=3.02 cx=632 cy=346 /><circle r=3.02 cx=619.7 cy=344.9 /><circle r=3.02 cx=640.2 cy=344.6 /><circle r=3.02 cx=634.4 cy=345.9 /><circle r=3.02 cx=615 cy=346.6 /><circle r=3.02 cx=633.2 cy=345.8 /><circle r=3.02 cx=603.3 cy=346.1 /><circle r=3.02 cx=637.9 cy=346.4 /><circle r=3.02 cx=635.6 cy=345.4 /><circle r=3.02 cx=599.4 cy=346.1 /><circle r=3.02 cx=631.5 cy=346.8 /><circle r=3.02 cx=626 cy=346.3 /><circle r=3.02 cx=640.2 cy=346.3 /><circle r=3.02 cx=622.6 cy=346.5 /><circle r=3.02 cx=636.8 cy=344.8 /><circle r=3.02 cx=617.2 cy=345.7 /><circle r=3.02 cx=620.7 cy=345 /><circle r=3.02 cx=598.3 cy=346.6 /><circle r=3.02 cx=623.1 cy=345.1 /><circle r=3.02 cx=630.2 cy=346 /><circle r=3.02 cx=616 cy=345.7 /><circle r=3.02 cx=609.3 cy=345.6 /><circle r=3.02 cx=627.5 cy=346.5 /><circle r=3.02 cx=634.1 cy=346.8 /><circle r=3.02 cx=623.8 cy=345.9 /><circle r=3.02 cx=602.3 cy=347 /><circle r=3.02 cx=604.9 cy=346.2 /><circle r=3.02 cx=626.8 cy=346.7 /><circle r=3.02 cx=641.1 cy=344.8 /><circle r=3.02 cx=617.7 cy=346 /><circle r=3.02 cx=624.4 cy=346.5 /><circle r=3.02 cx=611.2 cy=345.5 /><circle r=3.02 cx=636.5 cy=345.9 /><circle r=3.02 cx=613.9 cy=346.2 /><circle r=3.02 cx=635.2 cy=346.6 /><circle r=3.02 cx=619.4 cy=345.8 /><circle r=3.02 cx=620 cy=346 /><circle r=3.02 cx=625 cy=346.6 /><circle r=3.02 cx=623.3 cy=346.6 /><circle r=3.02 cx=607.3 cy=346.3 /><circle r=3.02 cx=608.5 cy=346.4 /><circle r=3.02 cx=610.4 cy=346.7 /><circle r=3.02 cx=632.6 cy=346 /><circle r=3.02 cx=642.1 cy=345.3 /><circle r=3.02 cx=612 cy=345.5 /><circle r=3.02 cx=621.6 cy=346.3 /><circle r=3.02 cx=640.9 cy=346.2 /><circle r=3.02 cx=629.1 cy=346.5 /><circle r=3.02 cx=620.5 cy=346 /><circle r=3.02 cx=645.5 cy=345.1 /><circle r=3.02 cx=621 cy=346.2 /><circle r=3.02 cx=616.4 cy=345.3 /><circle r=3.02 cx=638.6 cy=346.1 /><circle r=3.02 cx=616.8 cy=346.4 /><circle r=3.02 cx=626.4 cy=347 /><circle r=3.02 cx=618.3 cy=345.4 /><circle r=3.02 cx=615.4 cy=346.2 /><circle r=3.02 cx=625.6 cy=346.1 /><circle r=3.02 cx=628.5 cy=346.8 /><circle r=3.02 cx=630.8 cy=346.3 /><circle r=3.02 cx=648.9 cy=345 /><circle r=3.02 cx=611.2 cy=346.7 /><circle r=3.02 cx=618.8 cy=345.2 /><circle r=3.02 cx=623.9 cy=346.8 /><circle r=3.02 cx=606.5 cy=346.8 /><circle r=3.02 cx=601.6 cy=346.7 /><circle r=3.02 cx=603 cy=347.2 /><circle r=3.02 cx=632.1 cy=346.2 /><circle r=3.02 cx=630.3 cy=346.9 /><circle r=3.02 cx=613.3 cy=346.5 /><circle r=3.02 cx=633.3 cy=346.7 /><circle r=3.02 cx=627.9 cy=346.6 /><circle r=3.02 cx=609.6 cy=347.2 /><circle r=3.02 cx=637.2 cy=345.7 /><circle r=3.02 cx=615.9 cy=346.4 /><circle r=3.02 cx=634.6 cy=346.2 /><circle r=3.02 cx=624.6 cy=346.7 /><circle r=3.02 cx=644 cy=346.1 /><circle r=3.02 cx=629.7 cy=347.2 /><circle r=3.02 cx=639.4 cy=346.2 /><circle r=3.02 cx=622.8 cy=346.1 /><circle r=3.02 cx=647.6 cy=345.7 /><circle r=3.02 cx=635.8 cy=346 /><circle r=3.02 cx=617.9 cy=346.4 /><circle r=3.02 cx=638.2 cy=346.6 /><circle r=3.02 cx=619.2 cy=346.2 /><circle r=3.02 cx=618.5 cy=346.4 /><circle r=3.02 cx=625.3 cy=346.7 /><circle r=3.02 cx=612.1 cy=346.6 /><circle r=3.02 cx=636.8 cy=347.3 /><circle r=3.02 cx=623.4 cy=346.7 /><circle r=3.02 cx=641.5 cy=345.4 /><circle r=3.02 cx=610.5 cy=347 /><circle r=3.02 cx=614.9 cy=346.4 /><circle r=3.02 cx=606.9 cy=347.4 /><circle r=3.02 cx=599.5 cy=347.7 /><circle r=3.02 cx=625.9 cy=346.6 /><circle r=3.02 cx=605.8 cy=346.6 /><circle r=3.02 cx=631.4 cy=346.2 /><circle r=3.02 cx=643.9 cy=347.7 /><circle r=3.02 cx=608.9 cy=347.5 /><circle r=3.02 cx=644.9 cy=346.3 /><circle r=3.02 cx=624.9 cy=347.8 /><circle r=3.02 cx=632.7 cy=346.1 /><circle r=3.02 cx=640.2 cy=346.3 /><circle r=3.02 cx=629 cy=346.2 /><circle r=3.02 cx=601.2 cy=347.7 /><circle r=3.02 cx=642.4 cy=345.7 /><circle r=3.02 cx=633.9 cy=346.4 /><circle r=3.02 cx=630.2 cy=347.6 /><circle r=3.02 cx=638.9 cy=346.5 /><circle r=3.02 cx=634.9 cy=348 /><circle r=3.02 cx=609.7 cy=347.5 /><circle r=3.02 cx=611.4 cy=346.9 /><circle r=3.02 cx=626.7 cy=345.9 /><circle r=3.02 cx=613.3 cy=347.9 /><circle r=3.02 cx=616 cy=347.8 /><circle r=3.02 cx=623.5 cy=347.8 /><circle r=3.02 cx=606.1 cy=347.6 /><circle r=3.02 cx=626.3 cy=347.6 /><circle r=3.02 cx=633.4 cy=347.1 /><circle r=3.02 cx=620.2 cy=347.3 /><circle r=3.02 cx=636.2 cy=347.1 /><circle r=3.02 cx=645.8 cy=346.2 /><circle r=3.02 cx=641.1 cy=346.7 /><circle r=3.02 cx=621.5 cy=347.3 /><circle r=3.02 cx=620.9 cy=347.3 /><circle r=3.02 cx=628.9 cy=348.1 /><circle r=3.02 cx=637.4 cy=346.8 /><circle r=3.02 cx=631.5 cy=347.6 /><circle r=3.02 cx=604 cy=347.7 /><circle r=3.02 cx=616.6 cy=347.8 /><circle r=3.02 cx=624.3 cy=347.9 /><circle r=3.02 cx=612.1 cy=347 /><circle r=3.02 cx=637.1 cy=348.1 /><circle r=3.02 cx=622.9 cy=348 /><circle r=3.02 cx=615 cy=347.5 /><circle r=3.02 cx=622.2 cy=346.9 /><circle r=3.02 cx=630.8 cy=348.3 /><circle r=3.02 cx=609.1 cy=348.1 /><circle r=3.02 cx=639.6 cy=346.5 /><circle r=3.02 cx=608.4 cy=346.9 /><circle r=3.02 cx=628 cy=347.4 /><circle r=3.02 cx=632.7 cy=347.4 /><circle r=3.02 cx=625.8 cy=348.4 /><circle r=3.02 cx=644.3 cy=346.2 /><circle r=3.02 cx=634.1 cy=347.6 /><circle r=3.02 cx=618.8 cy=347.4 /><circle r=3.02 cx=641.9 cy=346.8 /><circle r=3.02 cx=638.2 cy=347.2 /><circle r=3.02 cx=613.9 cy=347.7 /><circle r=3.02 cx=617.3 cy=347.3 /><circle r=3.02 cx=620.1 cy=348.2 /><circle r=3.02 cx=612.8 cy=348 /><circle r=3.02 cx=635.4 cy=347.7 /><circle r=3.02 cx=623.7 cy=348.2 /><circle r=3.02 cx=645.4 cy=347.2 /><circle r=3.02 cx=630 cy=348 /><circle r=3.02 cx=611.4 cy=347.9 /><circle r=3.02 cx=625 cy=347.1 /><circle r=3.02 cx=640.5 cy=347.2 /><circle r=3.02 cx=619.5 cy=347.1 /><circle r=3.02 cx=622.2 cy=348.4 /><circle r=3.02 cx=632.1 cy=348 /><circle r=3.02 cx=607.5 cy=347.9 /><circle r=3.02 cx=621.6 cy=347.8 /><circle r=3.02 cx=604.4 cy=348.5 /><circle r=3.02 cx=639.2 cy=348.2 /><circle r=3.02 cx=647.6 cy=346.5 /><circle r=3.02 cx=627.5 cy=347.9 /><circle r=3.02 cx=642.8 cy=347.2 /><circle r=3.02 cx=652.5 cy=346.6 /><circle r=3.02 cx=641.5 cy=347.9 /><circle r=3.02 cx=628.5 cy=348.3 /><circle r=3.02 cx=613.3 cy=348.7 /><circle r=3.02 cx=614.5 cy=347.6 /><circle r=3.02 cx=631.3 cy=348.4 /><circle r=3.02 cx=606.6 cy=348.9 /><circle r=3.02 cx=629.2 cy=347.6 /><circle r=3.02 cx=618.5 cy=348.4 /><circle r=3.02 cx=616.9 cy=348.3 /><circle r=3.02 cx=623 cy=348.1 /><circle r=3.02 cx=616.3 cy=347.3 /><circle r=3.02 cx=633.2 cy=347.5 /><circle r=3.02 cx=619.3 cy=348.3 /><circle r=3.02 cx=625.2 cy=348.1 /><circle r=3.02 cx=636.1 cy=347.7 /><circle r=3.02 cx=634.7 cy=347.2 /><circle r=3.02 cx=603.6 cy=348.9 /><circle r=3.02 cx=646 cy=346.6 /><circle r=3.02 cx=617.7 cy=348 /><circle r=3.02 cx=612.3 cy=347.8 /><circle r=3.02 cx=647.3 cy=347.8 /><circle r=3.02 cx=629.8 cy=349 /><circle r=3.02 cx=609.5 cy=348.7 /><circle r=3.02 cx=620 cy=348.2 /><circle r=3.02 cx=642.4 cy=348 /><circle r=3.02 cx=614 cy=348.8 /><circle r=3.02 cx=621.5 cy=348.4 /><circle r=3.02 cx=637 cy=349.1 /><circle r=3.02 cx=649.6 cy=347.1 /><circle r=3.02 cx=615.8 cy=348.9 /><circle r=3.02 cx=639.8 cy=347.7 /><circle r=3.02 cx=650.9 cy=348 /><circle r=3.02 cx=654.6 cy=347.1 /><circle r=3.02 cx=635.4 cy=348.3 /><circle r=3.02 cx=623.1 cy=349.3 /><circle r=3.02 cx=606 cy=348.9 /><circle r=3.02 cx=638.3 cy=347.8 /><circle r=3.02 cx=631.8 cy=348.5 /><circle r=3.02 cx=612.8 cy=348.7 /><circle r=3.02 cx=628.8 cy=348.5 /><circle r=3.02 cx=639.4 cy=349.1 /><circle r=3.02 cx=614.7 cy=349.1 /><circle r=3.02 cx=616.7 cy=348.4 /><circle r=3.02 cx=619 cy=348.8 /><circle r=3.02 cx=640.7 cy=348.3 /><circle r=3.02 cx=643.2 cy=348.7 /><circle r=3.02 cx=644.4 cy=347.2 /><circle r=3.02 cx=648.1 cy=347.5 /><circle r=3.02 cx=617.4 cy=348.5 /><circle r=3.02 cx=645.7 cy=348.7 /><circle r=3.02 cx=626.3 cy=348.9 /><circle r=3.02 cx=637.7 cy=349.2 /><circle r=3.02 cx=620.7 cy=349.4 /><circle r=3.02 cx=634.6 cy=349 /><circle r=3.02 cx=619.8 cy=349 /><circle r=3.02 cx=631 cy=348.4 /><circle r=3.02 cx=633.2 cy=348.2 /><circle r=3.02 cx=627.2 cy=348.5 /><circle r=3.02 cx=630.2 cy=348.9 /><circle r=3.02 cx=632.4 cy=349.1 /><circle r=3.02 cx=644.2 cy=348.9 /><circle r=3.02 cx=641.6 cy=349.1 /><circle r=3.02 cx=609.6 cy=349.6 /><circle r=3.02 cx=624.8 cy=349.6 /><circle r=3.02 cx=616.3 cy=349.7 /><circle r=3.02 cx=612.3 cy=349.2 /><circle r=3.02 cx=622.3 cy=348.7 /><circle r=3.02 cx=628.1 cy=348.3 /><circle r=3.02 cx=649 cy=347.9 /><circle r=3.02 cx=634 cy=349.6 /><circle r=3.02 cx=629.2 cy=348.8 /><circle r=3.02 cx=625.7 cy=349.8 /><circle r=3.02 cx=640 cy=349.1 /><circle r=3.02 cx=614.3 cy=349.8 /><circle r=3.02 cx=608.1 cy=349.6 /><circle r=3.02 cx=618.9 cy=349.7 /><circle r=3.02 cx=650.3 cy=348.8 /><circle r=3.02 cx=626.6 cy=349.9 /><circle r=3.02 cx=636.9 cy=349.4 /><circle r=3.02 cx=623.1 cy=349 /><circle r=3.02 cx=635.3 cy=349.5 /><circle r=3.02 cx=638.4 cy=349.4 /><circle r=3.02 cx=611.3 cy=348.6 /><circle r=3.02 cx=646.3 cy=348 /><circle r=3.02 cx=627.6 cy=349.7 /><circle r=3.02 cx=642.4 cy=349.5 /><circle r=3.02 cx=628.6 cy=349.8 /><circle r=3.02 cx=619.7 cy=349.6 /><circle r=3.02 cx=630.7 cy=349.7 /><circle r=3.02 cx=620.5 cy=349.9 /><circle r=3.02 cx=624 cy=349.7 /><circle r=3.02 cx=647.5 cy=349.4 /><circle r=3.02 cx=633 cy=349.7 /><circle r=3.02 cx=615.1 cy=349.9 /><circle r=3.02 cx=644.9 cy=348.8 /><circle r=3.02 cx=629.7 cy=350 /><circle r=3.02 cx=640.8 cy=349.2 /><circle r=3.02 cx=622.3 cy=349.3 /><circle r=3.02 cx=634.5 cy=349.7 /><circle r=3.02 cx=632.1 cy=349.9 /><circle r=3.02 cx=617.8 cy=349.8 /><circle r=3.02 cx=613.9 cy=350.1 /><circle r=3.02 cx=625.9 cy=350 /><circle r=3.02 cx=618.7 cy=350.1 /><circle r=3.02 cx=637.5 cy=349.6 /><circle r=3.02 cx=635.9 cy=349.7 /><circle r=3.02 cx=643.2 cy=349.6 /><circle r=3.02 cx=645.8 cy=349.4 /><circle r=3.02 cx=616.9 cy=349.5 /><circle r=3.02 cx=652.1 cy=349.1 /><circle r=3.02 cx=619.6 cy=350.3 /><circle r=3.02 cx=627.9 cy=349.8 /><circle r=3.02 cx=654.5 cy=348.3 /><circle r=3.02 cx=633.6 cy=350.1 /><circle r=3.02 cx=648.1 cy=348.6 /><circle r=3.02 cx=620.5 cy=349.9 /><circle r=3.02 cx=639.8 cy=350 /><circle r=3.02 cx=625.2 cy=350.5 /><circle r=3.02 cx=615.6 cy=350.4 /><circle r=3.02 cx=644 cy=349.9 /><circle r=3.02 cx=623.3 cy=350.8 /><circle r=3.02 cx=646.6 cy=349.4 /><circle r=3.02 cx=638.1 cy=349.5 /><circle r=3.02 cx=636.4 cy=349.7 /><circle r=3.02 cx=634.1 cy=350.6 /><circle r=3.02 cx=631.6 cy=350.5 /><circle r=3.02 cx=629.4 cy=350.7 /><circle r=3.02 cx=628.2 cy=350.2 /><circle r=3.02 cx=609.3 cy=350.9 /><circle r=3.02 cx=619.5 cy=350.6 /><circle r=3.02 cx=640.7 cy=350.9 /><circle r=3.02 cx=621.4 cy=350.8 /><circle r=3.02 cx=624.3 cy=350.6 /><circle r=3.02 cx=647.6 cy=349.8 /><circle r=3.02 cx=639 cy=350.8 /><circle r=3.02 cx=644.8 cy=350.1 /><circle r=3.02 cx=654 cy=349.2 /><circle r=3.02 cx=650.1 cy=349.5 /><circle r=3.02 cx=622.3 cy=350.1 /><circle r=3.02 cx=657.6 cy=348.8 /><circle r=3.02 cx=648.7 cy=350.9 /><circle r=3.02 cx=643.1 cy=350 /><circle r=3.02 cx=626.4 cy=351.1 /><circle r=3.02 cx=645.9 cy=351 /><circle r=3.02 cx=632 cy=351.2 /><circle r=3.02 cx=651.1 cy=350 /><circle r=3.02 cx=639.8 cy=351.2 /><circle r=3.02 cx=641.3 cy=350.3 /><circle r=3.02 cx=644.2 cy=351.3 /><circle r=3.02 cx=634.5 cy=350.2 /><circle r=3.02 cx=621.5 cy=350.9 /><circle r=3.02 cx=646.6 cy=350.8 /><circle r=3.02 cx=625.5 cy=351.2 /><circle r=3.02 cx=616.1 cy=351.1 /><circle r=3.02 cx=628.9 cy=351.5 /><circle r=3.02 cx=645 cy=351.4 /><circle r=3.02 cx=632.5 cy=351.1 /><circle r=3.02 cx=630.1 cy=351.6 /><circle r=3.02 cx=641.9 cy=350.6 /><circle r=3.02 cx=640.3 cy=350.8 /><circle r=3.02 cx=636.9 cy=351.3 /><circle r=3.02 cx=638.5 cy=351.5 /><circle r=3.02 cx=619.2 cy=351.2 /><circle r=3.02 cx=652.8 cy=349.9 /><circle r=3.02 cx=622.5 cy=351.9 /><circle r=3.02 cx=650.1 cy=350.2 /><circle r=3.02 cx=643 cy=352 /><circle r=3.02 cx=647.3 cy=351 /><circle r=3.02 cx=617.9 cy=352.3 /><circle r=3.02 cx=651.3 cy=351.1 /><circle r=3.02 cx=645.6 cy=351.1 /><circle r=3.02 cx=641 cy=351.1 /><circle r=3.02 cx=637.5 cy=351.3 /><circle r=3.02 cx=628 cy=351.6 /><circle r=3.02 cx=643.8 cy=352.3 /><circle r=3.02 cx=648.1 cy=350.7 /><circle r=3.02 cx=636.5 cy=352.6 /><circle r=3.02 cx=646.6 cy=352.2 /><circle r=3.02 cx=641.9 cy=352.1 /><circle r=3.02 cx=659 cy=350.3 /><circle r=3.02 cx=633.5 cy=352 /><circle r=3.02 cx=608.6 cy=352.6 /><circle r=3.02 cx=651.9 cy=350.8 /><circle r=3.02 cx=629.6 cy=352.3 /><circle r=3.02 cx=627.1 cy=351.7 /><circle r=3.02 cx=649 cy=351.6 /><circle r=3.02 cx=628.3 cy=352 /><circle r=3.02 cx=655.8 cy=350.9 /><circle r=3.02 cx=613.9 cy=353.1 /><circle r=3.02 cx=653 cy=351.5 /><circle r=3.02 cx=639 cy=353.1 /><circle r=3.02 cx=647.2 cy=351.6 /><circle r=3.02 cx=650.1 cy=352.3 /><circle r=3.02 cx=642.4 cy=351.8 /><circle r=3.02 cx=615.1 cy=352.9 /><circle r=3.02 cx=632.8 cy=353.2 /><circle r=3.02 cx=635.8 cy=353.2 /><circle r=3.02 cx=654 cy=351.6 /><circle r=3.02 cx=648.2 cy=352.2 /><circle r=3.02 cx=656.7 cy=351.1 /><circle r=3.02 cx=625 cy=353.2 /><circle r=3.02 cx=637.7 cy=353.4 /><circle r=3.02 cx=639.7 cy=353.6 /><circle r=3.02 cx=650.6 cy=351.7 /><circle r=3.02 cx=655.1 cy=352.3 /><circle r=3.02 cx=616.2 cy=353.5 /><circle r=3.02 cx=646 cy=352.8 /><circle r=3.02 cx=627.5 cy=353.8 /><circle r=3.02 cx=630.2 cy=353.8 /><circle r=3.02 cx=649.2 cy=353.3 /><circle r=3.02 cx=651.9 cy=352.8 /><circle r=3.02 cx=644 cy=352.5 /><circle r=3.02 cx=640.3 cy=353.9 /><circle r=3.02 cx=642 cy=353.5 /><circle r=3.02 cx=655.9 cy=352 /><circle r=3.02 cx=646.7 cy=352.8 /><circle r=3.02 cx=649.7 cy=352.9 /><circle r=3.02 cx=644.9 cy=353.7 /><circle r=3.02 cx=652.8 cy=353.3 /><circle r=3.02 cx=633.7 cy=354.1 /><circle r=3.02 cx=642.8 cy=354.2 /><circle r=3.02 cx=647.9 cy=354.3 /><circle r=3.02 cx=635.4 cy=354.2 /><circle r=3.02 cx=650.6 cy=353.1 /><circle r=3.02 cx=645.8 cy=354.1 /></g><g class=c34><circle r=3.02 cx=586.7 cy=342.2 /><circle r=3.02 cx=584.6 cy=341.7 /><circle r=3.02 cx=582.8 cy=343.8 /><circle r=3.02 cx=579 cy=344 /><circle r=3.02 cx=577.8 cy=343.8 /><circle r=3.02 cx=573.7 cy=344.3 /><circle r=3.02 cx=588 cy=342.9 /><circle r=3.02 cx=584.3 cy=343.4 /><circle r=3.02 cx=580.6 cy=343.3 /><circle r=3.02 cx=582.1 cy=343 /><circle r=3.02 cx=586 cy=342.3 /><circle r=3.02 cx=585.3 cy=345.6 /><circle r=3.02 cx=591.7 cy=343.9 /><circle r=3.02 cx=581.6 cy=345.9 /><circle r=3.02 cx=588.3 cy=344.2 /><circle r=3.02 cx=587 cy=344.4 /><circle r=3.02 cx=590.8 cy=343.6 /><circle r=3.02 cx=584.5 cy=345.1 /><circle r=3.02 cx=583.4 cy=344.9 /><circle r=3.02 cx=580.6 cy=345.6 /><circle r=3.02 cx=594 cy=344.3 /><circle r=3.02 cx=591.9 cy=344.4 /><circle r=3.02 cx=586.9 cy=345.9 /><circle r=3.02 cx=590.9 cy=344.2 /><circle r=3.02 cx=585.7 cy=346 /><circle r=3.02 cx=588.4 cy=345.1 /><circle r=3.02 cx=583.1 cy=346.7 /><circle r=3.02 cx=584.7 cy=345.9 /><circle r=3.02 cx=582 cy=346.6 /><circle r=3.02 cx=594.5 cy=345.5 /><circle r=3.02 cx=598.7 cy=345.1 /><circle r=3.02 cx=593.4 cy=345.7 /><circle r=3.02 cx=592.4 cy=345.5 /><circle r=3.02 cx=589.8 cy=346.7 /><circle r=3.02 cx=419.7 cy=346.1 /><circle r=3.02 cx=591.3 cy=345.8 /><circle r=3.02 cx=594.2 cy=347 /><circle r=3.02 cx=587.2 cy=347.7 /><circle r=3.02 cx=589.1 cy=346 /><circle r=3.02 cx=592.2 cy=347 /><circle r=3.02 cx=585.1 cy=347.8 /><circle r=3.02 cx=593.5 cy=346.2 /><circle r=3.02 cx=586.6 cy=346.8 /><circle r=3.02 cx=599.8 cy=346.2 /><circle r=3.02 cx=589.7 cy=347.9 /><circle r=3.02 cx=591.4 cy=346.5 /><circle r=3.02 cx=630.2 cy=346.2 /><circle r=3.02 cx=598.9 cy=346.3 /><circle r=3.02 cx=597.7 cy=347 /><circle r=3.02 cx=588.8 cy=347.6 /><circle r=3.02 cx=587.3 cy=348.6 /><circle r=3.02 cx=605 cy=346.4 /><circle r=3.02 cx=606.4 cy=346.4 /><circle r=3.02 cx=596.6 cy=347.3 /><circle r=3.02 cx=604 cy=347 /><circle r=3.02 cx=586.2 cy=348.9 /><circle r=3.02 cx=600.1 cy=346.6 /><circle r=3.02 cx=595.5 cy=347.6 /><circle r=3.02 cx=594.7 cy=347.5 /><circle r=3.02 cx=593.4 cy=348.3 /><circle r=3.02 cx=596.9 cy=348 /><circle r=3.02 cx=603.8 cy=347.2 /><circle r=3.02 cx=592.4 cy=348.2 /><circle r=3.02 cx=607.4 cy=348.2 /><circle r=3.02 cx=596.1 cy=348 /><circle r=3.02 cx=600.1 cy=348.5 /><circle r=3.02 cx=627.3 cy=347.8 /><circle r=3.02 cx=591.4 cy=348.4 /><circle r=3.02 cx=595 cy=348.3 /><circle r=3.02 cx=590.2 cy=349.1 /><circle r=3.02 cx=588.7 cy=350 /><circle r=3.02 cx=613.8 cy=348.1 /><circle r=3.02 cx=612.5 cy=348.4 /><circle r=3.02 cx=602 cy=348.2 /><circle r=3.02 cx=593.8 cy=348.9 /><circle r=3.02 cx=587.7 cy=349.9 /><circle r=3.02 cx=592.9 cy=349 /><circle r=3.02 cx=604.7 cy=348 /><circle r=3.02 cx=614.3 cy=348.1 /><circle r=3.02 cx=591.6 cy=349.8 /><circle r=3.02 cx=598.5 cy=348.5 /><circle r=3.02 cx=625.6 cy=348.1 /><circle r=3.02 cx=600.2 cy=348.6 /><circle r=3.02 cx=627.2 cy=348.2 /><circle r=3.02 cx=610.6 cy=348.9 /><circle r=3.02 cx=597.4 cy=349.1 /><circle r=3.02 cx=605.1 cy=348.6 /><circle r=3.02 cx=590.8 cy=349.3 /><circle r=3.02 cx=596.2 cy=349.9 /><circle r=3.02 cx=599.2 cy=349.4 /><circle r=3.02 cx=615.4 cy=348.9 /><circle r=3.02 cx=603 cy=348.9 /><circle r=3.02 cx=610 cy=349.1 /><circle r=3.02 cx=608.2 cy=349.4 /><circle r=3.02 cx=595.4 cy=350 /><circle r=3.02 cx=637.9 cy=348.8 /><circle r=3.02 cx=598.4 cy=349.2 /><circle r=3.02 cx=602.1 cy=349.1 /><circle r=3.02 cx=610.7 cy=349.3 /><circle r=3.02 cx=597.2 cy=350.1 /><circle r=3.02 cx=594.4 cy=350.3 /><circle r=3.02 cx=620.7 cy=349.4 /><circle r=3.02 cx=607.5 cy=349.5 /><circle r=3.02 cx=601.1 cy=349.8 /><circle r=3.02 cx=634.1 cy=349.3 /><circle r=3.02 cx=596.2 cy=350.5 /><circle r=3.02 cx=624.6 cy=349.4 /><circle r=3.02 cx=618.2 cy=349.8 /><circle r=3.02 cx=610.1 cy=349.9 /><circle r=3.02 cx=625.6 cy=349.8 /><circle r=3.02 cx=600.2 cy=350.7 /><circle r=3.02 cx=611.6 cy=349.5 /><circle r=3.02 cx=602.7 cy=349.7 /><circle r=3.02 cx=636.4 cy=350 /><circle r=3.02 cx=606.8 cy=349.9 /><circle r=3.02 cx=595.2 cy=351 /><circle r=3.02 cx=621.5 cy=350 /><circle r=3.02 cx=608.7 cy=349.5 /><circle r=3.02 cx=613.5 cy=349.8 /><circle r=3.02 cx=623.9 cy=349.6 /><circle r=3.02 cx=615.4 cy=350 /><circle r=3.02 cx=605.1 cy=349.9 /><circle r=3.02 cx=599.3 cy=350.8 /><circle r=3.02 cx=601.9 cy=349.7 /><circle r=3.02 cx=618 cy=350.5 /><circle r=3.02 cx=631.7 cy=350.7 /><circle r=3.02 cx=594.2 cy=351.3 /><circle r=3.02 cx=606.1 cy=350.1 /><circle r=3.02 cx=621.4 cy=351.4 /><circle r=3.02 cx=598.2 cy=351.7 /><circle r=3.02 cx=617.1 cy=349.8 /><circle r=3.02 cx=593 cy=352.2 /><circle r=3.02 cx=610.3 cy=351.4 /><circle r=3.02 cx=604.3 cy=350.3 /><circle r=3.02 cx=613 cy=350.3 /><circle r=3.02 cx=601 cy=350.4 /><circle r=3.02 cx=608.7 cy=350.9 /><circle r=3.02 cx=605.2 cy=351.3 /><circle r=3.02 cx=611.7 cy=350.7 /><circle r=3.02 cx=599.9 cy=351.6 /><circle r=3.02 cx=607.3 cy=350.8 /><circle r=3.02 cx=615.9 cy=350.4 /><circle r=3.02 cx=597.4 cy=351.7 /><circle r=3.02 cx=639.3 cy=350.5 /><circle r=3.02 cx=603.5 cy=350.9 /><circle r=3.02 cx=623.2 cy=350.5 /><circle r=3.02 cx=627 cy=350.8 /><circle r=3.02 cx=629.1 cy=351.2 /><circle r=3.02 cx=624.2 cy=351.1 /><circle r=3.02 cx=609.8 cy=351.6 /><circle r=3.02 cx=612.6 cy=350.6 /><circle r=3.02 cx=604.5 cy=351.4 /><circle r=3.02 cx=631.2 cy=350.5 /><circle r=3.02 cx=621.4 cy=351 /><circle r=3.02 cx=608.2 cy=350.9 /><circle r=3.02 cx=635.3 cy=351.4 /><circle r=3.02 cx=596.4 cy=352.7 /><circle r=3.02 cx=599 cy=352 /><circle r=3.02 cx=606.5 cy=351.4 /><circle r=3.02 cx=622.4 cy=351.3 /><circle r=3.02 cx=614.7 cy=350.7 /><circle r=3.02 cx=611.2 cy=350.7 /><circle r=3.02 cx=630.2 cy=350.6 /><circle r=3.02 cx=602.7 cy=351.1 /><circle r=3.02 cx=632.7 cy=351 /><circle r=3.02 cx=617.5 cy=351.3 /><circle r=3.02 cx=613.4 cy=351 /><circle r=3.02 cx=616.6 cy=351.1 /><circle r=3.02 cx=642.7 cy=350.9 /><circle r=3.02 cx=595.3 cy=353.2 /><circle r=3.02 cx=626.1 cy=351.2 /><circle r=3.02 cx=618.5 cy=351.3 /><circle r=3.02 cx=598.1 cy=352.6 /><circle r=3.02 cx=627.3 cy=351.4 /><circle r=3.02 cx=612.1 cy=351.2 /><circle r=3.02 cx=603.8 cy=351.8 /><circle r=3.02 cx=630.7 cy=352.1 /><circle r=3.02 cx=601.8 cy=352 /><circle r=3.02 cx=610.7 cy=351.6 /><circle r=3.02 cx=607.7 cy=351.2 /><circle r=3.02 cx=620.4 cy=351.4 /><circle r=3.02 cx=614.3 cy=351.1 /><circle r=3.02 cx=635.8 cy=351.4 /><circle r=3.02 cx=606 cy=351.1 /><circle r=3.02 cx=625.4 cy=351.9 /><circle r=3.02 cx=633.3 cy=351.4 /><circle r=3.02 cx=602.8 cy=352.9 /><circle r=3.02 cx=637.3 cy=351.2 /><circle r=3.02 cx=606.7 cy=352.9 /><circle r=3.02 cx=597.2 cy=353.1 /><circle r=3.02 cx=615.3 cy=351.6 /><circle r=3.02 cx=600.8 cy=353.4 /><circle r=3.02 cx=612.9 cy=351.7 /><circle r=3.02 cx=605 cy=353.3 /><circle r=3.02 cx=623.4 cy=352 /><circle r=3.02 cx=618.3 cy=352.3 /><circle r=3.02 cx=608.6 cy=353 /><circle r=3.02 cx=636.8 cy=352.8 /><circle r=3.02 cx=594.6 cy=353.1 /><circle r=3.02 cx=617.3 cy=351.3 /><circle r=3.02 cx=616.3 cy=351.5 /><circle r=3.02 cx=627.6 cy=351.8 /><circle r=3.02 cx=611.6 cy=351.6 /><circle r=3.02 cx=628.6 cy=351.7 /><circle r=3.02 cx=629.8 cy=351.5 /><circle r=3.02 cx=619.3 cy=351.9 /><circle r=3.02 cx=638.1 cy=352.1 /><circle r=3.02 cx=596.2 cy=353.7 /><circle r=3.02 cx=613.9 cy=351.6 /><circle r=3.02 cx=624.4 cy=351.7 /><circle r=3.02 cx=602 cy=353.8 /><circle r=3.02 cx=620.3 cy=352 /><circle r=3.02 cx=631 cy=351.6 /><circle r=3.02 cx=622.4 cy=351.8 /><circle r=3.02 cx=612.4 cy=352.4 /><circle r=3.02 cx=633.7 cy=351.7 /><circle r=3.02 cx=600.1 cy=353.5 /><circle r=3.02 cx=614.9 cy=352 /><circle r=3.02 cx=617 cy=352.5 /><circle r=3.02 cx=604.4 cy=353 /><circle r=3.02 cx=606.2 cy=352.4 /><circle r=3.02 cx=609.4 cy=353.1 /><circle r=3.02 cx=613.4 cy=353.4 /><circle r=3.02 cx=635.4 cy=351.8 /><circle r=3.02 cx=626.6 cy=352.1 /><circle r=3.02 cx=627.8 cy=352.4 /><circle r=3.02 cx=611.1 cy=351.9 /><circle r=3.02 cx=623.5 cy=351.8 /><circle r=3.02 cx=608.1 cy=352.5 /><circle r=3.02 cx=618.2 cy=352 /><circle r=3.02 cx=601.3 cy=353.7 /><circle r=3.02 cx=620.3 cy=352.7 /><circle r=3.02 cx=624.5 cy=352.2 /><circle r=3.02 cx=599.3 cy=353.8 /><circle r=3.02 cx=631.4 cy=352.1 /><circle r=3.02 cx=634.3 cy=352.4 /><circle r=3.02 cx=621.4 cy=352.2 /><circle r=3.02 cx=614.5 cy=353.1 /><circle r=3.02 cx=612 cy=352.8 /><circle r=3.02 cx=605.6 cy=353.1 /><circle r=3.02 cx=603.7 cy=353.2 /><circle r=3.02 cx=625.7 cy=352.8 /><circle r=3.02 cx=636 cy=352.6 /><circle r=3.02 cx=615.7 cy=353 /><circle r=3.02 cx=616.9 cy=352.7 /><circle r=3.02 cx=610.6 cy=352.7 /><circle r=3.02 cx=633.2 cy=352.9 /><circle r=3.02 cx=626.9 cy=352.9 /><circle r=3.02 cx=630.7 cy=353.5 /><circle r=3.02 cx=607.5 cy=353.1 /><circle r=3.02 cx=629.4 cy=353.1 /><circle r=3.02 cx=623.5 cy=352.8 /><circle r=3.02 cx=639.5 cy=353.2 /><circle r=3.02 cx=624.7 cy=354.2 /><circle r=3.02 cx=609 cy=352.9 /><circle r=3.02 cx=600.6 cy=354 /><circle r=3.02 cx=632 cy=353.3 /><circle r=3.02 cx=619.1 cy=353.4 /><circle r=3.02 cx=598.5 cy=353.9 /><circle r=3.02 cx=634.8 cy=352.8 /><circle r=3.02 cx=614.1 cy=353.8 /><circle r=3.02 cx=604.8 cy=353.8 /><circle r=3.02 cx=621.3 cy=352.9 /><circle r=3.02 cx=611.5 cy=353.4 /><circle r=3.02 cx=620.1 cy=352.7 /><circle r=3.02 cx=615.3 cy=354.3 /><circle r=3.02 cx=640.4 cy=354.3 /><circle r=3.02 cx=622.4 cy=353.1 /><circle r=3.02 cx=603.1 cy=353.5 /><circle r=3.02 cx=606.8 cy=354.1 /><circle r=3.02 cx=638.5 cy=353.7 /><circle r=3.02 cx=625.8 cy=353.5 /><circle r=3.02 cx=616.7 cy=353.5 /><circle r=3.02 cx=631.2 cy=354.1 /><circle r=3.02 cx=597.4 cy=355 /><circle r=3.02 cx=610.2 cy=352.8 /><circle r=3.02 cx=617.8 cy=353.6 /><circle r=3.02 cx=612.6 cy=354.1 /><circle r=3.02 cx=618.9 cy=354.4 /><circle r=3.02 cx=635.4 cy=353.8 /><circle r=3.02 cx=632.4 cy=353.2 /><circle r=3.02 cx=604.2 cy=354.3 /><circle r=3.02 cx=602.3 cy=354.5 /><circle r=3.02 cx=644.6 cy=352.9 /><circle r=3.02 cx=624.7 cy=353.5 /><circle r=3.02 cx=620.1 cy=353.5 /><circle r=3.02 cx=637.2 cy=353.5 /><circle r=3.02 cx=611.2 cy=353.9 /><circle r=3.02 cx=621.3 cy=353.2 /><circle r=3.02 cx=622.5 cy=353.6 /><circle r=3.02 cx=606.3 cy=354 /><circle r=3.02 cx=640.8 cy=353.8 /><circle r=3.02 cx=596.6 cy=355.3 /><circle r=3.02 cx=634.2 cy=353.8 /><circle r=3.02 cx=609.5 cy=353.4 /><circle r=3.02 cx=626 cy=353.7 /><circle r=3.02 cx=623.7 cy=354.6 /><circle r=3.02 cx=617.5 cy=354.7 /><circle r=3.02 cx=616.4 cy=353.6 /><circle r=3.02 cx=608 cy=353.8 /><circle r=3.02 cx=627.4 cy=353.9 /><circle r=3.02 cx=601.3 cy=355.7 /><circle r=3.02 cx=631.4 cy=354.1 /><circle r=3.02 cx=628.7 cy=354 /><circle r=3.02 cx=645.6 cy=353.6 /><circle r=3.02 cx=630 cy=353.5 /><circle r=3.02 cx=603.4 cy=355.2 /><circle r=3.02 cx=612.3 cy=354.1 /><circle r=3.02 cx=643.7 cy=353.7 /><circle r=3.02 cx=610.6 cy=355 /><circle r=3.02 cx=605.4 cy=355.5 /><circle r=3.02 cx=608.9 cy=355.2 /><circle r=3.02 cx=618.7 cy=353.6 /><circle r=3.02 cx=621.3 cy=354.1 /><circle r=3.02 cx=620.1 cy=354.1 /><circle r=3.02 cx=641.5 cy=353.8 /><circle r=3.02 cx=622.5 cy=354.3 /><circle r=3.02 cx=613.4 cy=353.8 /><circle r=3.02 cx=607.3 cy=354.9 /><circle r=3.02 cx=634.7 cy=354.4 /><circle r=3.02 cx=626.2 cy=354.3 /><circle r=3.02 cx=614.8 cy=354.2 /><circle r=3.02 cx=611.9 cy=355.1 /><circle r=3.02 cx=631.8 cy=354.6 /><circle r=3.02 cx=636.6 cy=354.6 /><circle r=3.02 cx=623.8 cy=354.2 /><circle r=3.02 cx=600.8 cy=355.3 /><circle r=3.02 cx=617.4 cy=354.2 /><circle r=3.02 cx=629 cy=353.9 /><circle r=3.02 cx=633.3 cy=354.5 /><circle r=3.02 cx=604.8 cy=356 /><circle r=3.02 cx=618.7 cy=354.9 /><circle r=3.02 cx=619.9 cy=355.5 /><circle r=3.02 cx=638.4 cy=354.5 /><circle r=3.02 cx=610.2 cy=354.8 /><circle r=3.02 cx=606.6 cy=355.8 /><circle r=3.02 cx=625.1 cy=354.4 /><circle r=3.02 cx=608.5 cy=354.9 /><circle r=3.02 cx=621.3 cy=354.4 /><circle r=3.02 cx=622.6 cy=355 /><circle r=3.02 cx=613.2 cy=354.3 /><circle r=3.02 cx=615.9 cy=355.6 /><circle r=3.02 cx=635.1 cy=354.2 /><circle r=3.02 cx=601.9 cy=356 /><circle r=3.02 cx=614.5 cy=355.1 /><circle r=3.02 cx=600 cy=355.5 /><circle r=3.02 cx=626.5 cy=354.4 /><circle r=3.02 cx=627.9 cy=355.1 /><circle r=3.02 cx=617.1 cy=355.5 /><circle r=3.02 cx=632.2 cy=355 /><circle r=3.02 cx=623.8 cy=355.2 /><circle r=3.02 cx=611.4 cy=355.3 /><circle r=3.02 cx=630.7 cy=354.6 /><circle r=3.02 cx=596.3 cy=356.8 /><circle r=3.02 cx=637 cy=354.4 /><circle r=3.02 cx=629.2 cy=354.5 /><circle r=3.02 cx=639.2 cy=355.3 /><circle r=3.02 cx=618.4 cy=355.9 /><circle r=3.02 cx=607.8 cy=356.3 /><circle r=3.02 cx=621.2 cy=356.4 /><circle r=3.02 cx=641 cy=354.8 /><circle r=3.02 cx=604.4 cy=355.6 /><circle r=3.02 cx=609.8 cy=355.2 /><circle r=3.02 cx=598.9 cy=356.8 /><circle r=3.02 cx=625.3 cy=355 /><circle r=3.02 cx=619.8 cy=355.2 /><circle r=3.02 cx=614.1 cy=356.8 /><circle r=3.02 cx=622.6 cy=355.9 /><circle r=3.02 cx=615.6 cy=356.7 /><circle r=3.02 cx=612.9 cy=354.9 /><circle r=3.02 cx=601.3 cy=356.6 /><circle r=3.02 cx=631.2 cy=356.5 /><circle r=3.02 cx=634.4 cy=356.9 /><circle r=3.02 cx=637.8 cy=355.8 /><circle r=3.02 cx=628.1 cy=356.2 /><circle r=3.02 cx=611 cy=356.2 /><circle r=3.02 cx=632.6 cy=355.1 /></g><g class=c35><circle r=3.02 cx=565 cy=346.5 /><circle r=3.02 cx=560.4 cy=346.4 /><circle r=3.02 cx=568.4 cy=345.9 /><circle r=3.02 cx=570.1 cy=345.4 /><circle r=3.02 cx=575.6 cy=345.3 /><circle r=3.02 cx=574.5 cy=345 /><circle r=3.02 cx=571.8 cy=345 /><circle r=3.02 cx=577.2 cy=347.3 /><circle r=3.02 cx=578.8 cy=346.7 /><circle r=3.02 cx=576 cy=347.2 /><circle r=3.02 cx=572.8 cy=348.1 /><circle r=3.02 cx=574.5 cy=347.5 /><circle r=3.02 cx=575.6 cy=349.1 /><circle r=3.02 cx=421 cy=347.8 /><circle r=3.02 cx=577.1 cy=348.7 /><circle r=3.02 cx=580.3 cy=347.6 /><circle r=3.02 cx=579.1 cy=347.5 /><circle r=3.02 cx=571.5 cy=349.4 /><circle r=3.02 cx=583.4 cy=348.8 /><circle r=3.02 cx=582.4 cy=348.6 /><circle r=3.02 cx=579.1 cy=350.5 /><circle r=3.02 cx=581 cy=349.1 /><circle r=3.02 cx=576.3 cy=350.9 /><circle r=3.02 cx=578 cy=350.1 /><circle r=3.02 cx=584.6 cy=349.8 /><circle r=3.02 cx=575.5 cy=350.3 /><circle r=3.02 cx=583.6 cy=349.4 /><circle r=3.02 cx=582 cy=350.6 /><circle r=3.02 cx=579 cy=351.9 /><circle r=3.02 cx=577.8 cy=351.9 /><circle r=3.02 cx=586.4 cy=350.7 /><circle r=3.02 cx=583.4 cy=352.5 /><circle r=3.02 cx=585.1 cy=351.2 /><circle r=3.02 cx=589.1 cy=351 /><circle r=3.02 cx=587.9 cy=351.6 /><circle r=3.02 cx=582.4 cy=352.6 /><circle r=3.02 cx=580.9 cy=353.2 /><circle r=3.02 cx=586.4 cy=352.6 /><circle r=3.02 cx=592.8 cy=351.9 /><circle r=3.02 cx=585.6 cy=352.2 /><circle r=3.02 cx=578.3 cy=354 /><circle r=3.02 cx=584.1 cy=353.4 /><circle r=3.02 cx=591.9 cy=351.9 /><circle r=3.02 cx=581.4 cy=354.2 /><circle r=3.02 cx=590.8 cy=352.4 /><circle r=3.02 cx=583.4 cy=352.3 /><circle r=3.02 cx=589.8 cy=352.6 /><circle r=3.02 cx=580.5 cy=354 /><circle r=3.02 cx=588.6 cy=353.2 /><circle r=3.02 cx=591.8 cy=352.9 /><circle r=3.02 cx=587.2 cy=354 /><circle r=3.02 cx=590.3 cy=354.6 /><circle r=3.02 cx=586.4 cy=354 /><circle r=3.02 cx=589.8 cy=353.3 /><circle r=3.02 cx=584.7 cy=355.5 /><circle r=3.02 cx=588.2 cy=355.2 /><circle r=3.02 cx=583.8 cy=355.3 /><circle r=3.02 cx=587.3 cy=355.3 /><circle r=3.02 cx=593.2 cy=354.8 /><circle r=3.02 cx=594.8 cy=355.3 /><circle r=3.02 cx=592.1 cy=355.4 /><circle r=3.02 cx=584.7 cy=356.5 /><circle r=3.02 cx=594.1 cy=355.2 /><circle r=3.02 cx=591.3 cy=355.2 /><circle r=3.02 cx=592.9 cy=356 /><circle r=3.02 cx=590.1 cy=355.9 /><circle r=3.02 cx=599.5 cy=355.6 /><circle r=3.02 cx=589.1 cy=356.4 /><circle r=3.02 cx=592.2 cy=355.8 /><circle r=3.02 cx=581.4 cy=357.7 /><circle r=3.02 cx=598.6 cy=356.2 /><circle r=3.02 cx=591 cy=357 /><circle r=3.02 cx=597.6 cy=357.3 /><circle r=3.02 cx=589.8 cy=357.7 /><circle r=3.02 cx=595.7 cy=356.1 /><circle r=3.02 cx=602.5 cy=356.3 /><circle r=3.02 cx=594.3 cy=358 /><circle r=3.02 cx=588.7 cy=358.5 /><circle r=3.02 cx=597 cy=356.9 /><circle r=3.02 cx=593.3 cy=358.7 /><circle r=3.02 cx=605.8 cy=357.2 /><circle r=3.02 cx=592.3 cy=359.4 /><circle r=3.02 cx=594.9 cy=359.1 /></g><g class=c36><circle r=3.02 cx=550.6 cy=348.1 /><circle r=3.02 cx=566.1 cy=347 /><circle r=3.02 cx=558.2 cy=347.2 /><circle r=3.02 cx=562.9 cy=347.3 /><circle r=3.02 cx=561.6 cy=346.9 /><circle r=3.02 cx=554.5 cy=347.6 /><circle r=3.02 cx=567.4 cy=350 /><circle r=3.02 cx=569.4 cy=349 /><circle r=3.02 cx=566.2 cy=349.6 /><circle r=3.02 cx=571.1 cy=348.5 /><circle r=3.02 cx=564.5 cy=350 /><circle r=3.02 cx=561.2 cy=350.4 /><circle r=3.02 cx=559.2 cy=351 /><circle r=3.02 cx=563.2 cy=349.6 /><circle r=3.02 cx=557.5 cy=351 /><circle r=3.02 cx=419.7 cy=351.2 /><circle r=3.02 cx=550.8 cy=351.1 /><circle r=3.02 cx=574.1 cy=349.6 /><circle r=3.02 cx=572.4 cy=350.1 /><circle r=3.02 cx=567.9 cy=350.8 /><circle r=3.02 cx=569.9 cy=349.9 /><circle r=3.02 cx=563.3 cy=351.3 /><circle r=3.02 cx=565.3 cy=350.6 /><circle r=3.02 cx=559.4 cy=352.5 /><circle r=3.02 cx=554.6 cy=352.8 /><circle r=3.02 cx=550.9 cy=353 /><circle r=3.02 cx=573.4 cy=351.6 /><circle r=3.02 cx=569.8 cy=353.3 /><circle r=3.02 cx=580.2 cy=351.7 /><circle r=3.02 cx=571.9 cy=352 /><circle r=3.02 cx=568.4 cy=353.4 /><circle r=3.02 cx=566.8 cy=353.8 /><circle r=3.02 cx=565.5 cy=353.8 /><circle r=3.02 cx=576.3 cy=352.6 /><circle r=3.02 cx=563.5 cy=354.6 /><circle r=3.02 cx=575 cy=352.7 /><circle r=3.02 cx=573.4 cy=353.1 /><circle r=3.02 cx=571.5 cy=354.3 /><circle r=3.02 cx=570 cy=354.5 /><circle r=3.02 cx=566.9 cy=355.5 /><circle r=3.02 cx=579.2 cy=354.2 /><circle r=3.02 cx=576.7 cy=354.8 /><circle r=3.02 cx=575.1 cy=355.5 /><circle r=3.02 cx=573.8 cy=355.7 /><circle r=3.02 cx=572.1 cy=356.4 /><circle r=3.02 cx=578.4 cy=355.8 /><circle r=3.02 cx=570.5 cy=357.1 /><circle r=3.02 cx=577.2 cy=356.1 /><circle r=3.02 cx=575.7 cy=356.7 /><circle r=3.02 cx=574.2 cy=357.6 /><circle r=3.02 cx=571.2 cy=358.6 /><circle r=3.02 cx=582.1 cy=356.6 /><circle r=3.02 cx=585.6 cy=356.8 /><circle r=3.02 cx=580.6 cy=357.6 /><circle r=3.02 cx=579.5 cy=357.6 /><circle r=3.02 cx=583.5 cy=357.2 /><circle r=3.02 cx=577.9 cy=358.9 /><circle r=3.02 cx=581.9 cy=358.6 /><circle r=3.02 cx=576.8 cy=359 /><circle r=3.02 cx=574.9 cy=360.1 /><circle r=3.02 cx=579 cy=360.2 /><circle r=3.02 cx=587.5 cy=358.2 /><circle r=3.02 cx=573.6 cy=360.5 /><circle r=3.02 cx=407.5 cy=359.4 /><circle r=3.02 cx=586.1 cy=359.5 /><circle r=3.02 cx=577.8 cy=360.3 /><circle r=3.02 cx=572.3 cy=360.9 /><circle r=3.02 cx=585 cy=359.5 /><circle r=3.02 cx=583.7 cy=360.6 /><circle r=3.02 cx=575.4 cy=361.2 /><circle r=3.02 cx=587.4 cy=359.5 /><circle r=3.02 cx=582.4 cy=361.4 /><circle r=3.02 cx=586.1 cy=360.6 /></g><g class=c37><circle r=3.02 cx=533.8 cy=349 /><circle r=3.02 cx=555.2 cy=351.9 /><circle r=3.02 cx=553.5 cy=351.9 /><circle r=3.02 cx=552 cy=351.7 /><circle r=3.02 cx=547.6 cy=352.7 /><circle r=3.02 cx=545.9 cy=352.7 /><circle r=3.02 cx=543.7 cy=353.1 /><circle r=3.02 cx=539.1 cy=353.9 /><circle r=3.02 cx=565.4 cy=352.3 /><circle r=3.02 cx=541.9 cy=353.1 /><circle r=3.02 cx=537.6 cy=353.4 /><circle r=3.02 cx=530 cy=354.6 /><circle r=3.02 cx=560.9 cy=352.5 /><circle r=3.02 cx=554.8 cy=354.1 /><circle r=3.02 cx=557.3 cy=353.1 /><circle r=3.02 cx=551.9 cy=353.8 /><circle r=3.02 cx=547.9 cy=354.6 /><circle r=3.02 cx=541.4 cy=355.6 /><circle r=3.02 cx=543.8 cy=355.1 /><circle r=3.02 cx=532.7 cy=356.5 /><circle r=3.02 cx=561.6 cy=355 /><circle r=3.02 cx=559.2 cy=356.4 /><circle r=3.02 cx=558.2 cy=355.9 /><circle r=3.02 cx=567.9 cy=355.8 /><circle r=3.02 cx=554.5 cy=356.6 /><circle r=3.02 cx=552.3 cy=357.3 /><circle r=3.02 cx=565 cy=356.1 /><circle r=3.02 cx=550 cy=358.2 /><circle r=3.02 cx=563.1 cy=357 /><circle r=3.02 cx=561.9 cy=356.7 /><circle r=3.02 cx=559.6 cy=357.8 /><circle r=3.02 cx=546.4 cy=358.6 /><circle r=3.02 cx=556.3 cy=358.5 /><circle r=3.02 cx=554.2 cy=359.2 /><circle r=3.02 cx=552.3 cy=359.5 /><circle r=3.02 cx=568.6 cy=358.1 /><circle r=3.02 cx=567.2 cy=358.5 /><circle r=3.02 cx=571.9 cy=359.2 /><circle r=3.02 cx=565.8 cy=358.8 /><circle r=3.02 cx=563.9 cy=359.4 /><circle r=3.02 cx=569.4 cy=359.1 /><circle r=3.02 cx=562.5 cy=359.6 /><circle r=3.02 cx=567.4 cy=360.6 /><circle r=3.02 cx=566 cy=360.8 /><circle r=3.02 cx=556.6 cy=361.8 /><circle r=3.02 cx=564.2 cy=361.7 /><circle r=3.02 cx=560.8 cy=362.6 /><circle r=3.02 cx=576.2 cy=361.4 /><circle r=3.02 cx=570 cy=362.9 /><circle r=3.02 cx=568.3 cy=363.9 /><circle r=3.02 cx=572.9 cy=363.6 /><circle r=3.02 cx=571.9 cy=363.4 /></g><g class=c38><circle r=3.02 cx=421 cy=353 /><circle r=3.02 cx=534.1 cy=354.6 /><circle r=3.02 cx=532.1 cy=354.7 /><circle r=3.02 cx=524.1 cy=355.8 /><circle r=3.02 cx=527.2 cy=355.2 /><circle r=3.02 cx=544.8 cy=355.8 /><circle r=3.02 cx=539 cy=356.2 /><circle r=3.02 cx=536.7 cy=356.6 /><circle r=3.02 cx=534 cy=357.3 /><circle r=3.02 cx=528.8 cy=358.2 /><circle r=3.02 cx=526.4 cy=358.4 /><circle r=3.02 cx=523.2 cy=359.3 /><circle r=3.02 cx=520.5 cy=359.4 /><circle r=3.02 cx=555 cy=357.9 /><circle r=3.02 cx=547.8 cy=358.9 /><circle r=3.02 cx=557.3 cy=359.2 /><circle r=3.02 cx=544.1 cy=359.3 /><circle r=3.02 cx=541.3 cy=360.3 /><circle r=3.02 cx=539.1 cy=360.5 /><circle r=3.02 cx=537.2 cy=360.9 /><circle r=3.02 cx=550 cy=360.2 /><circle r=3.02 cx=534.3 cy=361.8 /><circle r=3.02 cx=532.4 cy=361.6 /><circle r=3.02 cx=547.8 cy=361.1 /><circle r=3.02 cx=545.8 cy=361.4 /><circle r=3.02 cx=529.8 cy=362.3 /><circle r=3.02 cx=543.6 cy=362 /><circle r=3.02 cx=542.1 cy=361.6 /><circle r=3.02 cx=559.1 cy=362.5 /><circle r=3.02 cx=557.9 cy=362.4 /><circle r=3.02 cx=535.3 cy=363.4 /><circle r=3.02 cx=407.4 cy=362.2 /><circle r=3.02 cx=554.8 cy=362.6 /><circle r=3.02 cx=562.2 cy=362.8 /><circle r=3.02 cx=552.3 cy=363.6 /><circle r=3.02 cx=550.9 cy=363.7 /><circle r=3.02 cx=558.5 cy=364.4 /><circle r=3.02 cx=549.1 cy=364.1 /><circle r=3.02 cx=557.1 cy=364.2 /><circle r=3.02 cx=546.3 cy=365.5 /><circle r=3.02 cx=554.8 cy=365.3 /><circle r=3.02 cx=566.6 cy=364.5 /><circle r=3.02 cx=553.8 cy=364.8 /><circle r=3.02 cx=550.9 cy=366.5 /><circle r=3.02 cx=564.6 cy=365.9 /></g><g class=c39><circle r=3.02 cx=420.5 cy=356.2 /><circle r=3.02 cx=519.5 cy=357.5 /><circle r=3.02 cx=517.1 cy=357.6 /><circle r=3.02 cx=510.2 cy=358.9 /><circle r=3.02 cx=513.8 cy=358.4 /><circle r=3.02 cx=516.6 cy=360.6 /><circle r=3.02 cx=512.5 cy=361.9 /><circle r=3.02 cx=526.1 cy=363.7 /><circle r=3.02 cx=538.5 cy=363.9 /><circle r=3.02 cx=406.8 cy=365.4 /><circle r=3.02 cx=536.4 cy=364 /><circle r=3.02 cx=530.7 cy=365.8 /><circle r=3.02 cx=528.7 cy=366 /><circle r=3.02 cx=526.5 cy=366.1 /><circle r=3.02 cx=522.7 cy=367.7 /><circle r=3.02 cx=543.6 cy=366.4 /><circle r=3.02 cx=541.7 cy=366.9 /><circle r=3.02 cx=538.8 cy=368.4 /></g><g class=c40><circle r=3.02 cx=500.8 cy=361.9 /><circle r=3.02 cx=505.7 cy=360.3 /><circle r=3.02 cx=509 cy=362.7 /><circle r=3.02 cx=505.1 cy=363.6 /><circle r=3.02 cx=500.9 cy=365 /><circle r=3.02 cx=407.5 cy=367.7 /><circle r=3.02 cx=521.8 cy=365.9 /><circle r=3.02 cx=518.9 cy=366.1 /><circle r=3.02 cx=515.9 cy=367 /><circle r=3.02 cx=512.9 cy=367.5 /><circle r=3.02 cx=519.4 cy=368.6 /><circle r=3.02 cx=515.8 cy=370.3 /><circle r=3.02 cx=511.8 cy=371.4 /></g><g class=c41><circle r=3.02 cx=496 cy=362.9 /><circle r=3.02 cx=492.7 cy=363.2 /><circle r=3.02 cx=487.3 cy=364.7 /><circle r=3.02 cx=495 cy=366.8 /><circle r=3.02 cx=508 cy=369.8 /><circle r=3.02 cx=503.2 cy=371.4 /><circle r=3.02 cx=499.8 cy=371.7 /><circle r=3.02 cx=507.5 cy=373.2 /></g><g class=c42><circle r=3.02 cx=481.8 cy=365.9 /><circle r=3.02 cx=477.9 cy=366.4 /><circle r=3.02 cx=474 cy=366.4 /><circle r=3.02 cx=464.2 cy=367.6 /><circle r=3.02 cx=456.4 cy=367 /><circle r=3.02 cx=459.7 cy=368.4 /><circle r=3.02 cx=449.2 cy=368.9 /><circle r=3.02 cx=443.9 cy=368.9 /><circle r=3.02 cx=490.1 cy=368.4 /><circle r=3.02 cx=484.8 cy=369.8 /><circle r=3.02 cx=480.7 cy=370.3 /><circle r=3.02 cx=477 cy=370.4 /><circle r=3.02 cx=406.9 cy=370.9 /><circle r=3.02 cx=460 cy=371.8 /><circle r=3.02 cx=449.6 cy=373.1 /><circle r=3.02 cx=494.6 cy=374 /><circle r=3.02 cx=503 cy=374.6 /></g><g class=c43><circle r=3.02 cx=467.5 cy=367.6 /><circle r=3.02 cx=435.2 cy=370.9 /><circle r=3.02 cx=472.4 cy=371.1 /><circle r=3.02 cx=407.4 cy=373.7 /><circle r=3.02 cx=467.9 cy=371.9 /><circle r=3.02 cx=463.4 cy=372.1 /><circle r=3.02 cx=454.1 cy=372.8 /><circle r=3.02 cx=439.9 cy=375.8 /><circle r=3.02 cx=489.7 cy=375.7 /><circle r=3.02 cx=485.2 cy=376.6 /><circle r=3.02 cx=479.4 cy=378.4 /><circle r=3.02 cx=471.4 cy=379.6 /></g><g class=c44><circle r=3.02 cx=431.6 cy=377 /><circle r=3.02 cx=475.1 cy=379.5 /><circle r=3.02 cx=400.4 cy=379.5 /></g><g class=c45><circle r=3.02 cx=423.1 cy=374.3 /><circle r=3.02 cx=407.1 cy=376.5 /><circle r=3.02 cx=421.4 cy=379.9 /><circle r=3.02 cx=401.3 cy=381.7 /></g><g class=c46><circle r=3.02 cx=411.6 cy=376.9 /><circle r=3.02 cx=401.8 cy=384.4 /></g><g class=c47><circle r=3.02 cx=408 cy=384.6 /></g></g><g class=a3><g class=c5><circle r=3.02 cx=665.9 cy=285 /><circle r=3.02 cx=667.5 cy=286 /></g><g class=c6><circle r=3.02 cx=665.4 cy=286.5 /><circle r=3.02 cx=665.5 cy=286 /><circle r=3.02 cx=665.3 cy=285.4 /><circle r=3.02 cx=667 cy=287.6 /><circle r=3.02 cx=667.8 cy=287.3 /><circle r=3.02 cx=666.9 cy=286.5 /><circle r=3.02 cx=670.1 cy=288.9 /><circle r=3.02 cx=670 cy=288.3 /><circle r=3.02 cx=669.8 cy=287.7 /><circle r=3.02 cx=671.5 cy=290.2 /><circle r=3.02 cx=670.8 cy=289.3 /><circle r=3.02 cx=671.8 cy=289 /><circle r=3.02 cx=674.4 cy=291.6 /><circle r=3.02 cx=673.9 cy=290.8 /><circle r=3.02 cx=677.2 cy=292.9 /></g><g class=c7><circle r=3.02 cx=665.3 cy=287.6 /><circle r=3.02 cx=666 cy=287.3 /><circle r=3.02 cx=667.4 cy=289.6 /><circle r=3.02 cx=667.2 cy=288.8 /><circle r=3.02 cx=667 cy=288.3 /><circle r=3.02 cx=669.5 cy=290.5 /><circle r=3.02 cx=669.8 cy=290 /><circle r=3.02 cx=670.5 cy=289.7 /><circle r=3.02 cx=671.1 cy=291.9 /><circle r=3.02 cx=671.7 cy=291.4 /><circle r=3.02 cx=671 cy=290.6 /><circle r=3.02 cx=674.7 cy=293.7 /><circle r=3.02 cx=675.2 cy=293.1 /><circle r=3.02 cx=674.4 cy=292.2 /><circle r=3.02 cx=676.2 cy=294.4 /><circle r=3.02 cx=675.9 cy=293.7 /><circle r=3.02 cx=676 cy=293.1 /><circle r=3.02 cx=679.1 cy=296.3 /><circle r=3.02 cx=679.8 cy=295.9 /><circle r=3.02 cx=679.6 cy=295.1 /><circle r=3.02 cx=681.7 cy=297.9 /><circle r=3.02 cx=681.8 cy=297.4 /><circle r=3.02 cx=684.8 cy=300.4 /></g><g class=c8><circle r=3.02 cx=667 cy=291.8 /><circle r=3.02 cx=667.3 cy=291.3 /><circle r=3.02 cx=667.2 cy=290.6 /><circle r=3.02 cx=667.2 cy=290 /><circle r=3.02 cx=669.5 cy=293 /><circle r=3.02 cx=669.7 cy=292.5 /><circle r=3.02 cx=669.9 cy=291.8 /><circle r=3.02 cx=670 cy=291.3 /><circle r=3.02 cx=671.6 cy=294 /><circle r=3.02 cx=671.1 cy=293.2 /><circle r=3.02 cx=671.7 cy=292.7 /><circle r=3.02 cx=674.1 cy=295.5 /><circle r=3.02 cx=674.5 cy=294.9 /><circle r=3.02 cx=674.7 cy=294.4 /><circle r=3.02 cx=676.6 cy=296.7 /><circle r=3.02 cx=676.4 cy=296 /><circle r=3.02 cx=676.3 cy=295.2 /><circle r=3.02 cx=678.6 cy=298.3 /><circle r=3.02 cx=679.1 cy=297.8 /><circle r=3.02 cx=679.8 cy=297.3 /><circle r=3.02 cx=681.2 cy=299.2 /><circle r=3.02 cx=681.5 cy=298.6 /><circle r=3.02 cx=684.6 cy=301.8 /><circle r=3.02 cx=684.7 cy=301 /><circle r=3.02 cx=687.4 cy=303.8 /><circle r=3.02 cx=686.9 cy=302.9 /></g><g class=c9><circle r=3.02 cx=669.1 cy=294.8 /><circle r=3.02 cx=669.6 cy=294.4 /><circle r=3.02 cx=670.5 cy=294.1 /><circle r=3.02 cx=671.7 cy=296 /><circle r=3.02 cx=672 cy=295.4 /><circle r=3.02 cx=671.2 cy=294.5 /><circle r=3.02 cx=674.1 cy=296.8 /><circle r=3.02 cx=673 cy=295.6 /><circle r=3.02 cx=676.9 cy=298.3 /><circle r=3.02 cx=676.5 cy=297.3 /><circle r=3.02 cx=679 cy=299.9 /><circle r=3.02 cx=678.7 cy=299.1 /><circle r=3.02 cx=680.6 cy=301.1 /><circle r=3.02 cx=681.8 cy=301.2 /><circle r=3.02 cx=682.3 cy=300.5 /><circle r=3.02 cx=684.3 cy=304.1 /><circle r=3.02 cx=684 cy=303.1 /><circle r=3.02 cx=685.4 cy=303 /><circle r=3.02 cx=686.7 cy=305.4 /><circle r=3.02 cx=687.5 cy=304.8 /></g><g class=c10><circle r=3.02 cx=669.1 cy=295.4 /><circle r=3.02 cx=671.4 cy=297.2 /><circle r=3.02 cx=671.8 cy=296.7 /><circle r=3.02 cx=674.2 cy=298.9 /><circle r=3.02 cx=674.6 cy=298.5 /><circle r=3.02 cx=674.5 cy=297.7 /><circle r=3.02 cx=676.6 cy=300.4 /><circle r=3.02 cx=676 cy=299.3 /><circle r=3.02 cx=676.7 cy=298.9 /><circle r=3.02 cx=678.7 cy=302.1 /><circle r=3.02 cx=679 cy=301.5 /><circle r=3.02 cx=679.8 cy=301.1 /><circle r=3.02 cx=680.8 cy=303.7 /><circle r=3.02 cx=682.1 cy=303.6 /><circle r=3.02 cx=681.4 cy=302.5 /><circle r=3.02 cx=685.2 cy=306.2 /><circle r=3.02 cx=684.9 cy=305.3 /><circle r=3.02 cx=687.5 cy=307.4 /><circle r=3.02 cx=687.3 cy=306.5 /></g><g class=c11><circle r=3.02 cx=671.7 cy=299.5 /><circle r=3.02 cx=671.3 cy=298.7 /><circle r=3.02 cx=671.7 cy=298 /><circle r=3.02 cx=674.1 cy=301.1 /><circle r=3.02 cx=673.3 cy=300.1 /><circle r=3.02 cx=674.1 cy=299.6 /><circle r=3.02 cx=676.3 cy=302.5 /><circle r=3.02 cx=676.3 cy=301.6 /><circle r=3.02 cx=676.3 cy=301 /><circle r=3.02 cx=679.1 cy=303.9 /><circle r=3.02 cx=679.4 cy=303.2 /><circle r=3.02 cx=681.4 cy=305.6 /><circle r=3.02 cx=681.2 cy=304.6 /><circle r=3.02 cx=684.4 cy=307.5 /><circle r=3.02 cx=684.3 cy=306.5 /><circle r=3.02 cx=687.3 cy=309.9 /><circle r=3.02 cx=687.4 cy=309.3 /><circle r=3.02 cx=687.7 cy=308.5 /></g><g class=c12><circle r=3.02 cx=671.4 cy=300.8 /><circle r=3.02 cx=671.4 cy=300.2 /><circle r=3.02 cx=674.1 cy=302.7 /><circle r=3.02 cx=674.1 cy=301.9 /><circle r=3.02 cx=676.3 cy=304 /><circle r=3.02 cx=676 cy=303 /><circle r=3.02 cx=679.3 cy=306.3 /><circle r=3.02 cx=678.1 cy=304.9 /><circle r=3.02 cx=679.4 cy=304.8 /><circle r=3.02 cx=681.7 cy=307.4 /><circle r=3.02 cx=681.3 cy=306.4 /><circle r=3.02 cx=684.7 cy=309.3 /><circle r=3.02 cx=685.3 cy=308.9 /><circle r=3.02 cx=686.6 cy=311.3 /><circle r=3.02 cx=687.1 cy=310.7 /><circle r=3.02 cx=690.1 cy=314.2 /><circle r=3.02 cx=690.5 cy=313.5 /></g><g class=c13><circle r=3.02 cx=673.8 cy=304.9 /><circle r=3.02 cx=674.1 cy=304.3 /><circle r=3.02 cx=673.9 cy=303.3 /><circle r=3.02 cx=675.7 cy=306.1 /><circle r=3.02 cx=676.2 cy=305.5 /><circle r=3.02 cx=676 cy=304.6 /><circle r=3.02 cx=678.9 cy=307.8 /><circle r=3.02 cx=678.9 cy=307 /><circle r=3.02 cx=681.3 cy=309.7 /><circle r=3.02 cx=681.8 cy=309.2 /><circle r=3.02 cx=681.6 cy=308.3 /><circle r=3.02 cx=684.5 cy=311.1 /><circle r=3.02 cx=685 cy=310.7 /><circle r=3.02 cx=686.8 cy=313.3 /><circle r=3.02 cx=687 cy=312.5 /><circle r=3.02 cx=690.4 cy=316.2 /><circle r=3.02 cx=691 cy=315.7 /></g><g class=c14><circle r=3.02 cx=674.5 cy=306.8 /><circle r=3.02 cx=674 cy=305.7 /><circle r=3.02 cx=676.2 cy=308 /><circle r=3.02 cx=676.1 cy=307.1 /><circle r=3.02 cx=679 cy=309.6 /><circle r=3.02 cx=679.8 cy=309.2 /><circle r=3.02 cx=682.1 cy=311 /><circle r=3.02 cx=684.3 cy=313.6 /><circle r=3.02 cx=684.3 cy=312.8 /><circle r=3.02 cx=684.8 cy=312.1 /><circle r=3.02 cx=687.1 cy=315.5 /><circle r=3.02 cx=687.7 cy=314.9 /><circle r=3.02 cx=690.2 cy=318.1 /><circle r=3.02 cx=689.9 cy=316.9 /></g><g class=c15><circle r=3.02 cx=676.4 cy=309.9 /><circle r=3.02 cx=676.4 cy=309 /><circle r=3.02 cx=678.6 cy=311.8 /><circle r=3.02 cx=679.2 cy=311.3 /><circle r=3.02 cx=679 cy=310.4 /><circle r=3.02 cx=681.5 cy=313.4 /><circle r=3.02 cx=681.4 cy=312.4 /><circle r=3.02 cx=682.3 cy=312.1 /><circle r=3.02 cx=684.7 cy=315.9 /><circle r=3.02 cx=684.2 cy=314.4 /><circle r=3.02 cx=687.5 cy=317.7 /><circle r=3.02 cx=687.5 cy=316.4 /><circle r=3.02 cx=690.6 cy=320.4 /><circle r=3.02 cx=690.3 cy=319.1 /></g><g class=c16><circle r=3.02 cx=676.3 cy=311.6 /><circle r=3.02 cx=676.2 cy=310.7 /><circle r=3.02 cx=678.3 cy=313.5 /><circle r=3.02 cx=679 cy=313.1 /><circle r=3.02 cx=681.5 cy=315.4 /><circle r=3.02 cx=682.3 cy=314.9 /><circle r=3.02 cx=684.5 cy=316.6 /><circle r=3.02 cx=687.3 cy=319.3 /><circle r=3.02 cx=687.2 cy=318.4 /><circle r=3.02 cx=689.4 cy=320.8 /><circle r=3.02 cx=693 cy=323.4 /></g><g class=c17><circle r=3.02 cx=676.3 cy=312.6 /><circle r=3.02 cx=679 cy=315 /><circle r=3.02 cx=681.7 cy=317.4 /><circle r=3.02 cx=681.4 cy=316.2 /><circle r=3.02 cx=683.8 cy=319.2 /><circle r=3.02 cx=684.2 cy=318.3 /><circle r=3.02 cx=684.9 cy=317.8 /><circle r=3.02 cx=687.2 cy=321.3 /><circle r=3.02 cx=686.8 cy=320.2 /><circle r=3.02 cx=690.2 cy=323.2 /><circle r=3.02 cx=690.5 cy=322.5 /><circle r=3.02 cx=692.8 cy=325.3 /><circle r=3.02 cx=693.3 cy=325 /></g><g class=c18><circle r=3.02 cx=678.5 cy=317.5 /><circle r=3.02 cx=679.2 cy=317 /><circle r=3.02 cx=679.1 cy=316.1 /><circle r=3.02 cx=681 cy=318.8 /><circle r=3.02 cx=681.9 cy=318.6 /><circle r=3.02 cx=684.2 cy=321.4 /><circle r=3.02 cx=684.2 cy=320.3 /><circle r=3.02 cx=687.3 cy=323.4 /><circle r=3.02 cx=687.1 cy=322.2 /><circle r=3.02 cx=690.6 cy=325.8 /><circle r=3.02 cx=690.3 cy=324.4 /><circle r=3.02 cx=693.6 cy=328.4 /><circle r=3.02 cx=693.1 cy=326.9 /></g><g class=c19><circle r=3.02 cx=678.5 cy=319.5 /><circle r=3.02 cx=678.5 cy=318.5 /><circle r=3.02 cx=680.7 cy=319.6 /><circle r=3.02 cx=684.7 cy=322.8 /><circle r=3.02 cx=686.4 cy=323.8 /><circle r=3.02 cx=690.6 cy=327.8 /><circle r=3.02 cx=690.8 cy=327 /><circle r=3.02 cx=693.2 cy=330.3 /><circle r=3.02 cx=693.1 cy=329 /></g><g class=c20><circle r=3.02 cx=681.1 cy=322 /><circle r=3.02 cx=681.6 cy=321.3 /><circle r=3.02 cx=683.9 cy=324.3 /><circle r=3.02 cx=684.4 cy=323.7 /><circle r=3.02 cx=686.9 cy=326.5 /><circle r=3.02 cx=686.9 cy=325.2 /><circle r=3.02 cx=690.8 cy=329.3 /><circle r=3.02 cx=692.4 cy=331.9 /><circle r=3.02 cx=693.4 cy=331.7 /></g><g class=c21><circle r=3.02 cx=681.5 cy=324.5 /><circle r=3.02 cx=681.4 cy=323.2 /><circle r=3.02 cx=684.3 cy=327 /><circle r=3.02 cx=684.7 cy=326.1 /><circle r=3.02 cx=687.4 cy=329.3 /><circle r=3.02 cx=687 cy=327.7 /><circle r=3.02 cx=690.8 cy=331.6 /><circle r=3.02 cx=690.6 cy=330.2 /><circle r=3.02 cx=693 cy=333.8 /></g><g class=c22><circle r=3.02 cx=681 cy=325.3 /><circle r=3.02 cx=684.6 cy=328.5 /><circle r=3.02 cx=687.3 cy=330.4 /><circle r=3.02 cx=690.1 cy=333.3 /><circle r=3.02 cx=690.1 cy=332.2 /><circle r=3.02 cx=692.7 cy=336 /><circle r=3.02 cx=692.8 cy=334.7 /><circle r=3.02 cx=696.9 cy=339.7 /><circle r=3.02 cx=696.5 cy=338 /></g><g class=c23><circle r=3.02 cx=684.3 cy=330.4 /><circle r=3.02 cx=685 cy=329.8 /><circle r=3.02 cx=686.9 cy=332.2 /><circle r=3.02 cx=687.1 cy=331.4 /><circle r=3.02 cx=690.4 cy=335.1 /><circle r=3.02 cx=693.4 cy=337.8 /><circle r=3.02 cx=696.9 cy=340.8 /></g><g class=c24><circle r=3.02 cx=684.2 cy=332.7 /><circle r=3.02 cx=684.3 cy=331.5 /><circle r=3.02 cx=686.8 cy=334.7 /><circle r=3.02 cx=686.9 cy=333.6 /><circle r=3.02 cx=689.5 cy=336.6 /><circle r=3.02 cx=690.1 cy=336.1 /><circle r=3.02 cx=692.9 cy=339.9 /><circle r=3.02 cx=692.7 cy=338.6 /><circle r=3.02 cx=696.6 cy=342.1 /></g><g class=c25><circle r=3.02 cx=684.6 cy=334.4 /><circle r=3.02 cx=686.2 cy=335.3 /><circle r=3.02 cx=690.1 cy=338.6 /><circle r=3.02 cx=692.9 cy=341.2 /><circle r=3.02 cx=695.9 cy=344.1 /><circle r=3.02 cx=696.7 cy=343.5 /></g><g class=c26><circle r=3.02 cx=686.7 cy=337.3 /><circle r=3.02 cx=690.1 cy=341.3 /><circle r=3.02 cx=690 cy=339.8 /><circle r=3.02 cx=693.1 cy=342.7 /><circle r=3.02 cx=696.5 cy=345.7 /><circle r=3.02 cx=698.4 cy=348.1 /></g><g class=c27><circle r=3.02 cx=687.1 cy=340.4 /><circle r=3.02 cx=687 cy=338.9 /><circle r=3.02 cx=690.4 cy=342.9 /><circle r=3.02 cx=692.7 cy=345.2 /><circle r=3.02 cx=693.3 cy=344.4 /><circle r=3.02 cx=696.3 cy=348.5 /><circle r=3.02 cx=696.6 cy=347.3 /><circle r=3.02 cx=698.9 cy=350.3 /></g><g class=c28><circle r=3.02 cx=686.9 cy=341.7 /><circle r=3.02 cx=690.5 cy=344.4 /><circle r=3.02 cx=692 cy=347.2 /><circle r=3.02 cx=693.1 cy=347.1 /><circle r=3.02 cx=694.7 cy=349.9 /><circle r=3.02 cx=696.2 cy=349.9 /><circle r=3.02 cx=698.8 cy=353.3 /><circle r=3.02 cx=699.7 cy=352.6 /></g><g class=c29><circle r=3.02 cx=686.4 cy=342.4 /><circle r=3.02 cx=679 cy=344.7 /><circle r=3.02 cx=682.1 cy=345.5 /><circle r=3.02 cx=682.9 cy=344.8 /><circle r=3.02 cx=684.2 cy=344.9 /><circle r=3.02 cx=685.9 cy=345.4 /><circle r=3.02 cx=687.8 cy=345.8 /><circle r=3.02 cx=688.5 cy=345.1 /><circle r=3.02 cx=682.2 cy=346.9 /><circle r=3.02 cx=683.5 cy=346.8 /><circle r=3.02 cx=690.2 cy=345.4 /><circle r=3.02 cx=684.9 cy=347 /><circle r=3.02 cx=686.3 cy=347.2 /><circle r=3.02 cx=688.7 cy=348.2 /><circle r=3.02 cx=689.3 cy=347.6 /><circle r=3.02 cx=691 cy=347.7 /><circle r=3.02 cx=686.3 cy=349.6 /><circle r=3.02 cx=688.5 cy=350.6 /><circle r=3.02 cx=689.1 cy=349.8 /><circle r=3.02 cx=690.4 cy=349.8 /><circle r=3.02 cx=692.7 cy=350.9 /><circle r=3.02 cx=694.3 cy=351 /><circle r=3.02 cx=687.8 cy=351.7 /><circle r=3.02 cx=689 cy=351.5 /><circle r=3.02 cx=691.3 cy=352.8 /><circle r=3.02 cx=693.9 cy=354.1 /><circle r=3.02 cx=694.3 cy=352.9 /><circle r=3.02 cx=688.1 cy=355.2 /><circle r=3.02 cx=695.8 cy=353 /><circle r=3.02 cx=698.7 cy=354.5 /><circle r=3.02 cx=691.1 cy=355.7 /><circle r=3.02 cx=692.7 cy=356.1 /><circle r=3.02 cx=688.1 cy=357.4 /><circle r=3.02 cx=695.1 cy=357.1 /></g><g class=c30><circle r=3.02 cx=678.1 cy=345.3 /><circle r=3.02 cx=674 cy=347.1 /><circle r=3.02 cx=674.9 cy=346.7 /><circle r=3.02 cx=681 cy=345.7 /><circle r=3.02 cx=676.4 cy=347.1 /><circle r=3.02 cx=677.8 cy=347.3 /><circle r=3.02 cx=678.5 cy=346.8 /><circle r=3.02 cx=680.6 cy=347.9 /><circle r=3.02 cx=681.5 cy=347.5 /><circle r=3.02 cx=675.4 cy=349.4 /><circle r=3.02 cx=676.2 cy=349.3 /><circle r=3.02 cx=678.3 cy=350.1 /><circle r=3.02 cx=678.5 cy=349 /><circle r=3.02 cx=679.8 cy=349.3 /><circle r=3.02 cx=681.4 cy=349.6 /><circle r=3.02 cx=682.2 cy=349.4 /><circle r=3.02 cx=677.6 cy=351 /><circle r=3.02 cx=683.8 cy=349.9 /><circle r=3.02 cx=679.3 cy=351.6 /><circle r=3.02 cx=685.4 cy=350.1 /><circle r=3.02 cx=680.6 cy=351.7 /><circle r=3.02 cx=681.6 cy=351.5 /><circle r=3.02 cx=682.6 cy=351.2 /><circle r=3.02 cx=685 cy=353 /><circle r=3.02 cx=678.9 cy=354.1 /><circle r=3.02 cx=685.9 cy=352.4 /><circle r=3.02 cx=680.5 cy=354.7 /><circle r=3.02 cx=687.1 cy=352.6 /><circle r=3.02 cx=681.6 cy=354.4 /><circle r=3.02 cx=677.4 cy=355.3 /><circle r=3.02 cx=682.8 cy=354.7 /><circle r=3.02 cx=678.8 cy=356 /><circle r=3.02 cx=684.3 cy=354.7 /><circle r=3.02 cx=680.4 cy=356.7 /><circle r=3.02 cx=685.4 cy=354.7 /><circle r=3.02 cx=681.6 cy=356.8 /><circle r=3.02 cx=686.8 cy=355.2 /><circle r=3.02 cx=682.5 cy=356 /><circle r=3.02 cx=684.1 cy=356.9 /><circle r=3.02 cx=690.7 cy=356.6 /><circle r=3.02 cx=685.3 cy=356.9 /><circle r=3.02 cx=687.4 cy=358.1 /><circle r=3.02 cx=680.9 cy=359.1 /></g><g class=c31><circle r=3.02 cx=665.6 cy=350.1 /><circle r=3.02 cx=669.5 cy=348.9 /><circle r=3.02 cx=671.1 cy=349.5 /><circle r=3.02 cx=672.2 cy=349.8 /><circle r=3.02 cx=667.7 cy=350.5 /><circle r=3.02 cx=668.9 cy=350.6 /><circle r=3.02 cx=673.2 cy=349.6 /><circle r=3.02 cx=670 cy=350.6 /><circle r=3.02 cx=674.4 cy=349.8 /><circle r=3.02 cx=670.9 cy=350.4 /><circle r=3.02 cx=672.8 cy=351.9 /><circle r=3.02 cx=673.4 cy=351.1 /><circle r=3.02 cx=668.6 cy=352.5 /><circle r=3.02 cx=674.5 cy=351.3 /><circle r=3.02 cx=675.7 cy=351.4 /><circle r=3.02 cx=670.7 cy=352.7 /><circle r=3.02 cx=677.1 cy=351.7 /><circle r=3.02 cx=671.8 cy=352.7 /><circle r=3.02 cx=668.5 cy=354.1 /><circle r=3.02 cx=673.2 cy=353.5 /><circle r=3.02 cx=674.3 cy=353.1 /><circle r=3.02 cx=675.5 cy=353.5 /><circle r=3.02 cx=676.5 cy=353.5 /><circle r=3.02 cx=673.5 cy=355.6 /><circle r=3.02 cx=678.3 cy=354.4 /><circle r=3.02 cx=674.4 cy=355.4 /><circle r=3.02 cx=675.8 cy=356.5 /><circle r=3.02 cx=676.8 cy=356 /><circle r=3.02 cx=672.6 cy=357.5 /><circle r=3.02 cx=669.9 cy=358.9 /><circle r=3.02 cx=672 cy=359.4 /><circle r=3.02 cx=677 cy=358.5 /><circle r=3.02 cx=679.1 cy=360.1 /><circle r=3.02 cx=674.7 cy=360.8 /><circle r=3.02 cx=679.8 cy=359.5 /><circle r=3.02 cx=676.1 cy=361.1 /><circle r=3.02 cx=677.3 cy=361.7 /><circle r=3.02 cx=683.4 cy=361.3 /><circle r=3.02 cx=678.1 cy=361.4 /></g><g class=c32><circle r=3.02 cx=660.6 cy=351.6 /><circle r=3.02 cx=664.5 cy=350.1 /><circle r=3.02 cx=657.5 cy=352.1 /><circle r=3.02 cx=661.4 cy=351.8 /><circle r=3.02 cx=667.3 cy=351.1 /><circle r=3.02 cx=658.5 cy=352.4 /><circle r=3.02 cx=662.8 cy=352.2 /><circle r=3.02 cx=659.3 cy=352.2 /><circle r=3.02 cx=663.5 cy=352.1 /><circle r=3.02 cx=657.2 cy=353.9 /><circle r=3.02 cx=661.7 cy=353.4 /><circle r=3.02 cx=665.8 cy=352.7 /><circle r=3.02 cx=658.1 cy=354.3 /><circle r=3.02 cx=662.3 cy=353 /><circle r=3.02 cx=666.5 cy=352.4 /><circle r=3.02 cx=663.8 cy=354 /><circle r=3.02 cx=667.9 cy=353 /><circle r=3.02 cx=665.2 cy=354.8 /><circle r=3.02 cx=660.1 cy=355 /><circle r=3.02 cx=661.2 cy=355.3 /><circle r=3.02 cx=665.4 cy=353.8 /><circle r=3.02 cx=670.3 cy=353.6 /><circle r=3.02 cx=662.3 cy=356 /><circle r=3.02 cx=666.8 cy=354.4 /><circle r=3.02 cx=667.6 cy=354.2 /><circle r=3.02 cx=662.5 cy=354.8 /><circle r=3.02 cx=664.6 cy=356.6 /><circle r=3.02 cx=665.3 cy=356.4 /><circle r=3.02 cx=661.5 cy=356.2 /><circle r=3.02 cx=670 cy=355.1 /><circle r=3.02 cx=666.7 cy=357.4 /><circle r=3.02 cx=671.3 cy=355.6 /><circle r=3.02 cx=668.1 cy=357.9 /><circle r=3.02 cx=672.6 cy=355.9 /><circle r=3.02 cx=664 cy=358.2 /><circle r=3.02 cx=668.2 cy=356.8 /><circle r=3.02 cx=664.9 cy=358 /><circle r=3.02 cx=669.8 cy=357.9 /><circle r=3.02 cx=666.1 cy=358.7 /><circle r=3.02 cx=671 cy=358.4 /><circle r=3.02 cx=667 cy=358.9 /><circle r=3.02 cx=672.4 cy=358.8 /><circle r=3.02 cx=668.2 cy=359.3 /><circle r=3.02 cx=669.6 cy=360.2 /><circle r=3.02 cx=674.3 cy=358.9 /><circle r=3.02 cx=675.9 cy=359.8 /><circle r=3.02 cx=671.7 cy=360.6 /><circle r=3.02 cx=666.9 cy=361.5 /><circle r=3.02 cx=677.1 cy=360.2 /><circle r=3.02 cx=668 cy=361.8 /><circle r=3.02 cx=673.7 cy=360.6 /><circle r=3.02 cx=669.4 cy=362.5 /><circle r=3.02 cx=667.5 cy=364.3 /><circle r=3.02 cx=662.4 cy=364.6 /><circle r=3.02 cx=671.9 cy=364.3 /><circle r=3.02 cx=673.1 cy=364.6 /></g><g class=c33><circle r=3.02 cx=653.5 cy=353.1 /><circle r=3.02 cx=643.5 cy=354.8 /><circle r=3.02 cx=641.6 cy=354.7 /><circle r=3.02 cx=651.9 cy=354.4 /><circle r=3.02 cx=654.4 cy=353 /><circle r=3.02 cx=647.5 cy=355.5 /><circle r=3.02 cx=655.4 cy=353.7 /><circle r=3.02 cx=621.2 cy=355.7 /><circle r=3.02 cx=644.9 cy=355.2 /><circle r=3.02 cx=653.4 cy=354.4 /><circle r=3.02 cx=628.6 cy=355.9 /><circle r=3.02 cx=650.2 cy=354.9 /><circle r=3.02 cx=642.9 cy=355.7 /><circle r=3.02 cx=656.5 cy=354.2 /><circle r=3.02 cx=660.9 cy=353.8 /><circle r=3.02 cx=647.9 cy=355 /><circle r=3.02 cx=639.3 cy=356.2 /><circle r=3.02 cx=665.5 cy=353.9 /><circle r=3.02 cx=654.3 cy=354.5 /><circle r=3.02 cx=641.5 cy=356.3 /><circle r=3.02 cx=651.1 cy=355.7 /><circle r=3.02 cx=645.5 cy=355.4 /><circle r=3.02 cx=648.9 cy=355.5 /><circle r=3.02 cx=655.3 cy=354.7 /><circle r=3.02 cx=651.8 cy=355.7 /><circle r=3.02 cx=649.8 cy=356.5 /><circle r=3.02 cx=656.2 cy=355.5 /><circle r=3.02 cx=659.5 cy=355.3 /><circle r=3.02 cx=652.8 cy=356.3 /><circle r=3.02 cx=640.4 cy=356.7 /><circle r=3.02 cx=650.7 cy=356.8 /><circle r=3.02 cx=657.5 cy=356.5 /><circle r=3.02 cx=653.5 cy=356.3 /><circle r=3.02 cx=651.6 cy=357.7 /><circle r=3.02 cx=621.2 cy=357.8 /><circle r=3.02 cx=658.4 cy=357 /><circle r=3.02 cx=654.7 cy=357.6 /><circle r=3.02 cx=648.9 cy=358 /><circle r=3.02 cx=646.5 cy=357.7 /><circle r=3.02 cx=652.2 cy=357.1 /><circle r=3.02 cx=659.4 cy=357.3 /><circle r=3.02 cx=655.9 cy=358.3 /><circle r=3.02 cx=649.5 cy=358.2 /><circle r=3.02 cx=659.9 cy=356.7 /><circle r=3.02 cx=656.5 cy=357.9 /><circle r=3.02 cx=654.1 cy=358.6 /><circle r=3.02 cx=661 cy=357.2 /><circle r=3.02 cx=657.6 cy=358.9 /><circle r=3.02 cx=654.9 cy=358.6 /><circle r=3.02 cx=658.4 cy=358.6 /><circle r=3.02 cx=652.1 cy=360.2 /><circle r=3.02 cx=649.8 cy=360.1 /><circle r=3.02 cx=655.9 cy=359.5 /><circle r=3.02 cx=663.2 cy=357.9 /><circle r=3.02 cx=646.9 cy=360 /><circle r=3.02 cx=659.3 cy=359.2 /><circle r=3.02 cx=653 cy=360.3 /><circle r=3.02 cx=656.7 cy=359.8 /><circle r=3.02 cx=650.3 cy=360.2 /><circle r=3.02 cx=660.1 cy=359.2 /><circle r=3.02 cx=653.6 cy=360.5 /><circle r=3.02 cx=657.6 cy=360.2 /><circle r=3.02 cx=651.2 cy=361.3 /><circle r=3.02 cx=661.2 cy=360.1 /><circle r=3.02 cx=654.6 cy=361.2 /><circle r=3.02 cx=658.5 cy=360.3 /><circle r=3.02 cx=662.3 cy=360.7 /><circle r=3.02 cx=655.6 cy=362.1 /><circle r=3.02 cx=659.5 cy=361 /><circle r=3.02 cx=652.7 cy=362.2 /><circle r=3.02 cx=663.2 cy=360.5 /><circle r=3.02 cx=660.2 cy=360.5 /><circle r=3.02 cx=656.3 cy=362.3 /><circle r=3.02 cx=653.7 cy=362.8 /><circle r=3.02 cx=664.2 cy=361 /><circle r=3.02 cx=657.5 cy=363.3 /><circle r=3.02 cx=661.3 cy=361.6 /><circle r=3.02 cx=665.4 cy=361.7 /><circle r=3.02 cx=662.6 cy=362.7 /><circle r=3.02 cx=658.4 cy=363.8 /><circle r=3.02 cx=666.3 cy=362 /><circle r=3.02 cx=652.5 cy=364.3 /><circle r=3.02 cx=659.2 cy=363.7 /><circle r=3.02 cx=663.1 cy=362.3 /><circle r=3.02 cx=660.1 cy=364.3 /><circle r=3.02 cx=664.6 cy=363.9 /><circle r=3.02 cx=665.6 cy=364.1 /><circle r=3.02 cx=660.9 cy=364.9 /><circle r=3.02 cx=666.8 cy=364.7 /><circle r=3.02 cx=662.5 cy=366.2 /><circle r=3.02 cx=671 cy=364.3 /><circle r=3.02 cx=659.2 cy=366.7 /><circle r=3.02 cx=660.1 cy=367.1 /><circle r=3.02 cx=669.3 cy=365.8 /><circle r=3.02 cx=663.9 cy=366.3 /><circle r=3.02 cx=660.9 cy=367 /></g><g class=c34><circle r=3.02 cx=603.6 cy=357.1 /><circle r=3.02 cx=623.9 cy=355.4 /><circle r=3.02 cx=629.5 cy=354.9 /><circle r=3.02 cx=609.1 cy=357 /><circle r=3.02 cx=617 cy=355.1 /><circle r=3.02 cx=639.7 cy=355.5 /><circle r=3.02 cx=607.3 cy=356.9 /><circle r=3.02 cx=605.4 cy=356.7 /><circle r=3.02 cx=648.7 cy=355.1 /><circle r=3.02 cx=612.3 cy=356.5 /><circle r=3.02 cx=618.4 cy=355.8 /><circle r=3.02 cx=636.3 cy=355.9 /><circle r=3.02 cx=598.3 cy=357.2 /><circle r=3.02 cx=625.3 cy=355.6 /><circle r=3.02 cx=646.9 cy=355.8 /><circle r=3.02 cx=619.7 cy=355.8 /><circle r=3.02 cx=621.1 cy=355.7 /><circle r=3.02 cx=622.6 cy=356.2 /><circle r=3.02 cx=638.4 cy=356.4 /><circle r=3.02 cx=633.2 cy=356.9 /><circle r=3.02 cx=613.8 cy=356.3 /><circle r=3.02 cx=616.8 cy=357.6 /><circle r=3.02 cx=615.5 cy=356 /><circle r=3.02 cx=634.8 cy=356.3 /><circle r=3.02 cx=626.9 cy=355.4 /><circle r=3.02 cx=644.5 cy=355.9 /><circle r=3.02 cx=628.3 cy=356.3 /><circle r=3.02 cx=640.4 cy=356.2 /><circle r=3.02 cx=631.3 cy=355.7 /><circle r=3.02 cx=629.8 cy=356.2 /><circle r=3.02 cx=653.1 cy=355.5 /><circle r=3.02 cx=610.7 cy=355.8 /><circle r=3.02 cx=603 cy=356.9 /><circle r=3.02 cx=624 cy=356 /><circle r=3.02 cx=608.7 cy=357.7 /><circle r=3.02 cx=649.7 cy=355.6 /><circle r=3.02 cx=642.3 cy=355.6 /><circle r=3.02 cx=637 cy=357.6 /><circle r=3.02 cx=606.8 cy=356.8 /><circle r=3.02 cx=618.3 cy=357 /><circle r=3.02 cx=597.5 cy=357.9 /><circle r=3.02 cx=611.9 cy=356.9 /><circle r=3.02 cx=625.5 cy=356.8 /><circle r=3.02 cx=619.6 cy=356.9 /><circle r=3.02 cx=622.5 cy=357 /><circle r=3.02 cx=613.5 cy=357.1 /><circle r=3.02 cx=615 cy=357.3 /><circle r=3.02 cx=631.9 cy=357.2 /><circle r=3.02 cx=630.3 cy=357.8 /><circle r=3.02 cx=627.1 cy=356.7 /><circle r=3.02 cx=602.1 cy=357.9 /><circle r=3.02 cx=610.2 cy=357.5 /><circle r=3.02 cx=638.6 cy=355.8 /><circle r=3.02 cx=641 cy=356.4 /><circle r=3.02 cx=633.5 cy=356.1 /><circle r=3.02 cx=635.1 cy=356.2 /><circle r=3.02 cx=608.1 cy=357.9 /><circle r=3.02 cx=616.7 cy=356.9 /><circle r=3.02 cx=604.1 cy=358.3 /><circle r=3.02 cx=624.1 cy=356.4 /><circle r=3.02 cx=618 cy=357.7 /><circle r=3.02 cx=611.6 cy=358 /><circle r=3.02 cx=619.6 cy=358.4 /><circle r=3.02 cx=637.1 cy=356.4 /><circle r=3.02 cx=625.7 cy=356.8 /><circle r=3.02 cx=621.1 cy=357.5 /><circle r=3.02 cx=613.2 cy=358.6 /><circle r=3.02 cx=622.7 cy=358 /><circle r=3.02 cx=634 cy=358.2 /><circle r=3.02 cx=632.2 cy=358 /><circle r=3.02 cx=609.7 cy=358.2 /><circle r=3.02 cx=635.8 cy=357.1 /><circle r=3.02 cx=630.6 cy=358.1 /><circle r=3.02 cx=627.3 cy=356.9 /><circle r=3.02 cx=643.7 cy=356.4 /><circle r=3.02 cx=614.9 cy=356.9 /><circle r=3.02 cx=628.8 cy=357.2 /><circle r=3.02 cx=607.5 cy=358.8 /><circle r=3.02 cx=624.1 cy=357.9 /><circle r=3.02 cx=616.4 cy=357.5 /><circle r=3.02 cx=617.8 cy=358.7 /><circle r=3.02 cx=637.8 cy=356.7 /><circle r=3.02 cx=611.3 cy=357.8 /><circle r=3.02 cx=640 cy=357.1 /><circle r=3.02 cx=644.8 cy=358.3 /><circle r=3.02 cx=612.8 cy=358.9 /><circle r=3.02 cx=625.7 cy=356.8 /><circle r=3.02 cx=619.5 cy=357.4 /><circle r=3.02 cx=646.6 cy=357 /><circle r=3.02 cx=621.1 cy=357.3 /><circle r=3.02 cx=642.3 cy=357.4 /><circle r=3.02 cx=636.4 cy=358.2 /><circle r=3.02 cx=632.6 cy=358.4 /><circle r=3.02 cx=614.5 cy=358.4 /><circle r=3.02 cx=622.6 cy=357.9 /><circle r=3.02 cx=609.3 cy=358.5 /><circle r=3.02 cx=634.3 cy=357.3 /><circle r=3.02 cx=629.2 cy=358.2 /><circle r=3.02 cx=627.4 cy=357.3 /><circle r=3.02 cx=630.8 cy=357.5 /><circle r=3.02 cx=616.2 cy=358.4 /><circle r=3.02 cx=624.2 cy=358.3 /><circle r=3.02 cx=605.2 cy=358.9 /><circle r=3.02 cx=638.4 cy=357.9 /><circle r=3.02 cx=617.7 cy=359.3 /><circle r=3.02 cx=611 cy=358.6 /><circle r=3.02 cx=626 cy=358.6 /><circle r=3.02 cx=647.4 cy=357.4 /><circle r=3.02 cx=643.1 cy=358.2 /><circle r=3.02 cx=645.3 cy=357.7 /><circle r=3.02 cx=621 cy=358.5 /><circle r=3.02 cx=636.9 cy=359.3 /><circle r=3.02 cx=634.9 cy=359 /><circle r=3.02 cx=619.4 cy=357.8 /><circle r=3.02 cx=614.3 cy=359.4 /><circle r=3.02 cx=627.8 cy=359.2 /><circle r=3.02 cx=632.9 cy=358.9 /><circle r=3.02 cx=608.8 cy=359 /><circle r=3.02 cx=622.6 cy=357.7 /><circle r=3.02 cx=631.2 cy=358.8 /><circle r=3.02 cx=629.4 cy=358.4 /><circle r=3.02 cx=606.6 cy=359.8 /><circle r=3.02 cx=604.7 cy=358.7 /><circle r=3.02 cx=616.1 cy=358.6 /><circle r=3.02 cx=624.5 cy=358.4 /><circle r=3.02 cx=638.9 cy=358.5 /><circle r=3.02 cx=617.5 cy=359.4 /><circle r=3.02 cx=648.2 cy=358.2 /><circle r=3.02 cx=646.2 cy=358.4 /><circle r=3.02 cx=641.1 cy=358.1 /><circle r=3.02 cx=626.2 cy=358.9 /><circle r=3.02 cx=643.7 cy=358.6 /><circle r=3.02 cx=619.4 cy=359.3 /><circle r=3.02 cx=635.3 cy=359.5 /><circle r=3.02 cx=637.1 cy=358.4 /><circle r=3.02 cx=622.7 cy=359.1 /><circle r=3.02 cx=633.3 cy=358.8 /><circle r=3.02 cx=629.9 cy=359.7 /><circle r=3.02 cx=614.1 cy=358.4 /><circle r=3.02 cx=631.5 cy=359 /><circle r=3.02 cx=604 cy=360.3 /><circle r=3.02 cx=627.8 cy=358.1 /><circle r=3.02 cx=615.7 cy=359.9 /><circle r=3.02 cx=639.5 cy=358.9 /><circle r=3.02 cx=624.5 cy=358.8 /><circle r=3.02 cx=641.9 cy=359.3 /><circle r=3.02 cx=610.1 cy=359.5 /><circle r=3.02 cx=644.2 cy=358.7 /><circle r=3.02 cx=626.2 cy=359.5 /><circle r=3.02 cx=619.3 cy=360.3 /><circle r=3.02 cx=637.8 cy=360.1 /><circle r=3.02 cx=635.8 cy=360 /><circle r=3.02 cx=611.8 cy=360.6 /><circle r=3.02 cx=621 cy=359.6 /><circle r=3.02 cx=613.6 cy=360.7 /><circle r=3.02 cx=628.2 cy=360.6 /><circle r=3.02 cx=633.8 cy=359.5 /><circle r=3.02 cx=631.9 cy=360 /><circle r=3.02 cx=630 cy=360.1 /><circle r=3.02 cx=615.5 cy=360 /><circle r=3.02 cx=640 cy=358.9 /><circle r=3.02 cx=624.5 cy=360 /><circle r=3.02 cx=647.7 cy=360.2 /><circle r=3.02 cx=642.5 cy=359.5 /><circle r=3.02 cx=653.6 cy=359.1 /><circle r=3.02 cx=645 cy=360.1 /><circle r=3.02 cx=609.9 cy=360.1 /><circle r=3.02 cx=617.2 cy=360.5 /><circle r=3.02 cx=626.3 cy=359.8 /><circle r=3.02 cx=638.2 cy=360 /><circle r=3.02 cx=636.2 cy=360.8 /><circle r=3.02 cx=619.2 cy=359.8 /><circle r=3.02 cx=634.1 cy=360.6 /><circle r=3.02 cx=622.7 cy=361 /><circle r=3.02 cx=628.3 cy=360.2 /><circle r=3.02 cx=613.6 cy=359.9 /><circle r=3.02 cx=632.2 cy=360.4 /><circle r=3.02 cx=630.2 cy=361 /><circle r=3.02 cx=650.6 cy=359.3 /><circle r=3.02 cx=640.6 cy=360.2 /><circle r=3.02 cx=648.3 cy=359.8 /><circle r=3.02 cx=643.2 cy=360.7 /><circle r=3.02 cx=624.7 cy=360.3 /><circle r=3.02 cx=645.8 cy=360.3 /><circle r=3.02 cx=609.2 cy=361.6 /><circle r=3.02 cx=617 cy=361.9 /><circle r=3.02 cx=626.6 cy=360.7 /><circle r=3.02 cx=638.8 cy=360.4 /><circle r=3.02 cx=619.1 cy=361.7 /><circle r=3.02 cx=621 cy=360.7 /><circle r=3.02 cx=634.6 cy=360.8 /><circle r=3.02 cx=622.7 cy=361.5 /><circle r=3.02 cx=651.5 cy=360 /><circle r=3.02 cx=628.5 cy=360.7 /><circle r=3.02 cx=632.5 cy=361.5 /><circle r=3.02 cx=630.4 cy=361.6 /><circle r=3.02 cx=641.2 cy=359.9 /><circle r=3.02 cx=649 cy=360.1 /><circle r=3.02 cx=615.1 cy=361.7 /><circle r=3.02 cx=643.9 cy=361 /><circle r=3.02 cx=624.7 cy=361.2 /><circle r=3.02 cx=646.4 cy=360.3 /><circle r=3.02 cx=617 cy=361.4 /><circle r=3.02 cx=639.4 cy=361.8 /><circle r=3.02 cx=626.6 cy=360.8 /><circle r=3.02 cx=618.8 cy=362.1 /><circle r=3.02 cx=620.9 cy=362.4 /><circle r=3.02 cx=636.9 cy=361.2 /><circle r=3.02 cx=634.9 cy=362.1 /><circle r=3.02 cx=612.9 cy=362.1 /><circle r=3.02 cx=628.9 cy=362 /><circle r=3.02 cx=622.8 cy=362 /><circle r=3.02 cx=632.8 cy=361.4 /><circle r=3.02 cx=641.7 cy=360.8 /><circle r=3.02 cx=630.8 cy=361.3 /><circle r=3.02 cx=644.6 cy=361.7 /><circle r=3.02 cx=624.9 cy=362.6 /><circle r=3.02 cx=640 cy=362.3 /><circle r=3.02 cx=616.8 cy=361.5 /><circle r=3.02 cx=637.4 cy=361.5 /><circle r=3.02 cx=610.5 cy=362.9 /><circle r=3.02 cx=635.4 cy=361.8 /><circle r=3.02 cx=620.9 cy=362.6 /><circle r=3.02 cx=612.6 cy=362.9 /><circle r=3.02 cx=629.1 cy=363.1 /><circle r=3.02 cx=622.9 cy=363 /><circle r=3.02 cx=642.4 cy=361.5 /><circle r=3.02 cx=631.1 cy=363.1 /><circle r=3.02 cx=645.3 cy=362.6 /><circle r=3.02 cx=647.9 cy=361.8 /><circle r=3.02 cx=614.6 cy=363.2 /><circle r=3.02 cx=624.8 cy=363.3 /><circle r=3.02 cx=640.3 cy=361.5 /><circle r=3.02 cx=627 cy=363.2 /><circle r=3.02 cx=637.9 cy=361.9 /><circle r=3.02 cx=635.7 cy=362.3 /><circle r=3.02 cx=620.8 cy=363 /><circle r=3.02 cx=643.2 cy=363.3 /><circle r=3.02 cx=648.7 cy=362 /><circle r=3.02 cx=633.6 cy=363.3 /><circle r=3.02 cx=629.1 cy=363.3 /><circle r=3.02 cx=645.8 cy=362.6 /><circle r=3.02 cx=631.3 cy=362.4 /><circle r=3.02 cx=624.9 cy=363.1 /><circle r=3.02 cx=641 cy=363.2 /><circle r=3.02 cx=638.8 cy=364 /><circle r=3.02 cx=627.3 cy=363.9 /><circle r=3.02 cx=652.3 cy=362.4 /><circle r=3.02 cx=636.1 cy=363.7 /><circle r=3.02 cx=618.6 cy=364.1 /><circle r=3.02 cx=644 cy=364.3 /><circle r=3.02 cx=620.7 cy=363.3 /><circle r=3.02 cx=612.1 cy=364 /><circle r=3.02 cx=649.5 cy=363.3 /><circle r=3.02 cx=629.5 cy=364.2 /><circle r=3.02 cx=634 cy=363.8 /><circle r=3.02 cx=646.5 cy=363.1 /><circle r=3.02 cx=622.8 cy=363.5 /><circle r=3.02 cx=631.6 cy=363 /><circle r=3.02 cx=641.8 cy=364.7 /><circle r=3.02 cx=638.8 cy=363.3 /><circle r=3.02 cx=616.4 cy=364.5 /><circle r=3.02 cx=627.4 cy=364.5 /><circle r=3.02 cx=636.5 cy=363.4 /><circle r=3.02 cx=644.2 cy=363.1 /><circle r=3.02 cx=650.1 cy=362.8 /><circle r=3.02 cx=618.7 cy=364.8 /><circle r=3.02 cx=647.6 cy=364.7 /><circle r=3.02 cx=620.8 cy=364.9 /><circle r=3.02 cx=629.7 cy=364.2 /><circle r=3.02 cx=634.1 cy=363.7 /><circle r=3.02 cx=625.2 cy=365 /><circle r=3.02 cx=642.3 cy=364.5 /><circle r=3.02 cx=639.7 cy=364.9 /><circle r=3.02 cx=616.1 cy=365.7 /><circle r=3.02 cx=627.6 cy=365.2 /><circle r=3.02 cx=637.1 cy=365.4 /><circle r=3.02 cx=648.2 cy=364.3 /><circle r=3.02 cx=645 cy=364.9 /><circle r=3.02 cx=618.4 cy=365.8 /><circle r=3.02 cx=650.7 cy=363.6 /><circle r=3.02 cx=634.8 cy=365.3 /><circle r=3.02 cx=629.9 cy=365.9 /><circle r=3.02 cx=632.4 cy=365.9 /><circle r=3.02 cx=623.1 cy=365.3 /><circle r=3.02 cx=642.4 cy=364.2 /><circle r=3.02 cx=654.9 cy=364.2 /><circle r=3.02 cx=639.9 cy=365.1 /><circle r=3.02 cx=637.7 cy=365.5 /><circle r=3.02 cx=627.7 cy=365.9 /><circle r=3.02 cx=645.8 cy=365.7 /><circle r=3.02 cx=651.6 cy=364.5 /><circle r=3.02 cx=648.8 cy=365.3 /><circle r=3.02 cx=618.3 cy=366.1 /><circle r=3.02 cx=620.7 cy=366.1 /><circle r=3.02 cx=635.2 cy=365.4 /><circle r=3.02 cx=630.3 cy=366.4 /><circle r=3.02 cx=623.1 cy=366.2 /><circle r=3.02 cx=625.6 cy=366.3 /><circle r=3.02 cx=643.2 cy=365.5 /><circle r=3.02 cx=655.6 cy=364.5 /><circle r=3.02 cx=640.7 cy=366.6 /><circle r=3.02 cx=638 cy=365.8 /><circle r=3.02 cx=649.6 cy=365.8 /><circle r=3.02 cx=627.9 cy=365.8 /><circle r=3.02 cx=646.4 cy=366.4 /><circle r=3.02 cx=618.2 cy=367 /><circle r=3.02 cx=620.6 cy=366.4 /><circle r=3.02 cx=630.4 cy=366.4 /><circle r=3.02 cx=656.9 cy=366 /><circle r=3.02 cx=644.2 cy=367.1 /><circle r=3.02 cx=625.6 cy=366.8 /><circle r=3.02 cx=641.2 cy=367.1 /><circle r=3.02 cx=646.9 cy=365.6 /><circle r=3.02 cx=653.7 cy=366.7 /><circle r=3.02 cx=650.3 cy=366.3 /><circle r=3.02 cx=615.5 cy=367.3 /><circle r=3.02 cx=627.9 cy=367.2 /><circle r=3.02 cx=635.8 cy=367 /><circle r=3.02 cx=630.8 cy=367.9 /><circle r=3.02 cx=633.3 cy=367.3 /><circle r=3.02 cx=657.5 cy=365.9 /><circle r=3.02 cx=644.4 cy=367 /><circle r=3.02 cx=641.9 cy=367.6 /><circle r=3.02 cx=654 cy=366 /><circle r=3.02 cx=648 cy=367.6 /><circle r=3.02 cx=638.9 cy=367.3 /><circle r=3.02 cx=651 cy=367.4 /><circle r=3.02 cx=615.5 cy=368.4 /><circle r=3.02 cx=628.1 cy=368.2 /><circle r=3.02 cx=617.9 cy=367.8 /><circle r=3.02 cx=631 cy=367.8 /><circle r=3.02 cx=633.6 cy=368.5 /><circle r=3.02 cx=658.5 cy=366.3 /><circle r=3.02 cx=645.4 cy=368.6 /><circle r=3.02 cx=654.9 cy=366.4 /><circle r=3.02 cx=625.7 cy=368.7 /><circle r=3.02 cx=648.1 cy=366.4 /><circle r=3.02 cx=641.8 cy=366.8 /><circle r=3.02 cx=652 cy=368.6 /><circle r=3.02 cx=628.5 cy=369 /><circle r=3.02 cx=636.5 cy=367.7 /><circle r=3.02 cx=617.9 cy=368.8 /><circle r=3.02 cx=623.2 cy=369.4 /><circle r=3.02 cx=645.8 cy=367.9 /><circle r=3.02 cx=655.9 cy=367.5 /><circle r=3.02 cx=652.5 cy=367.9 /><circle r=3.02 cx=642.8 cy=369.2 /><circle r=3.02 cx=649.2 cy=368.5 /><circle r=3.02 cx=639.8 cy=369.5 /><circle r=3.02 cx=628.6 cy=369.6 /><circle r=3.02 cx=637.1 cy=369.8 /><circle r=3.02 cx=634.2 cy=369.2 /><circle r=3.02 cx=631.4 cy=369.8 /><circle r=3.02 cx=623.3 cy=369.8 /><circle r=3.02 cx=646.4 cy=369.1 /><circle r=3.02 cx=656.9 cy=368.5 /><circle r=3.02 cx=649.7 cy=368.5 /><circle r=3.02 cx=643.4 cy=369.9 /><circle r=3.02 cx=653.4 cy=369.2 /><circle r=3.02 cx=640.4 cy=369.4 /><circle r=3.02 cx=628.8 cy=370.3 /><circle r=3.02 cx=637.4 cy=369.1 /><circle r=3.02 cx=631.6 cy=369.7 /></g><g class=c35><circle r=3.02 cx=600.3 cy=358.2 /><circle r=3.02 cx=591.5 cy=359.7 /><circle r=3.02 cx=594.3 cy=358.8 /><circle r=3.02 cx=604.7 cy=358 /><circle r=3.02 cx=590.4 cy=360.4 /><circle r=3.02 cx=599.4 cy=359.1 /><circle r=3.02 cx=593.4 cy=359.3 /><circle r=3.02 cx=596.1 cy=360 /><circle r=3.02 cx=606 cy=358.5 /><circle r=3.02 cx=598.7 cy=359.4 /><circle r=3.02 cx=592.2 cy=360.5 /><circle r=3.02 cx=601.2 cy=359.6 /><circle r=3.02 cx=595.4 cy=360.5 /><circle r=3.02 cx=605.4 cy=359.5 /><circle r=3.02 cx=603.3 cy=359.6 /><circle r=3.02 cx=591.2 cy=361.4 /><circle r=3.02 cx=598.2 cy=359.1 /><circle r=3.02 cx=600.5 cy=360.4 /><circle r=3.02 cx=594.4 cy=361.4 /><circle r=3.02 cx=602.8 cy=359.8 /><circle r=3.02 cx=607.1 cy=359.6 /><circle r=3.02 cx=597.2 cy=360.4 /><circle r=3.02 cx=599.5 cy=362.1 /><circle r=3.02 cx=612.5 cy=359.9 /><circle r=3.02 cx=593.9 cy=361 /><circle r=3.02 cx=596.3 cy=361.2 /><circle r=3.02 cx=602.3 cy=360.4 /><circle r=3.02 cx=610.4 cy=360.2 /><circle r=3.02 cx=598.9 cy=361.7 /><circle r=3.02 cx=612 cy=360.6 /><circle r=3.02 cx=608.2 cy=360.8 /><circle r=3.02 cx=595.4 cy=362.5 /><circle r=3.02 cx=601.3 cy=361.5 /><circle r=3.02 cx=605.8 cy=361.5 /><circle r=3.02 cx=617.5 cy=361.1 /><circle r=3.02 cx=598.4 cy=362.5 /><circle r=3.02 cx=607.7 cy=361.6 /><circle r=3.02 cx=594.5 cy=363.1 /><circle r=3.02 cx=622.8 cy=361.2 /><circle r=3.02 cx=600.6 cy=362.7 /><circle r=3.02 cx=602.9 cy=362.7 /><circle r=3.02 cx=605.4 cy=361.3 /><circle r=3.02 cx=597.4 cy=363.1 /><circle r=3.02 cx=620.9 cy=361.5 /><circle r=3.02 cx=607.2 cy=362.2 /><circle r=3.02 cx=611.3 cy=361.6 /><circle r=3.02 cx=600.1 cy=362.7 /><circle r=3.02 cx=602.5 cy=362.9 /><circle r=3.02 cx=604.9 cy=362.2 /><circle r=3.02 cx=615.3 cy=362.1 /><circle r=3.02 cx=636.8 cy=362 /><circle r=3.02 cx=606.7 cy=363.1 /><circle r=3.02 cx=599.2 cy=363.9 /><circle r=3.02 cx=611 cy=362.2 /><circle r=3.02 cx=601.7 cy=364.3 /><circle r=3.02 cx=613.1 cy=362.5 /><circle r=3.02 cx=604.1 cy=363.8 /><circle r=3.02 cx=608.7 cy=362.6 /><circle r=3.02 cx=598.6 cy=364.1 /><circle r=3.02 cx=606.2 cy=363.2 /><circle r=3.02 cx=610.7 cy=363 /><circle r=3.02 cx=601.3 cy=363.9 /><circle r=3.02 cx=603.7 cy=364.1 /><circle r=3.02 cx=614.8 cy=363.1 /><circle r=3.02 cx=608.1 cy=363.5 /><circle r=3.02 cx=626.9 cy=363.4 /><circle r=3.02 cx=597.7 cy=365.5 /><circle r=3.02 cx=605.8 cy=364.2 /><circle r=3.02 cx=600.3 cy=365.5 /><circle r=3.02 cx=618.7 cy=364 /><circle r=3.02 cx=603 cy=365 /><circle r=3.02 cx=633.5 cy=364 /><circle r=3.02 cx=607.7 cy=364.3 /><circle r=3.02 cx=616.6 cy=364.1 /><circle r=3.02 cx=609.8 cy=365.7 /><circle r=3.02 cx=599.8 cy=365.6 /><circle r=3.02 cx=605.4 cy=364.2 /><circle r=3.02 cx=618.6 cy=364 /><circle r=3.02 cx=602.5 cy=365.3 /><circle r=3.02 cx=612.2 cy=365.1 /><circle r=3.02 cx=622.7 cy=364.5 /><circle r=3.02 cx=614.3 cy=364.6 /><circle r=3.02 cx=607.5 cy=364.4 /><circle r=3.02 cx=616.3 cy=365.2 /><circle r=3.02 cx=604.6 cy=366 /><circle r=3.02 cx=609.7 cy=364.6 /><circle r=3.02 cx=601.7 cy=366.9 /><circle r=3.02 cx=614.1 cy=365.7 /><circle r=3.02 cx=625.2 cy=364.9 /><circle r=3.02 cx=606.9 cy=365.9 /><circle r=3.02 cx=604.1 cy=367 /><circle r=3.02 cx=609 cy=367.2 /><circle r=3.02 cx=601.5 cy=365.8 /><circle r=3.02 cx=611.5 cy=365.3 /><circle r=3.02 cx=623 cy=365.8 /><circle r=3.02 cx=632 cy=365.4 /><circle r=3.02 cx=613.8 cy=366.9 /><circle r=3.02 cx=606.4 cy=367.4 /><circle r=3.02 cx=603.6 cy=367.4 /><circle r=3.02 cx=609.1 cy=366 /><circle r=3.02 cx=620.8 cy=367.3 /><circle r=3.02 cx=611.2 cy=367.1 /><circle r=3.02 cx=613.5 cy=367.6 /><circle r=3.02 cx=605.8 cy=368.6 /><circle r=3.02 cx=625.3 cy=366.5 /><circle r=3.02 cx=615.8 cy=366.8 /><circle r=3.02 cx=602.9 cy=368.7 /><circle r=3.02 cx=608.5 cy=366.9 /><circle r=3.02 cx=610.9 cy=367 /><circle r=3.02 cx=632.8 cy=367 /><circle r=3.02 cx=613.3 cy=368.7 /><circle r=3.02 cx=605.5 cy=368.5 /><circle r=3.02 cx=615.7 cy=367.5 /><circle r=3.02 cx=608 cy=368.6 /><circle r=3.02 cx=635.5 cy=367.3 /><circle r=3.02 cx=610.5 cy=369.3 /><circle r=3.02 cx=633.2 cy=367.7 /><circle r=3.02 cx=623.1 cy=367.8 /><circle r=3.02 cx=613.1 cy=368 /><circle r=3.02 cx=605 cy=369.4 /><circle r=3.02 cx=638.6 cy=367.9 /><circle r=3.02 cx=607.7 cy=369.3 /><circle r=3.02 cx=618 cy=368 /><circle r=3.02 cx=620.5 cy=368.5 /><circle r=3.02 cx=610.3 cy=369.4 /><circle r=3.02 cx=623.1 cy=368.1 /><circle r=3.02 cx=612.6 cy=370.3 /><circle r=3.02 cx=625.6 cy=368.4 /><circle r=3.02 cx=607 cy=370.7 /><circle r=3.02 cx=609.9 cy=369.5 /><circle r=3.02 cx=636.3 cy=368.8 /><circle r=3.02 cx=620.6 cy=370.2 /><circle r=3.02 cx=623.2 cy=369.1 /><circle r=3.02 cx=612.7 cy=369.4 /><circle r=3.02 cx=639.7 cy=369.7 /><circle r=3.02 cx=615.2 cy=370.6 /><circle r=3.02 cx=606.7 cy=370.7 /><circle r=3.02 cx=609.5 cy=371.1 /><circle r=3.02 cx=620.5 cy=370.9 /><circle r=3.02 cx=631 cy=369.8 /><circle r=3.02 cx=634.1 cy=370.5 /><circle r=3.02 cx=603.4 cy=371.1 /><circle r=3.02 cx=612.3 cy=371.1 /><circle r=3.02 cx=625.9 cy=370.4 /><circle r=3.02 cx=615 cy=370.5 /><circle r=3.02 cx=606.2 cy=371.6 /><circle r=3.02 cx=620.4 cy=370.2 /><circle r=3.02 cx=617.8 cy=371.3 /><circle r=3.02 cx=609.1 cy=372.2 /><circle r=3.02 cx=611.8 cy=372.3 /><circle r=3.02 cx=626 cy=371.5 /><circle r=3.02 cx=614.7 cy=371.3 /><circle r=3.02 cx=620.4 cy=370.9 /><circle r=3.02 cx=617.5 cy=371.7 /><circle r=3.02 cx=608.7 cy=372.8 /><circle r=3.02 cx=634.6 cy=371.4 /></g><g class=c36><circle r=3.02 cx=581.6 cy=361.3 /><circle r=3.02 cx=585 cy=361.5 /><circle r=3.02 cx=580.2 cy=362.1 /><circle r=3.02 cx=583.7 cy=362.1 /><circle r=3.02 cx=582.3 cy=363.1 /><circle r=3.02 cx=589.3 cy=361.2 /><circle r=3.02 cx=581.5 cy=362.9 /><circle r=3.02 cx=588.2 cy=362.1 /><circle r=3.02 cx=587.1 cy=363 /><circle r=3.02 cx=590 cy=362.5 /><circle r=3.02 cx=585.5 cy=364.6 /><circle r=3.02 cx=588.7 cy=363.9 /><circle r=3.02 cx=584.8 cy=364.4 /><circle r=3.02 cx=592.5 cy=362.9 /><circle r=3.02 cx=588 cy=364.2 /><circle r=3.02 cx=591.4 cy=364 /><circle r=3.02 cx=586.9 cy=364.7 /><circle r=3.02 cx=590.5 cy=364.9 /><circle r=3.02 cx=593.5 cy=364.3 /><circle r=3.02 cx=589.5 cy=365.7 /><circle r=3.02 cx=596.4 cy=365.1 /><circle r=3.02 cx=584.5 cy=366.8 /><circle r=3.02 cx=592.5 cy=365.6 /><circle r=3.02 cx=588.3 cy=366.5 /><circle r=3.02 cx=595.7 cy=365.6 /><circle r=3.02 cx=583.5 cy=367.3 /><circle r=3.02 cx=591.3 cy=366.6 /><circle r=3.02 cx=587.4 cy=367.5 /><circle r=3.02 cx=594.9 cy=366 /><circle r=3.02 cx=590.4 cy=367.8 /><circle r=3.02 cx=594 cy=366.7 /><circle r=3.02 cx=589.7 cy=367.7 /><circle r=3.02 cx=596.9 cy=366.5 /><circle r=3.02 cx=593.1 cy=367.9 /><circle r=3.02 cx=588.5 cy=368.8 /><circle r=3.02 cx=596.3 cy=366.9 /><circle r=3.02 cx=598.8 cy=367.8 /><circle r=3.02 cx=592.2 cy=368.6 /><circle r=3.02 cx=595 cy=369.1 /><circle r=3.02 cx=598.3 cy=367.8 /><circle r=3.02 cx=591.1 cy=370 /><circle r=3.02 cx=594.3 cy=369.7 /><circle r=3.02 cx=597.1 cy=370 /><circle r=3.02 cx=600.4 cy=369.1 /><circle r=3.02 cx=590.9 cy=369.4 /><circle r=3.02 cx=593.6 cy=370 /><circle r=3.02 cx=596.4 cy=370.9 /><circle r=3.02 cx=599.8 cy=369.5 /><circle r=3.02 cx=595.9 cy=371.1 /><circle r=3.02 cx=602.2 cy=370.6 /><circle r=3.02 cx=598.9 cy=371 /><circle r=3.02 cx=588.7 cy=371.5 /><circle r=3.02 cx=594.8 cy=372.8 /><circle r=3.02 cx=601.6 cy=371.2 /><circle r=3.02 cx=598.6 cy=371 /><circle r=3.02 cx=604.1 cy=371 /><circle r=3.02 cx=600.9 cy=372.1 /><circle r=3.02 cx=594.2 cy=373.2 /><circle r=3.02 cx=597.4 cy=373 /><circle r=3.02 cx=603.7 cy=372 /><circle r=3.02 cx=600.4 cy=372.1 /><circle r=3.02 cx=597.1 cy=372.6 /><circle r=3.02 cx=599.9 cy=373.2 /><circle r=3.02 cx=595.8 cy=374.8 /><circle r=3.02 cx=602.7 cy=373.3 /><circle r=3.02 cx=599 cy=374.4 /><circle r=3.02 cx=605.3 cy=374.4 /></g><g class=c37><circle r=3.02 cx=578.6 cy=363.5 /><circle r=3.02 cx=577.5 cy=363.6 /><circle r=3.02 cx=567.3 cy=365.8 /><circle r=3.02 cx=575.4 cy=365.7 /><circle r=3.02 cx=579.7 cy=364.8 /><circle r=3.02 cx=574.3 cy=365.9 /><circle r=3.02 cx=578.4 cy=365.6 /><circle r=3.02 cx=572.9 cy=366.7 /><circle r=3.02 cx=576.9 cy=366.5 /><circle r=3.02 cx=401.3 cy=367 /><circle r=3.02 cx=571.2 cy=367.6 /><circle r=3.02 cx=575.7 cy=367 /><circle r=3.02 cx=583.3 cy=366.2 /><circle r=3.02 cx=581.5 cy=368.2 /><circle r=3.02 cx=585.4 cy=366.4 /><circle r=3.02 cx=580.7 cy=367.8 /><circle r=3.02 cx=579.5 cy=368.3 /><circle r=3.02 cx=578.1 cy=369.8 /><circle r=3.02 cx=582.2 cy=368 /><circle r=3.02 cx=576.6 cy=370.6 /><circle r=3.02 cx=585.8 cy=369.5 /><circle r=3.02 cx=581 cy=369.2 /><circle r=3.02 cx=584.5 cy=370.7 /><circle r=3.02 cx=583.6 cy=370.7 /><circle r=3.02 cx=587.1 cy=371.4 /><circle r=3.02 cx=582.8 cy=371.3 /><circle r=3.02 cx=576.9 cy=372.8 /><circle r=3.02 cx=586 cy=371.7 /><circle r=3.02 cx=581.3 cy=372.9 /><circle r=3.02 cx=585 cy=372.2 /><circle r=3.02 cx=580.2 cy=373.4 /><circle r=3.02 cx=589 cy=372.3 /><circle r=3.02 cx=584.1 cy=372.7 /><circle r=3.02 cx=592.3 cy=372.6 /><circle r=3.02 cx=579.1 cy=374.1 /><circle r=3.02 cx=582.6 cy=374.6 /><circle r=3.02 cx=591.2 cy=373.7 /><circle r=3.02 cx=586.7 cy=374.9 /><circle r=3.02 cx=590.5 cy=374.4 /><circle r=3.02 cx=585.9 cy=375.9 /><circle r=3.02 cx=589.9 cy=374.9 /><circle r=3.02 cx=593.3 cy=374.3 /><circle r=3.02 cx=588.5 cy=376.7 /><circle r=3.02 cx=592.3 cy=376.3 /><circle r=3.02 cx=583.8 cy=377.5 /><circle r=3.02 cx=587.7 cy=377.4 /><circle r=3.02 cx=591.2 cy=377.4 /><circle r=3.02 cx=595.2 cy=376.3 /></g><g class=c38><circle r=3.02 cx=569.6 cy=365.3 /><circle r=3.02 cx=549.3 cy=366.8 /><circle r=3.02 cx=563.6 cy=365.6 /><circle r=3.02 cx=568.4 cy=365.5 /><circle r=3.02 cx=561.8 cy=366.4 /><circle r=3.02 cx=560.1 cy=367.3 /><circle r=3.02 cx=565 cy=367.1 /><circle r=3.02 cx=558.3 cy=367.5 /><circle r=3.02 cx=563.4 cy=367.9 /><circle r=3.02 cx=556.1 cy=369 /><circle r=3.02 cx=561.4 cy=369.5 /><circle r=3.02 cx=560 cy=369.5 /><circle r=3.02 cx=552.4 cy=370.2 /><circle r=3.02 cx=568.7 cy=370.5 /><circle r=3.02 cx=573.9 cy=368.5 /><circle r=3.02 cx=556.3 cy=370.9 /><circle r=3.02 cx=568.2 cy=368.9 /><circle r=3.02 cx=572.4 cy=369.5 /><circle r=3.02 cx=566.4 cy=370.3 /><circle r=3.02 cx=554.7 cy=371.8 /><circle r=3.02 cx=571.1 cy=370.2 /><circle r=3.02 cx=564.2 cy=372.2 /><circle r=3.02 cx=569.6 cy=371.1 /><circle r=3.02 cx=562.5 cy=372.6 /><circle r=3.02 cx=567.4 cy=372.9 /><circle r=3.02 cx=561.2 cy=373 /><circle r=3.02 cx=566.4 cy=372.9 /><circle r=3.02 cx=575.6 cy=371.5 /><circle r=3.02 cx=578.9 cy=372.1 /><circle r=3.02 cx=573.7 cy=372.7 /><circle r=3.02 cx=577.4 cy=373.4 /><circle r=3.02 cx=563.2 cy=374.2 /><circle r=3.02 cx=572.3 cy=373.8 /><circle r=3.02 cx=561.9 cy=374.7 /><circle r=3.02 cx=570.3 cy=375.7 /><circle r=3.02 cx=575.3 cy=373.7 /><circle r=3.02 cx=573.3 cy=376.5 /><circle r=3.02 cx=567.8 cy=376.5 /><circle r=3.02 cx=572.5 cy=375.5 /><circle r=3.02 cx=577.6 cy=375.8 /><circle r=3.02 cx=570.8 cy=377.3 /><circle r=3.02 cx=581.4 cy=375.8 /><circle r=3.02 cx=575.6 cy=377.7 /><circle r=3.02 cx=569.5 cy=378.5 /><circle r=3.02 cx=579.8 cy=377.7 /><circle r=3.02 cx=574.6 cy=378.4 /><circle r=3.02 cx=584.6 cy=377.4 /><circle r=3.02 cx=578.8 cy=378.4 /></g><g class=c39><circle r=3.02 cx=536.8 cy=368.9 /><circle r=3.02 cx=546.3 cy=368.9 /><circle r=3.02 cx=534.6 cy=369 /><circle r=3.02 cx=544.3 cy=369 /><circle r=3.02 cx=531.9 cy=370 /><circle r=3.02 cx=541.9 cy=370.1 /><circle r=3.02 cx=528.7 cy=371.4 /><circle r=3.02 cx=539.4 cy=371.1 /><circle r=3.02 cx=401.2 cy=370 /><circle r=3.02 cx=536.8 cy=371.9 /><circle r=3.02 cx=553.6 cy=370.5 /><circle r=3.02 cx=535.6 cy=371.3 /><circle r=3.02 cx=532.4 cy=372.9 /><circle r=3.02 cx=557.5 cy=371.2 /><circle r=3.02 cx=550.2 cy=371.3 /><circle r=3.02 cx=547.3 cy=373.2 /><circle r=3.02 cx=546.2 cy=372.8 /><circle r=3.02 cx=552.4 cy=372.8 /><circle r=3.02 cx=543.4 cy=374.4 /><circle r=3.02 cx=541.1 cy=375.1 /><circle r=3.02 cx=550.5 cy=373.5 /><circle r=3.02 cx=547.8 cy=375.1 /><circle r=3.02 cx=545.7 cy=375.9 /><circle r=3.02 cx=559.4 cy=374.1 /><circle r=3.02 cx=564 cy=374.6 /><circle r=3.02 cx=544.4 cy=375.7 /><circle r=3.02 cx=557.6 cy=375.2 /><circle r=3.02 cx=555.1 cy=376.5 /><circle r=3.02 cx=541.5 cy=377.5 /><circle r=3.02 cx=553.9 cy=377.1 /><circle r=3.02 cx=559.3 cy=376.4 /><circle r=3.02 cx=568.8 cy=376.5 /><circle r=3.02 cx=551.3 cy=378.8 /><circle r=3.02 cx=557.4 cy=378 /><circle r=3.02 cx=549.2 cy=379.5 /><circle r=3.02 cx=555.9 cy=378.3 /><circle r=3.02 cx=565.7 cy=378.8 /><circle r=3.02 cx=554.1 cy=379 /><circle r=3.02 cx=564.2 cy=379.4 /><circle r=3.02 cx=551.4 cy=381.4 /><circle r=3.02 cx=562 cy=381 /><circle r=3.02 cx=567.9 cy=379.5 /><circle r=3.02 cx=391.6 cy=381.7 /><circle r=3.02 cx=560.8 cy=381.2 /><circle r=3.02 cx=572.9 cy=380.1 /><circle r=3.02 cx=565.4 cy=381.9 /><circle r=3.02 cx=577 cy=380.8 /><circle r=3.02 cx=559 cy=382.6 /><circle r=3.02 cx=571.4 cy=381.4 /><circle r=3.02 cx=563.9 cy=382.7 /></g><g class=c40><circle r=3.02 cx=400.4 cy=373.5 /><circle r=3.02 cx=524.5 cy=373.5 /><circle r=3.02 cx=522.5 cy=373.6 /><circle r=3.02 cx=519.2 cy=374.9 /><circle r=3.02 cx=528.8 cy=374.9 /><circle r=3.02 cx=527.6 cy=374.3 /><circle r=3.02 cx=538.6 cy=376.2 /><circle r=3.02 cx=535.4 cy=378 /><circle r=3.02 cx=533.1 cy=378.8 /><circle r=3.02 cx=530.2 cy=379.9 /><circle r=3.02 cx=527.7 cy=380.5 /><circle r=3.02 cx=538.6 cy=379.2 /><circle r=3.02 cx=536.6 cy=379.9 /><circle r=3.02 cx=533.3 cy=381.5 /><circle r=3.02 cx=530.7 cy=382.6 /><circle r=3.02 cx=547.3 cy=380.6 /><circle r=3.02 cx=544.4 cy=381.8 /><circle r=3.02 cx=542.8 cy=382.6 /><circle r=3.02 cx=549.6 cy=382.4 /><circle r=3.02 cx=539.7 cy=384.8 /><circle r=3.02 cx=547.7 cy=383.1 /><circle r=3.02 cx=537.8 cy=385.2 /></g><g class=c41><circle r=3.02 cx=515 cy=376.8 /><circle r=3.02 cx=511.6 cy=377.6 /><circle r=3.02 cx=522.2 cy=377.6 /><circle r=3.02 cx=518.9 cy=378.7 /><circle r=3.02 cx=524.6 cy=382.2 /><circle r=3.02 cx=391.2 cy=384.9 /><circle r=3.02 cx=526.9 cy=385.1 /><circle r=3.02 cx=523.3 cy=386.9 /></g><g class=c42><circle r=3.02 cx=401.9 cy=375.4 /><circle r=3.02 cx=498.1 cy=376.6 /><circle r=3.02 cx=505.6 cy=381.4 /><circle r=3.02 cx=514.8 cy=381 /><circle r=3.02 cx=511.8 cy=381.7 /><circle r=3.02 cx=506.9 cy=384.4 /><circle r=3.02 cx=519.8 cy=385.3 /><circle r=3.02 cx=392.4 cy=387.3 /><circle r=3.02 cx=516.9 cy=386.1 /><circle r=3.02 cx=518.5 cy=390 /></g><g class=c43><circle r=3.02 cx=492 cy=379 /><circle r=3.02 cx=467.9 cy=379.6 /><circle r=3.02 cx=462.2 cy=380.6 /><circle r=3.02 cx=488.8 cy=379.5 /><circle r=3.02 cx=459.6 cy=380.2 /><circle r=3.02 cx=453.9 cy=380.8 /><circle r=3.02 cx=501 cy=383.2 /><circle r=3.02 cx=496.6 cy=384.8 /><circle r=3.02 cx=501.8 cy=387.1 /><circle r=3.02 cx=498.7 cy=387.6 /><circle r=3.02 cx=511.5 cy=390 /><circle r=3.02 cx=507.7 cy=391.5 /></g><g class=c44><circle r=3.02 cx=482.8 cy=382.4 /><circle r=3.02 cx=478.6 cy=383 /><circle r=3.02 cx=474.2 cy=383.7 /><circle r=3.02 cx=446.4 cy=383.2 /><circle r=3.02 cx=438.1 cy=385.7 /><circle r=3.02 cx=471.5 cy=383.5 /><circle r=3.02 cx=464.6 cy=385.9 /><circle r=3.02 cx=461.2 cy=385.5 /><circle r=3.02 cx=455.9 cy=386.6 /><circle r=3.02 cx=489.5 cy=388.8 /><circle r=3.02 cx=451.9 cy=387 /><circle r=3.02 cx=486.4 cy=388.5 /><circle r=3.02 cx=478.1 cy=390.8 /><circle r=3.02 cx=491.6 cy=391.3 /><circle r=3.02 cx=392.8 cy=390.4 /><circle r=3.02 cx=489.4 cy=391.1 /><circle r=3.02 cx=503.4 cy=393.5 /></g><g class=c45><circle r=3.02 cx=443.7 cy=389.5 /><circle r=3.02 cx=480.9 cy=390.6 /><circle r=3.02 cx=472 cy=393.5 /><circle r=3.02 cx=469 cy=392.9 /><circle r=3.02 cx=482.9 cy=394.5 /><circle r=3.02 cx=463.7 cy=394.8 /><circle r=3.02 cx=458.8 cy=395.6 /><circle r=3.02 cx=475.1 cy=395.5 /><circle r=3.02 cx=455.5 cy=395.4 /></g><g class=c46><circle r=3.02 cx=425.1 cy=390.5 /><circle r=3.02 cx=433.6 cy=393.4 /><circle r=3.02 cx=392 cy=393.7 /><circle r=3.02 cx=476.4 cy=397.5 /></g><g class=c47><circle r=3.02 cx=415.2 cy=393.2 /><circle r=3.02 cx=392.7 cy=396.3 /><circle r=3.02 cx=422.7 cy=397.1 /></g><g class=c48><circle r=3.02 cx=403.2 cy=397.2 /><circle r=3.02 cx=411.5 cy=401 /><circle r=3.02 cx=388.1 cy=404.9 /></g><g class=c49><circle r=3.02 cx=392 cy=400.5 /><circle r=3.02 cx=400.4 cy=404.4 /></g><g class=c50><circle r=3.02 cx=387.9 cy=408.8 /></g></g><g class=a4><g class=c9><circle r=3.02 cx=689.9 cy=308.7 /><circle r=3.02 cx=690.8 cy=308.2 /><circle r=3.02 cx=690.6 cy=307.1 /><circle r=3.02 cx=693.2 cy=310.6 /></g><g class=c10><circle r=3.02 cx=690.4 cy=310.6 /><circle r=3.02 cx=691.2 cy=310.2 /><circle r=3.02 cx=692.9 cy=312.4 /><circle r=3.02 cx=693.3 cy=311.6 /><circle r=3.02 cx=698.1 cy=316.5 /></g><g class=c11><circle r=3.02 cx=690.9 cy=312.9 /><circle r=3.02 cx=690.7 cy=311.7 /><circle r=3.02 cx=694.1 cy=314.9 /><circle r=3.02 cx=694.3 cy=314.1 /><circle r=3.02 cx=696.7 cy=317.7 /><circle r=3.02 cx=697.1 cy=316.9 /><circle r=3.02 cx=699.2 cy=320.7 /><circle r=3.02 cx=700 cy=320.2 /></g><g class=c12><circle r=3.02 cx=692.6 cy=316 /><circle r=3.02 cx=693.4 cy=315.4 /><circle r=3.02 cx=696.5 cy=319.8 /><circle r=3.02 cx=696.2 cy=318.4 /><circle r=3.02 cx=699.4 cy=323.1 /><circle r=3.02 cx=699.7 cy=322.2 /><circle r=3.02 cx=703.2 cy=327.2 /><circle r=3.02 cx=702.3 cy=325.6 /></g><g class=c13><circle r=3.02 cx=693.1 cy=318.5 /><circle r=3.02 cx=693.9 cy=317.8 /><circle r=3.02 cx=696.6 cy=321.9 /><circle r=3.02 cx=696.8 cy=320.9 /><circle r=3.02 cx=699.3 cy=324 /><circle r=3.02 cx=702.6 cy=329.1 /><circle r=3.02 cx=703 cy=328 /></g><g class=c14><circle r=3.02 cx=693 cy=320.2 /><circle r=3.02 cx=693 cy=319.2 /><circle r=3.02 cx=696.7 cy=324.1 /><circle r=3.02 cx=696.9 cy=323.2 /><circle r=3.02 cx=699.2 cy=326.3 /><circle r=3.02 cx=699.3 cy=324.9 /><circle r=3.02 cx=702.5 cy=330.3 /></g><g class=c15><circle r=3.02 cx=693.1 cy=322.5 /><circle r=3.02 cx=693 cy=321.3 /><circle r=3.02 cx=696.1 cy=325.8 /><circle r=3.02 cx=696.1 cy=324.7 /><circle r=3.02 cx=698.7 cy=328.4 /><circle r=3.02 cx=699.1 cy=327.1 /><circle r=3.02 cx=702.1 cy=332.4 /><circle r=3.02 cx=702.9 cy=331.7 /></g><g class=c16><circle r=3.02 cx=696.2 cy=326.8 /><circle r=3.02 cx=699.1 cy=330.8 /><circle r=3.02 cx=700.2 cy=330.4 /><circle r=3.02 cx=703.4 cy=334.4 /></g><g class=c17><circle r=3.02 cx=697 cy=329.9 /><circle r=3.02 cx=696 cy=328 /><circle r=3.02 cx=699 cy=331.8 /><circle r=3.02 cx=702 cy=335.9 /><circle r=3.02 cx=702.3 cy=335.2 /><circle r=3.02 cx=704.6 cy=339 /></g><g class=c18><circle r=3.02 cx=696.4 cy=330.6 /><circle r=3.02 cx=698.8 cy=334.2 /><circle r=3.02 cx=699.2 cy=333.3 /><circle r=3.02 cx=702.9 cy=338.1 /><circle r=3.02 cx=704.8 cy=342 /><circle r=3.02 cx=704.9 cy=340.9 /></g><g class=c19><circle r=3.02 cx=696 cy=332.6 /><circle r=3.02 cx=696.6 cy=331.9 /><circle r=3.02 cx=699.9 cy=336.3 /><circle r=3.02 cx=702.7 cy=338.8 /><circle r=3.02 cx=703.4 cy=341.2 /><circle r=3.02 cx=704.5 cy=343.1 /></g><g class=c20><circle r=3.02 cx=696.5 cy=335.3 /><circle r=3.02 cx=696.4 cy=334.1 /><circle r=3.02 cx=699 cy=338 /><circle r=3.02 cx=698.9 cy=337 /><circle r=3.02 cx=702.8 cy=342 /><circle r=3.02 cx=705 cy=346.2 /><circle r=3.02 cx=704.7 cy=344.5 /></g><g class=c21><circle r=3.02 cx=697 cy=337.1 /><circle r=3.02 cx=699.2 cy=339.6 /><circle r=3.02 cx=702 cy=343.8 /><circle r=3.02 cx=702.8 cy=343.4 /><circle r=3.02 cx=704.7 cy=347.3 /></g><g class=c22><circle r=3.02 cx=699.3 cy=342.2 /><circle r=3.02 cx=699.1 cy=340.7 /><circle r=3.02 cx=702.9 cy=346.2 /><circle r=3.02 cx=704.7 cy=348.8 /></g><g class=c23><circle r=3.02 cx=699.4 cy=343.8 /><circle r=3.02 cx=702.6 cy=348.5 /><circle r=3.02 cx=702.1 cy=346.5 /><circle r=3.02 cx=705.2 cy=351.9 /><circle r=3.02 cx=705.2 cy=350.6 /></g><g class=c24><circle r=3.02 cx=698.7 cy=345.5 /><circle r=3.02 cx=698.7 cy=344.4 /><circle r=3.02 cx=701.9 cy=349.5 /><circle r=3.02 cx=705.2 cy=353.5 /><circle r=3.02 cx=707.3 cy=358.4 /></g><g class=c25><circle r=3.02 cx=698.7 cy=347.1 /><circle r=3.02 cx=702.4 cy=351.2 /><circle r=3.02 cx=705.4 cy=355.6 /><circle r=3.02 cx=707.5 cy=360 /></g><g class=c26><circle r=3.02 cx=702.2 cy=354.1 /><circle r=3.02 cx=702 cy=352.2 /><circle r=3.02 cx=704.4 cy=355.6 /><circle r=3.02 cx=707.9 cy=362.2 /></g><g class=c27><circle r=3.02 cx=702.7 cy=356 /><circle r=3.02 cx=704.6 cy=359.1 /><circle r=3.02 cx=704.8 cy=357.7 /><circle r=3.02 cx=707.7 cy=363.4 /></g><g class=c28><circle r=3.02 cx=702.1 cy=356.8 /><circle r=3.02 cx=704.7 cy=360.9 /><circle r=3.02 cx=707.4 cy=364.9 /></g><g class=c29><circle r=3.02 cx=695.8 cy=356.5 /><circle r=3.02 cx=690.9 cy=357.9 /><circle r=3.02 cx=697.9 cy=356.8 /><circle r=3.02 cx=693.4 cy=359.4 /><circle r=3.02 cx=700.8 cy=358.6 /><circle r=3.02 cx=695.4 cy=360 /><circle r=3.02 cx=701.8 cy=358 /><circle r=3.02 cx=696.3 cy=359.5 /><circle r=3.02 cx=698.9 cy=360.5 /><circle r=3.02 cx=700.6 cy=361.1 /><circle r=3.02 cx=702.7 cy=361.7 /><circle r=3.02 cx=703.9 cy=361.6 /><circle r=3.02 cx=695.6 cy=363 /><circle r=3.02 cx=697.7 cy=363.9 /><circle r=3.02 cx=700.3 cy=365.2 /><circle r=3.02 cx=701.6 cy=365.2 /><circle r=3.02 cx=704.5 cy=367.1 /><circle r=3.02 cx=706 cy=367 /><circle r=3.02 cx=708.1 cy=367.4 /></g><g class=c30><circle r=3.02 cx=690.7 cy=359.2 /><circle r=3.02 cx=683.1 cy=359.7 /><circle r=3.02 cx=684.8 cy=360.5 /><circle r=3.02 cx=686 cy=360.4 /><circle r=3.02 cx=687.8 cy=361.2 /><circle r=3.02 cx=689.4 cy=361.9 /><circle r=3.02 cx=691 cy=362.2 /><circle r=3.02 cx=686.6 cy=364.2 /><circle r=3.02 cx=692.6 cy=362.4 /><circle r=3.02 cx=688.4 cy=365.3 /><circle r=3.02 cx=694.9 cy=363.9 /><circle r=3.02 cx=689.9 cy=365.7 /><circle r=3.02 cx=691.5 cy=366 /><circle r=3.02 cx=692.4 cy=365.7 /><circle r=3.02 cx=694.8 cy=367 /><circle r=3.02 cx=696.8 cy=367.9 /><circle r=3.02 cx=699.2 cy=369 /><circle r=3.02 cx=700.3 cy=369 /><circle r=3.02 cx=693.5 cy=371 /><circle r=3.02 cx=702.2 cy=369.6 /><circle r=3.02 cx=705.5 cy=371.4 /><circle r=3.02 cx=697.4 cy=372.8 /><circle r=3.02 cx=706.8 cy=371.4 /></g><g class=c31><circle r=3.02 cx=680 cy=362.8 /><circle r=3.02 cx=680.6 cy=361.9 /><circle r=3.02 cx=682.9 cy=364 /><circle r=3.02 cx=677.4 cy=365.5 /><circle r=3.02 cx=683.9 cy=363.5 /><circle r=3.02 cx=685.5 cy=364.4 /><circle r=3.02 cx=681.3 cy=366.5 /><circle r=3.02 cx=682.6 cy=367.5 /><circle r=3.02 cx=684.4 cy=367.5 /><circle r=3.02 cx=685.6 cy=368.4 /><circle r=3.02 cx=687.1 cy=368.6 /><circle r=3.02 cx=689.4 cy=370.4 /><circle r=3.02 cx=685.7 cy=372.4 /><circle r=3.02 cx=690.3 cy=370 /><circle r=3.02 cx=686.8 cy=372.8 /><circle r=3.02 cx=692.1 cy=371 /><circle r=3.02 cx=688.3 cy=373.1 /><circle r=3.02 cx=690.5 cy=374.5 /><circle r=3.02 cx=696.4 cy=373.2 /><circle r=3.02 cx=691.9 cy=375.1 /></g><g class=c32><circle r=3.02 cx=669.7 cy=365.4 /><circle r=3.02 cx=674.2 cy=364.7 /><circle r=3.02 cx=675.8 cy=365.5 /><circle r=3.02 cx=672.2 cy=366.5 /><circle r=3.02 cx=676.4 cy=365.2 /><circle r=3.02 cx=673.3 cy=366.8 /><circle r=3.02 cx=668 cy=368 /><circle r=3.02 cx=675.1 cy=368.4 /><circle r=3.02 cx=679.3 cy=366.5 /><circle r=3.02 cx=669 cy=368.5 /><circle r=3.02 cx=675.7 cy=367.7 /><circle r=3.02 cx=670.2 cy=369.3 /><circle r=3.02 cx=681 cy=367.7 /><circle r=3.02 cx=677.2 cy=368.5 /><circle r=3.02 cx=677.9 cy=368.3 /><circle r=3.02 cx=680.1 cy=369.9 /><circle r=3.02 cx=681.6 cy=371 /><circle r=3.02 cx=675.5 cy=372.2 /><circle r=3.02 cx=682.6 cy=371.1 /><circle r=3.02 cx=677 cy=373.6 /><circle r=3.02 cx=683.8 cy=371.8 /><circle r=3.02 cx=678.4 cy=374.1 /><circle r=3.02 cx=679.7 cy=374.7 /><circle r=3.02 cx=681 cy=375 /><circle r=3.02 cx=683.2 cy=377.2 /><circle r=3.02 cx=677.8 cy=376.6 /><circle r=3.02 cx=683.7 cy=377 /><circle r=3.02 cx=679.1 cy=377.9 /><circle r=3.02 cx=685 cy=376.6 /></g><g class=c33><circle r=3.02 cx=657.4 cy=368.3 /><circle r=3.02 cx=653.8 cy=368.3 /><circle r=3.02 cx=665.2 cy=367.4 /><circle r=3.02 cx=662.1 cy=368.5 /><circle r=3.02 cx=665.7 cy=366.7 /><circle r=3.02 cx=671.2 cy=366.7 /><circle r=3.02 cx=663 cy=369 /><circle r=3.02 cx=666.7 cy=367.4 /><circle r=3.02 cx=664.3 cy=369.9 /><circle r=3.02 cx=660.2 cy=370.2 /><circle r=3.02 cx=664.6 cy=369.3 /><circle r=3.02 cx=661.4 cy=371.3 /><circle r=3.02 cx=666.6 cy=371.7 /><circle r=3.02 cx=662.1 cy=372 /><circle r=3.02 cx=667.3 cy=371.6 /><circle r=3.02 cx=663.2 cy=372 /><circle r=3.02 cx=671.9 cy=371.3 /><circle r=3.02 cx=668.5 cy=372.3 /><circle r=3.02 cx=673.2 cy=371 /><circle r=3.02 cx=664.2 cy=373.2 /><circle r=3.02 cx=669.5 cy=372.8 /><circle r=3.02 cx=674.8 cy=372.2 /><circle r=3.02 cx=665.5 cy=374.2 /><circle r=3.02 cx=670.9 cy=373.8 /><circle r=3.02 cx=672.1 cy=374.4 /><circle r=3.02 cx=662.8 cy=375.7 /><circle r=3.02 cx=674 cy=376.7 /><circle r=3.02 cx=674.7 cy=376 /><circle r=3.02 cx=669.8 cy=376.9 /><circle r=3.02 cx=675.6 cy=376.1 /><circle r=3.02 cx=677.1 cy=378 /><circle r=3.02 cx=673.3 cy=379.9 /></g><g class=c34><circle r=3.02 cx=647 cy=369.4 /><circle r=3.02 cx=626.1 cy=370.7 /><circle r=3.02 cx=644.1 cy=370.9 /><circle r=3.02 cx=650.8 cy=370.7 /><circle r=3.02 cx=640.8 cy=370.1 /><circle r=3.02 cx=629 cy=370.9 /><circle r=3.02 cx=623.3 cy=370.1 /><circle r=3.02 cx=647.5 cy=370 /><circle r=3.02 cx=658.7 cy=369.6 /><circle r=3.02 cx=654.9 cy=370 /><circle r=3.02 cx=651.7 cy=371.4 /><circle r=3.02 cx=629 cy=371.5 /><circle r=3.02 cx=638.3 cy=371.7 /><circle r=3.02 cx=635.1 cy=371.3 /><circle r=3.02 cx=632.3 cy=372.3 /><circle r=3.02 cx=648.5 cy=371.6 /><circle r=3.02 cx=659.7 cy=371 /><circle r=3.02 cx=655.6 cy=370.3 /><circle r=3.02 cx=645.1 cy=371.8 /><circle r=3.02 cx=652 cy=371.3 /><circle r=3.02 cx=626.3 cy=372.6 /><circle r=3.02 cx=641.7 cy=371.9 /><circle r=3.02 cx=629.4 cy=372.7 /><circle r=3.02 cx=638.6 cy=372.1 /><circle r=3.02 cx=649.2 cy=372.4 /><circle r=3.02 cx=656.6 cy=371.3 /><circle r=3.02 cx=652.9 cy=371.8 /><circle r=3.02 cx=645.6 cy=372.3 /><circle r=3.02 cx=642.5 cy=373.1 /><circle r=3.02 cx=649.6 cy=372.6 /><circle r=3.02 cx=653.8 cy=372.7 /><circle r=3.02 cx=646.4 cy=373.2 /><circle r=3.02 cx=657.6 cy=372.6 /><circle r=3.02 cx=626.5 cy=373.6 /><circle r=3.02 cx=643 cy=373.4 /><circle r=3.02 cx=629.8 cy=374.5 /><circle r=3.02 cx=639.8 cy=374.1 /><circle r=3.02 cx=650.3 cy=372.8 /><circle r=3.02 cx=633 cy=374.4 /><circle r=3.02 cx=654.5 cy=373 /><circle r=3.02 cx=658.8 cy=373.5 /><circle r=3.02 cx=646.8 cy=373.7 /><circle r=3.02 cx=643.5 cy=374.7 /><circle r=3.02 cx=651.4 cy=374.1 /><circle r=3.02 cx=633.4 cy=375.1 /><circle r=3.02 cx=655.4 cy=374.1 /><circle r=3.02 cx=659.8 cy=374.3 /><circle r=3.02 cx=656 cy=374.3 /><circle r=3.02 cx=660.6 cy=374.6 /><circle r=3.02 cx=652.4 cy=376.4 /><circle r=3.02 cx=644.9 cy=376.8 /><circle r=3.02 cx=661.3 cy=375 /><circle r=3.02 cx=652.9 cy=376.5 /><circle r=3.02 cx=657.4 cy=376.3 /><circle r=3.02 cx=649.1 cy=377.1 /><circle r=3.02 cx=645.3 cy=377.4 /><circle r=3.02 cx=667.2 cy=376.3 /><circle r=3.02 cx=657.9 cy=376.2 /><circle r=3.02 cx=662.7 cy=376.7 /><circle r=3.02 cx=653.7 cy=377.8 /><circle r=3.02 cx=649.9 cy=378 /><circle r=3.02 cx=667.9 cy=376.5 /><circle r=3.02 cx=638.3 cy=378.7 /><circle r=3.02 cx=654.7 cy=378.4 /><circle r=3.02 cx=659.1 cy=378.4 /><circle r=3.02 cx=650.7 cy=379 /><circle r=3.02 cx=669.1 cy=377.2 /><circle r=3.02 cx=664.8 cy=378.1 /><circle r=3.02 cx=655.7 cy=379.6 /><circle r=3.02 cx=660.2 cy=379.4 /><circle r=3.02 cx=647.2 cy=379.9 /><circle r=3.02 cx=643.3 cy=380.3 /><circle r=3.02 cx=656 cy=379.1 /><circle r=3.02 cx=652.3 cy=380.1 /><circle r=3.02 cx=666 cy=379.8 /><circle r=3.02 cx=661.6 cy=381.1 /><circle r=3.02 cx=671.7 cy=379.2 /><circle r=3.02 cx=661.8 cy=379.6 /><circle r=3.02 cx=657.3 cy=381.4 /><circle r=3.02 cx=667 cy=380.6 /><circle r=3.02 cx=667.9 cy=380.9 /><circle r=3.02 cx=663.6 cy=382.5 /><circle r=3.02 cx=674.6 cy=381.3 /><circle r=3.02 cx=670 cy=383.1 /><circle r=3.02 cx=664.2 cy=383.1 /></g><g class=c35><circle r=3.02 cx=623.4 cy=371.2 /><circle r=3.02 cx=611.9 cy=372.2 /><circle r=3.02 cx=614.7 cy=372.9 /><circle r=3.02 cx=638.1 cy=372.2 /><circle r=3.02 cx=620.5 cy=372.1 /><circle r=3.02 cx=617.4 cy=373.2 /><circle r=3.02 cx=635.1 cy=372.1 /><circle r=3.02 cx=632 cy=372.3 /><circle r=3.02 cx=608.5 cy=373.7 /><circle r=3.02 cx=644.9 cy=372.2 /><circle r=3.02 cx=611.4 cy=374.4 /><circle r=3.02 cx=626.1 cy=372.8 /><circle r=3.02 cx=641.7 cy=373.2 /><circle r=3.02 cx=614.3 cy=373.8 /><circle r=3.02 cx=617.5 cy=373.2 /><circle r=3.02 cx=620.5 cy=373.2 /><circle r=3.02 cx=623.4 cy=373.5 /><circle r=3.02 cx=611 cy=374.4 /><circle r=3.02 cx=614.3 cy=373.2 /><circle r=3.02 cx=617.4 cy=374 /><circle r=3.02 cx=635.9 cy=373.5 /><circle r=3.02 cx=607.8 cy=374.9 /><circle r=3.02 cx=632.6 cy=373.9 /><circle r=3.02 cx=620.3 cy=374.8 /><circle r=3.02 cx=623.4 cy=373.6 /><circle r=3.02 cx=611.1 cy=375 /><circle r=3.02 cx=626.4 cy=374.2 /><circle r=3.02 cx=629.5 cy=373.7 /><circle r=3.02 cx=613.9 cy=375.8 /><circle r=3.02 cx=620.3 cy=374.2 /><circle r=3.02 cx=617.1 cy=374.7 /><circle r=3.02 cx=633 cy=374.2 /><circle r=3.02 cx=639.4 cy=375 /><circle r=3.02 cx=636.5 cy=375.1 /><circle r=3.02 cx=607.2 cy=376.1 /><circle r=3.02 cx=623.4 cy=374.3 /><circle r=3.02 cx=613.6 cy=375.6 /><circle r=3.02 cx=620.1 cy=375.8 /><circle r=3.02 cx=616.9 cy=376.4 /><circle r=3.02 cx=636.6 cy=375.7 /><circle r=3.02 cx=623.2 cy=376.2 /><circle r=3.02 cx=610.1 cy=377.2 /><circle r=3.02 cx=626.7 cy=376.2 /><circle r=3.02 cx=630.2 cy=376.3 /><circle r=3.02 cx=640.4 cy=375.9 /><circle r=3.02 cx=613.6 cy=377.9 /><circle r=3.02 cx=616.9 cy=376.5 /><circle r=3.02 cx=620.3 cy=376.5 /><circle r=3.02 cx=636.9 cy=376.7 /><circle r=3.02 cx=623.4 cy=376.6 /><circle r=3.02 cx=648 cy=375.8 /><circle r=3.02 cx=626.7 cy=376.6 /><circle r=3.02 cx=644.3 cy=376.1 /><circle r=3.02 cx=630.3 cy=377.3 /><circle r=3.02 cx=641 cy=377.2 /><circle r=3.02 cx=613.5 cy=378.8 /><circle r=3.02 cx=633.7 cy=376.8 /><circle r=3.02 cx=616.5 cy=378.5 /><circle r=3.02 cx=637.4 cy=378.2 /><circle r=3.02 cx=620.1 cy=378.7 /><circle r=3.02 cx=623.5 cy=377.5 /><circle r=3.02 cx=648.9 cy=377 /><circle r=3.02 cx=609.7 cy=378.7 /><circle r=3.02 cx=627.4 cy=378.1 /><circle r=3.02 cx=630.5 cy=377.5 /><circle r=3.02 cx=613.1 cy=379.1 /><circle r=3.02 cx=620.3 cy=377.9 /><circle r=3.02 cx=637.7 cy=377.8 /><circle r=3.02 cx=634.1 cy=377.8 /><circle r=3.02 cx=616.6 cy=378.7 /><circle r=3.02 cx=641.7 cy=379.3 /><circle r=3.02 cx=623.5 cy=378.3 /><circle r=3.02 cx=627 cy=377.9 /><circle r=3.02 cx=630.8 cy=378.7 /><circle r=3.02 cx=642 cy=378.8 /><circle r=3.02 cx=616.4 cy=378.7 /><circle r=3.02 cx=638 cy=378.7 /><circle r=3.02 cx=634.5 cy=379.6 /><circle r=3.02 cx=623.5 cy=380.1 /><circle r=3.02 cx=627.5 cy=379.3 /><circle r=3.02 cx=646.1 cy=379 /><circle r=3.02 cx=631 cy=378.9 /><circle r=3.02 cx=642.3 cy=378.9 /><circle r=3.02 cx=620.2 cy=379.9 /><circle r=3.02 cx=634.7 cy=380.4 /><circle r=3.02 cx=623.8 cy=381.2 /><circle r=3.02 cx=608.4 cy=382.1 /><circle r=3.02 cx=647 cy=380.6 /><circle r=3.02 cx=627.6 cy=381.4 /><circle r=3.02 cx=631.2 cy=380.2 /><circle r=3.02 cx=642.8 cy=380.2 /><circle r=3.02 cx=612.4 cy=382.4 /><circle r=3.02 cx=639.1 cy=380.9 /><circle r=3.02 cx=635.5 cy=381.5 /><circle r=3.02 cx=623.7 cy=381.3 /><circle r=3.02 cx=651.6 cy=380.6 /><circle r=3.02 cx=619.9 cy=382.8 /><circle r=3.02 cx=627.3 cy=381.4 /><circle r=3.02 cx=631.4 cy=381.3 /><circle r=3.02 cx=639.7 cy=382 /><circle r=3.02 cx=620 cy=382.5 /><circle r=3.02 cx=635.5 cy=383 /><circle r=3.02 cx=623.6 cy=383.3 /><circle r=3.02 cx=648.3 cy=382.1 /><circle r=3.02 cx=627.5 cy=383 /><circle r=3.02 cx=631.8 cy=382.1 /><circle r=3.02 cx=644.1 cy=382.7 /><circle r=3.02 cx=639.7 cy=382.6 /><circle r=3.02 cx=615.7 cy=384.2 /><circle r=3.02 cx=636.2 cy=384 /><circle r=3.02 cx=653.1 cy=382.5 /><circle r=3.02 cx=648.8 cy=383.4 /><circle r=3.02 cx=644.8 cy=383.7 /><circle r=3.02 cx=632.1 cy=384.2 /><circle r=3.02 cx=640.5 cy=383.8 /><circle r=3.02 cx=659 cy=383.7 /><circle r=3.02 cx=636.2 cy=384.1 /><circle r=3.02 cx=619.8 cy=385.3 /><circle r=3.02 cx=654.1 cy=383.9 /><circle r=3.02 cx=623.6 cy=385.7 /><circle r=3.02 cx=649.6 cy=383.8 /><circle r=3.02 cx=628.2 cy=386 /><circle r=3.02 cx=632.1 cy=384.2 /><circle r=3.02 cx=645.4 cy=385.4 /><circle r=3.02 cx=640.9 cy=385 /><circle r=3.02 cx=660.1 cy=385.2 /><circle r=3.02 cx=636.8 cy=386.2 /></g><g class=c36><circle r=3.02 cx=602.4 cy=373.9 /><circle r=3.02 cx=598.5 cy=375.2 /><circle r=3.02 cx=605.2 cy=374.7 /><circle r=3.02 cx=601.6 cy=375.7 /><circle r=3.02 cx=598 cy=375.8 /><circle r=3.02 cx=604.5 cy=376.2 /><circle r=3.02 cx=608 cy=375.4 /><circle r=3.02 cx=600.8 cy=376.4 /><circle r=3.02 cx=597.1 cy=377.6 /><circle r=3.02 cx=604.4 cy=376.1 /><circle r=3.02 cx=600.4 cy=377 /><circle r=3.02 cx=596.5 cy=378.7 /><circle r=3.02 cx=603.8 cy=376.9 /><circle r=3.02 cx=610.6 cy=377.1 /><circle r=3.02 cx=599.7 cy=379.4 /><circle r=3.02 cx=603.2 cy=378.8 /><circle r=3.02 cx=606.8 cy=377.5 /><circle r=3.02 cx=602.8 cy=380 /><circle r=3.02 cx=606 cy=380.4 /><circle r=3.02 cx=609.8 cy=379.1 /><circle r=3.02 cx=602.1 cy=380.2 /><circle r=3.02 cx=606 cy=379.3 /><circle r=3.02 cx=601.3 cy=382.5 /><circle r=3.02 cx=605.1 cy=382.3 /><circle r=3.02 cx=608.9 cy=381.6 /><circle r=3.02 cx=612.6 cy=381.1 /><circle r=3.02 cx=601 cy=382.7 /><circle r=3.02 cx=620.1 cy=381 /><circle r=3.02 cx=604.6 cy=382.7 /><circle r=3.02 cx=608.7 cy=382.1 /><circle r=3.02 cx=612.4 cy=382 /><circle r=3.02 cx=616.3 cy=382 /><circle r=3.02 cx=604.5 cy=383.6 /><circle r=3.02 cx=615.9 cy=383.9 /><circle r=3.02 cx=608.1 cy=384.5 /><circle r=3.02 cx=611.8 cy=384.6 /><circle r=3.02 cx=616.1 cy=384.3 /><circle r=3.02 cx=603.3 cy=386.6 /><circle r=3.02 cx=611.7 cy=385.5 /><circle r=3.02 cx=619.9 cy=385.8 /><circle r=3.02 cx=623.8 cy=385.1 /><circle r=3.02 cx=627.8 cy=385.5 /><circle r=3.02 cx=607.1 cy=387.7 /><circle r=3.02 cx=611.2 cy=387.1 /><circle r=3.02 cx=615.5 cy=386.3 /><circle r=3.02 cx=606.6 cy=388.8 /><circle r=3.02 cx=611.1 cy=388.6 /></g><g class=c37><circle r=3.02 cx=586.6 cy=378.8 /><circle r=3.02 cx=590.8 cy=377.2 /><circle r=3.02 cx=594.4 cy=377.9 /><circle r=3.02 cx=589.6 cy=379.1 /><circle r=3.02 cx=593.3 cy=379.1 /><circle r=3.02 cx=589 cy=379.8 /><circle r=3.02 cx=593.2 cy=378.5 /><circle r=3.02 cx=587.6 cy=381.5 /><circle r=3.02 cx=591.8 cy=380.9 /><circle r=3.02 cx=595.5 cy=380.2 /><circle r=3.02 cx=590.9 cy=381.6 /><circle r=3.02 cx=598.7 cy=381.4 /><circle r=3.02 cx=594.9 cy=380.9 /><circle r=3.02 cx=598.2 cy=381.4 /><circle r=3.02 cx=593.7 cy=382.9 /><circle r=3.02 cx=589.6 cy=383 /><circle r=3.02 cx=597.6 cy=383.2 /><circle r=3.02 cx=592.8 cy=384.5 /><circle r=3.02 cx=596.9 cy=384 /><circle r=3.02 cx=596.3 cy=385.2 /><circle r=3.02 cx=600.4 cy=385.1 /><circle r=3.02 cx=595.3 cy=387.2 /><circle r=3.02 cx=603.5 cy=385.9 /><circle r=3.02 cx=599.6 cy=387.1 /><circle r=3.02 cx=594.5 cy=388.6 /><circle r=3.02 cx=598.8 cy=387.2 /><circle r=3.02 cx=607.7 cy=387.2 /><circle r=3.02 cx=602.8 cy=388 /><circle r=3.02 cx=598.3 cy=390 /><circle r=3.02 cx=602.4 cy=389.7 /></g><g class=c38><circle r=3.02 cx=582.4 cy=379.9 /><circle r=3.02 cx=576.2 cy=380.6 /><circle r=3.02 cx=580.8 cy=381.6 /><circle r=3.02 cx=574.7 cy=381.8 /><circle r=3.02 cx=585.1 cy=380.5 /><circle r=3.02 cx=569 cy=382.4 /><circle r=3.02 cx=580.2 cy=381.7 /><circle r=3.02 cx=584.2 cy=381.8 /><circle r=3.02 cx=572.6 cy=383.2 /><circle r=3.02 cx=583 cy=382.7 /><circle r=3.02 cx=582.2 cy=383.2 /><circle r=3.02 cx=586.4 cy=383.6 /><circle r=3.02 cx=581.2 cy=384.2 /><circle r=3.02 cx=585.3 cy=385.1 /><circle r=3.02 cx=590 cy=383.6 /><circle r=3.02 cx=579.5 cy=386.1 /><circle r=3.02 cx=584.3 cy=386.3 /><circle r=3.02 cx=579 cy=386.7 /><circle r=3.02 cx=583.3 cy=386.6 /><circle r=3.02 cx=587.9 cy=386.6 /><circle r=3.02 cx=592.1 cy=386.3 /><circle r=3.02 cx=587.4 cy=386.8 /><circle r=3.02 cx=591 cy=387.2 /><circle r=3.02 cx=586.3 cy=388.6 /><circle r=3.02 cx=590.3 cy=388.2 /><circle r=3.02 cx=580 cy=390.5 /><circle r=3.02 cx=584.9 cy=390.5 /><circle r=3.02 cx=589.5 cy=389.7 /><circle r=3.02 cx=583.9 cy=391.4 /><circle r=3.02 cx=593.3 cy=391.7 /><circle r=3.02 cx=588.3 cy=392.3 /><circle r=3.02 cx=582.6 cy=392.9 /><circle r=3.02 cx=592.8 cy=391.5 /><circle r=3.02 cx=586.6 cy=394 /><circle r=3.02 cx=597.4 cy=392.2 /></g><g class=c39><circle r=3.02 cx=558.1 cy=382.2 /><circle r=3.02 cx=570.1 cy=382 /><circle r=3.02 cx=562.3 cy=384.2 /><circle r=3.02 cx=560.6 cy=384.6 /><circle r=3.02 cx=573.5 cy=382.9 /><circle r=3.02 cx=553.7 cy=385.7 /><circle r=3.02 cx=559 cy=385.4 /><circle r=3.02 cx=567.3 cy=384.4 /><circle r=3.02 cx=578.2 cy=384.5 /><circle r=3.02 cx=565.4 cy=385.8 /><circle r=3.02 cx=557.3 cy=386.5 /><circle r=3.02 cx=577.6 cy=384.7 /><circle r=3.02 cx=570.2 cy=386 /><circle r=3.02 cx=563.5 cy=387.6 /><circle r=3.02 cx=576.2 cy=385.7 /><circle r=3.02 cx=569.2 cy=386.1 /><circle r=3.02 cx=575 cy=386.5 /><circle r=3.02 cx=567.7 cy=387.5 /><circle r=3.02 cx=573.1 cy=388.6 /><circle r=3.02 cx=566.4 cy=388.7 /><circle r=3.02 cx=571.2 cy=390.7 /><circle r=3.02 cx=564.3 cy=390.3 /><circle r=3.02 cx=577.1 cy=388.7 /><circle r=3.02 cx=581.9 cy=389.3 /><circle r=3.02 cx=570 cy=391.3 /><circle r=3.02 cx=575.6 cy=390.3 /><circle r=3.02 cx=581 cy=390.1 /><circle r=3.02 cx=568.9 cy=392.7 /><circle r=3.02 cx=574.5 cy=391.2 /><circle r=3.02 cx=572.8 cy=393.5 /><circle r=3.02 cx=578 cy=393.7 /><circle r=3.02 cx=577.6 cy=393.8 /><circle r=3.02 cx=570.3 cy=395.9 /><circle r=3.02 cx=575.1 cy=397.1 /><circle r=3.02 cx=581.2 cy=395.8 /></g><g class=c40><circle r=3.02 cx=544.6 cy=385 /><circle r=3.02 cx=536 cy=385.7 /><circle r=3.02 cx=543.1 cy=385.7 /><circle r=3.02 cx=554.9 cy=385.4 /><circle r=3.02 cx=551 cy=387.8 /><circle r=3.02 cx=549.2 cy=388.5 /><circle r=3.02 cx=387.6 cy=389 /><circle r=3.02 cx=555 cy=388.5 /><circle r=3.02 cx=547.1 cy=389.7 /><circle r=3.02 cx=561.7 cy=388.7 /><circle r=3.02 cx=553.4 cy=389.2 /><circle r=3.02 cx=544.7 cy=391.2 /><circle r=3.02 cx=560.3 cy=389.8 /><circle r=3.02 cx=551.1 cy=390.8 /><circle r=3.02 cx=557.9 cy=391.6 /><circle r=3.02 cx=549.2 cy=391.8 /><circle r=3.02 cx=556.6 cy=392.1 /><circle r=3.02 cx=546.7 cy=393.5 /><circle r=3.02 cx=562.2 cy=392.6 /><circle r=3.02 cx=554.9 cy=393.4 /><circle r=3.02 cx=560.1 cy=394.8 /><circle r=3.02 cx=552.7 cy=395.1 /><circle r=3.02 cx=567.2 cy=394 /><circle r=3.02 cx=558.9 cy=395.3 /><circle r=3.02 cx=550 cy=397.5 /><circle r=3.02 cx=565.8 cy=395.2 /><circle r=3.02 cx=556.8 cy=396.5 /><circle r=3.02 cx=571 cy=395.9 /><circle r=3.02 cx=563.7 cy=397.1 /><circle r=3.02 cx=554.8 cy=398.2 /></g><g class=c41><circle r=3.02 cx=531.9 cy=389.1 /><circle r=3.02 cx=539.5 cy=388.6 /><circle r=3.02 cx=528.6 cy=390.7 /><circle r=3.02 cx=536.9 cy=389.8 /><circle r=3.02 cx=534.3 cy=391.2 /><circle r=3.02 cx=542.1 cy=393.4 /><circle r=3.02 cx=539.4 cy=395.4 /><circle r=3.02 cx=537 cy=396 /><circle r=3.02 cx=543.9 cy=395.9 /><circle r=3.02 cx=541.5 cy=397.3 /><circle r=3.02 cx=539.9 cy=398.1 /><circle r=3.02 cx=547.6 cy=399.2 /></g><g class=c42><circle r=3.02 cx=387.8 cy=391.9 /><circle r=3.02 cx=524.2 cy=394.1 /><circle r=3.02 cx=522 cy=394.6 /><circle r=3.02 cx=530.9 cy=393.6 /><circle r=3.02 cx=528 cy=395 /><circle r=3.02 cx=525 cy=396.7 /><circle r=3.02 cx=521.1 cy=399.1 /><circle r=3.02 cx=532.8 cy=400.1 /><circle r=3.02 cx=529.8 cy=402.1 /><circle r=3.02 cx=535.5 cy=402.5 /></g><g class=c43><circle r=3.02 cx=515.3 cy=391.7 /><circle r=3.02 cx=511.1 cy=394.1 /><circle r=3.02 cx=507.3 cy=395.7 /><circle r=3.02 cx=388.2 cy=395.5 /><circle r=3.02 cx=516.8 cy=398.3 /><circle r=3.02 cx=516.4 cy=403 /><circle r=3.02 cx=525.9 cy=405.1 /></g><g class=c44><circle r=3.02 cx=497.8 cy=396.6 /><circle r=3.02 cx=501.9 cy=398.6 /><circle r=3.02 cx=512 cy=401.6 /><circle r=3.02 cx=507.6 cy=404.3 /><circle r=3.02 cx=510.8 cy=407.1 /></g><g class=c45><circle r=3.02 cx=447 cy=398.8 /><circle r=3.02 cx=469.2 cy=398.5 /><circle r=3.02 cx=465.9 cy=398 /><circle r=3.02 cx=387.9 cy=398.8 /><circle r=3.02 cx=493.7 cy=398.3 /><circle r=3.02 cx=459.9 cy=400.6 /><circle r=3.02 cx=489.6 cy=400 /><circle r=3.02 cx=497.7 cy=400.9 /><circle r=3.02 cx=492.4 cy=403.7 /><circle r=3.02 cx=503.1 cy=406.6 /><circle r=3.02 cx=497.9 cy=409.9 /><circle r=3.02 cx=507 cy=408.9 /></g><g class=c46><circle r=3.02 cx=388.3 cy=401.7 /><circle r=3.02 cx=438.7 cy=402.3 /><circle r=3.02 cx=454 cy=402.4 /><circle r=3.02 cx=483.5 cy=403 /><circle r=3.02 cx=446.5 cy=404.9 /><circle r=3.02 cx=478.9 cy=404.4 /><circle r=3.02 cx=474.9 cy=405.8 /><circle r=3.02 cx=487.8 cy=405.4 /><circle r=3.02 cx=470.7 cy=407 /><circle r=3.02 cx=482.5 cy=408.4 /><circle r=3.02 cx=465.9 cy=408.7 /><circle r=3.02 cx=478.8 cy=409.5 /><circle r=3.02 cx=461.9 cy=408.9 /><circle r=3.02 cx=474.8 cy=410.7 /><circle r=3.02 cx=470.4 cy=411.9 /><circle r=3.02 cx=494.1 cy=411.4 /><circle r=3.02 cx=382.8 cy=413.3 /><circle r=3.02 cx=465.9 cy=413.1 /></g><g class=c47><circle r=3.02 cx=429.3 cy=405.6 /><circle r=3.02 cx=437.1 cy=408.7 /><circle r=3.02 cx=453.7 cy=412.9 /><circle r=3.02 cx=446.8 cy=415.5 /></g><g class=c48><circle r=3.02 cx=426.4 cy=414.1 /><circle r=3.02 cx=382.9 cy=416.3 /></g><g class=c49><circle r=3.02 cx=415.2 cy=411.8 /><circle r=3.02 cx=383.5 cy=419.7 /></g><g class=c50><circle r=3.02 cx=402.9 cy=417.1 /><circle r=3.02 cx=415.2 cy=418.6 /></g><g class=c51><circle r=3.02 cx=392.1 cy=420.7 /><circle r=3.02 cx=383.6 cy=422.4 /><circle r=3.02 cx=402.1 cy=425 /></g><g class=c52><circle r=3.02 cx=391 cy=428.3 /></g></g><g class=a5><g class=c0><circle r=3.02 cx=622 cy=272 /></g><g class=c10><circle r=3.02 cx=588.3 cy=318 /></g><g class=c12><circle r=3.02 cx=705.4 cy=330.8 /></g><g class=c13><circle r=3.02 cx=704.9 cy=331.6 /><circle r=3.02 cx=707.1 cy=337 /></g><g class=c14><circle r=3.02 cx=705.8 cy=334.8 /><circle r=3.02 cx=706 cy=333.8 /><circle r=3.02 cx=707.7 cy=338.9 /><circle r=3.02 cx=710.1 cy=343.8 /></g><g class=c15><circle r=3.02 cx=705 cy=335.7 /><circle r=3.02 cx=707.4 cy=340.7 /><circle r=3.02 cx=708 cy=340.2 /><circle r=3.02 cx=709.4 cy=344.4 /></g><g class=c16><circle r=3.02 cx=704.8 cy=338 /><circle r=3.02 cx=705.6 cy=337.3 /><circle r=3.02 cx=708 cy=343.1 /><circle r=3.02 cx=709.5 cy=347.1 /><circle r=3.02 cx=710 cy=346.3 /></g><g class=c17><circle r=3.02 cx=707.4 cy=343.4 /><circle r=3.02 cx=709.8 cy=348.9 /></g><g class=c18><circle r=3.02 cx=707.4 cy=345 /><circle r=3.02 cx=710 cy=350.8 /></g><g class=c19><circle r=3.02 cx=707.6 cy=348.5 /><circle r=3.02 cx=708.5 cy=347.8 /><circle r=3.02 cx=709.8 cy=352.1 /><circle r=3.02 cx=710.6 cy=358.1 /></g><g class=c20><circle r=3.02 cx=708.2 cy=350.3 /><circle r=3.02 cx=709.3 cy=354.4 /><circle r=3.02 cx=710.1 cy=353.6 /><circle r=3.02 cx=711.6 cy=360.6 /></g><g class=c21><circle r=3.02 cx=707.4 cy=352.7 /><circle r=3.02 cx=708.1 cy=351.8 /><circle r=3.02 cx=709.8 cy=356.7 /><circle r=3.02 cx=711.8 cy=362.4 /></g><g class=c22><circle r=3.02 cx=708.4 cy=354.9 /><circle r=3.02 cx=709.7 cy=358 /><circle r=3.02 cx=711.5 cy=364.1 /></g><g class=c23><circle r=3.02 cx=707.4 cy=355.3 /><circle r=3.02 cx=708.9 cy=360.6 /><circle r=3.02 cx=709.2 cy=359.3 /><circle r=3.02 cx=711.6 cy=365.8 /></g><g class=c24><circle r=3.02 cx=708 cy=357.8 /><circle r=3.02 cx=709.8 cy=363 /><circle r=3.02 cx=712 cy=367.6 /></g><g class=c25><circle r=3.02 cx=710 cy=364.9 /><circle r=3.02 cx=711.4 cy=368.8 /></g><g class=c26><circle r=3.02 cx=709.2 cy=365.6 /><circle r=3.02 cx=711.3 cy=371.9 /><circle r=3.02 cx=711.5 cy=370.8 /></g><g class=c27><circle r=3.02 cx=709.6 cy=367.7 /><circle r=3.02 cx=711.3 cy=373.8 /><circle r=3.02 cx=712.7 cy=378.8 /></g><g class=c28><circle r=3.02 cx=709.4 cy=369 /><circle r=3.02 cx=711.5 cy=376 /><circle r=3.02 cx=712.4 cy=379.7 /></g><g class=c29><circle r=3.02 cx=709.2 cy=372.2 /><circle r=3.02 cx=709.4 cy=370.8 /><circle r=3.02 cx=711.6 cy=377.7 /><circle r=3.02 cx=713.2 cy=383.2 /></g><g class=c30><circle r=3.02 cx=700 cy=374.3 /><circle r=3.02 cx=701.8 cy=374.6 /><circle r=3.02 cx=704.2 cy=375.9 /><circle r=3.02 cx=706.2 cy=377.2 /><circle r=3.02 cx=708.3 cy=377.7 /><circle r=3.02 cx=711.1 cy=379 /><circle r=3.02 cx=712.1 cy=383.4 /></g><g class=c31><circle r=3.02 cx=693.3 cy=375.6 /><circle r=3.02 cx=695.4 cy=376.7 /><circle r=3.02 cx=697.8 cy=377.9 /><circle r=3.02 cx=699.3 cy=378.1 /><circle r=3.02 cx=702.5 cy=380.8 /><circle r=3.02 cx=704.7 cy=381.5 /><circle r=3.02 cx=707.2 cy=383.3 /><circle r=3.02 cx=709.2 cy=384 /><circle r=3.02 cx=712.4 cy=385.9 /></g><g class=c32><circle r=3.02 cx=680.9 cy=379.1 /><circle r=3.02 cx=687.8 cy=379.3 /><circle r=3.02 cx=689.8 cy=380.8 /><circle r=3.02 cx=684.1 cy=381.1 /><circle r=3.02 cx=691.2 cy=381.1 /><circle r=3.02 cx=692.8 cy=381.5 /><circle r=3.02 cx=694.4 cy=382.7 /><circle r=3.02 cx=697 cy=384.9 /><circle r=3.02 cx=692 cy=386.8 /><circle r=3.02 cx=699.3 cy=386 /><circle r=3.02 cx=693.7 cy=387.6 /><circle r=3.02 cx=700.6 cy=386 /><circle r=3.02 cx=704.1 cy=388.9 /><circle r=3.02 cx=698 cy=390.8 /><circle r=3.02 cx=706 cy=389.8 /></g><g class=c33><circle r=3.02 cx=675.3 cy=381.1 /><circle r=3.02 cx=676.8 cy=382.2 /><circle r=3.02 cx=682.8 cy=381.3 /><circle r=3.02 cx=680.1 cy=384.8 /><circle r=3.02 cx=686.9 cy=383.7 /><circle r=3.02 cx=681.4 cy=385.6 /><circle r=3.02 cx=688.7 cy=385 /><circle r=3.02 cx=683 cy=386.7 /><circle r=3.02 cx=690.4 cy=386.1 /><circle r=3.02 cx=685 cy=388.4 /><circle r=3.02 cx=686.8 cy=390.6 /><circle r=3.02 cx=696.4 cy=390.3 /><circle r=3.02 cx=690.5 cy=392.2 /></g><g class=c34><circle r=3.02 cx=670.5 cy=382.7 /><circle r=3.02 cx=665.2 cy=383.6 /><circle r=3.02 cx=671.9 cy=384.6 /><circle r=3.02 cx=666.8 cy=386.1 /><circle r=3.02 cx=678.8 cy=384.4 /><circle r=3.02 cx=672.7 cy=385.1 /><circle r=3.02 cx=668.2 cy=387 /><circle r=3.02 cx=675.4 cy=388.1 /><circle r=3.02 cx=669.6 cy=388.5 /><circle r=3.02 cx=676.4 cy=388 /><circle r=3.02 cx=677.8 cy=389.7 /><circle r=3.02 cx=679.3 cy=391.3 /><circle r=3.02 cx=689.4 cy=392.5 /><circle r=3.02 cx=683.3 cy=394.3 /><circle r=3.02 cx=685.1 cy=396.3 /><circle r=3.02 cx=693.1 cy=395.4 /></g><g class=c35><circle r=3.02 cx=654.9 cy=385.6 /><circle r=3.02 cx=623.8 cy=386.9 /><circle r=3.02 cx=650.2 cy=385.3 /><circle r=3.02 cx=628.3 cy=386.2 /><circle r=3.02 cx=632.5 cy=386.3 /><circle r=3.02 cx=646.2 cy=386.6 /><circle r=3.02 cx=641.6 cy=386.8 /><circle r=3.02 cx=656 cy=386.1 /><circle r=3.02 cx=637.5 cy=387.7 /><circle r=3.02 cx=623.9 cy=387.5 /><circle r=3.02 cx=660.9 cy=387.5 /><circle r=3.02 cx=650.9 cy=386.1 /><circle r=3.02 cx=628.6 cy=387.3 /><circle r=3.02 cx=632.7 cy=386.9 /><circle r=3.02 cx=646.8 cy=388.4 /><circle r=3.02 cx=642.1 cy=387.9 /><circle r=3.02 cx=637.5 cy=388 /><circle r=3.02 cx=661.8 cy=388 /><circle r=3.02 cx=624.3 cy=388.7 /><circle r=3.02 cx=657.1 cy=388.3 /><circle r=3.02 cx=652 cy=388.4 /><circle r=3.02 cx=633.1 cy=388.2 /><circle r=3.02 cx=647.3 cy=388.1 /><circle r=3.02 cx=663 cy=388.1 /><circle r=3.02 cx=642.8 cy=389.2 /><circle r=3.02 cx=637.9 cy=389.9 /><circle r=3.02 cx=658 cy=389.5 /><circle r=3.02 cx=628.8 cy=390.4 /><circle r=3.02 cx=653 cy=390.2 /><circle r=3.02 cx=648.3 cy=389.9 /><circle r=3.02 cx=663.8 cy=389 /><circle r=3.02 cx=638.5 cy=389.9 /><circle r=3.02 cx=658.7 cy=390.5 /><circle r=3.02 cx=654 cy=391.8 /><circle r=3.02 cx=664.7 cy=389.9 /><circle r=3.02 cx=648.9 cy=392.2 /><circle r=3.02 cx=670.8 cy=390 /><circle r=3.02 cx=638.7 cy=392.1 /><circle r=3.02 cx=659.8 cy=391.2 /><circle r=3.02 cx=654.8 cy=392.6 /><circle r=3.02 cx=649.4 cy=392.6 /><circle r=3.02 cx=666.3 cy=391.8 /><circle r=3.02 cx=672.5 cy=391.8 /><circle r=3.02 cx=661.5 cy=394.2 /><circle r=3.02 cx=655.5 cy=393.7 /><circle r=3.02 cx=667.8 cy=394.1 /><circle r=3.02 cx=645.1 cy=395.2 /><circle r=3.02 cx=674.4 cy=394.5 /><circle r=3.02 cx=662.1 cy=395.4 /><circle r=3.02 cx=669.4 cy=395.5 /><circle r=3.02 cx=682.1 cy=394 /><circle r=3.02 cx=674.9 cy=394.6 /><circle r=3.02 cx=657.9 cy=397.3 /><circle r=3.02 cx=677.3 cy=397 /><circle r=3.02 cx=664.6 cy=398.2 /><circle r=3.02 cx=678.3 cy=397.3 /></g><g class=c36><circle r=3.02 cx=619.7 cy=387.8 /><circle r=3.02 cx=615.6 cy=389.1 /><circle r=3.02 cx=610.5 cy=390.2 /><circle r=3.02 cx=619.5 cy=388.9 /><circle r=3.02 cx=615.2 cy=389.6 /><circle r=3.02 cx=610.4 cy=391.1 /><circle r=3.02 cx=614.9 cy=390.4 /><circle r=3.02 cx=619.7 cy=390.3 /><circle r=3.02 cx=628.7 cy=390.3 /><circle r=3.02 cx=614.5 cy=392.7 /><circle r=3.02 cx=624.2 cy=391.8 /><circle r=3.02 cx=619.4 cy=392.6 /><circle r=3.02 cx=633.5 cy=391.3 /><circle r=3.02 cx=643.4 cy=391.8 /><circle r=3.02 cx=624.3 cy=392.2 /><circle r=3.02 cx=619.5 cy=393.3 /><circle r=3.02 cx=614.6 cy=393.8 /><circle r=3.02 cx=629 cy=393.1 /><circle r=3.02 cx=634.2 cy=392.7 /><circle r=3.02 cx=644.3 cy=392.8 /><circle r=3.02 cx=623.9 cy=393.6 /><circle r=3.02 cx=619.2 cy=395.1 /><circle r=3.02 cx=614.4 cy=395.6 /><circle r=3.02 cx=628.9 cy=393.4 /><circle r=3.02 cx=634.4 cy=394.7 /><circle r=3.02 cx=644.7 cy=394.3 /><circle r=3.02 cx=639.5 cy=395 /><circle r=3.02 cx=619.2 cy=397 /><circle r=3.02 cx=624.2 cy=396.5 /><circle r=3.02 cx=629.4 cy=396.3 /><circle r=3.02 cx=634.9 cy=395.8 /><circle r=3.02 cx=650.9 cy=396.3 /><circle r=3.02 cx=640 cy=396 /><circle r=3.02 cx=624.4 cy=398.1 /><circle r=3.02 cx=657.1 cy=397.6 /><circle r=3.02 cx=635 cy=397.1 /><circle r=3.02 cx=629.8 cy=399 /><circle r=3.02 cx=646.1 cy=397.4 /><circle r=3.02 cx=651.6 cy=398.1 /><circle r=3.02 cx=640.5 cy=398.6 /><circle r=3.02 cx=663.6 cy=397.8 /><circle r=3.02 cx=624.4 cy=399.7 /><circle r=3.02 cx=630.1 cy=399.3 /><circle r=3.02 cx=635.8 cy=399.6 /><circle r=3.02 cx=646.8 cy=399.6 /><circle r=3.02 cx=652.5 cy=400.2 /><circle r=3.02 cx=671.5 cy=399.4 /><circle r=3.02 cx=641.6 cy=400.9 /><circle r=3.02 cx=659.3 cy=399.9 /><circle r=3.02 cx=629.9 cy=401.6 /><circle r=3.02 cx=635.6 cy=401.1 /><circle r=3.02 cx=653.5 cy=400.9 /><circle r=3.02 cx=672.4 cy=399.8 /><circle r=3.02 cx=647.8 cy=401.4 /><circle r=3.02 cx=641.6 cy=402.1 /><circle r=3.02 cx=666.2 cy=401.5 /></g><g class=c37><circle r=3.02 cx=601.2 cy=391.4 /><circle r=3.02 cx=606.1 cy=391.1 /><circle r=3.02 cx=605.8 cy=391.5 /><circle r=3.02 cx=600.9 cy=394 /><circle r=3.02 cx=604.8 cy=395.1 /><circle r=3.02 cx=610 cy=394.1 /><circle r=3.02 cx=605 cy=394.9 /><circle r=3.02 cx=609.5 cy=395.9 /><circle r=3.02 cx=609.4 cy=397.8 /><circle r=3.02 cx=614.1 cy=397.9 /><circle r=3.02 cx=619.2 cy=400 /><circle r=3.02 cx=613.8 cy=400.2 /><circle r=3.02 cx=619 cy=400.8 /><circle r=3.02 cx=613.5 cy=401.4 /><circle r=3.02 cx=624.4 cy=401.8 /><circle r=3.02 cx=619.2 cy=403.2 /></g><g class=c38><circle r=3.02 cx=592 cy=393.8 /><circle r=3.02 cx=596.8 cy=393.3 /><circle r=3.02 cx=586.5 cy=394.9 /><circle r=3.02 cx=595.6 cy=395 /><circle r=3.02 cx=590.1 cy=397.1 /><circle r=3.02 cx=594.7 cy=396.5 /><circle r=3.02 cx=584.3 cy=397.8 /><circle r=3.02 cx=600.3 cy=395.9 /><circle r=3.02 cx=599.5 cy=397.2 /><circle r=3.02 cx=599 cy=398.5 /><circle r=3.02 cx=603.6 cy=398.2 /><circle r=3.02 cx=592.8 cy=401.6 /><circle r=3.02 cx=598.1 cy=402 /><circle r=3.02 cx=603.7 cy=400.4 /><circle r=3.02 cx=608.7 cy=400.7 /><circle r=3.02 cx=602.9 cy=401.5 /><circle r=3.02 cx=608.3 cy=401.9 /><circle r=3.02 cx=597 cy=404.8 /><circle r=3.02 cx=602.5 cy=404.4 /><circle r=3.02 cx=608 cy=403.6 /><circle r=3.02 cx=596 cy=406.4 /><circle r=3.02 cx=607.7 cy=405.7 /><circle r=3.02 cx=613.5 cy=405.1 /></g><g class=c39><circle r=3.02 cx=563.1 cy=397.1 /><circle r=3.02 cx=568.6 cy=398 /><circle r=3.02 cx=574.4 cy=397.8 /><circle r=3.02 cx=580 cy=397.7 /><circle r=3.02 cx=590.5 cy=396.8 /><circle r=3.02 cx=579.1 cy=398.1 /><circle r=3.02 cx=572.9 cy=399.3 /><circle r=3.02 cx=584.6 cy=398.7 /><circle r=3.02 cx=571.6 cy=400.3 /><circle r=3.02 cx=577.7 cy=399.7 /><circle r=3.02 cx=588.7 cy=400.5 /><circle r=3.02 cx=583 cy=400.2 /><circle r=3.02 cx=593.8 cy=399.4 /><circle r=3.02 cx=576.2 cy=402 /><circle r=3.02 cx=587.7 cy=400.2 /><circle r=3.02 cx=575.5 cy=402 /><circle r=3.02 cx=581.6 cy=402.5 /><circle r=3.02 cx=592.8 cy=401.8 /><circle r=3.02 cx=586.7 cy=402.4 /><circle r=3.02 cx=585.5 cy=405.7 /><circle r=3.02 cx=596.9 cy=403.7 /><circle r=3.02 cx=579.2 cy=406.1 /><circle r=3.02 cx=591 cy=405.9 /><circle r=3.02 cx=584.3 cy=406.9 /><circle r=3.02 cx=590.8 cy=405.8 /><circle r=3.02 cx=601.5 cy=407.3 /></g><g class=c40><circle r=3.02 cx=553.5 cy=399.1 /><circle r=3.02 cx=560.7 cy=399.1 /><circle r=3.02 cx=566.2 cy=400.2 /><circle r=3.02 cx=559.1 cy=401.1 /><circle r=3.02 cx=564.8 cy=403.1 /><circle r=3.02 cx=556.7 cy=403 /><circle r=3.02 cx=563.3 cy=402.4 /><circle r=3.02 cx=569.8 cy=402.7 /><circle r=3.02 cx=554.6 cy=405.3 /><circle r=3.02 cx=561.8 cy=404.7 /><circle r=3.02 cx=568.5 cy=404.4 /><circle r=3.02 cx=559.8 cy=406.4 /><circle r=3.02 cx=579.9 cy=405.3 /><circle r=3.02 cx=566.7 cy=406.4 /><circle r=3.02 cx=573.3 cy=406.3 /><circle r=3.02 cx=565.3 cy=407.6 /><circle r=3.02 cx=571.6 cy=408.2 /><circle r=3.02 cx=577.1 cy=409.9 /><circle r=3.02 cx=570.2 cy=410.5 /><circle r=3.02 cx=583.6 cy=408.9 /><circle r=3.02 cx=589.1 cy=409.9 /><circle r=3.02 cx=575.9 cy=411.2 /><circle r=3.02 cx=568.5 cy=412.3 /><circle r=3.02 cx=581.6 cy=412.6 /></g><g class=c41><circle r=3.02 cx=545 cy=401.4 /><circle r=3.02 cx=542.9 cy=403.4 /><circle r=3.02 cx=550.4 cy=401.6 /><circle r=3.02 cx=382.6 cy=402.9 /><circle r=3.02 cx=539.8 cy=405 /><circle r=3.02 cx=548.4 cy=403.3 /><circle r=3.02 cx=545.5 cy=407.1 /><circle r=3.02 cx=543 cy=408.2 /><circle r=3.02 cx=552.1 cy=407.7 /><circle r=3.02 cx=550.4 cy=409.7 /><circle r=3.02 cx=557.1 cy=409.8 /><circle r=3.02 cx=548.1 cy=411.3 /><circle r=3.02 cx=555.7 cy=411.3 /><circle r=3.02 cx=563.1 cy=411 /><circle r=3.02 cx=561.1 cy=412.6 /><circle r=3.02 cx=553.5 cy=413.5 /></g><g class=c42><circle r=3.02 cx=532.2 cy=405.3 /><circle r=3.02 cx=537.7 cy=407.2 /><circle r=3.02 cx=539.8 cy=411.3 /><circle r=3.02 cx=381.6 cy=411.2 /><circle r=3.02 cx=536.3 cy=414.8 /><circle r=3.02 cx=544.3 cy=415.8 /></g><g class=c43><circle r=3.02 cx=382.7 cy=405.8 /><circle r=3.02 cx=522.9 cy=407.2 /><circle r=3.02 cx=528.8 cy=407.6 /><circle r=3.02 cx=524.9 cy=410.9 /><circle r=3.02 cx=533.2 cy=411.4 /><circle r=3.02 cx=381.1 cy=414.5 /><circle r=3.02 cx=530.1 cy=414.3 /><circle r=3.02 cx=532.5 cy=418.6 /></g><g class=c44><circle r=3.02 cx=382.8 cy=409.6 /><circle r=3.02 cx=517.7 cy=411.4 /><circle r=3.02 cx=513.2 cy=414.1 /><circle r=3.02 cx=521 cy=414.2 /><circle r=3.02 cx=516.9 cy=417.2 /><circle r=3.02 cx=525.7 cy=418.4 /><circle r=3.02 cx=522 cy=421.3 /></g><g class=c45><circle r=3.02 cx=502.2 cy=412.7 /><circle r=3.02 cx=498.6 cy=414.5 /><circle r=3.02 cx=509.3 cy=417.5 /><circle r=3.02 cx=381.2 cy=418.4 /><circle r=3.02 cx=505.6 cy=419.8 /><circle r=3.02 cx=511.6 cy=422 /><circle r=3.02 cx=504.3 cy=426 /></g><g class=c46><circle r=3.02 cx=489.8 cy=413.9 /><circle r=3.02 cx=459.5 cy=415.5 /><circle r=3.02 cx=484.7 cy=416.4 /><circle r=3.02 cx=480.5 cy=418 /><circle r=3.02 cx=493.2 cy=417.4 /><circle r=3.02 cx=476.5 cy=419.4 /><circle r=3.02 cx=471.6 cy=421.1 /><circle r=3.02 cx=484.9 cy=421.1 /><circle r=3.02 cx=480.4 cy=423.2 /><circle r=3.02 cx=477.1 cy=424.5 /><circle r=3.02 cx=495.5 cy=426.4 /><circle r=3.02 cx=471.7 cy=426.6 /><circle r=3.02 cx=506.2 cy=426.4 /></g><g class=c47><circle r=3.02 cx=453.5 cy=418.2 /><circle r=3.02 cx=381.9 cy=420.8 /><circle r=3.02 cx=487.7 cy=420.6 /><circle r=3.02 cx=466.3 cy=424.5 /><circle r=3.02 cx=497.6 cy=426 /><circle r=3.02 cx=460.5 cy=426.4 /></g><g class=c48><circle r=3.02 cx=436.9 cy=420.6 /><circle r=3.02 cx=444.5 cy=423.6 /><circle r=3.02 cx=453 cy=431 /></g><g class=c49><circle r=3.02 cx=381.4 cy=424.8 /></g><g class=c50><circle r=3.02 cx=381.8 cy=427.6 /><circle r=3.02 cx=424.4 cy=427.3 /><circle r=3.02 cx=431 cy=431 /><circle r=3.02 cx=421.8 cy=434.9 /></g><g class=c51><circle r=3.02 cx=412.2 cy=433.9 /><circle r=3.02 cx=410.9 cy=440.5 /></g><g class=c52><circle r=3.02 cx=382.9 cy=430.5 /><circle r=3.02 cx=403 cy=437.4 /></g><g class=c53><circle r=3.02 cx=392 cy=442.1 /><circle r=3.02 cx=383.5 cy=444.3 /></g></g><g class=a6><g class=c10><circle r=3.02 cx=529.5 cy=344.7 /><circle r=3.02 cx=539.7 cy=344.9 /><circle r=3.02 cx=549.9 cy=342.6 /><circle r=3.02 cx=560.1 cy=342.9 /></g><g class=c11><circle r=3.02 cx=532.9 cy=345.6 /><circle r=3.02 cx=536.3 cy=344 /><circle r=3.02 cx=543.1 cy=343.3 /><circle r=3.02 cx=546.5 cy=344.2 /><circle r=3.02 cx=553.3 cy=343.6 /><circle r=3.02 cx=556.7 cy=341.9 /><circle r=3.02 cx=563.5 cy=341.2 /><circle r=3.02 cx=531 cy=349.3 /><circle r=3.02 cx=534.6 cy=349.9 /><circle r=3.02 cx=538.2 cy=349.3 /><circle r=3.02 cx=541.8 cy=349.9 /><circle r=3.02 cx=545.4 cy=349.3 /><circle r=3.02 cx=549 cy=349.9 /></g><g class=c16><circle r=3.02 cx=712.5 cy=353.6 /><circle r=3.02 cx=711.9 cy=351.4 /><circle r=3.02 cx=712.3 cy=357.8 /></g><g class=c17><circle r=3.02 cx=712.2 cy=355.3 /></g><g class=c18><circle r=3.02 cx=711.9 cy=356.1 /><circle r=3.02 cx=712.8 cy=361.4 /><circle r=3.02 cx=713.5 cy=360.4 /><circle r=3.02 cx=713.3 cy=367.3 /></g><g class=c19><circle r=3.02 cx=712.3 cy=358.1 /><circle r=3.02 cx=712.8 cy=363.1 /><circle r=3.02 cx=713.4 cy=369.3 /></g><g class=c20><circle r=3.02 cx=712.8 cy=364.8 /><circle r=3.02 cx=713.3 cy=370.9 /></g><g class=c21><circle r=3.02 cx=712.4 cy=365.9 /><circle r=3.02 cx=713.2 cy=372.2 /></g><g class=c22><circle r=3.02 cx=713.1 cy=368.1 /><circle r=3.02 cx=713.5 cy=376.1 /><circle r=3.02 cx=713.3 cy=374.4 /></g><g class=c23><circle r=3.02 cx=712.8 cy=371.6 /><circle r=3.02 cx=712.6 cy=369.7 /><circle r=3.02 cx=712.7 cy=377.1 /></g><g class=c24><circle r=3.02 cx=712.4 cy=372.4 /><circle r=3.02 cx=712.6 cy=378.6 /></g><g class=c25><circle r=3.02 cx=713.4 cy=375.9 /><circle r=3.02 cx=713.6 cy=382.4 /><circle r=3.02 cx=712.3 cy=386.5 /><circle r=3.02 cx=712.4 cy=385.2 /></g><g class=c26><circle r=3.02 cx=712.8 cy=376.7 /><circle r=3.02 cx=713.6 cy=383.8 /></g><g class=c27><circle r=3.02 cx=712.9 cy=385.1 /><circle r=3.02 cx=712.6 cy=389.3 /></g><g class=c28><circle r=3.02 cx=712.9 cy=387.7 /><circle r=3.02 cx=712.4 cy=391.3 /></g><g class=c29><circle r=3.02 cx=713 cy=388.8 /><circle r=3.02 cx=712.6 cy=394 /></g><g class=c30><circle r=3.02 cx=713.1 cy=390.4 /><circle r=3.02 cx=712.9 cy=396.3 /></g><g class=c31><circle r=3.02 cx=708 cy=390.7 /><circle r=3.02 cx=713.1 cy=393 /><circle r=3.02 cx=712 cy=396.9 /></g><g class=c32><circle r=3.02 cx=703.3 cy=394.3 /><circle r=3.02 cx=712.3 cy=394 /><circle r=3.02 cx=712.7 cy=399.6 /></g><g class=c33><circle r=3.02 cx=700.9 cy=393 /><circle r=3.02 cx=697.4 cy=397.9 /><circle r=3.02 cx=706.8 cy=397.4 /><circle r=3.02 cx=708.7 cy=398.4 /><circle r=3.02 cx=711.7 cy=400.1 /><circle r=3.02 cx=710.5 cy=407.9 /></g><g class=c34><circle r=3.02 cx=686.8 cy=397.7 /><circle r=3.02 cx=695.4 cy=397.2 /><circle r=3.02 cx=689.3 cy=400.1 /><circle r=3.02 cx=700 cy=400.9 /><circle r=3.02 cx=702.7 cy=402.9 /><circle r=3.02 cx=695.7 cy=405.4 /><circle r=3.02 cx=705 cy=404.7 /><circle r=3.02 cx=708.2 cy=407 /></g><g class=c35><circle r=3.02 cx=680.3 cy=399.3 /><circle r=3.02 cx=682.7 cy=403.3 /><circle r=3.02 cx=691.3 cy=401.9 /><circle r=3.02 cx=684.3 cy=404.3 /><circle r=3.02 cx=694.3 cy=405.4 /><circle r=3.02 cx=686.7 cy=407 /><circle r=3.02 cx=688.5 cy=407.8 /><circle r=3.02 cx=697.9 cy=408.2 /><circle r=3.02 cx=700.9 cy=411.1 /></g><g class=c36><circle r=3.02 cx=630.4 cy=403.4 /><circle r=3.02 cx=660.3 cy=402.4 /><circle r=3.02 cx=673.8 cy=401.6 /><circle r=3.02 cx=654.3 cy=403.6 /><circle r=3.02 cx=642.4 cy=404.1 /><circle r=3.02 cx=648.6 cy=404.3 /><circle r=3.02 cx=667.8 cy=403.5 /><circle r=3.02 cx=661.8 cy=404.5 /><circle r=3.02 cx=636.4 cy=405.5 /><circle r=3.02 cx=655.2 cy=405.8 /><circle r=3.02 cx=649.2 cy=405.5 /><circle r=3.02 cx=668.9 cy=405.3 /><circle r=3.02 cx=676.1 cy=406.1 /><circle r=3.02 cx=650 cy=407.6 /><circle r=3.02 cx=677.2 cy=406.2 /><circle r=3.02 cx=671.3 cy=408.1 /><circle r=3.02 cx=679.7 cy=409.8 /><circle r=3.02 cx=691.1 cy=411.9 /><circle r=3.02 cx=692.9 cy=413.6 /></g><g class=c37><circle r=3.02 cx=618.9 cy=405 /><circle r=3.02 cx=624.8 cy=404.9 /><circle r=3.02 cx=636.6 cy=405.6 /><circle r=3.02 cx=619 cy=406.1 /><circle r=3.02 cx=624.7 cy=405.8 /><circle r=3.02 cx=630.3 cy=405.6 /><circle r=3.02 cx=643.2 cy=406.4 /><circle r=3.02 cx=624.7 cy=408.8 /><circle r=3.02 cx=631.2 cy=408 /><circle r=3.02 cx=662.7 cy=407.6 /><circle r=3.02 cx=636.9 cy=408.2 /><circle r=3.02 cx=656.4 cy=407.8 /><circle r=3.02 cx=644.1 cy=409.7 /><circle r=3.02 cx=664.4 cy=409.7 /><circle r=3.02 cx=638 cy=411.1 /><circle r=3.02 cx=658 cy=410.7 /><circle r=3.02 cx=645 cy=411.3 /><circle r=3.02 cx=651.5 cy=411.8 /><circle r=3.02 cx=672.7 cy=411.3 /><circle r=3.02 cx=666 cy=412 /><circle r=3.02 cx=658.8 cy=412.2 /><circle r=3.02 cx=652.4 cy=413 /><circle r=3.02 cx=681.7 cy=412.2 /><circle r=3.02 cx=645.4 cy=414.2 /><circle r=3.02 cx=674.3 cy=412.7 /><circle r=3.02 cx=667.7 cy=415.4 /><circle r=3.02 cx=660.4 cy=415.3 /><circle r=3.02 cx=683.4 cy=414.3 /><circle r=3.02 cx=676.6 cy=415.9 /><circle r=3.02 cx=686.1 cy=416.4 /></g><g class=c38><circle r=3.02 cx=607 cy=407.6 /><circle r=3.02 cx=612.8 cy=406.9 /><circle r=3.02 cx=612.6 cy=410.7 /><circle r=3.02 cx=618.8 cy=410.8 /><circle r=3.02 cx=624.7 cy=412.2 /><circle r=3.02 cx=618.4 cy=413.9 /><circle r=3.02 cx=631.6 cy=412 /><circle r=3.02 cx=624.9 cy=414.4 /><circle r=3.02 cx=631.5 cy=414.1 /><circle r=3.02 cx=638.3 cy=415.4 /><circle r=3.02 cx=625.3 cy=417.8 /><circle r=3.02 cx=631.7 cy=417 /><circle r=3.02 cx=639 cy=417.9 /><circle r=3.02 cx=646.1 cy=416.8 /><circle r=3.02 cx=653.5 cy=417.8 /><circle r=3.02 cx=669.3 cy=418.4 /><circle r=3.02 cx=632.6 cy=420.4 /><circle r=3.02 cx=639.9 cy=420 /><circle r=3.02 cx=661.9 cy=419.3 /><circle r=3.02 cx=654.5 cy=419.8 /></g><g class=c39><circle r=3.02 cx=594.6 cy=409.5 /><circle r=3.02 cx=601 cy=409.5 /><circle r=3.02 cx=600.4 cy=411.3 /><circle r=3.02 cx=606.5 cy=411.5 /><circle r=3.02 cx=612.4 cy=413 /><circle r=3.02 cx=605.6 cy=414.4 /><circle r=3.02 cx=598.5 cy=416.9 /><circle r=3.02 cx=611.5 cy=415 /><circle r=3.02 cx=605.1 cy=416.5 /><circle r=3.02 cx=618.3 cy=417.2 /><circle r=3.02 cx=611.6 cy=417.8 /><circle r=3.02 cx=618.1 cy=419.2 /><circle r=3.02 cx=611.8 cy=420.6 /><circle r=3.02 cx=625.3 cy=420.9 /><circle r=3.02 cx=618 cy=422.7 /></g><g class=c40><circle r=3.02 cx=575 cy=412.1 /><circle r=3.02 cx=588.1 cy=411.6 /><circle r=3.02 cx=580.5 cy=414.4 /><circle r=3.02 cx=587 cy=413.1 /><circle r=3.02 cx=593.4 cy=413.1 /><circle r=3.02 cx=578.8 cy=416.4 /><circle r=3.02 cx=592.4 cy=415.6 /><circle r=3.02 cx=585.6 cy=417.3 /><circle r=3.02 cx=599.5 cy=415.6 /><circle r=3.02 cx=591.9 cy=417.7 /><circle r=3.02 cx=597.4 cy=420.4 /><circle r=3.02 cx=604.4 cy=421.8 /><circle r=3.02 cx=603.8 cy=422.8 /></g><g class=c41><circle r=3.02 cx=558.9 cy=414.9 /><circle r=3.02 cx=550.1 cy=416.5 /><circle r=3.02 cx=566.4 cy=414.7 /><circle r=3.02 cx=572 cy=416.5 /><circle r=3.02 cx=564.7 cy=416.8 /><circle r=3.02 cx=557.3 cy=417.4 /><circle r=3.02 cx=571.7 cy=417.5 /><circle r=3.02 cx=562.5 cy=419.1 /><circle r=3.02 cx=577.7 cy=419.7 /><circle r=3.02 cx=569.5 cy=420.4 /><circle r=3.02 cx=584.2 cy=420.8 /><circle r=3.02 cx=576 cy=421.8 /><circle r=3.02 cx=582.4 cy=422.6 /><circle r=3.02 cx=567.6 cy=424.3 /><circle r=3.02 cx=590.1 cy=423.1 /><circle r=3.02 cx=582.1 cy=424.6 /><circle r=3.02 cx=589.1 cy=424.1 /><circle r=3.02 cx=596.8 cy=425.8 /><circle r=3.02 cx=580.4 cy=428.1 /><circle r=3.02 cx=588 cy=428.3 /><circle r=3.02 cx=595.4 cy=427.6 /></g><g class=c42><circle r=3.02 cx=546.5 cy=421.5 /><circle r=3.02 cx=554.3 cy=421.4 /><circle r=3.02 cx=560 cy=423 /><circle r=3.02 cx=551.4 cy=425.1 /><circle r=3.02 cx=558.2 cy=426 /><circle r=3.02 cx=573.9 cy=426.3 /><circle r=3.02 cx=564.9 cy=428.1 /><circle r=3.02 cx=555.6 cy=430.2 /><circle r=3.02 cx=572.4 cy=428.4 /><circle r=3.02 cx=563 cy=430.8 /></g><g class=c43><circle r=3.02 cx=539.7 cy=421.5 /><circle r=3.02 cx=538.3 cy=422 /><circle r=3.02 cx=544.6 cy=424.4 /><circle r=3.02 cx=541.4 cy=427.5 /><circle r=3.02 cx=548.7 cy=428.9 /><circle r=3.02 cx=545.1 cy=433 /></g><g class=c44><circle r=3.02 cx=529.4 cy=421.9 /><circle r=3.02 cx=533.9 cy=427.4 /><circle r=3.02 cx=381.8 cy=428.8 /><circle r=3.02 cx=529.7 cy=431.7 /><circle r=3.02 cx=537.4 cy=432.5 /></g><g class=c45><circle r=3.02 cx=516.9 cy=426.1 /><circle r=3.02 cx=523.9 cy=427.5 /><circle r=3.02 cx=512.9 cy=429.6 /><circle r=3.02 cx=382.2 cy=431.2 /><circle r=3.02 cx=520.3 cy=431.1 /><circle r=3.02 cx=525.3 cy=436.9 /></g><g class=c46><circle r=3.02 cx=491.3 cy=429 /><circle r=3.02 cx=487.2 cy=430.8 /><circle r=3.02 cx=498.5 cy=431 /><circle r=3.02 cx=508.1 cy=434 /><circle r=3.02 cx=516.2 cy=434.9 /><circle r=3.02 cx=511 cy=439.9 /></g><g class=c47><circle r=3.02 cx=465.3 cy=430.4 /><circle r=3.02 cx=381.5 cy=434.3 /><circle r=3.02 cx=457.9 cy=434.7 /><circle r=3.02 cx=483.1 cy=433.2 /><circle r=3.02 cx=494.1 cy=433.8 /><circle r=3.02 cx=477.1 cy=437.2 /><circle r=3.02 cx=488.9 cy=437.3 /><circle r=3.02 cx=502.8 cy=437.8 /><circle r=3.02 cx=486.1 cy=438.6 /><circle r=3.02 cx=472.4 cy=439.6 /><circle r=3.02 cx=384.2 cy=439.6 /><circle r=3.02 cx=497.3 cy=442.6 /><circle r=3.02 cx=465.7 cy=443 /><circle r=3.02 cx=480.2 cy=442.3 /><circle r=3.02 cx=495.1 cy=442.9 /></g><g class=c48><circle r=3.02 cx=383.9 cy=443.2 /></g><g class=c49><circle r=3.02 cx=442.9 cy=437.2 /><circle r=3.02 cx=382.7 cy=438.4 /><circle r=3.02 cx=447.8 cy=441.8 /></g><g class=c50><circle r=3.02 cx=431.1 cy=444.3 /><circle r=3.02 cx=384.1 cy=447.1 /><circle r=3.02 cx=435.8 cy=449.3 /></g><g class=c51><circle r=3.02 cx=381.9 cy=441.7 /></g><g class=c52><circle r=3.02 cx=399.5 cy=445.5 /><circle r=3.02 cx=383.5 cy=451.2 /><circle r=3.02 cx=419.5 cy=451.4 /><circle r=3.02 cx=409.8 cy=456.1 /></g><g class=c53><circle r=3.02 cx=389.8 cy=450.4 /></g></g><g class=a7><g class=c10><circle r=3.02 cx=563.5 cy=347.5 /></g><g class=c11><circle r=3.02 cx=560.5 cy=350.5 /></g><g class=c14><circle r=3.02 cx=560 cy=360 /></g><g class=c19><circle r=3.02 cx=712.6 cy=374.6 /></g><g class=c20><circle r=3.02 cx=712.6 cy=375.8 /><circle r=3.02 cx=711.9 cy=383.6 /></g><g class=c21><circle r=3.02 cx=713.1 cy=378.1 /><circle r=3.02 cx=711.9 cy=384.4 /></g><g class=c22><circle r=3.02 cx=712.4 cy=379 /><circle r=3.02 cx=711.3 cy=385.8 /></g><g class=c23><circle r=3.02 cx=713 cy=382 /><circle r=3.02 cx=711.6 cy=388.8 /><circle r=3.02 cx=709.7 cy=393.5 /></g><g class=c24><circle r=3.02 cx=713 cy=384.1 /><circle r=3.02 cx=711.6 cy=390.5 /><circle r=3.02 cx=709.4 cy=395.6 /></g><g class=c25><circle r=3.02 cx=711.6 cy=392.5 /><circle r=3.02 cx=709.9 cy=398.3 /></g><g class=c26><circle r=3.02 cx=711.7 cy=395.2 /><circle r=3.02 cx=709.3 cy=400 /></g><g class=c27><circle r=3.02 cx=711.6 cy=397.1 /><circle r=3.02 cx=709.2 cy=401.4 /></g><g class=c28><circle r=3.02 cx=711.1 cy=398.2 /><circle r=3.02 cx=708.9 cy=402.9 /></g><g class=c29><circle r=3.02 cx=709.1 cy=406.1 /></g><g class=c30><circle r=3.02 cx=711.8 cy=401.7 /><circle r=3.02 cx=708.9 cy=408 /></g><g class=c31><circle r=3.02 cx=711.5 cy=403.1 /><circle r=3.02 cx=709.2 cy=410.8 /></g><g class=c32><circle r=3.02 cx=711.5 cy=405.5 /><circle r=3.02 cx=705.5 cy=417.9 /></g><g class=c33><circle r=3.02 cx=711.5 cy=407.5 /><circle r=3.02 cx=709.2 cy=413.4 /><circle r=3.02 cx=706.2 cy=420.7 /></g><g class=c34><circle r=3.02 cx=708.8 cy=415.6 /><circle r=3.02 cx=705.8 cy=423 /></g><g class=c35><circle r=3.02 cx=703.7 cy=413.3 /><circle r=3.02 cx=706.1 cy=414.7 /><circle r=3.02 cx=708.9 cy=416.4 /></g><g class=c36><circle r=3.02 cx=695.9 cy=415.7 /><circle r=3.02 cx=698.5 cy=419 /><circle r=3.02 cx=700.9 cy=421 /><circle r=3.02 cx=703.4 cy=424.2 /><circle r=3.02 cx=705.7 cy=425.5 /></g><g class=c37><circle r=3.02 cx=678.6 cy=419.5 /><circle r=3.02 cx=687.9 cy=419.2 /><circle r=3.02 cx=691.4 cy=423.6 /><circle r=3.02 cx=692.2 cy=423.7 /><circle r=3.02 cx=694.8 cy=427.7 /><circle r=3.02 cx=697.2 cy=431.1 /></g><g class=c38><circle r=3.02 cx=647.2 cy=420.7 /><circle r=3.02 cx=671.5 cy=422.1 /><circle r=3.02 cx=656 cy=422.7 /><circle r=3.02 cx=663.8 cy=423.1 /><circle r=3.02 cx=647.7 cy=423.6 /><circle r=3.02 cx=680.7 cy=422.4 /><circle r=3.02 cx=673.3 cy=424.7 /><circle r=3.02 cx=665.3 cy=425.5 /><circle r=3.02 cx=656.9 cy=426.8 /><circle r=3.02 cx=682.4 cy=424.7 /><circle r=3.02 cx=675 cy=427.7 /><circle r=3.02 cx=666.8 cy=428.5 /><circle r=3.02 cx=658.3 cy=429.3 /><circle r=3.02 cx=684.2 cy=427.1 /><circle r=3.02 cx=676.3 cy=430.8 /><circle r=3.02 cx=686.5 cy=429.9 /><circle r=3.02 cx=689.3 cy=432.9 /></g><g class=c39><circle r=3.02 cx=632.8 cy=424 /><circle r=3.02 cx=625.6 cy=425.7 /><circle r=3.02 cx=640.8 cy=424.6 /><circle r=3.02 cx=632.9 cy=427.2 /><circle r=3.02 cx=641 cy=427.7 /><circle r=3.02 cx=649.5 cy=428.8 /><circle r=3.02 cx=633.8 cy=431.5 /><circle r=3.02 cx=642.1 cy=431.3 /><circle r=3.02 cx=650 cy=430.6 /><circle r=3.02 cx=642.2 cy=432.9 /><circle r=3.02 cx=650.9 cy=432.4 /><circle r=3.02 cx=660.1 cy=432.5 /><circle r=3.02 cx=668.7 cy=433.7 /><circle r=3.02 cx=679.1 cy=433.8 /><circle r=3.02 cx=670.9 cy=436.1 /><circle r=3.02 cx=652 cy=437.1 /><circle r=3.02 cx=661.8 cy=437.1 /></g><g class=c40><circle r=3.02 cx=610.4 cy=427.4 /><circle r=3.02 cx=618 cy=427.4 /><circle r=3.02 cx=610.6 cy=428.7 /><circle r=3.02 cx=625.9 cy=428.9 /><circle r=3.02 cx=626.2 cy=433.1 /><circle r=3.02 cx=634.3 cy=434.3 /><circle r=3.02 cx=625.9 cy=436.9 /><circle r=3.02 cx=634.8 cy=438.2 /><circle r=3.02 cx=644.2 cy=438 /></g><g class=c41><circle r=3.02 cx=603.3 cy=427.3 /><circle r=3.02 cx=587.2 cy=431.3 /><circle r=3.02 cx=594.1 cy=432 /><circle r=3.02 cx=602.1 cy=431.9 /><circle r=3.02 cx=617.5 cy=432.3 /><circle r=3.02 cx=609.6 cy=433.8 /><circle r=3.02 cx=617.6 cy=435.2 /><circle r=3.02 cx=617.8 cy=439.7 /><circle r=3.02 cx=626.2 cy=440.8 /></g><g class=c42><circle r=3.02 cx=570.5 cy=431.8 /><circle r=3.02 cx=578.3 cy=432.6 /><circle r=3.02 cx=568.6 cy=435.1 /><circle r=3.02 cx=585.8 cy=435.3 /><circle r=3.02 cx=577 cy=436.4 /><circle r=3.02 cx=593.5 cy=434.7 /><circle r=3.02 cx=601.5 cy=435.9 /><circle r=3.02 cx=584.4 cy=439.6 /><circle r=3.02 cx=592.9 cy=438.4 /><circle r=3.02 cx=600.8 cy=439.5 /><circle r=3.02 cx=609.6 cy=439.1 /><circle r=3.02 cx=591.1 cy=443.1 /><circle r=3.02 cx=600.4 cy=443.5 /><circle r=3.02 cx=608.7 cy=444.1 /></g><g class=c43><circle r=3.02 cx=552.4 cy=434.7 /><circle r=3.02 cx=559.9 cy=436.1 /><circle r=3.02 cx=550.4 cy=437.5 /><circle r=3.02 cx=558.5 cy=438.3 /><circle r=3.02 cx=566 cy=440.6 /><circle r=3.02 cx=575.4 cy=439.8 /><circle r=3.02 cx=564.3 cy=443.7 /><circle r=3.02 cx=582 cy=443.8 /><circle r=3.02 cx=572.6 cy=444.7 /></g><g class=c44><circle r=3.02 cx=541.1 cy=438.8 /><circle r=3.02 cx=554.1 cy=446.4 /></g><g class=c45><circle r=3.02 cx=533.5 cy=438 /><circle r=3.02 cx=536.1 cy=446 /><circle r=3.02 cx=544.9 cy=446.3 /><circle r=3.02 cx=550.9 cy=451.9 /></g><g class=c46><circle r=3.02 cx=519.9 cy=442.3 /><circle r=3.02 cx=528.3 cy=443.5 /><circle r=3.02 cx=541 cy=451.7 /></g><g class=c47><circle r=3.02 cx=505.6 cy=444.5 /><circle r=3.02 cx=475.1 cy=445.4 /><circle r=3.02 cx=491 cy=445.2 /><circle r=3.02 cx=515.4 cy=447.8 /><circle r=3.02 cx=486 cy=448 /><circle r=3.02 cx=522.4 cy=451.6 /><circle r=3.02 cx=530.4 cy=453.6 /></g><g class=c48><circle r=3.02 cx=501.3 cy=448.4 /><circle r=3.02 cx=468.4 cy=450.2 /><circle r=3.02 cx=496.5 cy=452.9 /><circle r=3.02 cx=510.2 cy=453.7 /><circle r=3.02 cx=479.6 cy=453.2 /><circle r=3.02 cx=492.1 cy=455 /><circle r=3.02 cx=504.9 cy=458.3 /><circle r=3.02 cx=517 cy=457.6 /><circle r=3.02 cx=486.9 cy=458.1 /></g><g class=c49><circle r=3.02 cx=455.6 cy=450.7 /><circle r=3.02 cx=459.8 cy=456.3 /><circle r=3.02 cx=472.1 cy=461.1 /></g><g class=c50><circle r=3.02 cx=445 cy=459.1 /></g><g class=c51><circle r=3.02 cx=426.2 cy=455.4 /><circle r=3.02 cx=390.2 cy=460.9 /><circle r=3.02 cx=446.7 cy=466.7 /></g><g class=c52><circle r=3.02 cx=416.5 cy=461.4 /><circle r=3.02 cx=433.1 cy=467.3 /></g><g class=c53><circle r=3.02 cx=399.6 cy=461.7 /><circle r=3.02 cx=390.4 cy=465.2 /><circle r=3.02 cx=405.3 cy=466.3 /></g><g class=c54><circle r=3.02 cx=394.9 cy=472.7 /><circle r=3.02 cx=399 cy=476.8 /></g></g><g class=a8><g class=c16><circle r=3.02 cx=553 cy=373.3 /></g><g class=c22><circle r=3.02 cx=709.3 cy=392.3 /></g><g class=c23><circle r=3.02 cx=706.6 cy=400.2 /></g><g class=c24><circle r=3.02 cx=705.8 cy=402.4 /><circle r=3.02 cx=701.7 cy=409.7 /></g><g class=c25><circle r=3.02 cx=706.3 cy=405 /><circle r=3.02 cx=702.2 cy=412.1 /></g><g class=c26><circle r=3.02 cx=705.9 cy=406.7 /></g><g class=c27><circle r=3.02 cx=706.1 cy=408.9 /><circle r=3.02 cx=702 cy=414.8 /></g><g class=c28><circle r=3.02 cx=702 cy=417.1 /></g><g class=c29><circle r=3.02 cx=705.6 cy=413.1 /><circle r=3.02 cx=706 cy=411.8 /><circle r=3.02 cx=701.7 cy=418.9 /></g><g class=c30><circle r=3.02 cx=702 cy=421 /></g><g class=c31><circle r=3.02 cx=706 cy=416.1 /><circle r=3.02 cx=701.9 cy=423.2 /><circle r=3.02 cx=696.4 cy=429.6 /></g><g class=c33><circle r=3.02 cx=702 cy=426.4 /><circle r=3.02 cx=696.3 cy=432.2 /></g><g class=c34><circle r=3.02 cx=702.1 cy=427.8 /><circle r=3.02 cx=695.9 cy=435.2 /></g><g class=c35><circle r=3.02 cx=701.6 cy=430.3 /><circle r=3.02 cx=696.7 cy=437.1 /></g><g class=c36><circle r=3.02 cx=701.9 cy=432.4 /><circle r=3.02 cx=696 cy=439.4 /></g><g class=c37><circle r=3.02 cx=701.2 cy=434.7 /><circle r=3.02 cx=696.3 cy=441.2 /></g><g class=c38><circle r=3.02 cx=692.6 cy=438.7 /><circle r=3.02 cx=682.7 cy=439.5 /><circle r=3.02 cx=694.6 cy=441 /></g><g class=c39><circle r=3.02 cx=680.7 cy=437.2 /><circle r=3.02 cx=672.3 cy=440.4 /><circle r=3.02 cx=674 cy=443.3 /><circle r=3.02 cx=664.7 cy=444 /><circle r=3.02 cx=685.2 cy=444 /><circle r=3.02 cx=676.5 cy=447.2 /><circle r=3.02 cx=687.8 cy=448.5 /><circle r=3.02 cx=678.4 cy=450.3 /></g><g class=c40><circle r=3.02 cx=634.9 cy=443 /><circle r=3.02 cx=644 cy=442.1 /><circle r=3.02 cx=653.8 cy=441.6 /><circle r=3.02 cx=663.4 cy=441.7 /><circle r=3.02 cx=645.6 cy=447.2 /><circle r=3.02 cx=654.9 cy=446.2 /><circle r=3.02 cx=666.7 cy=448.7 /><circle r=3.02 cx=645.8 cy=450.5 /><circle r=3.02 cx=656.3 cy=449.8 /><circle r=3.02 cx=647.1 cy=453 /><circle r=3.02 cx=667.2 cy=451.1 /><circle r=3.02 cx=658.3 cy=453.5 /></g><g class=c41><circle r=3.02 cx=626.4 cy=446.3 /><circle r=3.02 cx=626.8 cy=449.5 /><circle r=3.02 cx=636.3 cy=447.9 /><circle r=3.02 cx=636.3 cy=451.9 /><circle r=3.02 cx=636.6 cy=456.8 /></g><g class=c42><circle r=3.02 cx=617.1 cy=444.2 /><circle r=3.02 cx=616.5 cy=448.1 /><circle r=3.02 cx=616.5 cy=453.3 /><circle r=3.02 cx=626.4 cy=456.2 /></g><g class=c43><circle r=3.02 cx=580.2 cy=448.4 /><circle r=3.02 cx=590.1 cy=449.1 /><circle r=3.02 cx=599 cy=448.4 /><circle r=3.02 cx=607.8 cy=447.7 /><circle r=3.02 cx=607.1 cy=450.8 /><circle r=3.02 cx=598.1 cy=453.8 /><circle r=3.02 cx=597 cy=456.8 /><circle r=3.02 cx=607.3 cy=457.4 /><circle r=3.02 cx=617.5 cy=457.5 /></g><g class=c44><circle r=3.02 cx=560.2 cy=451.1 /><circle r=3.02 cx=570.9 cy=449 /><circle r=3.02 cx=569 cy=453 /><circle r=3.02 cx=578.7 cy=453.6 /><circle r=3.02 cx=588.4 cy=452.9 /><circle r=3.02 cx=576.7 cy=457.6 /><circle r=3.02 cx=587.4 cy=456.2 /><circle r=3.02 cx=585.2 cy=461.8 /><circle r=3.02 cx=595.6 cy=463.1 /><circle r=3.02 cx=606.5 cy=462.3 /></g><g class=c45><circle r=3.02 cx=558.5 cy=456.5 /><circle r=3.02 cx=566.5 cy=459.3 /><circle r=3.02 cx=576.6 cy=462.6 /><circle r=3.02 cx=563.2 cy=466.1 /></g><g class=c46><circle r=3.02 cx=547.2 cy=458.6 /><circle r=3.02 cx=553.2 cy=464.9 /></g><g class=c47><circle r=3.02 cx=535.9 cy=461.3 /><circle r=3.02 cx=543.4 cy=464.7 /><circle r=3.02 cx=551.2 cy=470.7 /></g><g class=c48><circle r=3.02 cx=526.1 cy=459.5 /><circle r=3.02 cx=530.4 cy=468.6 /><circle r=3.02 cx=538.4 cy=473.6 /></g><g class=c49><circle r=3.02 cx=500.4 cy=462.9 /><circle r=3.02 cx=510.9 cy=464.9 /><circle r=3.02 cx=480.4 cy=464.7 /><circle r=3.02 cx=494.9 cy=467.9 /><circle r=3.02 cx=521.6 cy=466.1 /><circle r=3.02 cx=506.9 cy=468.8 /></g><g class=c50><circle r=3.02 cx=463 cy=468.3 /><circle r=3.02 cx=472.8 cy=471 /><circle r=3.02 cx=489.9 cy=472.7 /><circle r=3.02 cx=514.2 cy=475.1 /><circle r=3.02 cx=501.4 cy=475.2 /><circle r=3.02 cx=482.9 cy=478.6 /><circle r=3.02 cx=524.6 cy=478 /><circle r=3.02 cx=496 cy=480.7 /></g><g class=c51><circle r=3.02 cx=463.9 cy=479.3 /><circle r=3.02 cx=467.9 cy=482.1 /></g><g class=c52><circle r=3.02 cx=435.8 cy=476.6 /><circle r=3.02 cx=447.9 cy=475.2 /><circle r=3.02 cx=437.3 cy=478.4 /><circle r=3.02 cx=457.6 cy=478.3 /><circle r=3.02 cx=449.4 cy=480.4 /><circle r=3.02 cx=453.5 cy=482.4 /><circle r=3.02 cx=461 cy=481.8 /><circle r=3.02 cx=461.5 cy=482.7 /></g><g class=c53><circle r=3.02 cx=422.9 cy=473.9 /><circle r=3.02 cx=436.7 cy=474.2 /><circle r=3.02 cx=423.2 cy=477.5 /><circle r=3.02 cx=431 cy=476.7 /><circle r=3.02 cx=443.7 cy=479.9 /><circle r=3.02 cx=449.1 cy=481.9 /></g><g class=c54><circle r=3.02 cx=408.4 cy=477.5 /><circle r=3.02 cx=415.6 cy=477.4 /></g></g><g class=a9><g class=c26><circle r=3.02 cx=696.7 cy=419.7 /></g><g class=c27><circle r=3.02 cx=696.6 cy=422.1 /></g><g class=c28><circle r=3.02 cx=690.9 cy=429.8 /></g><g class=c29><circle r=3.02 cx=696.8 cy=424.2 /><circle r=3.02 cx=690 cy=431.9 /></g><g class=c30><circle r=3.02 cx=696.8 cy=426.7 /><circle r=3.02 cx=682.3 cy=439.4 /></g><g class=c31><circle r=3.02 cx=690.3 cy=434.6 /><circle r=3.02 cx=682.9 cy=442 /></g><g class=c32><circle r=3.02 cx=690.5 cy=437 /></g><g class=c33><circle r=3.02 cx=690.3 cy=438.5 /><circle r=3.02 cx=682.4 cy=444.7 /></g><g class=c34><circle r=3.02 cx=682.6 cy=446.9 /></g><g class=c35><circle r=3.02 cx=689.4 cy=442.8 /><circle r=3.02 cx=682.3 cy=449.7 /></g><g class=c36><circle r=3.02 cx=689.6 cy=445.5 /></g><g class=c37><circle r=3.02 cx=682.6 cy=452.5 /></g><g class=c38><circle r=3.02 cx=689.9 cy=448.5 /><circle r=3.02 cx=682 cy=455.3 /></g><g class=c39><circle r=3.02 cx=689.9 cy=450.5 /><circle r=3.02 cx=673.3 cy=462.9 /></g><g class=c40><circle r=3.02 cx=680.2 cy=455.2 /><circle r=3.02 cx=669.8 cy=456 /><circle r=3.02 cx=659.1 cy=457.1 /><circle r=3.02 cx=682 cy=458.2 /><circle r=3.02 cx=671.6 cy=460.9 /><circle r=3.02 cx=661.6 cy=462.2 /><circle r=3.02 cx=673.3 cy=465.2 /></g><g class=c41><circle r=3.02 cx=638.2 cy=460.2 /><circle r=3.02 cx=648.2 cy=459.8 /><circle r=3.02 cx=648.8 cy=464.4 /><circle r=3.02 cx=650 cy=469.3 /><circle r=3.02 cx=661.9 cy=467.6 /></g><g class=c42><circle r=3.02 cx=627.2 cy=463.3 /><circle r=3.02 cx=638.9 cy=466.6 /><circle r=3.02 cx=638.8 cy=472.4 /></g><g class=c43><circle r=3.02 cx=626.5 cy=460.7 /><circle r=3.02 cx=616.8 cy=462.5 /><circle r=3.02 cx=627.4 cy=470.8 /><circle r=3.02 cx=627.1 cy=474.7 /></g><g class=c44><circle r=3.02 cx=595.1 cy=467.2 /><circle r=3.02 cx=605.4 cy=467.5 /><circle r=3.02 cx=616.4 cy=468.8 /><circle r=3.02 cx=594.2 cy=470.1 /><circle r=3.02 cx=604.7 cy=470.9 /><circle r=3.02 cx=615.7 cy=472.5 /><circle r=3.02 cx=604.8 cy=474.5 /></g><g class=c45><circle r=3.02 cx=573.8 cy=466.8 /><circle r=3.02 cx=584.1 cy=468.2 /><circle r=3.02 cx=583.7 cy=471.2 /><circle r=3.02 cx=581.1 cy=477.4 /><circle r=3.02 cx=592.7 cy=476.4 /></g><g class=c46><circle r=3.02 cx=570.4 cy=473.7 /><circle r=3.02 cx=567.9 cy=481.1 /></g><g class=c47><circle r=3.02 cx=559.4 cy=475.6 /></g><g class=c48><circle r=3.02 cx=546.7 cy=479.1 /><circle r=3.02 cx=556.8 cy=482.6 /></g><g class=c49><circle r=3.02 cx=533.1 cy=482.9 /><circle r=3.02 cx=542.8 cy=487.6 /></g><g class=c50><circle r=3.02 cx=491.6 cy=484.5 /></g><g class=c51><circle r=3.02 cx=509.9 cy=481.9 /><circle r=3.02 cx=474.8 cy=486.7 /><circle r=3.02 cx=519.9 cy=485 /><circle r=3.02 cx=505.7 cy=487 /><circle r=3.02 cx=488.1 cy=488.9 /><circle r=3.02 cx=479.7 cy=490.7 /><circle r=3.02 cx=484.9 cy=491.1 /><circle r=3.02 cx=501.6 cy=490.8 /><circle r=3.02 cx=515 cy=491.6 /><circle r=3.02 cx=483.8 cy=492.4 /><circle r=3.02 cx=526.3 cy=493.4 /><circle r=3.02 cx=495.9 cy=495.6 /></g><g class=c52><circle r=3.02 cx=464.9 cy=484.5 /><circle r=3.02 cx=473.9 cy=484 /><circle r=3.02 cx=469.2 cy=486.6 /><circle r=3.02 cx=475.1 cy=488 /></g></g><g class=a10><g class=c31><circle r=3.02 cx=673.8 cy=447.9 /></g><g class=c33><circle r=3.02 cx=673.6 cy=450.9 /><circle r=3.02 cx=663.9 cy=456.8 /></g><g class=c34><circle r=3.02 cx=673.6 cy=454.4 /></g><g class=c35><circle r=3.02 cx=663.7 cy=460.5 /><circle r=3.02 cx=653.2 cy=465.8 /></g><g class=c36><circle r=3.02 cx=672.7 cy=456.4 /><circle r=3.02 cx=663.8 cy=462.7 /></g><g class=c37><circle r=3.02 cx=673.5 cy=459.9 /><circle r=3.02 cx=651.8 cy=470.8 /></g><g class=c38><circle r=3.02 cx=664 cy=465.8 /><circle r=3.02 cx=653.1 cy=471.5 /></g><g class=c39><circle r=3.02 cx=664.2 cy=468.9 /></g><g class=c40><circle r=3.02 cx=652.9 cy=475.4 /><circle r=3.02 cx=640.5 cy=481.6 /></g><g class=c41><circle r=3.02 cx=664 cy=471.2 /><circle r=3.02 cx=652.7 cy=478.1 /></g><g class=c42><circle r=3.02 cx=652 cy=475.1 /><circle r=3.02 cx=640.9 cy=484.2 /></g><g class=c43><circle r=3.02 cx=639.9 cy=479 /><circle r=3.02 cx=641.5 cy=485.4 /></g><g class=c44><circle r=3.02 cx=616 cy=477.8 /><circle r=3.02 cx=615.1 cy=482.6 /><circle r=3.02 cx=628 cy=481.9 /><circle r=3.02 cx=628.1 cy=487.1 /></g><g class=c45><circle r=3.02 cx=580 cy=481.8 /><circle r=3.02 cx=590.5 cy=482.4 /><circle r=3.02 cx=603.5 cy=482.4 /><circle r=3.02 cx=603.4 cy=485.8 /><circle r=3.02 cx=590.2 cy=486.8 /><circle r=3.02 cx=602.2 cy=490.7 /><circle r=3.02 cx=614.4 cy=491.2 /><circle r=3.02 cx=588.4 cy=493.2 /></g><g class=c46><circle r=3.02 cx=576.6 cy=490.1 /></g><g class=c47><circle r=3.02 cx=565.3 cy=486.5 /><circle r=3.02 cx=574.1 cy=498.1 /></g><g class=c48><circle r=3.02 cx=553.7 cy=489.2 /><circle r=3.02 cx=562.3 cy=497.3 /></g><g class=c49><circle r=3.02 cx=548.9 cy=499.1 /></g><g class=c50><circle r=3.02 cx=537.1 cy=496.9 /></g><g class=c51><circle r=3.02 cx=523 cy=498.8 /><circle r=3.02 cx=532.4 cy=505.4 /></g><g class=c52><circle r=3.02 cx=509.6 cy=499.3 /><circle r=3.02 cx=485.6 cy=498.6 /><circle r=3.02 cx=489.7 cy=502.3 /><circle r=3.02 cx=505.4 cy=503.7 /><circle r=3.02 cx=518.2 cy=506 /><circle r=3.02 cx=501.1 cy=506.2 /><circle r=3.02 cx=513.9 cy=511.1 /></g><g class=c53><circle r=3.02 cx=481.6 cy=512.3 /></g></g><g class=a11><g class=c37><circle r=3.02 cx=509.2 cy=480.8 /><circle r=3.02 cx=641.4 cy=475.4 /></g><g class=c39><circle r=3.02 cx=640.6 cy=478.9 /><circle r=3.02 cx=510 cy=489.5 /><circle r=3.02 cx=513 cy=491.5 /><circle r=3.02 cx=628.9 cy=482.7 /></g><g class=c40><circle r=3.02 cx=516 cy=494.5 /><circle r=3.02 cx=614.7 cy=488.8 /></g><g class=c41><circle r=3.02 cx=628.1 cy=486.1 /><circle r=3.02 cx=600.6 cy=493.8 /></g><g class=c42><circle r=3.02 cx=628.3 cy=489.1 /><circle r=3.02 cx=614.8 cy=492 /><circle r=3.02 cx=585.8 cy=497.7 /></g><g class=c43><circle r=3.02 cx=600.4 cy=497.5 /><circle r=3.02 cx=571.2 cy=502 /></g><g class=c44><circle r=3.02 cx=627.7 cy=492.7 /><circle r=3.02 cx=614.4 cy=495.3 /><circle r=3.02 cx=585.8 cy=501.2 /><circle r=3.02 cx=524.5 cy=504.1 /><circle r=3.02 cx=554.7 cy=504.2 /><circle r=3.02 cx=539.2 cy=505.1 /></g><g class=c45><circle r=3.02 cx=615 cy=496.5 /><circle r=3.02 cx=601 cy=498.4 /><circle r=3.02 cx=600.7 cy=500.5 /><circle r=3.02 cx=493.7 cy=502.7 /><circle r=3.02 cx=508.8 cy=503.5 /><circle r=3.02 cx=571.3 cy=505.5 /></g><g class=c46><circle r=3.02 cx=586.9 cy=501.8 /><circle r=3.02 cx=586.1 cy=504.6 /><circle r=3.02 cx=523.5 cy=509 /><circle r=3.02 cx=555.1 cy=507.2 /><circle r=3.02 cx=538.9 cy=508.2 /></g><g class=c47><circle r=3.02 cx=492.4 cy=508 /><circle r=3.02 cx=508.6 cy=507.2 /><circle r=3.02 cx=570.5 cy=508.8 /><circle r=3.02 cx=555.6 cy=511.2 /></g><g class=c48><circle r=3.02 cx=524.7 cy=511.7 /><circle r=3.02 cx=539.6 cy=512 /></g><g class=c49><circle r=3.02 cx=557.6 cy=508.4 /><circle r=3.02 cx=494.4 cy=510.6 /><circle r=3.02 cx=509.1 cy=511.6 /><circle r=3.02 cx=570.1 cy=512.6 /><circle r=3.02 cx=540 cy=515.1 /><circle r=3.02 cx=554.1 cy=515.5 /></g><g class=c50><circle r=3.02 cx=545 cy=508.5 /><circle r=3.02 cx=479.2 cy=509.2 /><circle r=3.02 cx=524 cy=515.5 /></g><g class=c51><circle r=3.02 cx=493.5 cy=514.6 /><circle r=3.02 cx=508.3 cy=515.6 /><circle r=3.02 cx=539.6 cy=519.6 /></g><g class=c52><circle r=3.02 cx=479 cy=513 /><circle r=3.02 cx=528.6 cy=512.9 /><circle r=3.02 cx=495.9 cy=514.6 /><circle r=3.02 cx=509.3 cy=516.9 /><circle r=3.02 cx=524.1 cy=518.1 /></g></g>
<polygon points="286.2,801 286.2,767 287.2,763.3 288.2,756.7 291.2,753.3 292.8,747.9 296.6,744.2 297.4,740 302,737.9 302.4,733.3 304.5,730.8 309.9,729.8 317.8,725 325.3,720.4 333.7,717.7 342,716.1 353.7,715.5 367,716 375.3,719 383.7,722.9 392,727.5 396.2,730.8 396.8,734.2 396,735.8 400.3,740.8 405.3,749.2 410.3,756.7 412.8,764.2 414.3,770 415.4,778 415.7,786.7 415,794 413.7,800 413.2,801" fill="#90ee90"/>
<rect x="286.5" y="669.5" width="132" height="132" fill="none" stroke="#000" stroke-width="1.11"/>
<path d="M676 801.5V796H700V801.5zM700 801.5V779H724V801.5zM724 801.5V783H748V801.5zM748 801.5V786H773V801.5zM773 801.5V789H797V801.5zM797 801.5V738H821V801.5zM821 801.5V675H845V801.5zM845 801.5V779H870V801.5zM870 801.5V790H894V801.5zM894 801.5V798H918V801.5z" fill="#0000ff"/>
<rect x="676.5" y="669.5" width="404" height="132" fill="none" stroke="#000" stroke-width="1.11"/>
<path d="M294.5 801v5.4M287 794.5h-5.4M352.5 801v5.4M287 735.5h-5.4M411.5 801v5.4M287 676.5h-5.4M676.5 801v5.4M733.5 801v5.4M791.5 801v5.4M849.5 801v5.4M907.5 801v5.4M964.5 801v5.4M1022.5 801v5.4M1080.5 801v5.4M677 801.5h-5.4M677 766.5h-5.4M677 731.5h-5.4M677 697.5h-5.4" stroke="#000" stroke-width="1.11" fill="none"/>
<rect x="787.6" y="115.7" width="84.5" height="24.4" rx="2.8" fill="#fff" fill-opacity="0.8" stroke="#ccc" stroke-opacity="0.8" stroke-width="1.39"/>
<rect x="431.7" y="676.8" width="85.5" height="45.2" rx="2.8" fill="#fff" fill-opacity="0.8" stroke="#ccc" stroke-opacity="0.8" stroke-width="1.39"/>
<rect x="977.2" y="676.8" width="95.9" height="24.3" rx="2.8" fill="#fff" fill-opacity="0.8" stroke="#ccc" stroke-opacity="0.8" stroke-width="1.39"/>
<circle cx="806" cy="127.8" r="2.95" style="stroke-width:1.39px" fill="#3b528b" stroke="#3b528b"/>
<circle cx="451.2" cy="689.5" r="4.17" style="stroke-width:1.39px" fill="#90ee90" stroke="#90ee90"/>
<circle cx="451.2" cy="710.4" r="4.17" style="stroke-width:1.39px" fill="#0000ff" stroke="#0000ff"/>
<rect x="983" y="683" width="28" height="10" fill="#0000ff"/>
<text x="615" y="99.7" font-size="17" textLength="277" lengthAdjust="spacingAndGlyphs" text-anchor="middle">LiDAR Point 3D Coordinate Graph</text>
<text transform="translate(508 586.9) rotate(-342)" x="0" y="3.6" font-size="14.2" textLength="45.9" lengthAdjust="spacingAndGlyphs" text-anchor="middle">X (cm)</text>
<text x="416.7" y="538.7" font-size="14.2" textLength="37.9" lengthAdjust="spacingAndGlyphs" text-anchor="middle">−400</text>
<text x="468.1" y="555.6" font-size="14.2" textLength="37.9" lengthAdjust="spacingAndGlyphs" text-anchor="middle">−200</text>
<text x="520.3" y="572.8" font-size="14.2" textLength="8.8" lengthAdjust="spacingAndGlyphs" text-anchor="middle">0</text>
<text x="573.6" y="590.3" font-size="14.2" textLength="26.2" lengthAdjust="spacingAndGlyphs" text-anchor="middle">200</text>
<text x="627.9" y="608.2" font-size="14.2" textLength="26.2" lengthAdjust="spacingAndGlyphs" text-anchor="middle">400</text>
<text transform="translate(814.7 540.6) rotate(-45.6)" x="0" y="3.6" font-size="14.2" textLength="44.8" lengthAdjust="spacingAndGlyphs" text-anchor="middle">Y (cm)</text>
<text x="736.8" y="591.5" font-size="14.2" textLength="37.9" lengthAdjust="spacingAndGlyphs" text-anchor="middle">−400</text>
<text x="765.7" y="561.3" font-size="14.2" textLength="37.9" lengthAdjust="spacingAndGlyphs" text-anchor="middle">−200</text>
<text x="793.8" y="532.1" font-size="14.2" textLength="8.8" lengthAdjust="spacingAndGlyphs" text-anchor="middle">0</text>
<text x="820.9" y="503.8" font-size="14.2" textLength="26.2" lengthAdjust="spacingAndGlyphs" text-anchor="middle">200</text>
<text x="847.3" y="476.3" font-size="14.2" textLength="26.2" lengthAdjust="spacingAndGlyphs" text-anchor="middle">400</text>
<text transform="translate(915.9 325.4) rotate(-87.3)" x="0" y="3.6" font-size="14.2" textLength="46.8" lengthAdjust="spacingAndGlyphs" text-anchor="middle">H (cm)</text>
<text x="889.5" y="249" font-size="14.2" textLength="8.8" lengthAdjust="spacingAndGlyphs" text-anchor="middle">0</text>
<text x="888.1" y="275.5" font-size="14.2" textLength="26.4" lengthAdjust="spacingAndGlyphs" text-anchor="middle">100</text>
<text x="886.7" y="301.8" font-size="14.2" textLength="26.2" lengthAdjust="spacingAndGlyphs" text-anchor="middle">200</text>
<text x="885.3" y="327.7" font-size="14.2" textLength="26.2" lengthAdjust="spacingAndGlyphs" text-anchor="middle">300</text>
<text x="884" y="353.4" font-size="14.2" textLength="26.2" lengthAdjust="spacingAndGlyphs" text-anchor="middle">400</text>
<text x="882.6" y="378.8" font-size="14.2" textLength="26.2" lengthAdjust="spacingAndGlyphs" text-anchor="middle">500</text>
<text x="881.3" y="404" font-size="14.2" textLength="26.4" lengthAdjust="spacingAndGlyphs" text-anchor="middle">600</text>
<text x="880" y="428.9" font-size="14.2" textLength="26.2" lengthAdjust="spacingAndGlyphs" text-anchor="middle">700</text>
<text x="352.2" y="660.7" font-size="17" textLength="277" lengthAdjust="spacingAndGlyphs" text-anchor="middle">LiDAR Point 2D Coordinate Graph</text>
<text x="352.2" y="841.3" font-size="14.2" textLength="45.9" lengthAdjust="spacingAndGlyphs" text-anchor="middle">X (cm)</text>
<text x="293.7" y="821.7" font-size="14.2" textLength="37.9" lengthAdjust="spacingAndGlyphs" text-anchor="middle">−500</text>
<text x="352.2" y="821.7" font-size="14.2" textLength="8.8" lengthAdjust="spacingAndGlyphs" text-anchor="middle">0</text>
<text x="410.7" y="821.7" font-size="14.2" textLength="26.2" lengthAdjust="spacingAndGlyphs" text-anchor="middle">500</text>
<text transform="translate(230 735) rotate(-90)" font-size="14.2" textLength="44.8" lengthAdjust="spacingAndGlyphs" text-anchor="middle">Y (cm)</text>
<text x="257.5" y="799" font-size="14.2" textLength="37.9" lengthAdjust="spacingAndGlyphs" text-anchor="middle">−500</text>
<text x="272.1" y="740.5" font-size="14.2" textLength="8.8" lengthAdjust="spacingAndGlyphs" text-anchor="middle">0</text>
<text x="263.3" y="682" font-size="14.2" textLength="26.2" lengthAdjust="spacingAndGlyphs" text-anchor="middle">500</text>
<text x="877.8" y="660.7" font-size="17" textLength="146.4" lengthAdjust="spacingAndGlyphs" text-anchor="middle">Height Histogram</text>
<text x="675.7" y="821.7" font-size="14.2" textLength="8.8" lengthAdjust="spacingAndGlyphs" text-anchor="middle">0</text>
<text x="733.4" y="821.7" font-size="14.2" textLength="26.4" lengthAdjust="spacingAndGlyphs" text-anchor="middle">100</text>
<text x="791.2" y="821.7" font-size="14.2" textLength="26.2" lengthAdjust="spacingAndGlyphs" text-anchor="middle">200</text>
<text x="848.9" y="821.7" font-size="14.2" textLength="26.2" lengthAdjust="spacingAndGlyphs" text-anchor="middle">300</text>
<text x="906.7" y="821.7" font-size="14.2" textLength="26.2" lengthAdjust="spacingAndGlyphs" text-anchor="middle">400</text>
<text x="964.5" y="821.7" font-size="14.2" textLength="26.2" lengthAdjust="spacingAndGlyphs" text-anchor="middle">500</text>
<text x="1022.2" y="821.7" font-size="14.2" textLength="26.4" lengthAdjust="spacingAndGlyphs" text-anchor="middle">600</text>
<text x="1080" y="821.7" font-size="14.2" textLength="26.2" lengthAdjust="spacingAndGlyphs" text-anchor="middle">700</text>
<text x="661.6" y="806.5" font-size="14.2" textLength="8.8" lengthAdjust="spacingAndGlyphs" text-anchor="middle">0</text>
<text x="648.4" y="771.6" font-size="14.2" textLength="35.1" lengthAdjust="spacingAndGlyphs" text-anchor="middle">1000</text>
<text x="648.4" y="736.7" font-size="14.2" textLength="35" lengthAdjust="spacingAndGlyphs" text-anchor="middle">2000</text>
<text x="648.4" y="701.8" font-size="14.2" textLength="35" lengthAdjust="spacingAndGlyphs" text-anchor="middle">3000</text>
<text x="848.8" y="131.5" font-size="14.2" textLength="35.5" lengthAdjust="spacingAndGlyphs" text-anchor="middle">point</text>
<text x="493.9" y="692.5" font-size="14.2" textLength="35.5" lengthAdjust="spacingAndGlyphs" text-anchor="middle">point</text>
<text x="490" y="713.4" font-size="14.2" textLength="27.8" lengthAdjust="spacingAndGlyphs" text-anchor="middle">wall</text>
<text x="1044.6" y="692.5" font-size="14.2" textLength="45.9" lengthAdjust="spacingAndGlyphs" text-anchor="middle">Height</text>
</svg></body></html>
